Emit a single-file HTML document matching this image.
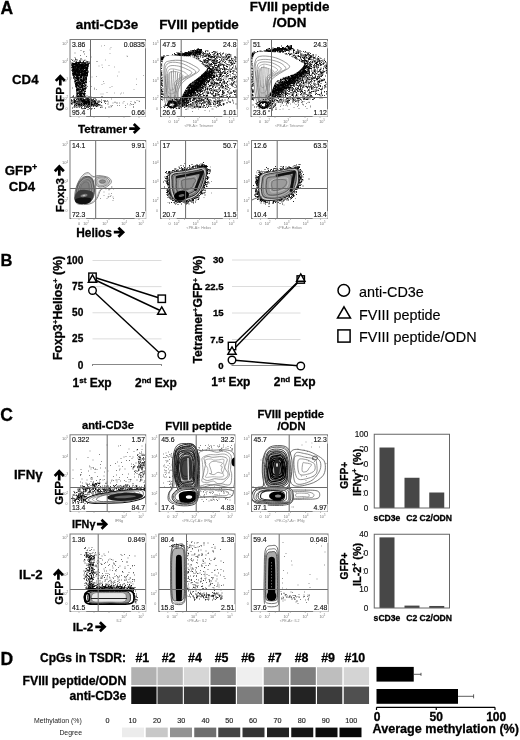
<!DOCTYPE html>
<html><head><meta charset="utf-8"><style>
html,body{margin:0;padding:0;background:#fff;}
svg{display:block;font-family:"Liberation Sans", sans-serif;filter:blur(0.35px);}
</style></head><body>
<svg width="520" height="740" viewBox="0 0 520 740">
<rect width="520" height="740" fill="#fff"/>
<text x="0.5" y="13.8" font-size="17.5" font-weight="bold" text-anchor="start" fill="#000" stroke="#000" stroke-width="0.3" >A</text>
<text x="0.5" y="265.6" font-size="16.5" font-weight="bold" text-anchor="start" fill="#000" stroke="#000" stroke-width="0.3" >B</text>
<text x="0.3" y="420.8" font-size="17.5" font-weight="bold" text-anchor="start" fill="#000" stroke="#000" stroke-width="0.3" >C</text>
<text x="0.5" y="665.4" font-size="17.5" font-weight="bold" text-anchor="start" fill="#000" stroke="#000" stroke-width="0.3" >D</text>
<text x="107" y="29.3" font-size="13.4" font-weight="bold" text-anchor="middle" fill="#000" stroke="#000" stroke-width="0.3" >anti-CD3e</text>
<text x="199" y="29.1" font-size="13.4" font-weight="bold" text-anchor="middle" fill="#000" stroke="#000" stroke-width="0.3" >FVIII peptide</text>
<text x="289.6" y="11.2" font-size="13.4" font-weight="bold" text-anchor="middle" fill="#000" stroke="#000" stroke-width="0.3" >FVIII peptide</text>
<text x="289.6" y="26.9" font-size="13.4" font-weight="bold" text-anchor="middle" fill="#000" stroke="#000" stroke-width="0.3" >/ODN</text>
<text x="25.3" y="83.9" font-size="13.2" font-weight="bold" text-anchor="middle" fill="#000" stroke="#000" stroke-width="0.3" >CD4</text>
<text x="21" y="175" font-size="13.2" font-weight="bold" text-anchor="middle" fill="#000" stroke="#000" stroke-width="0.3" >GFP<tspan font-size="9" dy="-5">+</tspan></text>
<text x="22" y="191" font-size="13.2" font-weight="bold" text-anchor="middle" fill="#000" stroke="#000" stroke-width="0.3" >CD4</text>
<text x="108" y="429.3" font-size="11.1" font-weight="bold" text-anchor="middle" fill="#000" stroke="#000" stroke-width="0.3" >anti-CD3e</text>
<text x="198.6" y="429.6" font-size="11.2" font-weight="bold" text-anchor="middle" fill="#000" stroke="#000" stroke-width="0.3" >FVIII peptide</text>
<text x="290.8" y="417.5" font-size="11.2" font-weight="bold" text-anchor="middle" fill="#000" stroke="#000" stroke-width="0.3" >FVIII peptide</text>
<text x="291.5" y="429.6" font-size="11.2" font-weight="bold" text-anchor="middle" fill="#000" stroke="#000" stroke-width="0.3" >/ODN</text>
<text x="28.2" y="478.8" font-size="13.2" font-weight="bold" text-anchor="middle" fill="#000" stroke="#000" stroke-width="0.3" >IFN&#947;</text>
<text x="30.8" y="579.2" font-size="13.2" font-weight="bold" text-anchor="middle" fill="#000" stroke="#000" stroke-width="0.3" >IL-2</text>
<defs><clipPath id="cla11"><rect x="70" y="39.5" width="75.5" height="77.0"/></clipPath><clipPath id="cla12"><rect x="160.5" y="39.5" width="76.69999999999999" height="77.0"/></clipPath><clipPath id="cla13"><rect x="251" y="39.5" width="76.5" height="77.0"/></clipPath><clipPath id="cla21"><rect x="70" y="140.5" width="75.69999999999999" height="78.0"/></clipPath><clipPath id="cla22"><rect x="160.5" y="140.5" width="76.69999999999999" height="78.0"/></clipPath><clipPath id="cla23"><rect x="251.5" y="140.5" width="76.0" height="78.0"/></clipPath><clipPath id="clc11"><rect x="70" y="434.8" width="75.69999999999999" height="76.69999999999999"/></clipPath><clipPath id="clc12"><rect x="159.2" y="434.8" width="75.70000000000002" height="76.69999999999999"/></clipPath><clipPath id="clc13"><rect x="251.5" y="434.8" width="76.0" height="76.69999999999999"/></clipPath><clipPath id="clc21"><rect x="70" y="534" width="75.69999999999999" height="77.5"/></clipPath><clipPath id="clc22"><rect x="158.8" y="534" width="76.19999999999999" height="77.5"/></clipPath><clipPath id="clc23"><rect x="251.3" y="534" width="76.69999999999999" height="77.5"/></clipPath></defs>
<g clip-path="url(#cla11)"><path d="M73.5 68.5h0m6.5 14h0m1.5 -5.5h0m0.5 -7.5h0m-4 -3.5h0m2 22h0m3 -21h0m-7 18h0m-2 -11.5h0m11 5.5h0m-2 10h0m-3 -16.5h0m5.5 -4.5h0m-4.5 4h0m-6 9.5h0m6 -9.5h0m-1.5 -5h0m-2 -2.5h0m4 9.5h0m-6 10h0m9.5 -6h0m-5.5 4h0m-3.5 -8h0m10.5 -9h0m-7.5 24h0m4 0.5h0m-8 -24h0m2.5 2.5h0m2 13h0m4 9h0m-6 -13.5h0m11 -10.5h0m-9 9h0m3.5 3.5h0m3 3.5h0m-4.5 4h0m-5 0h0m0.5 10h0m9 -27h0m-6.5 2h0m-6 -1.5h0m10.5 11h0m-9 -11.5h0m6.5 22.5h0m5 -27h0m-14.5 6h0m13 9h0m-10.5 -16h0m-1.5 3.5h0m3.5 9h0m7.5 18h0m-4 -11.5h0m-5 -8h0m2 1h0m0.5 -4.5h0m1.5 -5h0m-2 20h0m7 -19.5h0m-12 -2h0m6.5 22h0m-3 -11.5h0m10.5 13.5h0m-2 -10.5h0m-3 -6h0m1.5 9h0m1 2.5h0m1.5 -16h0m-11 0.5h0m8 28.5h0m-3 -27h0m6 -6h0m1.5 6h0m-2 4h0m-7 12h0m-2 -4h0m2 -9h0m-5 -2.5h0m14 6h0m-4 10.5h0m-8.5 -19.5h0m6 17.5h0m2 -16h0m-1 18h0m1.5 -15.5h0m-5.5 26h0m5.5 -13.5h0m-5 11h0m-0.5 -24h0m1 26h0m9 -31.5h0m-14 6h0m8 -5.5h0m6 4h0m-3.5 20.5h0m1.5 -18.5h0m-2 -9h0m-3.5 22h0m5.5 -9h0m-1.5 19h0m1.5 -31.5h0m-0.5 31.5h0m0.5 -29h0m-11 -0.5h0m4 23.5h0m2 -18h0m-3.5 16h0m5.5 5h0m-0.5 -25.5h0m-6 7.5h0m6.5 20.5h0m-4.5 -15h0m6.5 -11.5h0m-7.5 -2.5h0m8.5 1.5h0m-6.5 -0.5h0m2.5 8.5h0m2 15h0m-2.5 -11.5h0m-4.5 -12.5h0m1 12.5h0m4 7h0m4 -4h0m0 -18h0m-2.5 26.5h0m2 -1.5h0m-8 -10.5h0m6 16h0m-5 -28h0m6.5 23h0m-6 -5.5h0m8.5 -18.5h0m-3.5 32h0m1 -33.5h0m-3 5.5h0m4 12h0m-6 2h0m2 -14h0m-8.5 3.5h0m8.5 22.5h0m4.5 -21h0m-2 4.5h0m1.5 -12h0m-5 16h0m6.5 -11.5h0m-8.5 4.5h0m4 21.5h0m-3 -7h0m0 -19.5h0m7 -5.5h0m-12 9h0m8 7.5h0m-3.5 -9.5h0m2 18.5h0m-0.5 -19h0m-6 -4.5h0m6 17h0m-5.5 -14h0m-2 1.5h0m7 -8h0m-7 1h0m8 20.5h0m-2 -21h0m-3.5 0h0m8.5 17h0m-3 -1h0m4 -6h0m-5.5 14h0m-0.5 -18.5h0m5.5 2.5h0m-11 -2.5h0m1 7.5h0m3.5 3h0m2.5 8h0m-7.5 -14h0m2.5 -3.5h0m3 16h0m6 -23h0m-2 5.5h0m-10 -4.5h0m0.5 1.5h0m6.5 23h0m7.5 -10h0m-9 18h0m9 -28h0m-8 28h0m5.5 -23.5h0m-6.5 -8.5h0m-3.5 14h0m7.5 3h0m1.5 1h0m2.5 -10h0m1.5 -4.5h0m-8 6h0m8 -5.5h0m-0.5 4h0m-5 4.5h0m1.5 -10.5h0m-5 19h0m-3.5 -11h0m2 6h0m7.5 -4.5h0m-7 -10h0m6.5 22h0m-3.5 -6h0m-1 15h0m1 -20h0m-6 0.5h0m6 -7h0m-3 5.5h0m-2.5 -9.5h0m7 15.5h0m-3 -4.5h0m-5 -14h0m-1.5 6.5h0m6 6h0m3.5 5h0m-1 -15.5h0m7 8.5h0m-2.5 -9.5h0m-5.5 2.5h0m1 22h0m-2 -8h0m0 -14h0m-6.5 1h0m13 23.5h0m-9.5 -5.5h0m4 -19h0m4 30h0m-4.5 -26h0m-1.5 3.5h0m5 -4h0m-1 11h0m-1 -5h0m-2 2h0m6.5 0h0m-13 -11h0m9.5 -3h0m-3.5 3.5h0m-1 1.5h0m4 -2.5h0m-3.5 8h0m4 -1h0m-3.5 12h0m-1 7h0m1 -12.5h0m-5.5 -14h0m8.5 1.5h0m1 19.5h0m2 1.5h0m-6.5 -6.5h0m5 7.5h0m-3.5 -4h0m-4 -4.5h0m9 -12.5h0m3.5 -1.5h0m-2 5.5h0m1.5 2.5h0m-8.5 18h0m4.5 -18h0m-4 21.5h0m1 -3h0m4.5 -25.5h0m-1.5 4.5h0m-10.5 -4h0m11.5 7h0m-1 17h0m-4.5 -10h0m-2 -19h0m9 13.5h0m-10 -5h0m-3.5 -7h0m13.5 13.5h0m-9 4.5h0m5 -11.5h0m-5 22h0m1.5 1h0m0 -16.5h0m-1.5 -4h0m-0.5 -0.5h0m7 2.5h0m-6.5 15.5h0m1.5 -14h0m5.5 0.5h0m1.5 6h0m-3 6h0m-7.5 -16.5h0m10 -1.5h0m-1 1.5h0m3 7h0m-1.5 10h0m-6.5 -28.5h0m5 19.5h0m-2 -6.5h0m1.5 3.5h0m-5 1.5h0m-0.5 4h0m4 -20h0m-2 25.5h0m4 -8.5h0m4 -9.5h0m-9.5 4h0m0 13.5h0m9.5 -17h0m-9.5 9h0m7 -13h0m-12 3h0m6 2h0m1.5 -6.5h0m5 22h0m1 -11h0m-12.5 -3.5h0m8 8.5h0m0 -13h0m-8 7.5h0m11.5 4.5h0m-4.5 2h0m-0.5 9h0m-3.5 3h0m5.5 -14h0m-0.5 14.5h0m-2 -1h0m-3 -10h0m3 -18.5h0m-2 18h0m8.5 -4h0m-7 6h0m0 -15.5h0m-3.5 3h0m1 -2.5h0m9.5 7h0m-5 7h0m6.5 -15h0m-13.5 5.5h0m10 12h0m-3.5 6h0m2.5 -13h0m0.5 14.5h0m-5 -24h0m3.5 11.5h0m-10.5 -18.5h0m11 25h0m-3.5 1h0m6 -4h0m-8 2.5h0m-3.5 -20.5h0m13.5 -4.5h0m-10 14h0m4.5 18h0m-3 -18.5h0m5 17h0m1 -22.5h0m-7 -5.5h0m2.5 9.5h0m-5 4.5h0m1 -5.5h0m0.5 14.5h0m4.5 -13h0m-4.5 -4.5h0m0 16.5h0m8.5 -24h0m-13 0.5h0m10 -2.5h0m1.5 3.5h0m4 6h0m-1 -8.5h0m-11.5 14h0m5 -0.5h0m2.5 -9h0m2 28h0m-9.5 -26h0m4 23.5h0m-3 -6.5h0m5 3h0m3.5 3h0m2 -26.5h0m-10 -2h0m2 1h0m1.5 29.5h0m1 -15h0m2 -12.5h0m-0.5 -2h0m-0.5 22.5h0m0.5 0.5h0m-3 4h0m5.5 -12h0m-6.5 -1.5h0m7.5 -14.5h0m-9.5 4.5h0m5 3h0m4 10h0m-2.5 -18h0m-1.5 23h0m-9 -18h0m8 16h0m6.5 -11.5h0m-4.5 -7.5h0m-6 13h0m2 0.5h0m0.5 -7h0m0 -7h0m2.5 4h0m4.5 -2.5h0m-9 9h0m10 -8h0m-13.5 10h0m13.5 -12.5h0m-10 4.5h0m8.5 -6h0m-10.5 17.5h0m-1 -9.5h0m9.5 23.5h0m0.5 -21h0m2.5 -8h0m1.5 -2.5h0m-7.5 7h0m-7 6h0m4 1h0m-1 -7h0m3 22.5h0m1.5 -8h0m2.5 -15.5h0m1.5 -3h0m2 0h0m-5 17.5h0m1.5 -2.5h0m-2.5 -12.5h0m-9 -4.5h0m12 13.5h0m0.5 15h0m-5.5 -10.5h0m1.5 2h0m-2 -15h0m-3 13h0m0.5 -0.5h0m1 13h0m6 -14h0m-9 -8.5h0m4.5 3.5h0m3 4.5h0m-7 -2h0m0 -15.5h0m0 5h0m4.5 -2h0m3 25h0m-5 -4h0m-4.5 -16h0m3 -4h0m3.5 -4h0m4 5.5h0m-8.5 -3h0m-3 1h0m7 -3.5h0m-1.5 13h0m5.5 -8.5h0m-7 -4.5h0m7 5h0m-2 20.5h0m-0.5 -9h0m6.5 -14.5h0m-12 9h0m6 2h0m0 11.5h0m0.5 -7.5h0m3 -10.5h0m-1 10.5h0m-2 -9h0m-5 12.5h0m1 -2h0m8.5 -12.5h0m-2.5 15.5h0m1 6.5h0m-8 -13.5h0m2 -11.5h0m3 13.5h0m4.5 5.5h0m-1.5 -20.5h0m-8.5 9.5h0m7.5 18.5h0m-10 -22.5h0m7 -9h0m-7 11.5h0m7 14h0m0 0h0m-3 4.5h0m0 -22.5h0m6 13.5h0m-4 -18.5h0m-1 5.5h0m-5 -6.5h0m3 21h0m1.5 -1h0m8.5 -10h0m-11.5 8.5h0m8.5 -13h0m-7 18h0m11 -22.5h0m-10 10.5h0m6.5 -6.5h0m-0.5 9h0m-8.5 -8h0m11 -5.5h0m-9 14h0m-3.5 -2h0m5.5 -13.5h0m3.5 22h0m-6.5 -21h0m10 15.5h0m-10 -16.5h0m0 16.5h0m-2 -14.5h0m5 25.5h0m-1.5 -18.5h0m0.5 7h0m8 9h0m-4.5 2.5h0m0.5 -14.5h0m-4 -11.5h0m2 7h0m4 -7.5h0m-2 29.5h0m-3 -28h0m-3 -1.5h0m8.5 19h0m0.5 -11.5h0m-9.5 0.5h0m3.5 17.5h0m-3.5 -18.5h0m10 4.5h0m-5 14.5h0m-5.5 -16.5h0m3 -9h0m5 22.5h0m1 -20h0m-7.5 17.5h0m8 -9h0m-4 5h0m4.5 10h0m-4 6h0m-7.5 -22h0m13.5 -9h0m-3 10h0m-3 8.5h0m-4 -12.5h0m4.5 -3.5h0m-3.5 2h0m-5.5 -3h0m2 6h0m1 -1h0m7 -5.5h0m-1 26h0m0 -19.5h0m4 9.5h0m-12.5 -6.5h0m5 -11h0m-5 -1h0m5.5 23h0m-5 -18h0m4.5 5.5h0m6.5 6h0m-8 -10.5h0m7.5 13h0m-7.5 -14h0m3 26.5h0m-0.5 1.5h0m2.5 0h0m4 -32h0m-0.5 6h0m-4 13.5h0m0.5 9.5h0m-5.5 -8h0m5 -17h0m-0.5 8.5h0m6.5 -4.5h0m-5.5 6.5h0m-6 -12h0m7.5 14.5h0m-1.5 -1.5h0m-1.5 -4.5h0m2 16.5h0m-1 -17.5h0m-4 16h0m5.5 -26h0m-3 1.5h0m-0.5 26h0m2 -22.5h0m2 5.5h0m-9.5 -8.5h0m8 27h0m-6 -22h0m3.5 6.5h0m0 7.5h0m8.5 -21.5h0m-12 16.5h0m6.5 -15.5h0m-6.5 5.5h0m6 20.5h0m-4 -7h0m-0.5 6.5h0m2.5 -4.5h0m2 -0.5h0m0 -14.5h0m1.5 16h0m-7 -20.5h0m0 7.5h0m1 -6.5h0m5 19h0m-3.5 -14.5h0m-1.5 -9h0m4.5 32h0m-1 1h0m2.5 -6h0m-1 5h0m-4.5 -5h0m-4.5 -24h0m10 7.5h0m-4 10.5h0m3 -10.5h0m-4 19.5h0m-4.5 -29h0m7.5 2.5h0m5 7.5h0m-1 17.5h0m-7 -29h0m2.5 29h0m0 5h0m7.5 -32.5h0m-11.5 21.5h0m2 -19h0m6.5 25h0m-1 -25.5h0m-5.5 9.5h0m4 0h0m-4 -8.5h0m-5 8.5h0m8.5 6.5h0m-3 -3.5h0m-2.5 2h0m4 11.5h0m-5 -26h0m2.5 22h0m1.5 6.5h0m-3.5 -18.5h0m4.5 19h0m5.5 -16.5h0m-3 1.5h0m4 -3.5h0m-2.5 10h0m-1.5 -5.5h0m-4 12h0m5 -29h0m-1.5 3.5h0m-5.5 11h0m-2 4.5h0m12.5 -15h0m-10.5 22h0m6 -19h0m-7.5 -6.5h0m9.5 20.5h0m-6 12h0m5.5 -8.5h0m2.5 -17.5h0m-10.5 -8h0m10 14.5h0m-10.5 -3.5h0m1 6.5h0m-3 -17h0m7 1h0m0 18.5h0m-6.5 -15h0m9.5 0.5h0m-10.5 1.5h0m8 9.5h0m3.5 -15.5h0m-0.5 31.5h0m-0.5 -2.5h0m-1 -20.5h0m-2.5 -10h0m-3 17h0m-3 -11.5h0m11.5 7.5h0m-7.5 0.5h0m4 -3h0m-5 3h0m-4.5 -10h0m4.5 16.5h0m6.5 11h0m-6.5 -23.5h0m5.5 10h0m-9.5 -4.5h0m4.5 10.5h0m0.5 -13h0m1.5 -2h0m3.5 20h0m2 -5.5h0m-5.5 -21.5h0m-2.5 13.5h0m3.5 6.5h0m-8 -17.5h0m11 31h0m-5.5 -11h0m0 -4h0m1.5 12h0m5.5 -19.5h0m-1 19.5h0m-10 -14.5h0m2 9.5h0m7.5 -18h0m-5.5 7.5h0m-2.5 2.5h0m1.5 -3.5h0m3.5 15h0m6.5 -27h0m-12.5 3.5h0m12 -1.5h0m-0.5 0.5h0m-2.5 14.5h0m-1 -17.5h0m0 20.5h0m-2 7h0m0.5 2h0m-6.5 -31h0m6 6.5h0m2 7h0m-3 -15h0m3 23.5h0m-3.5 -8h0m5.5 -1h0m-1 -9.5h0m-11 -3h0m11.5 29h0m-8 -10.5h0m-3.5 -8.5h0m4 -8.5h0m3.5 10h0m-3.5 -11.5h0m7.5 29h0m-6.5 -21.5h0m5 -2h0m-5.5 26.5h0m8.5 -22.5h0m-3.5 13h0m0.5 -6h0m-10 -6.5h0m11.5 9h0m-0.5 -3.5h0m2 -0.5h0m-1.5 13.5h0m-5.5 -17.5h0m6.5 -9.5h0m-13 -2.5h0m9 32.5h0m-1 -17h0m5 -8h0m-10 -8h0m4 29h0m-3 -25h0m2 22.5h0m3.5 -24.5h0m1 20h0m-4.5 -18h0m0 23h0m1 2h0m2 -15.5h0m-3.5 -5.5h0m2 10.5h0m2.5 5.5h0m-1.5 -9h0m-3 5.5h0m9 -10.5h0m-11 -2.5h0m-2 2h0m4 17.5h0m-0.5 6.5h0m0 -23h0m8.5 11.5h0m-9.5 -2.5h0m2.5 10.5h0m-1.5 3.5h0m7 -19.5h0m-4.5 15h0m-4 -21.5h0m1.5 23h0m4 -27h0m-6 -2.5h0m0.5 -1h0m-1.5 1.5h0m1.5 1h0m10 5h0m-1 1.5h0m-7.5 18.5h0m6.5 -25h0m2 3.5h0m-5 17.5h0m3 -3h0m-8.5 -5.5h0m9.5 -1h0m0.5 11.5h0m-7 -9h0m3.5 -14h0m0.5 3h0m-2 14h0m-1.5 -18.5h0m-1 29.5h0m9.5 -25h0m-11.5 18.5h0m2 -9h0m-1.5 13h0m5 -22.5h0m0.5 4.5h0m0 23.5h0m0.5 -15.5h0m-0.5 -1.5h0m0.5 2h0m-1 6h0m-3 -3.5h0m-3 0.5h0m11 -2h0m-10.5 -12h0m9 -1.5h0m-0.5 2h0m1.5 3h0m-3 6.5h0m-4.5 10.5h0m1 -16.5h0m1.5 9h0m0.5 -6h0m3 7.5h0m-4.5 -18.5h0m2.5 19h0m-2.5 -1.5h0m3.5 -4.5h0m-9.5 -4h0m2.5 0.5h0m8 -7.5h0m1 2h0m-8.5 23.5h0m6 -26.5h0m1.5 5.5h0m-5 -4.5h0m3 15.5h0m4.5 -11.5h0m-0.5 1h0m-13 -9h0m10 25h0m1 5.5h0m2.5 -28h0m-8.5 12.5h0m1 13.5h0m-1.5 -18.5h0m0 -10.5h0m7 25h0m-2.5 -2h0m0.5 -11h0m-0.5 21h0m-4.5 -14h0m8 -18h0m-3.5 31h0m2.5 1h0m-3 -29h0m3 21.5h0m-1.5 -13.5h0m2.5 7h0m2 -16.5h0m-4 8h0m1.5 -0.5h0m1.5 -11h0m-11.5 9h0m1 3.5h0m-2.5 -0.5h0m8.5 15h0m2.5 6h0m-1 -16.5h0m-1 4h0m-4.5 -3.5h0m3.5 -16.5h0m4 2.5h0m-2.5 24.5h0m3 -21.5h0m-4.5 13h0m-1 -18h0m0.5 21h0m-5 -15h0m10 1h0m-11 6.5h0m-1.5 -9.5h0m3 20.5h0m0.5 -23h0m9 14h0m-4 6h0m-4.5 -4h0m-5 -15h0m10.5 24h0m-3.5 4h0m-4.5 -10.5h0m1 -1h0m7.5 -7h0m4 -8h0m-12 15.5h0m4.5 10h0m-3.5 -30.5h0" stroke="#000" stroke-width="1.0" stroke-linecap="square" opacity="0.9" fill="none"/><path d="M77 76h0m3 -7h0m1.5 6h0m-5.5 -2h0m6 -6.5h0m-8 3h0m7 -2.5h0m-7.5 8h0m5 -8h0m5.5 7.5h0m-8.5 -7h0m-1 7h0m4.5 -1.5h0m-6 -6h0m6 5.5h0m-2.5 -1h0m9 -3.5h0m1 8h0m-2 -0.5h0m-1.5 -3.5h0m-1.5 3h0m-8.5 -7h0m9.5 -2h0m-4 2h0m-2 3h0m5 4h0m-5.5 -1h0m6 0h0m2.5 0.5h0m-10.5 -3.5h0m-1.5 -1h0m2.5 -0.5h0m0 -3h0m6 0.5h0m2 3h0m4 0h0m-13.5 0.5h0m6.5 -1h0m3 4.5h0m-4 -8h0m-6 0h0m0.5 9h0m4 -3.5h0m-3 -2h0m13 -0.5h0m-5 -1h0m-9 2.5h0m9.5 3.5h0m-2.5 -9.5h0m5 11h0m-10.5 -9h0m2.5 3.5h0m2.5 4h0m0.5 -8.5h0m-6 6.5h0m11 -0.5h0m-11 -1h0m5 3.5h0m2 -8.5h0m-2.5 1h0m-1.5 8.5h0m6.5 0.5h0m-3.5 -10h0m3 6.5h0m1 -7h0m2.5 10h0m-7 0.5h0m-1 -3h0m8 -2.5h0m-0.5 0.5h0m-11 3.5h0m11.5 0h0m-4.5 0.5h0m-2 -0.5h0m-6.5 -7.5h0m0.5 0h0m12 6h0m-9.5 -2h0m3 5h0m-1 -11h0m-0.5 4.5h0m0.5 5.5h0m-2.5 -5h0m10.5 -4h0m-6.5 2.5h0m-3.5 7.5h0m-1.5 -2h0m9.5 0.5h0m0 -7h0m0.5 6.5h0m-3.5 -9.5h0m-4.5 2.5h0m-2 5h0m2.5 0.5h0m-4.5 -2.5h0m3 6h0m1 -7h0m-3.5 -1h0m0.5 -1h0m-0.5 6.5h0m4.5 1h0m9 0h0m0.5 -2.5h0m-14.5 -7h0m8.5 4.5h0m1 -1.5h0m-0.5 -3h0m-2 8h0m-4 -5.5h0m3 4h0m3.5 -4h0m2 0.5h0m-11.5 -0.5h0m1.5 4h0m12 -0.5h0m-8 5h0m7 -4.5h0m-4.5 0.5h0m-5 3h0m7 0h0m-5.5 -4h0m-3.5 1h0m10 -3h0m-9.5 1.5h0m12.5 0h0m-12 0.5h0m2 -3.5h0m7.5 4h0m1 -3.5h0m-7.5 0h0m3.5 0h0m5.5 6h0m-10.5 -8.5h0m-0.5 11h0m-3 -10h0m10 5.5h0m0 -4.5h0m-9.5 5h0m10 2.5h0m-7 -5.5h0m3.5 0.5h0m1 6.5h0m0 -5h0m-0.5 -2.5h0m-2.5 -1.5h0m5 7h0m-8 -1.5h0m11 -5h0m-8 2.5h0m6.5 -4.5h0m-3 8h0m-2.5 1.5h0m0.5 -2.5h0m0.5 0h0m-1.5 -7h0m2.5 9.5h0m-1.5 -4h0m6 4h0m-9.5 -2h0m8 1.5h0m-5.5 -1h0m7 -0.5h0m-0.5 -2h0m-12.5 -3.5h0m14.5 -0.5h0m-2 8h0m-2.5 -1.5h0m-8 -6.5h0m10.5 -1.5h0m-3.5 9h0m-6 -10.5h0m6.5 7.5h0m-8.5 1h0m9.5 -3.5h0m-8.5 6h0m2 -3h0m1 0.5h0m4 -2h0m1 -5.5h0m-4 9.5h0m-2.5 -9h0m-3 2h0m4.5 4.5h0m7 0h0m2.5 3h0m-0.5 0.5h0m-13.5 -0.5h0m0.5 -1.5h0m4 -5h0m3 4h0m-8 -6.5h0m0.5 2h0m12 8h0m-6.5 -1h0m6 -9h0m-1.5 5h0m1 -5h0m-5.5 6.5h0m8.5 2.5h0m-13.5 -6h0m2.5 -5h0m6 4h0m-6.5 -3h0m10 4.5h0m-0.5 4h0m-0.5 2.5h0m1.5 -8.5h0m-4 -1.5h0m-7.5 -1.5h0m2.5 3h0m1 -1h0m4 8h0m1 -7h0m0.5 -1.5h0m-7.5 0h0m10.5 6.5h0m-6 -3.5h0m-5.5 -0.5h0m12 4h0m-4.5 -1h0" stroke="#000" stroke-width="1.0" stroke-linecap="square" opacity="0.9" fill="none"/><path d="M72.5 63h0m2.5 -2.5h0m9.5 4.5h0m-1.5 0.5h0m1.5 -5h0m1 2.5h0m-3.5 3h0m0 0h0m-1.5 -4h0m-4 0.5h0m-5 0.5h0m8 -1h0m-10.5 -3.5h0m14.5 2.5h0m3.5 0.5h0m-5 -1.5h0m-5 2.5h0m6 4h0m2 -6.5h0m-5 2.5h0m-3 1.5h0m11 -2h0m-2.5 4h0m-11 0.5h0m14 -3h0m0 0h0m-2.5 1h0m-10.5 -1h0m3.5 -1.5h0m-5 -0.5h0m0 4h0m-4 -2.5h0m7 -2.5h0m6.5 1h0m2.5 1h0m-4.5 0h0m2 2.5h0m-5.5 -2h0m11 -1h0m0 0h0m-12 -2.5h0m-1 0h0m1 5h0m2.5 -2.5h0m-4.5 -0.5h0m-2.5 -1h0m17 3h0m-14 1h0m12 -3h0m-8 -1h0m-7.5 5.5h0m25 -4.5h0m-25 4.5h0m13.5 -2h0m2 -1.5h0m-6 2h0m-3 -0.5h0m0.5 0h0m2 -5h0m-0.5 1h0m-5 -0.5h0m8.5 3h0m-6 3h0m5.5 -3h0m-14 2h0m9 -2h0m5 -1h0m-4 3.5h0m3.5 -3h0m4.5 3.5h0m2 -2.5h0m-8.5 2h0m1 -1.5h0m-2.5 -1h0m-3 -1h0m5.5 1h0m-9 0.5h0m15.5 2.5h0m-18.5 -4h0m14 1.5h0m-3.5 -0.5h0m0 -1.5h0m5.5 0h0m-6.5 5h0m6 -3h0m-5.5 -1h0m-2.5 0.5h0m9 -0.5h0m-3.5 2h0m-1 -1.5h0" stroke="#000" stroke-width="1.0" stroke-linecap="square" opacity="0.6" fill="none"/><path d="M84 75h0m-2.5 -0.5h0m-0.5 6h0m-3 8.5h0m-8 -9.5h0m14 -13h0m0.5 20h0m-6.5 6h0m1.5 -5.5h0m2.5 -20h0m-6 7h0m8 7.5h0m0 -0.5h0m1 -12.5h0m0 6h0m-14 3.5h0m12 3h0m-4.5 14.5h0m7.5 -8h0m0 -5.5h0m-1.5 -15.5h0m-4.5 0.5h0m14.5 22h0m-14 -6h0m-5 3.5h0m10 -16.5h0m-12 25.5h0m16.5 -14h0m-4.5 1.5h0m2 3.5h0m-1.5 -1.5h0m-3.5 4.5h0m-8.5 -17h0m3.5 -4.5h0m6 10.5h0m-4 11h0m3 -1h0m-5 -11h0m-0.5 11h0m5 1h0m2.5 0.5h0m-4 5h0m-4.5 -15h0m-3.5 8h0m18 5.5h0m-15.5 -19h0m1.5 21h0m0.5 -19.5h0m8 10h0m-8 -16h0" stroke="#000" stroke-width="1.0" stroke-linecap="square" opacity="0.5" fill="none"/><path d="M75 53h0m-2 7h0m11.5 -6h0m-13 5.5h0m9.5 -1h0m5.5 -2h0m-10 5.5h0m-1.5 -4.5h0m16 -0.5h0m-15.5 1.5h0m8 -6.5h0m-3 3.5h0m9.5 -5.5h0m-6 1.5h0m-3 -1h0" stroke="#000" stroke-width="1.0" stroke-linecap="square" opacity="0.5" fill="none"/><path d="M88 101h0m-1 2.5h0m-10.5 -4.5h0m1.5 3.5h0m-3 1.5h0m13.5 0h0m-15.5 -7.5h0m14 10h0m-7 -2.5h0m0.5 -3h0m7 0h0m-1 6h0m-5 0.5h0m-6.5 -2.5h0m7 4h0m0.5 -8.5h0m8.5 -2h0m-6.5 2h0m5 2h0m-2.5 0h0m-11 -5.5h0m16 6h0m-16 -1.5h0m11.5 -3h0m7 3.5h0m-14.5 4h0m3 -6h0m4 3.5h0m1 -3.5h0m-12 4h0m3.5 -7h0m-0.5 7h0m-1 2h0m1.5 -3.5h0m-6.5 -2h0m8 3.5h0m2 1.5h0m-2 -5.5h0m1 0.5h0m2.5 1h0m0.5 -1.5h0m4 3.5h0m3 -1.5h0m-13 1h0m0.5 -3h0m2.5 2.5h0m-3.5 -1h0m-2 1.5h0m-2 4h0m7.5 -2h0m-6.5 -1.5h0m6 1.5h0m5.5 -7h0m1.5 0.5h0m1 4h0m-14 2h0m6.5 -4.5h0m-4 3.5h0m-3.5 -3h0m17.5 0h0m-8 3h0m3.5 1.5h0m1 -4.5h0m3.5 2.5h0m-16.5 1h0m17.5 -3h0m-8 -1h0m-6 3h0m6 0.5h0m-2 5.5h0m-7 -11.5h0m9 5.5h0m-11 4h0m4 -8h0m6.5 5h0m10.5 -5.5h0m-20 3.5h0m4.5 0.5h0m-1.5 -4h0m1.5 6h0m7 -3.5h0m-1.5 2.5h0m-5.5 -2h0m3 8.5h0m0.5 -10h0m-2 1h0m7.5 -4h0m-12.5 7.5h0m8.5 -2h0m1.5 -3.5h0m-2 0.5h0m-9 4.5h0m2.5 -2.5h0m8 -1.5h0m0 8.5h0m-4.5 -3.5h0m5.5 -6h0m-12 3.5h0m9 1.5h0m1 2h0m-4.5 0h0m5 -2h0m-4 1h0m-3 -0.5h0m10.5 -3.5h0m-11.5 -0.5h0m5 3h0m5 4h0m4 -4h0m-11 -4h0m6.5 4.5h0m-6 -2h0m1 -6h0m0.5 7.5h0m-0.5 -3.5h0m1 4h0m9.5 1.5h0m-6.5 -3h0m-11 -1h0m0 1h0m13.5 3h0m-1 -3h0m0.5 -0.5h0m-16.5 1h0m11.5 -5h0m-3.5 -2h0m0.5 9.5h0m-1 0.5h0m5 -5.5h0m-11.5 4h0m14 -6h0m-6 7h0m-2 -2h0m-6.5 -3.5h0m14.5 -0.5h0m-12 -0.5h0m6 -0.5h0m1.5 5.5h0m9 -2.5h0m0.5 2.5h0m-10 0h0m9.5 2.5h0m-4 -4h0m0.5 0.5h0m-4 0h0m9 -3.5h0m-10.5 0h0m5.5 6h0m2.5 -4h0m-7 3h0m0.5 -1h0m0 0h0m-1.5 0h0m-7.5 -2h0m1 1h0m3 1.5h0m11 -4.5h0m-11 4h0m12 1h0m-5.5 -2h0m-5 1h0m5.5 -0.5h0m-6 -4.5h0m-1.5 3h0m-2 2h0m-1.5 -1.5h0m10 2.5h0m-0.5 1h0m-4.5 -5h0m9 0h0m-6.5 -2.5h0m7 6.5h0m-10.5 -6.5h0m5.5 5.5h0m5 4h0m-5 -5.5h0m-2.5 0h0m-6.5 -2h0m7 -2h0m-6.5 8h0m3.5 -1.5h0m9.5 -2h0m-1.5 -0.5h0m-9 0.5h0m5 0.5h0m0 -1.5h0m5.5 0.5h0m-8 3h0m-3.5 -2.5h0m14 0h0m-0.5 -0.5h0m-10.5 0h0m-0.5 -0.5h0m1 3h0m4.5 -2.5h0m-6.5 9h0m3 -4.5h0m-5.5 -6h0m13.5 -1h0m-12.5 3h0m1.5 -0.5h0m5 3h0m0 -1.5h0m6.5 3h0m-9 -8.5h0m-4 7.5h0m3 -4.5h0m0 6h0m3 -5.5h0m-4 -2h0m19.5 3h0m-15 -0.5h0m5 -2h0m-16.5 1h0m12.5 7.5h0m-2 -8h0m-1 0h0m-3 2.5h0m6 -2h0m4.5 1.5h0m-5.5 -1h0m1.5 2h0m1.5 -3h0m0 0.5h0m-3 3.5h0m7.5 -3h0m-14.5 1.5h0m13 -1h0m6.5 -4.5h0m-5 8h0m-2 -5h0m1.5 5h0m-1 -3.5h0m-8 4h0m3 -4.5h0m-6.5 2h0m-2.5 0.5h0m8 -5.5h0m2 7.5h0m-1.5 -7h0m-4.5 6h0m-4 -3.5h0m13.5 0.5h0m-9.5 3h0m12 -1.5h0m-16 -5h0m6 -0.5h0m1 7h0m2 -4h0m0.5 3h0m3.5 5.5h0m-4 -9h0m-7.5 -1h0m9.5 4h0m-1 -0.5h0m6 2.5h0m-3 -4.5h0m-7.5 -2h0m-2 4h0m-3 -2h0m18 1h0m-19.5 -2.5h0m8 5.5h0m0 0h0m2 -5.5h0m4 2h0m4.5 -0.5h0m-11 0h0m-0.5 3h0m0 1.5h0m3.5 1.5h0m-2 -1h0m6.5 -3.5h0m7.5 4h0m-11 -4.5h0m-3.5 0h0m2 -2.5h0m-1.5 1.5h0m9 3.5h0m0 4.5h0m-6.5 -1h0m-0.5 -3.5h0m-7.5 -1.5h0m13.5 1h0m-10 -1.5h0m-2 -1.5h0m-4 4.5h0m14 -3h0m-13.5 -0.5h0m18.5 -3h0m-14 2.5h0m7.5 -2h0m-3 1h0m-3.5 -1h0m5 2h0m-6.5 4h0m5.5 3.5h0m0.5 -6h0m-2 7h0m6.5 -8h0m-5.5 -0.5h0m2 0h0m-6.5 2.5h0m10.5 1h0m-3.5 -2h0m-5 1h0m10.5 0.5h0m-19 -1.5h0m8 1.5h0m1 -7h0m-4.5 4.5h0m3.5 3.5h0m0.5 -4.5h0m0 1.5h0m6 -2.5h0m-1 3h0m9.5 -3.5h0m-18 2h0m7 0h0m1.5 0h0m3 2.5h0m-16.5 -1.5h0m3 0h0m6 6h0m-1 -10h0m2 1h0m9.5 5h0m-1.5 -3h0m-14.5 2h0m-2 -3.5h0m3.5 2h0m-4.5 -5h0m16.5 4h0m-9 3h0m3.5 -3h0m-5 6h0m9.5 -2.5h0m2.5 -7h0m-8.5 4.5h0m-11.5 1.5h0m14.5 0h0m-14 -1.5h0m11.5 0h0m0.5 2h0m6.5 -0.5h0m6.5 -0.5h0m-13 1.5h0m-2 -2.5h0m7.5 -5h0m-17 11h0m14 -4h0m-2.5 -0.5h0m-7 -1.5h0m-0.5 3.5h0m9.5 -2h0m-1.5 -1h0m-8.5 4.5h0m10 -5h0m-0.5 4h0m3.5 -1.5h0m-2 -2.5h0m3 3h0m-2 -5.5h0m-2 5h0m1 -8.5h0m-15 7.5h0m5 0h0m5 1.5h0m-3 -5h0m6.5 2h0m-10 -4.5h0m24.5 4h0m-19 -4h0m-4.5 4.5h0m7.5 2.5h0m-6 -0.5h0m10.5 -2.5h0m-6.5 -3.5h0m-4.5 1h0m8.5 3h0m5 1h0m-4 1h0m-3.5 -4h0m8 2.5h0m-19.5 -1.5h0m4 5h0m12 0.5h0m6.5 -5.5h0m-23 -1h0m13 -4.5h0m-5.5 9.5h0m-1.5 -2.5h0m-0.5 5h0" stroke="#000" stroke-width="1.0" stroke-linecap="square" opacity="0.85" fill="none"/><path d="M104.5 101h0m-14.5 2.5h0m8 0.5h0m-0.5 1.5h0m3 2h0m-5 -5.5h0m-1 6.5h0m4.5 -3.5h0m3 1h0m5 -4.5h0m-11 3.5h0m3 -2.5h0m-12.5 0h0m4.5 0.5h0m9.5 2h0m-11.5 -3.5h0m6.5 4.5h0m-1 -2h0m-7.5 -2h0m3.5 1.5h0m2.5 -2.5h0m-4 2.5h0m2 2.5h0m4 -3.5h0m4 -2h0m0 1h0m-1 0h0m-8.5 -2.5h0m5 5h0m-7.5 3h0m7 -6.5h0m10.5 1.5h0m-2.5 -5.5h0m3.5 7h0m-11.5 0.5h0m-6 1h0m8.5 -1h0m-5.5 -3.5h0m5 4.5h0m-1 -2.5h0m-3.5 2h0m10 -2h0m-12 6h0m-3.5 -5h0m7.5 2.5h0m0 -6.5h0m-5 4h0m5.5 -2h0m-3 -2h0m-4.5 2h0m4 1h0m-2.5 4h0m-3 -1.5h0m12 1.5h0m4.5 -6.5h0m-5.5 5h0m3 -0.5h0m-7.5 1.5h0m2 -4h0m2 0h0m-4.5 1.5h0m17 0.5h0m-13 -2h0m1 -1.5h0m1 3.5h0m-2 0h0m-1.5 0.5h0m3.5 0h0m-2.5 0.5h0m-1 1h0m0.5 0h0m1.5 -3h0m-6.5 1.5h0m7 -1h0m0.5 0h0m-7 -3h0m8 3h0m4.5 4h0m-3.5 -3h0m-1 -1h0m-6.5 -6.5h0m7.5 7.5h0m-4 -1h0m5 1.5h0m-4 -2.5h0m2 2.5h0m8 -4h0m-8.5 0h0m-5 7.5h0m0.5 -5.5h0m-1 2h0m0.5 -5.5h0m3 5.5h0m-1 -1.5h0m-3 -2.5h0m3.5 -0.5h0m-2.5 0.5h0m1 4h0m1 0.5h0m2 -2.5h0m-6.5 0.5h0m-1 1.5h0m-1 -5h0m2.5 -0.5h0m5 2h0m-3 3h0m-9 -2h0m13 3h0m-1 -4h0m4 3.5h0m6.5 3h0m-12.5 -2h0m2.5 -5h0m2.5 5h0m-16 0h0m8 0.5h0m5.5 -3h0m6 -1h0m3.5 -1.5h0m-14 -0.5h0" stroke="#000" stroke-width="1.0" stroke-linecap="square" opacity="0.7" fill="none"/><path d="M108.5 107h0m6.5 -5h0m2 0.5h0m2.5 3h0m15 -3.5h0m-15 1h0m-8 -4h0m14 6.5h0m6 -1h0m-7.5 -3h0m13 -1h0m2 0.5h0m-9 4h0m5.5 -2.5h0m-32 -2h0m19.5 2.5h0m-22 3h0m10 1h0m14.5 0.5h0m2 -3.5h0m5.5 0.5h0m0.5 0h0m-22.5 1h0m6.5 0h0m13.5 -4h0m-22.5 0.5h0m26.5 1h0m-33.5 2.5h0m13.5 -3h0m-13.5 -0.5h0m10 4.5h0m22 1h0m6 -6h0m-22.5 2h0m-7.5 3.5h0m3.5 -4h0m20.5 3.5h0m-26 -6h0m23 3h0m-18 2h0" stroke="#444" stroke-width="1.0" stroke-linecap="square" opacity="0.55" fill="none"/><path d="M136.5 79h0m-19 -3h0m-7.5 -22.5h0m-7.5 14h0m19 25.5h0m-20.5 1h0m9 -45h0m-15.5 39h0m32.5 -32h0m-3.5 37h0m4 -36.5h0m9 28h0m-16 9.5h0m-9.5 -46.5h0m-6.5 -2h0m14.5 26.5h0m-4.5 -5h0m0 26h0m-9 -33h0m-4 -14h0m32.5 43.5h0m9.5 -14h0" stroke="#666" stroke-width="1.0" stroke-linecap="square" opacity="0.5" fill="none"/><path d="M102 84.5h0m2 -1h0m6 4h0m-13.5 -11h0m0 13h0m15.5 -3h0m-10 -21.5h0m-10.5 21.5h0m15.5 6h0m-4 1.5h0m-11 -17h0m7 -11h0m4.5 15.5h0m5.5 -16h0" stroke="#555" stroke-width="1.0" stroke-linecap="square" opacity="0.5" fill="none"/><ellipse cx="79" cy="104.5" rx="4" ry="2.6" fill="none" stroke="#999" stroke-width="0.8" opacity="1" transform="rotate(0 79 104.5)"/><ellipse cx="79" cy="104.5" rx="2" ry="1.4" fill="none" stroke="#777" stroke-width="0.7" opacity="1" transform="rotate(0 79 104.5)"/></g>
<line x1="90.5" y1="39.5" x2="90.5" y2="116.5" stroke="#6a6a6a" stroke-width="1" />
<line x1="70" y1="97.5" x2="145.5" y2="97.5" stroke="#6a6a6a" stroke-width="1" />
<rect x="70" y="39.5" width="75.5" height="77.0" fill="none" stroke="#7a7a7a" stroke-width="1" />
<rect x="71.2" y="40.9" width="15.0" height="7.4" fill="#fff" stroke="none" stroke-width="1" />
<text x="72.0" y="47.1" font-size="7.5" font-weight="normal" text-anchor="start" fill="#111" stroke="#111" stroke-width="0.15" textLength="13.4" lengthAdjust="spacingAndGlyphs">3.86</text>
<rect x="122.9" y="40.9" width="22.7" height="7.4" fill="#fff" stroke="none" stroke-width="1" />
<text x="144.8" y="47.1" font-size="7.5" font-weight="normal" text-anchor="end" fill="#111" stroke="#111" stroke-width="0.15" textLength="21.1" lengthAdjust="spacingAndGlyphs">0.0835</text>
<rect x="71.2" y="109.2" width="15.0" height="7.4" fill="#fff" stroke="none" stroke-width="1" />
<text x="72.0" y="115.4" font-size="7.5" font-weight="normal" text-anchor="start" fill="#111" stroke="#111" stroke-width="0.15" textLength="13.4" lengthAdjust="spacingAndGlyphs">95.4</text>
<rect x="130.6" y="109.2" width="15.0" height="7.4" fill="#fff" stroke="none" stroke-width="1" />
<text x="144.8" y="115.4" font-size="7.5" font-weight="normal" text-anchor="end" fill="#111" stroke="#111" stroke-width="0.15" textLength="13.4" lengthAdjust="spacingAndGlyphs">0.66</text>
<text x="68" y="44.5" font-size="4.0" font-weight="normal" text-anchor="end" fill="#777" >10<tspan font-size="2.8" dy="-1.6">5</tspan></text>
<text x="68" y="63.029411764705884" font-size="4.0" font-weight="normal" text-anchor="end" fill="#777" >10<tspan font-size="2.8" dy="-1.6">4</tspan></text>
<text x="68" y="81.55882352941177" font-size="4.0" font-weight="normal" text-anchor="end" fill="#777" >10<tspan font-size="2.8" dy="-1.6">3</tspan></text>
<text x="68" y="100.08823529411765" font-size="4.0" font-weight="normal" text-anchor="end" fill="#777" >10<tspan font-size="2.8" dy="-1.6">2</tspan></text>
<text x="67.5" y="109.5" font-size="3.6" font-weight="normal" text-anchor="end" fill="#888" >0</text>
<line x1="79" y1="116.5" x2="79" y2="118.0" stroke="#999" stroke-width="0.6" />
<line x1="94" y1="116.5" x2="94" y2="118.0" stroke="#999" stroke-width="0.6" />
<line x1="109" y1="116.5" x2="109" y2="118.0" stroke="#999" stroke-width="0.6" />
<line x1="124" y1="116.5" x2="124" y2="118.0" stroke="#999" stroke-width="0.6" />
<line x1="139" y1="116.5" x2="139" y2="118.0" stroke="#999" stroke-width="0.6" />
<g clip-path="url(#cla12)"><path d="M205 85h0m9 -21.5h0m4 -1h0m3 -7.5h0m-21 35h0m14.5 -14.5h0m-23.5 16h0m0.5 -25h0m15.5 2h0m2.5 -15.5h0m-8 52h0m20 -25h0m-48.5 -16h0m20.5 26.5h0m21 -8.5h0m-41.5 -19h0m20 14h0m16 -12.5h0m-32 23h0m33 -2h0m23.5 5h0m-2 -26h0m-29 16.5h0m20.5 -23h0m-42.5 32.5h0m-2 5h0m-0.5 -8.5h0m59 10h0m-29.5 -34.5h0m6 15h0m-29.5 -21.5h0m-13.5 26h0m9.5 -0.5h0m5.5 -3.5h0m-1 4.5h0m20.5 1h0m-17.5 -6h0m-0.5 -12h0m-1.5 25.5h0m-6 9h0m39 -20.5h0m-16.5 -5.5h0m7.5 -6h0m-13.5 31.5h0m4 -45h0m-10.5 37h0m9.5 2h0m6.5 -42h0m-29.5 20h0m13.5 24.5h0m-4 1h0m-9.5 -17h0m12.5 -8.5h0m13 2h0m-13 27.5h0m24 -34.5h0m14 0h0m-10 28.5h0m-34.5 9.5h0m15.5 -14h0m-21.5 1.5h0m11 -8.5h0m22 -15.5h0m-17 8h0m7 -2.5h0m-12.5 7.5h0m27 -10h0m-9.5 3.5h0m-20 2h0m32 -13h0m-20 4.5h0m-11.5 20.5h0m40 -19.5h0m-17.5 2h0m-31 -8h0m7.5 30h0m40 -21.5h0m-25.5 -12.5h0m-9 12.5h0m-7.5 -2.5h0m40.5 18h0m-21.5 -10.5h0m6 1h0m17 9h0m-12 -15.5h0m-7.5 21.5h0m-18.5 -13h0m39 -17h0m-49 2.5h0m27 28.5h0m-17 -0.5h0m32.5 -25h0m13 3.5h0m-28 -14h0m-7.5 14.5h0m27.5 24h0m-34 -10.5h0m8 4h0m28 0.5h0m-49.5 -3h0m32 10.5h0m-14.5 -46.5h0m-13 31h0m14.5 11h0m2.5 14h0m2.5 -33.5h0m26.5 3.5h0m-32.5 16.5h0m-19 -34h0m0.5 30.5h0m25.5 7.5h0m-22 -25h0m-8.5 5h0m-3.5 -18.5h0m48.5 13.5h0m-6 -18.5h0m-22.5 -1h0m0.5 40.5h0m1.5 -13.5h0m13.5 2h0m16 24h0m-6.5 -30.5h0m-16 -13h0m-11.5 25h0m18 10.5h0m-20.5 2h0m50.5 -19.5h0m-21 -16h0m10 -9h0m-51 8h0m26 32.5h0m14 3.5h0m3.5 -23h0m-26 9h0m-1.5 -6h0m21.5 28h0m-39 -36h0m17.5 20h0m21.5 4h0m-10.5 1.5h0m-17 4h0m25.5 -26h0m-25.5 20h0m-3 -40h0m42 50.5h0m14.5 -2.5h0m-39.5 -22h0m-13.5 0h0m25.5 -18.5h0m14.5 12.5h0m-24 -0.5h0m-16 -14h0m39 19.5h0m-22 -19.5h0m-3 11.5h0m4.5 -13.5h0m5.5 28.5h0m-30.5 -4.5h0m14 -23h0m49 -2h0m-18.5 37h0m6.5 -18.5h0m-15.5 -3.5h0m6 -13.5h0m-36 38h0m45.5 -27h0m-39 4h0m14 -2h0m0.5 26h0m17 -37h0m-19 -12h0m10 32.5h0m-14 8.5h0m24.5 -6.5h0m-8.5 -26h0m-20 29.5h0m31 -22h0m-24.5 15.5h0m-16 20h0m25 -3.5h0m-26 -30h0m5.5 35.5h0m9.5 -50h0m13.5 4h0m20.5 -2h0m-8.5 32.5h0m7.5 -1.5h0m-6 -26.5h0m13 0.5h0m-13.5 17.5h0m-17 3h0m-12.5 26h0m5.5 -22h0m-14 -19.5h0m5.5 15h0m47.5 7.5h0m-47 -29.5h0m6 44h0m31.5 -32h0m-12 31h0m-6.5 -32h0m3.5 -7h0m12.5 7h0m-41.5 8.5h0m3 -24h0m-5 48.5h0m2.5 -34h0m51.5 20h0m-48 -19.5h0m27 -1.5h0m18.5 -2.5h0m-34 34h0m-2 -37.5h0m9 13.5h0m18.5 9h0m-31.5 -17h0m29.5 30h0m-9 -39h0m-38 31h0m24 -35.5h0m0.5 46h0m-25.5 -8.5h0m38 -37.5h0m-16 6h0m10 3h0m-10.5 15h0m9 -10.5h0m-11.5 12.5h0m8.5 12.5h0m-3.5 -5h0m18 -17.5h0m-44 16h0m60 -21h0m-35.5 20h0m-3 -8.5h0m2.5 17.5h0m-4.5 -2h0m28 -20h0m0 25.5h0m-40.5 -22.5h0m2 -5h0m14 9h0m15 8.5h0m-9.5 -2.5h0m17.5 -29h0m5 27.5h0m-3 -20.5h0m3.5 3.5h0m-18 13h0m-26.5 -21h0m36 7h0m0 13h0m-33.5 -2.5h0m26 -2.5h0m-26 13h0m-0.5 -16.5h0m27 28.5h0m-26.5 -17.5h0m42 -22.5h0m-34.5 20h0m-4 -5.5h0m1.5 25h0m44 -34h0m-14 13h0m-39 18h0m42 -19.5h0m-21 16h0m-22.5 -15.5h0m7 12.5h0m17.5 -30h0m-4 4h0m-5.5 25.5h0m11 -5.5h0m-30.5 -9.5h0m38 4.5h0m-7 -0.5h0m-3 1h0m8.5 16h0m-25.5 -0.5h0m0 11h0m22 -36h0m-13 7.5h0m42 -2.5h0m-40.5 -15h0m-13 14.5h0m21.5 28h0m34 -14.5h0m-42.5 23h0m19.5 -18h0m3 5.5h0m-23.5 -6.5h0m-13.5 -7.5h0m52.5 -18h0m-7 29h0m-45.5 -8.5h0m24.5 18.5h0m2.5 -28.5h0m-14 0h0m15 21.5h0m-8.5 -30.5h0m-4 -12.5h0m0.5 46h0m-5 -19h0m1 24.5h0m-10 -22.5h0m33.5 14.5h0m-29 8h0m47.5 -40h0m-11.5 -7h0m4 26h0m5.5 13h0m-32 -26h0m1.5 0.5h0m-14.5 22h0m9 -38.5h0m11.5 2h0m-21.5 43h0m2 5h0m47 -21.5h0m-47.5 16h0m39.5 -13h0m-11 -10h0m-24 -12.5h0m-16.5 17.5h0m3 11h0m20.5 0h0m-30.5 -24.5h0m46 19h0m-33 4.5h0m37.5 -36.5h0m-2.5 9.5h0m-11.5 -2.5h0m-17.5 36.5h0m0.5 -1.5h0m24 -41.5h0m-27.5 38.5h0m2.5 -0.5h0m4.5 -5h0m5.5 11h0m-16.5 -14h0m51.5 -12.5h0m-42 15h0m-7 1h0m27 -29h0m-22.5 -6h0m-6 43.5h0m11 -43h0m12.5 51.5h0m-16 -15h0m-17.5 -27.5h0m6.5 6h0m31 20h0m-19 16.5h0m19.5 -43.5h0m-11.5 43h0m-6.5 -28.5h0m-1.5 15.5h0m26.5 -40h0m-5.5 34.5h0m-26 14.5h0m1.5 -34.5h0m2.5 7h0m34 13h0m-5 -20.5h0m-2 18h0m-28 12.5h0m22 4h0m-14.5 -22.5h0m12.5 28.5h0m-1.5 -37.5h0m-26 -1h0m18.5 12.5h0m9.5 -11.5h0m-0.5 0h0m25.5 0h0m-16 -7h0m-17.5 16h0m13 -20.5h0m-23 23h0m4 26h0m38 -27.5h0m-27 0.5h0m-28 -4h0m45 11h0m3.5 -13h0m-12.5 -4h0m19 24h0m-16 -23.5h0m-33.5 15.5h0m4.5 12h0m18 -17.5h0m-7 26.5h0m20.5 -45.5h0m-24.5 21h0m23.5 8h0m-23 -31h0m-9 24h0m24 -1.5h0m8 12.5h0m-31 -17h0m23 22.5h0m2 -22h0m-14 18h0m-15.5 -7h0m7.5 -0.5h0m31.5 -11h0m-0.5 4h0m-44.5 8.5h0m22 1.5h0m16.5 -36h0m-35 22h0m12.5 19.5h0m-12.5 -0.5h0m11 -39.5h0m2 35.5h0m9 -14h0m24.5 -4h0m-9 28.5h0m-27.5 -46h0m11.5 19.5h0m2.5 8.5h0m-10 20h0m24 -36.5h0m-28.5 25h0m-0.5 -40h0m14.5 22h0m31.5 9h0m-15.5 10.5h0m-16 -19h0m-10 -16h0m18 -3.5h0m4 25.5h0m-10 -1.5h0m4.5 -25.5h0m25 22.5h0m-60.5 -14h0m32.5 -2h0m18.5 15h0m2 -14h0m-11.5 -8.5h0m-8.5 22.5h0m-1.5 2.5h0m-13.5 -18.5h0m-10 -3.5h0m33 48.5h0m-35.5 -45h0m29.5 35.5h0m-22.5 -13.5h0m-6 16h0m3.5 3h0m33 -37.5h0m-16.5 35h0m29.5 -19h0m-37.5 15.5h0m8.5 12.5h0m11.5 -46.5h0m-12.5 12h0m-8.5 27h0m32 -26h0m5 3.5h0m-31.5 18.5h0m-0.5 -5h0m28.5 14.5h0m-44 -22h0m1.5 14.5h0m34.5 -6.5h0m-50 -23h0m23.5 2h0m5.5 2h0m9 17h0m7 3.5h0m-7 -32.5h0m-15 23h0m-4 -14.5h0m15.5 -2h0m-16 -1.5h0m20 15h0m-6.5 -27h0m-2.5 23h0m24.5 -11h0m-3 14h0m-20 7h0m12 -1.5h0m-11 16h0m-3 -21h0m-13.5 -21.5h0m18 -2h0m20.5 48h0m-18.5 -54h0m-24.5 35h0m-7.5 -25.5h0m6 25h0m39.5 5.5h0m8 -20.5h0m-47 0.5h0m35.5 -3.5h0m-8.5 22h0m-27 4h0m27.5 15h0m-33 -34h0m19 -18h0m12.5 21.5h0m2 4.5h0m-3.5 19.5h0m-4.5 -7h0m21 -15.5h0m-7.5 23h0m-34 -32.5h0m61.5 7.5h0m-21 22.5h0m-23.5 -5.5h0m4 -24h0m-12.5 31.5h0m10.5 -31.5h0m20.5 32h0m-8.5 -7.5h0m25.5 -35.5h0m-20 15.5h0m-29.5 15h0m38.5 -16.5h0m-33.5 3.5h0m36 11h0m-16.5 -17.5h0m-31 5h0m4.5 24.5h0m-4.5 -21.5h0m-4 -4h0m9.5 4.5h0m0.5 5.5h0m16 -9h0m5 -22.5h0m1 4h0m15 29h0m-46 -17h0m29 -4.5h0m-8.5 32h0m4 -37.5h0m-14.5 20h0m14 -15h0m-25 -2h0m25 34h0m10.5 -34.5h0m-25 37.5h0m-1.5 5h0m41 -17.5h0m-44 4.5h0m24.5 -16h0m-14 13.5h0m20 -4.5h0m-4 -10h0m-22 -3.5h0m-4.5 30h0m-6 -23h0m59.5 17h0m-3 -18h0m-30 -1h0m-22 -17h0m42 38h0m-21 -20.5h0m29.5 -15.5h0m-2 44.5h0m-38 -3h0m-5.5 -28.5h0m26 26.5h0m29 -37.5h0m-47 14h0m27.5 -14.5h0m-44.5 -3.5h0m31 12.5h0m-5 -20.5h0m5 36.5h0m-1 -19.5h0m-10.5 28.5h0m17.5 -38.5h0m-23.5 14h0m35 20h0m-2.5 3.5h0m-30 -6.5h0m6 13.5h0m14 -38h0m-29 15.5h0m11 -3h0m33.5 -9.5h0m-11.5 9.5h0m0.5 -13h0m-30.5 7h0m24 -0.5h0m-25.5 19.5h0m17.5 -1h0m2.5 15.5h0m11.5 -34.5h0m-27.5 -5.5h0m5 19h0m36 4.5h0m-24.5 -19h0m-11 4h0m-5 10h0m-10.5 1h0m46 -8h0m-33.5 28.5h0m33 -41.5h0m-43.5 23h0m46 8.5h0m-46.5 -26h0m8.5 33h0m26.5 -17.5h0m-5.5 -13h0m-3 30.5h0m4.5 -24h0m2.5 0.5h0m-16.5 -3.5h0m31 5h0m-11 -17.5h0m12.5 2.5h0m-24.5 44h0m6.5 -29h0m-30.5 16h0m1 -7h0m31 -10h0m-19.5 11h0m28 -21h0m-20.5 28.5h0m30.5 -14h0m-9 20h0m18.5 -20.5h0m-43.5 -5h0m-10.5 29.5h0m29 -44.5h0m-10 38h0m29 -14.5h0m5.5 9.5h0m-45.5 -34.5h0m-3.5 8h0m22 22h0m-35 0.5h0m17.5 -35.5h0m-6 28.5h0m23 3.5h0m-4 3.5h0m-21 4h0m47.5 -1h0m-35 12h0m-5 -17.5h0m10.5 12.5h0m5.5 -12h0m-0.5 -34h0m3.5 50h0m-16 -48h0m5 -3.5h0m3.5 35.5h0m-3.5 -2.5h0m-10.5 14h0m25.5 -1.5h0m-3.5 -12.5h0m-32.5 18.5h0m23.5 -38.5h0m-23 13.5h0m32 4h0m6 -31h0m-43 35.5h0m22 1h0m11 -10.5h0m-6.5 14h0m-21 -4.5h0m50 -9h0m-46 18.5h0m14.5 -32.5h0m34 33h0m-2 -28.5h0m-44 13h0m-10 0.5h0m23.5 -7.5h0m13.5 2h0m0.5 -1.5h0m-3 28.5h0m-23.5 -48.5h0m3 42.5h0m33.5 -31h0m-6.5 -4h0m-40 12h0m32 -12h0m-2 -8h0m6.5 48.5h0m17.5 -48.5h0m-45 49h0m11.5 -47h0m-3.5 27h0m8.5 -9h0m17 -7h0m-22.5 -15h0m-6.5 48h0m5 2h0m31.5 0h0m6 -6h0m-53.5 -39.5h0m23.5 -3.5h0m-16 14.5h0m47.5 8h0m-25.5 -2h0m-10 4h0m-22 19.5h0m31.5 -43h0m-1.5 40.5h0m-5.5 -19.5h0m-6.5 -12h0m22.5 41.5h0m-43.5 -24.5h0m3 15h0m33 -26h0m7.5 0h0m-15 17.5h0m-5.5 12.5h0m26.5 -39h0m-17.5 21.5h0m-16 12.5h0m17 -21h0m-10.5 -17.5h0m21 20h0m-39.5 7h0m39 -8h0m-14.5 -10h0m-18 20h0m28.5 0.5h0m-25 2h0m32.5 -11.5h0m15.5 27.5h0m-53.5 -17h0m24 -14h0m-28 11h0m-3 8h0m3 -14h0m40.5 10h0m-24 -13h0m-10.5 11.5h0m2 -28.5h0m36.5 24.5h0m2 -10.5h0m-33 -9.5h0m29 1.5h0m-21 14h0m14 -17.5h0m-8.5 5.5h0m26.5 26.5h0m-28.5 7.5h0m-0.5 -37.5h0m17 8.5h0m-23.5 -12h0m-7 28h0m21 -7.5h0m-5 5h0m-17.5 -12.5h0m12 16.5h0m24.5 -7.5h0m10 -2h0m-66.5 -4h0m22 29.5h0m23 -33.5h0m-36 17h0m19.5 -5.5h0m7 -10.5h0m23.5 14.5h0m-45 -13.5h0m38.5 -3h0m-13 -19h0m17 18h0m-11.5 -6.5h0m-5.5 36.5h0m-19.5 -27.5h0m5 19h0m24 -28.5h0m-19 0.5h0m-7 28.5h0m17 -29.5h0m-9 0h0m-6.5 24.5h0m27.5 14.5h0m-22.5 -13.5h0m18.5 -0.5h0m-2 -25.5h0m5 5.5h0m-13.5 23h0m26 -27h0m-29.5 27.5h0m21 -28.5h0m-46.5 15.5h0m10.5 -3.5h0m-4 23h0m43 -24h0m-15.5 -3h0m-2.5 -0.5h0m-31 -4.5h0m9 33h0m-1.5 -5h0m0 -1h0m-0.5 5.5h0m-3 2h0m9 -39h0m41 19h0m-53.5 18.5h0m14.5 -6h0m-8.5 12.5h0m23.5 -41.5h0m-20 20h0m18 3.5h0m-7 -1h0m2.5 22h0m-20.5 -25h0m40.5 -29h0m-38.5 33h0m19.5 -24.5h0m35.5 34.5h0m-54 -4h0m-0.5 8h0m29.5 -42h0m-27 48h0m9 -48h0m-21.5 5h0m29 40.5h0m4.5 -53h0m-15.5 29.5h0m4 -18.5h0m22.5 8.5h0m-27.5 7.5h0m36 -8.5h0m-7 -13h0m8.5 38.5h0m-25 -13h0m25 21h0m-38.5 -29.5h0m40.5 -2h0m-27.5 -7.5h0m-15.5 -4.5h0m-14.5 6.5h0m16 40h0m33.5 -45h0m-10 41.5h0m-6 -30h0m6.5 18.5h0m-17.5 9h0m37.5 -20.5h0m-57 9.5h0m44 -23h0m-17.5 32h0m-20.5 5.5h0m23 -31h0m0 -4.5h0m11.5 -15.5h0m-34.5 47.5h0m26.5 -41.5h0m-10 28h0m-6 -14.5h0m12.5 16.5h0m13 -17.5h0m-11.5 14.5h0m3 -12h0m17 27h0m-32 -25h0m33 10.5h0m-54 -6.5h0m42.5 11.5h0m-23 -4.5h0m-20 -10.5h0m27.5 21h0m5 10.5h0m-6.5 -52.5h0m-17.5 39h0m11.5 -34.5h0m-6.5 36.5h0m8.5 -18h0m18.5 0h0m-25.5 20h0m19.5 -23h0m-3 -11h0m-14 33.5h0m-21 -23h0m30.5 22.5h0m-6.5 -44h0m-7.5 50h0m36 -27h0m-35 -2h0m46.5 12h0m-22.5 -20.5h0m22 -3h0m-15 3.5h0m-17.5 41.5h0m-9.5 -16.5h0m-17 -12h0m57 -24h0m-35 17h0m19 13h0m-26.5 17h0m33 -37h0m-45 -3h0m20.5 13h0m-20.5 5.5h0m28 13h0m-21 -7h0m46.5 1.5h0m-52.5 -13.5h0m49 -17.5h0m7.5 17h0m-44 27h0m32 4h0m-28.5 0.5h0m25 -14h0m-35.5 -19h0m4.5 34.5h0m21.5 -17h0m0 0.5h0m-17.5 -5.5h0m22 -4.5h0m-21.5 -17h0m-8.5 16.5h0m42 2h0m-36.5 -20.5h0m39 35h0m-35 -4.5h0m14.5 -14.5h0m-26 -5h0m9 14h0m15.5 -11.5h0m-19 28h0m47.5 -34.5h0m-34 32h0m-0.5 -50.5h0m-5.5 45h0m-8.5 -1.5h0m40.5 2.5h0m-26 -4.5h0m-7 3h0m13.5 -6h0m21 -31.5h0m-29.5 6.5h0m-4 23.5h0m8.5 -13h0m-19 -10.5h0m-4.5 32h0m-11.5 -28h0m32.5 0h0m-5.5 31.5h0m-19.5 -16.5h0m45.5 0.5h0m-6 13.5h0m10 -27h0m10 5h0m-20.5 13h0m-8 -11.5h0m-14.5 10h0m19 16h0m-4.5 -39h0m10 43.5h0m-24.5 -46h0m-17.5 -4.5h0m27 39h0m-19 8.5h0m34.5 -9.5h0m-18 -22h0m26 9.5h0m-26.5 3h0m31 8.5h0m3 -27h0m-18.5 -13h0m18 23.5h0m-63 -5.5h0m31 14h0m-12.5 3.5h0m0 -4.5h0m48 -20h0m-59.5 13h0m30 6h0m-30.5 4.5h0m51 -16h0m-20 -6h0m-10.5 34h0m-13.5 -43.5h0m2 46h0m14.5 -7h0m-11 -38h0m40 -0.5h0m-19.5 45.5h0m-1.5 -45h0m9 1h0m-23.5 44h0m25.5 -10.5h0m-2 -9h0m-42.5 2h0m20.5 -12h0m24 11.5h0m-33.5 -13.5h0m11.5 37.5h0m29.5 -42h0m-23 16.5h0m-25.5 -6h0m8 -21.5h0m10.5 22.5h0m28.5 23h0m-27 -18h0m-15 4.5h0m28 -26.5h0m22 42h0m-4.5 -19h0m-12 7.5h0m-5.5 -8h0m18 -8h0m-23.5 3h0m8 -12h0m-10 29h0m-2 -8.5h0m-12 6h0m26.5 -19.5h0m-33.5 0h0m6.5 -1.5h0m18 5h0m5.5 21h0m-32.5 -31h0m10.5 17h0m16 -5h0m3.5 -19.5h0m11 8h0m6 6.5h0m-29.5 -22.5h0m-13 46h0m7.5 -13.5h0m-14.5 -6h0m61 13.5h0m-42 1.5h0m19 -21.5h0m-41 3.5h0m6 2h0m6 13h0m11 -23.5h0m18.5 23.5h0m22.5 -21h0m-48.5 28.5h0m41.5 -42.5h0m-35 38.5h0m-18 -34.5h0m9.5 -3.5h0m47 24.5h0m-16.5 -11h0m-5.5 0.5h0m12 -7.5h0m-15.5 -0.5h0m-8.5 41h0m-8 -17h0m35.5 -30.5h0m-22.5 47h0m18 -41h0m1.5 12h0m-18.5 -9.5h0m22 1.5h0m-49.5 26h0m36 -6.5h0m7 19h0m-15 -10.5h0m7 -13.5h0m-21 -15.5h0m-1 -8.5h0m-4 47.5h0m31.5 -44h0m-49 14h0m21.5 8.5h0m17 -4.5h0m-0.5 16h0m6.5 1.5h0m-10 -14.5h0m12.5 23h0m-23 -1.5h0m6 -42h0m7.5 27h0m-35.5 -11h0m-5 -7h0m13 -1.5h0m13 28h0m41.5 -13h0m-27.5 26.5h0m-15.5 -47h0m46.5 8.5h0m-41.5 -9h0m2 5.5h0m-6 8h0m16 26.5h0m2.5 -32.5h0m-1 0.5h0m-7.5 31.5h0m8 -26.5h0m20.5 21h0m-1 4.5h0m-56 -35.5h0m40.5 30h0m-5.5 -26.5h0m-28 2h0m19 -4h0m-28 11h0m64.5 -18.5h0m-43 32.5h0m35.5 7h0m-23 -36h0m1 15h0m17.5 28.5h0m-3 -7.5h0m-17 10h0m29 -28.5h0m-48 -21.5h0m27 48h0m19 -38.5h0m-52 28h0m21 -34h0m-9.5 6.5h0m-11 20h0m30 -5h0m-16 -3h0m1 -4h0m24 28h0m-8.5 -47.5h0m-3.5 24.5h0m0 -1h0m-4 22.5h0m-5.5 -14.5h0m-3 17.5h0m-11 -30.5h0m21 5h0m1.5 2h0m-2.5 11h0m12.5 -38h0m0 5.5h0m-22.5 33h0m23.5 -39h0m-39.5 36h0m26.5 -17h0m13.5 -4.5h0m-30.5 14h0m26 3.5h0m14 -30h0m-56 18h0m27.5 34h0m17 -10h0m-2.5 -3h0m-37.5 -6.5h0m12.5 0h0m10 -4.5h0m16 -16h0m-1.5 10.5h0m15.5 6h0m-50.5 -7h0m0.5 15.5h0m31.5 0.5h0m5.5 -23.5h0m11 12.5h0m-38 2.5h0m3.5 23h0m20.5 -21.5h0m13 10.5h0m-33 -28h0m42.5 15.5h0m-67.5 -17.5h0m14.5 21h0m-7.5 -24h0m44 20h0m-0.5 -27h0m-40.5 19.5h0m8 10h0m-14.5 -21h0m13 32h0m21.5 -12h0m-2.5 -4h0m-22 -6h0m14 2.5h0m-4.5 25.5h0m8.5 -8.5h0m32 -24h0m-45.5 22h0m31 -14.5h0m-35.5 -5.5h0m53.5 6.5h0m-34.5 -29.5h0m18.5 26h0m2.5 3h0m-10 3.5h0m25 2.5h0m-56.5 9h0m30 -32h0m-6.5 28.5h0m33.5 1.5h0m-10 -20h0m-37 -5.5h0m20.5 36.5h0m-21.5 -22.5h0m30 -17.5h0m4 -4.5h0m-31.5 35.5h0m26.5 -5.5h0m-7 6h0m-7 4h0m21 -5h0m-44.5 -24h0m44.5 8h0m-23 19h0m12.5 -31h0m17.5 3.5h0m-35.5 26h0m21.5 0.5h0m-21 -24h0m8.5 -17h0m12 31.5h0m-30 12h0m16.5 -47h0m6.5 39h0m21 -28.5h0m-15.5 35h0m-3.5 -9.5h0m2 -15.5h0m-26.5 25h0m-10.5 -20h0m10.5 2.5h0m40.5 -20.5h0m-16.5 32.5h0m5 -5h0m-37 -28.5h0m11 15h0m27 11.5h0m-3.5 -13.5h0m-41.5 5.5h0m5.5 -13.5h0m10 25h0m33 -29h0m-27.5 13.5h0m26.5 -14.5h0m-5 21.5h0m-3.5 0.5h0m-0.5 25h0m-25.5 -19.5h0m28.5 -19.5h0m-19 34.5h0m-5 -46h0m29 26h0m-4.5 -10h0m3.5 7.5h0m-9.5 19h0m-0.5 6h0m23.5 -44.5h0m-26.5 29.5h0m1 -22h0m28.5 -4h0m-41.5 46.5h0m12.5 -52.5h0m29 13h0m-20 0.5h0m-31 -13.5h0m7 30h0m-14 6.5h0m-3 -7.5h0m20 -13.5h0m44 24.5h0m-59.5 -8h0m11 8h0m30.5 -34h0m18 6.5h0m-36.5 16h0m-10.5 -4.5h0m30.5 12.5h0m-21 -9h0m7.5 -8.5h0m5.5 27h0m22 -20.5h0m-38 0.5h0m-0.5 -2h0m35 18h0m2 -12.5h0m-18.5 -16h0m0 7h0m14 -19h0m-37.5 32.5h0m30.5 -6.5h0m0 19h0m-13 -5h0m18.5 -38h0m-14 17h0m-1 1.5h0m-24 -9h0m9 -16.5h0m-2 30h0m26 7h0m10.5 -4h0m-15.5 -21h0m15 -3h0m-30 -7h0m11.5 37h0m-25.5 -15.5h0m10.5 -24h0m16.5 10h0m7 2.5h0m-27.5 17.5h0m-3.5 26.5h0m-6.5 -25h0m-11.5 -21h0m27.5 3h0m13 17h0m6.5 -26h0m-39.5 26.5h0m22 9.5h0m16.5 -33h0m-24 39.5h0m-14.5 -4h0m1.5 2h0m55.5 -4h0m-36 -20h0m24 22.5h0m-42 1h0m3.5 -11.5h0m10.5 9h0m-8.5 -2h0m21 3h0m1 -38h0m-13.5 32.5h0m2 14h0m-11.5 -36h0m5 8.5h0m38 1.5h0m-51.5 -20h0m56 21.5h0m-10.5 14h0m-32.5 -11h0m-9 19h0m2 -18.5h0m15 -24.5h0m-13 32.5h0m39.5 -19.5h0m-19 -16.5h0m22 11.5h0m-51.5 7.5h0m13 34h0m11 -55.5h0m24.5 32.5h0m-30.5 -8h0m25.5 16.5h0m-31 -0.5h0m20 9.5h0m8 -24.5h0m1 7h0m-33.5 17h0m-14.5 -33.5h0m47 2.5h0m12.5 -8h0m-8.5 29.5h0m-27.5 10h0m-2 5h0m-5 -13.5h0m15.5 -2.5h0m-18 -2.5h0m3.5 -23h0m-2 -8h0m1.5 49.5h0m11 -32h0m15 10h0m-5.5 12.5h0m6.5 -18.5h0m-18.5 29h0m6 -35.5h0m1.5 -14h0m9.5 17.5h0m-17 32.5h0m19 -44.5h0m-16.5 -13h0m-7.5 45.5h0m-6 -20h0m24.5 18h0m-28.5 -30h0m18 38.5h0m-8.5 -11h0m10.5 -30h0m-4 -5h0m-7.5 16.5h0m0 25.5h0m6.5 7.5h0m28.5 -14h0m-4.5 -28.5h0m-4 11h0m-19 -6h0m3.5 23h0m-14 -8h0m21 -11.5h0m-12 -11h0m40.5 3h0m-56.5 14.5h0m25 1.5h0m-7.5 -4h0m3.5 -20.5h0m-29 25.5h0m10.5 4.5h0m52.5 -22.5h0m-56.5 28.5h0m44.5 -16h0m-20 9h0m-3.5 -23.5h0m-7.5 37.5h0m16 -32h0m-1.5 -6h0m-15.5 13h0m14.5 33h0m-6.5 -15h0m-5 -26h0m-14 31h0m12 6h0m-10 -20h0m27.5 -30.5h0m-33 14.5h0m29.5 10h0m-16 4.5h0m-7.5 11h0m36 -16h0m-39.5 0h0m8.5 -11h0m25.5 26h0m4 6h0m-39.5 -17.5h0m18 -16h0m-2.5 17.5h0m13.5 -19h0m11 2.5h0m-23 13.5h0m-2 8h0m12 18.5h0m-33.5 -28.5h0m33 10.5h0m-24.5 -14.5h0m18 3.5h0m-1 11h0m-16 -4h0m9.5 22.5h0m43 -45h0m-9.5 25h0m-40.5 -14h0m31 10h0m-43.5 -8.5h0m29 -16.5h0m3 20h0m25 4h0m-21.5 26.5h0m-8.5 -39h0m-11 16h0m23 -14.5h0m12.5 1h0m2 16.5h0m-28.5 -25h0m-8.5 29h0m27.5 -29.5h0m7.5 14.5h0m-36.5 29h0m-9.5 -43.5h0m47 15h0m-25.5 -8.5h0m18.5 29.5h0m-28 -27h0m13 31h0m6 -48.5h0m23.5 11h0m-13 12.5h0m-3.5 -18.5h0m8.5 17h0m-51.5 5.5h0m18 5h0m4.5 -0.5h0m18 -14.5h0m20.5 9.5h0m-17 -3.5h0m-25 2h0m-9.5 8h0m7.5 21.5h0m0 -10.5h0m0.5 0h0m10 -22.5h0m-24.5 -1h0m28 28h0m-6.5 -5h0m12 -23.5h0m21.5 -5.5h0m-46 -7.5h0m25 45.5h0m-26.5 -9.5h0m6 4h0m9 -32.5h0m1.5 15h0m-7.5 -17.5h0m-10.5 29h0m-6 -27h0m36.5 -10h0m26.5 40h0m-12 -4h0m-7 -7h0m-7.5 -4.5h0m-31 -14.5h0m53 -9h0m-56 31.5h0m3.5 -16.5h0m11 20h0m12.5 8.5h0m21.5 -14h0m-10 -23h0m-26 24h0m14 -16h0m3 -10h0m-33 16.5h0m46.5 5.5h0m-25.5 19h0m11 -16h0m19.5 -7h0m-36 11h0m5 -8h0m20 1h0m-9 4.5h0m-22 12.5h0m49 -12h0m-26.5 7h0m13.5 -11.5h0m-8.5 -9.5h0m-11.5 3.5h0m16 13.5h0m-19 -28.5h0m-15 20h0m21.5 9.5h0m6.5 -36.5h0m1.5 50h0m-14 -15.5h0m-8 -2.5h0m27 -36.5h0m-19 47.5h0m-2.5 -10.5h0m19.5 -9.5h0m-41.5 -6.5h0m31.5 0.5h0m-6 17.5h0m5.5 -9.5h0m-8.5 5.5h0m-8 12.5h0m14 -19h0m22.5 -11.5h0m1.5 22h0m-26 -15h0m-3.5 22h0m-2 -11h0m27.5 -8.5h0m-22 23.5h0m15.5 -45h0m-6.5 4.5h0m-25 18h0m17.5 -2.5h0m4.5 26.5h0m-26 -38h0m11.5 6.5h0m6.5 0h0m-24 7h0m47.5 19h0m4 -1h0m-5 -40.5h0m-7.5 3.5h0m-12.5 13.5h0m-1 -18.5h0m15 16.5h0m12.5 -18h0m-12 19h0m15.5 4.5h0m-8.5 16h0m-15.5 -14h0m-19.5 22.5h0m30.5 2h0m-25 -7h0m31.5 -14h0m-3.5 -10h0m-20 30.5h0m21.5 -31h0m-7.5 -14.5h0m-16 6.5h0m-1.5 34.5h0m13 -35h0m11 38.5h0m10 -28h0m-58.5 3h0m31 -2h0m-32 -4.5h0m10 19h0m18 -0.5h0m18 -27h0m4 9.5h0m-37 2h0m3.5 32h0m28 -31.5h0m-10 17.5h0m4.5 -25.5h0m-37 8h0m63.5 -2.5h0m-12 9.5h0m-40 22h0m11.5 -20h0m7 12h0m-13.5 5.5h0m-10 -19h0m23.5 26.5h0m23.5 -40.5h0m-21.5 33h0m-31.5 -43.5h0m41 20.5h0m-22.5 16h0m19.5 -19h0m12 4.5h0m-27.5 -6h0m-8.5 17.5h0m-2.5 -7.5h0m1 2.5h0m28 -26h0m-2 4.5h0m-19.5 21h0m-8.5 8.5h0m6 10.5h0m27.5 -26h0m-38 10h0m36.5 -3h0m-20 0h0m-9.5 6h0m22.5 -26.5h0m-31 17h0m44.5 8h0m-48.5 -9.5h0m28.5 -1.5h0m-15 -18h0m34.5 34.5h0m-33 3.5h0m31.5 -44.5h0m-33 44.5h0m-9 -26.5h0m42 12h0m-36.5 -9h0m34 30h0m-16 -0.5h0m18.5 -6h0m4.5 -3.5h0m-28 -25.5h0m25 8h0m-48.5 -0.5h0m14 26h0m5 -17h0m4 3h0m15.5 -29h0m8 -5h0m-25.5 37.5h0m-4 -5.5h0m41.5 -28.5h0m-34 45h0m14 -22.5h0m-21 -1h0m32.5 -5.5h0m-55 -11h0m44.5 3h0m-20.5 0h0m-11.5 26h0m51 9.5h0m-37.5 -11h0m8.5 -5h0m-27.5 2h0m33 -28h0m16 24.5h0m-7 -18h0m-11.5 13.5h0m-11 -5h0m-11 24.5h0m-4.5 -33.5h0m1.5 -11h0m49.5 27h0m-49.5 -15.5h0m8 39h0m7.5 -31h0m28 27h0m-12 -30.5h0m25.5 -14h0m-23.5 7h0m-19.5 25h0m5 17.5h0m0.5 -44h0m-1.5 29h0m-11 -30h0m2 19.5h0m26.5 -19.5h0m-38 15.5h0m11 -7h0m-17.5 -4h0m42 12.5h0m-22.5 22.5h0m-3 -6.5h0m5.5 -23h0m-9 18.5h0m-3.5 8.5h0m22.5 -36.5h0m6.5 37h0m8.5 -33h0m-43.5 -8h0m21.5 17.5h0m26 1h0m-33.5 -9.5h0m10 17h0m4.5 14.5h0m3 -26.5h0m-14 -12.5h0m2.5 4.5h0m26 16.5h0m8 -13.5h0m6 -6h0m-20.5 9h0m0 12h0m-12 -8h0m6.5 23.5h0m19.5 -31.5h0m-19.5 12.5h0m0.5 -17.5h0m-8 25.5h0m-21 4h0m18 -37.5h0m16 22h0m-22 31.5h0m-18 -24.5h0m32 -9h0m-11 30.5h0m14 -32.5h0m-3.5 25h0m-25 6h0m2.5 -6.5h0m16.5 -7.5h0m-10.5 -5.5h0m-7.5 -5.5h0m17.5 -12.5h0m-21 4.5h0m10.5 33h0m8.5 -6.5h0m2 -45h0m13 24h0m-21.5 7h0m14 1h0m0.5 12h0m-9.5 -14.5h0m32.5 -10.5h0m-34.5 -7.5h0m0.5 29.5h0m4.5 -24.5h0m-19 27.5h0m35.5 -11.5h0m-16 -30h0m-13 51.5h0m0.5 -15h0m15.5 -21.5h0m27 -7.5h0m-34.5 -9.5h0m21 5.5h0m-25 17h0m-5.5 30.5h0m11 -24.5h0m38.5 -8h0m-49 -13h0m-10 15.5h0m10 25.5h0m34 2h0m-45 -35h0m3.5 21h0m59.5 -29h0m-39.5 7.5h0m-5.5 28h0m16.5 -18.5h0m22 -20.5h0m-33.5 43h0m14.5 5h0m-35 -23.5h0m40.5 -20.5h0m-21 20.5h0m40.5 -4.5h0m-36.5 23.5h0m-12 -32.5h0m9.5 16h0m-4 -1h0m20 -5.5h0m2.5 15.5h0m22 -18h0m-22.5 18.5h0m-29 -23.5h0m30 -6h0m-19 36.5h0m-8.5 -18.5h0m3.5 4.5h0m11.5 -8.5h0m-25 -11h0m25 8h0m-1 24.5h0m-3 -43h0m-19 39h0m7.5 9.5h0m42 -9.5h0m-48 -4.5h0m2.5 3h0m-2.5 9h0m-4.5 -9.5h0m21 0h0m13.5 -31.5h0m3 16.5h0m6.5 4.5h0m-30 16h0m25.5 -32.5h0m-1 18.5h0m-24 -13h0m10 11h0m24.5 8h0m-54.5 -18h0m13 17h0m25 -27.5h0m4.5 16.5h0m-7.5 -21h0m11.5 14.5h0m11 -12h0m-0.5 42h0m-21 -45h0m-12 19h0m11 15.5h0m2 -7.5h0m-25.5 11h0m38 -38.5h0m-33.5 43h0m-7.5 -4.5h0m30.5 -4.5h0m-14 -8.5h0m16.5 -6.5h0m-18 18h0m-17 -12.5h0m55.5 -20.5h0m-29 23.5h0m32.5 10h0m-6.5 -35.5h0m-49.5 24h0m33.5 -4.5h0m-36.5 22.5h0m15 -6.5h0m7.5 -2.5h0m3.5 -37h0m7 36h0m-38 -13h0m56.5 -11h0m-47.5 6h0m12 29.5h0m9 -14h0m17 -26.5h0m9 -2h0m-47.5 6h0m1.5 18h0m23 -13h0m4.5 24.5h0m1 -9h0m17 -8.5h0m0 -6h0m-16.5 2.5h0m11.5 3.5h0m-18 10h0m4.5 -20.5h0m25 27.5h0m-30.5 10h0m15 -2.5h0m-15 -21h0m-17.5 8h0m24 -22.5h0m5.5 15.5h0m-3.5 -4.5h0m-30.5 20h0m19.5 -13.5h0m14.5 21.5h0m-37 -18.5h0m20 2.5h0m-23.5 1h0m-0.5 4.5h0m49.5 -25.5h0m-48 24h0m47.5 -26h0m-2 -9h0m-14.5 -2.5h0m-11 23h0m-13.5 0.5h0m3.5 19.5h0m-19.5 -31.5h0m13 38h0m18.5 -22.5h0m11 -0.5h0m11 9.5h0m-19.5 8h0m-12.5 -0.5h0m-14 -35.5h0m37 11.5h0m25 3.5h0m-30.5 9.5h0m-27 0.5h0m0.5 -1h0m4.5 16.5h0m38 -34h0m1.5 11h0m-33.5 1.5h0m4 5h0m-10.5 -9h0m43 -1h0m-4.5 -3.5h0m-22 -0.5h0m-14 26h0m32.5 -0.5h0m-5.5 -18.5h0m9 5h0m7 -3h0m-15.5 -18h0m-14 40h0m22 -44h0m-13 -0.5h0m-3 40h0m4.5 -42h0m-4 -2.5h0m-10 3h0m-17.5 45h0m30 -30h0m16 21h0m-13.5 -16.5h0m-33 20.5h0m41 -24.5h0m3.5 -8h0m-46 6h0m22 -13.5h0m13 31.5h0m-16.5 -20.5h0m-1 15.5h0m-4 -3.5h0m26 -19.5h0m-17 38.5h0m-4 -43h0m-23.5 20.5h0m26.5 10.5h0m19.5 -19h0m-54.5 -10.5h0m54.5 -3.5h0m-20 51h0m23.5 -8.5h0m-15.5 -22.5h0m-11.5 11.5h0m25 -6.5h0m-21.5 1h0m8 7.5h0m3 -11.5h0m0.5 1.5h0m-13.5 -8.5h0m23.5 19h0m-43 8.5h0m51 -37h0m-33.5 33.5h0m11 6h0m-24 -4h0m51.5 -9.5h0m-26 3h0m-13 -26h0m7.5 44.5h0m-18.5 -5h0m11 -36h0m0.5 11.5h0m22.5 -7.5h0m-32 26h0m52 -37h0m-55 24.5h0m17 1h0m-18 6.5h0m9 -5.5h0m-5.5 -17h0m38.5 -4h0m5.5 27h0m-8 -13.5h0m-39 20h0m-1.5 4.5h0m44.5 -43h0m-34.5 9.5h0m13.5 3h0m2 1.5h0m-16.5 -11.5h0m5.5 -10.5h0m3.5 18.5h0m-15.5 19h0m27 -10.5h0m-3 -9.5h0m12 -14.5h0m-28.5 -2.5h0m4 27h0m-22.5 -14h0m34 30.5h0m-14 -42.5h0m2.5 47.5h0m7.5 -16.5h0m21 12.5h0m14 -30.5h0m-31.5 16h0m-21 11h0m-3.5 -7.5h0m6 10.5h0m29.5 0h0m-37 -2h0m-2 2h0m17.5 -37h0m27 23.5h0m9.5 -21.5h0m-44.5 19.5h0m-6.5 17h0m3.5 -36.5h0m42 12.5h0m-35 8.5h0m-5.5 2.5h0m2 5.5h0m3.5 -8h0m-1.5 8.5h0m1.5 -3h0m32.5 12.5h0m-24.5 -7.5h0m29.5 -3.5h0m-42 7h0m1 9.5h0m41.5 -51h0m-24.5 12h0m-2.5 -17h0m11 34h0m-13 -8h0m36 -12h0m-20 13h0m-31.5 14h0m3.5 4h0m1 -31h0m-7.5 35.5h0m8.5 -47h0m14 10h0m0.5 2.5h0m24 -9h0m-8 19h0m-46 8h0m6.5 -24.5h0m13 32.5h0m-8.5 1h0m37.5 14h0m-12.5 -17.5h0m-6 6h0m-32 -31.5h0m15 1h0m16.5 9.5h0m15 7.5h0m-29.5 0h0m21.5 -4.5h0m13.5 -22.5h0m-15.5 35.5h0m-22 -13.5h0m23.5 -19.5h0m-13.5 -5.5h0m-14 42.5h0m27.5 -22h0m-9.5 18h0m8 -15.5h0m-19.5 15h0m1.5 10.5h0m-5 -37.5h0m-5 -6.5h0m37 14.5h0m-36.5 4h0m-3 4h0m58 -20h0m-64.5 4h0m11.5 39.5h0m15 -33.5h0m5 20.5h0m16.5 -23h0m-20.5 24.5h0m-12.5 -19h0m29.5 2h0m8.5 32h0m-23 -18h0m2 -21.5h0m20.5 -7.5h0m4.5 9.5h0m-39 5.5h0m21 32h0m-0.5 -47h0m-26 35.5h0m27.5 -33.5h0m-12 29h0m12.5 -13.5h0m12 17h0m-1 -4h0m-38.5 -0.5h0m10 -15.5h0m-5.5 16h0m43.5 -28h0m-11 5.5h0m-18 14h0m17 -17h0m-2 23.5h0m0.5 3.5h0m11.5 -28.5h0m-41.5 25.5h0m2.5 -30.5h0m28.5 9.5h0m-1 7h0m5.5 21h0m-33 -16.5h0m22.5 9h0m17.5 -14.5h0m-41.5 26h0m-7.5 1h0m6 -36h0m17.5 28h0m18 -25.5h0m-30.5 3h0m7.5 -18.5h0m-13.5 36.5h0m9.5 -16h0m23 -7.5h0m2.5 22.5h0m-16.5 17.5h0m-37 -46h0m58.5 12.5h0m-17 -0.5h0m-28 2.5h0m7.5 33.5h0m26 -35.5h0m-27.5 -15.5h0m-4 8.5h0m-16 2.5h0m18 20h0m51 1.5h0m-26 5h0m-18.5 -38.5h0m8.5 29.5h0m7 17h0m6 -31.5h0m-17.5 22h0m-1.5 1.5h0m-24 -23.5h0m9 22h0m19.5 -27h0m0 22h0m-17 -10h0m17.5 -2h0m-9 20.5h0m11 11.5h0m31.5 -42.5h0m-60.5 -3h0m51.5 29h0m-36.5 -28h0m-19.5 6h0m11.5 28.5h0m43.5 -6.5h0m-41.5 -33.5h0m1.5 31.5h0m29.5 -29.5h0m-31.5 33h0m13.5 -36.5h0m-7.5 22.5h0m-10.5 18h0m56.5 -7h0m-54.5 14.5h0m12 3.5h0m0.5 -0.5h0m17.5 -44h0m-7 20.5h0m1.5 -25h0m-7.5 38.5h0m5 -26h0m20 14.5h0m-33.5 10.5h0m-6.5 3.5h0m21.5 -41h0m-3 15h0m1.5 -9.5h0m-15.5 8h0m-7.5 8.5h0m8.5 19.5h0m42.5 -6h0m-15.5 -31h0m-10.5 27.5h0m-28.5 -18h0m2.5 2.5h0m21.5 25.5h0m2 -6h0m-20 9.5h0m23.5 -1h0m-16 -4h0m3 -3h0m31 -14h0m-20.5 17.5h0m13 -28.5h0m-30 24.5h0m2 -25.5h0m44 5h0m-21 9h0m-3 -6h0m13 -8.5h0m-10 36h0m8 -23h0m-31 -16h0m17.5 21h0m8.5 9.5h0m7.5 -23.5h0m-13 5.5h0m-37 -15h0m17 18.5h0m-9 -15h0m4.5 -10h0m20 26h0m11.5 0h0m-2 -7.5h0m-27.5 23h0m-11 -36.5h0m16 31.5h0m27 -38.5h0m-15.5 32.5h0m-18 2.5h0m10.5 9.5h0m36.5 -7h0m-1 -33.5h0m8 39.5h0m-20 -23h0m-34 24h0m53 -19h0m-42.5 14h0m23 -28.5h0m-28 15.5h0m2.5 3h0m25.5 0.5h0m-18.5 12h0m3 -38.5h0m10.5 50.5h0m13.5 -46.5h0m-6 4.5h0m-13.5 -10.5h0m-6.5 12.5h0m-0.5 10h0m-22 -14.5h0m10.5 43h0m4 -32h0m2 1.5h0m-18 11.5h0m45 12h0m-37 6.5h0m40 -17h0m-15 12h0m-10 -34h0m30.5 7.5h0m-37.5 27h0m6.5 -23.5h0m-15 5.5h0m31.5 -11h0m-18.5 17.5h0m-6 1.5h0m12.5 -12h0m18 -9h0m16.5 13h0m-33 14.5h0m-27 -12h0m12 -13.5h0m-7 11.5h0m54.5 -4h0m-59 12.5h0m28 -34.5h0m14.5 38h0m-29 -40h0m12 18.5h0m34 -4h0m-25 -5h0m-8 14.5h0m9.5 -6.5h0m-39.5 5h0m30.5 -9.5h0m-9 21.5h0m10.5 -10h0m-7 2h0m16.5 -3.5h0m-31.5 24h0m3.5 -14.5h0m39.5 1h0m-8 -34.5h0m-10 20h0m-2 24.5h0m12.5 -28h0m13 -0.5h0m-16 -2h0m-4.5 -11h0m-13.5 10h0m9 17.5h0m-17 -10.5h0m21.5 -17.5h0m1.5 16h0m-19.5 9h0m-19 -22h0m4 38h0m4 -38h0m37.5 -5.5h0m-19 25h0m-18.5 -3.5h0m-2.5 -3.5h0m-12.5 -9.5h0m16 17.5h0m6.5 -1.5h0m44 -12h0m-48.5 7.5h0m11.5 -14h0m-7 0h0m41 -4.5h0m-3.5 3h0m-40.5 30.5h0m-10 -23.5h0m5.5 39.5h0m19 -32.5h0m9 13.5h0m12.5 -31.5h0m-33 21h0m43.5 -15h0m-46.5 -5.5h0m7.5 52.5h0m15.5 -40h0m-20 31.5h0m38 -27h0m7.5 -11h0m-50.5 -5h0m13 51h0m35.5 -42.5h0m-53 25.5h0m9 11h0m25.5 -43.5h0m-20.5 15.5h0m-9 -9h0m-7.5 3h0m16.5 9h0m33 7h0m-9.5 9.5h0m5.5 9h0m2.5 -27.5h0m7 11h0m-5 -26h0m-35 19.5h0m6.5 -9h0m18.5 -2.5h0m11.5 -1.5h0m-37.5 21h0m21.5 12.5h0m-6.5 -42.5h0m4.5 20h0m-29 -19h0m4.5 11h0m4 30h0m23.5 -38h0m-27.5 41h0m29.5 -10h0m-33.5 12h0m14 -51.5h0m24 20h0m2 -2h0m-3 6.5h0m-36.5 2h0m-2 26.5h0m6 -29h0m32.5 -18.5h0m-29 12.5h0m-20 -7.5h0m31 29.5h0m32 0h0m-6 -7h0m-13 -12.5h0m-27 20h0m8 -2.5h0m-16.5 -2h0m15.5 -13.5h0m20 -17.5h0m-0.5 -5h0m-16 10.5h0m-6 14h0m-15.5 7h0m38 -19h0m-17.5 34.5h0m-6 -46.5h0m-4 11h0m-4.5 8h0m41 32.5h0m-11 -25h0m-34 -8h0m9 32h0m22.5 3.5h0m-29 -42h0m19.5 25h0m6.5 -2h0m2.5 -33.5h0m-28 18h0m21.5 19h0m-23.5 -13.5h0m40.5 28.5h0m-34.5 -46.5h0m-4.5 39.5h0m35 -39h0m-18 35.5h0m-9 -5.5h0m-3 -31h0m17 6.5h0m26 -9h0m5.5 38.5h0m-32 -25h0m-3 31.5h0m-11 -4h0m8.5 -45.5h0m-6 34h0m-5 -26.5h0m50 31h0m-34.5 -26h0m3.5 32h0m-5 -43h0m30 21.5h0m-22.5 -9.5h0m-25 -10h0m26 4h0m3 13h0m-28.5 5h0m32 -21.5h0m-37 35h0m36.5 -30h0m-35.5 30.5h0m10.5 2h0m2 -17.5h0m31.5 11h0m-22.5 4.5h0m-15 3.5h0m21 -27h0m6.5 27.5h0m-12.5 1h0m-6.5 -4h0m12.5 -9.5h0m-23 -10h0m10.5 16.5h0m8.5 -5.5h0m-16.5 -18h0m-16.5 8.5h0m55 9h0m10 -5.5h0m-21 15h0m-14.5 -17.5h0m-19.5 22h0m39.5 -24.5h0m-18.5 34.5h0m7 -29h0m-10 -3h0m17.5 -18.5h0m2 46.5h0m-3 -48.5h0m17 37.5h0m-23 -0.5h0m-22.5 7.5h0m21.5 -20.5h0m28 -9.5h0m-16 16h0m1 -11h0m-55 -7.5h0m44.5 11.5h0m-20.5 -0.5h0m-5.5 10.5h0m8 -2h0m23.5 -2.5h0m-1 -16.5h0m-27.5 9h0m13.5 17h0m-22 -5.5h0m18.5 -28h0m0 41h0m10.5 -41.5h0m6 27.5h0m-2 7h0m-11 -25.5h0m12 2.5h0m-34 19h0m16.5 -12.5h0m-7 -24h0m-2.5 40h0m25 -7.5h0m-25 17.5h0m32.5 0.5h0m1.5 -36h0m-36 26.5h0m19 -19.5h0m-4 -5.5h0m6.5 -15.5h0m-11 19.5h0m9.5 2.5h0m-15.5 -6h0m44 13.5h0m-45 2.5h0m34 -5.5h0m9 -23h0m-29 38h0m13 6h0m-34 -17h0m35 -24h0m-18.5 7.5h0m-0.5 -0.5h0m30.5 -7.5h0m-36.5 25h0m-5 2h0m24 15.5h0m0.5 -34h0m-1 35h0m-18 -29h0m3 -4.5h0m-14 15.5h0m14.5 -11.5h0m5 23.5h0m-28 -22h0m11 19h0m41 -21h0m-14 -6.5h0m-21.5 33.5h0m-7 -19h0m-1 17.5h0m24 -18h0m-26 -16h0m10 42h0m24.5 -35h0m13 -13.5h0m-10 26h0m-48 -14h0m26.5 33h0m-7.5 -20.5h0m21 -14.5h0m-4.5 23h0m-23.5 -23h0m-8 7h0m27.5 20.5h0m13.5 -38.5h0m15.5 32.5h0m-16 -23.5h0m19.5 6h0m-27.5 -7h0m-7.5 2.5h0m16 10.5h0m16 9h0m-12 0.5h0m-11 -3h0m-28.5 -23h0m20.5 25.5h0m-23 -19.5h0m41 34h0m-31.5 -3.5h0m-15 -32.5h0m22.5 -1h0m29 20.5h0m-21 8.5h0m-21.5 -22.5h0m13 3.5h0m27 -17.5h0m-32.5 4.5h0m32.5 30h0m-31 -6h0m-3.5 -19h0m-12.5 8.5h0m10 0h0m55 -3.5h0m-25.5 -11.5h0m-18.5 33h0m23.5 -28h0m-20.5 -2.5h0m9 8.5h0m-20 4h0m22.5 0h0m7 4h0m-34 16h0m33 -23h0m-14.5 0h0m4 -20h0m-7.5 25h0m20 -19.5h0m-1.5 0h0m-27.5 19.5h0m3 19.5h0m35 -2h0m-34 -7.5h0m-1 -23.5h0m25 30.5h0m-9 6h0m24 -42h0m-27 -5.5h0m-8.5 12.5h0m-16 11.5h0m38 -21.5h0m-22 31h0m-7 -19h0m-6.5 23.5h0m9.5 3.5h0m29 -24h0m5 2.5h0m-37 5.5h0m17.5 4h0m-4.5 -0.5h0m-3.5 -9.5h0m2 -22h0m0.5 53.5h0m-26 -27h0m14 -14h0m9 14h0m-9.5 18.5h0m25.5 -39.5h0m-14 15h0m4 2.5h0m17 11h0m-31.5 -6.5h0m48.5 -7h0m-32.5 11.5h0m-14.5 13.5h0m3.5 -11.5h0m23 -21h0m-13.5 43.5h0m1 -12h0m18.5 8.5h0m-0.5 1.5h0m14 -3.5h0m-24 -0.5h0m15 -36h0m-43.5 36h0m12 -14.5h0m11 -18h0m-18.5 1.5h0m50.5 6.5h0m-55.5 10.5h0m40.5 -22.5h0m15 28h0m-48 11.5h0m19.5 -11.5h0m17 -8h0m-31 -18h0m0 3.5h0m-16.5 27.5h0m57.5 -14.5h0m-16 -12h0m-39.5 18.5h0m20 18h0m-18 -9.5h0m-0.5 -36h0m47.5 12h0m-8.5 27.5h0m13.5 -1h0m-48 -15.5h0m-0.5 18.5h0m14.5 -12h0m0 -26h0m-3 -12.5h0m5 29h0m-21 -8h0m6 -19.5h0m19 29h0m0 8h0m-20.5 -19.5h0m9.5 -3h0m2 17h0m-1.5 19.5h0m18 -22.5h0m-14 10h0m-15 -16.5h0m18 25.5h0m29.5 -41h0m-47.5 26h0m29.5 1h0m-9.5 -34h0m-0.5 9.5h0m-27.5 -7.5h0m32 3h0m-10.5 13h0m23.5 -8.5h0m2 0h0m-42 -6.5h0m45.5 16.5h0m-14.5 -9h0m-15.5 33.5h0m-5.5 -11.5h0m-10.5 14h0m-1.5 -14h0m-4 -5.5h0m31 -25h0m25.5 14.5h0m-43.5 14h0m-3.5 -8.5h0m5 7.5h0m4.5 -18h0m-11.5 33.5h0m-7.5 -28h0m-3 2h0m29.5 10h0m29.5 20h0m-49.5 -4h0m-6.5 -12.5h0m60.5 -4.5h0m-40.5 -16.5h0m-11.5 18.5h0m9.5 -9h0m2 -16h0m41.5 3h0m-20.5 9.5h0m3 -5.5h0m-17 32h0m15.5 -40h0m-1.5 8h0" stroke="#000" stroke-width="1.0" stroke-linecap="square" opacity="0.8" fill="none"/><path d="M201 80.5h0m-6 -2.5h0m12.5 -7h0m-24.5 29.5h0m22.5 -24h0m1.5 -1.5h0m-26.5 19h0m30 -16.5h0m-15 12h0m0.5 -6h0m-1.5 7h0m17.5 -13h0m-9.5 -2.5h0m-7.5 12h0m11.5 -10h0m5 -1h0m-4.5 -0.5h0m-16 22h0m-1.5 -0.5h0m-2.5 2.5h0m14 -14h0m0.5 -5.5h0m-1.5 0h0m2.5 2.5h0m-3.5 -0.5h0m15 -9h0m-7 2.5h0m-16 18.5h0m11 -12h0m-12.5 6h0m11 0h0m-14.5 8.5h0m11 -18h0m18 -9h0m-14 8.5h0m-5 11h0m12 -17.5h0m-17 23.5h0m-10.5 7h0m27.5 -36.5h0m2 3h0m-30 27.5h0m3.5 -3.5h0m21 -12.5h0m-9 2.5h0m-5.5 8h0m19.5 -18.5h0m-16 20h0m8 -10h0m-6.5 6.5h0m7.5 -7h0m-4.5 -1h0m8 -1.5h0m-18 21.5h0m12.5 -21.5h0m-19 17.5h0m31.5 -23.5h0m-4.5 3.5h0m-1.5 0h0m-2.5 0h0m-15 14h0m4 -4h0m-1 3.5h0m9.5 -13h0m1.5 3h0m-18 14h0m0 6h0m-4 3.5h0m11.5 -12h0m7.5 -5.5h0m-6 0h0m4 -7.5h0m-0.5 7.5h0m6 -2h0m-13.5 9.5h0m-2 7h0m16.5 -27h0m4.5 -5.5h0m0 1h0m-24.5 27.5h0m11 -16.5h0m-2.5 9.5h0m6 -10h0m-3 10h0m-0.5 -6.5h0m-6.5 0.5h0m7.5 1h0m-6 8h0m4 -6h0m-4 1.5h0m2.5 0.5h0m0.5 6h0m5 -8.5h0m-8.5 -1.5h0m2.5 4.5h0m5.5 -2.5h0m-6 3h0m1.5 1h0m-7 10h0m5.5 -10h0m15 -21h0m-1 2.5h0m-9.5 10.5h0m-5.5 10.5h0m-0.5 -5.5h0m9 -7.5h0m5.5 -0.5h0m-20 15.5h0m12 -12.5h0m-2 10.5h0m7 -14h0m7 -3.5h0m-11.5 8h0m-2.5 0.5h0m1 5.5h0m-14.5 2h0m7 4h0m10 -15h0m3 0h0m-15 19.5h0m13 -14h0m-13 8.5h0m4 3.5h0m19 -23.5h0m-24.5 23h0m13.5 -15h0m-4 -1h0m12.5 -8.5h0m-1 5h0m-6.5 4h0m-9 3.5h0m16 -6.5h0m-11 8h0m11.5 -13.5h0m-14 13.5h0m5.5 -7h0m-8 8h0m21 -15.5h0m-10.5 4.5h0m8 -6h0m-21 21h0m4.5 -7.5h0m-7 10h0m8.5 1.5h0m-1.5 -7h0m3.5 1.5h0m-12 8.5h0m0 3h0m20 -24.5h0m-1 -1h0m3 6.5h0m3 -3.5h0m-15.5 8h0m9.5 -8h0m-4 1.5h0m2.5 -2h0m3 1.5h0m-2 0.5h0m0 -2.5h0m-17 17h0m9 -2.5h0m4.5 1h0m0.5 -6.5h0m-11.5 5.5h0m9 -4.5h0m-3 -4.5h0m3.5 -0.5h0m-4.5 2.5h0m5 2h0m-10.5 7.5h0m-5 -1h0m9 -7h0m21.5 -15.5h0m-22 20.5h0m-6.5 10.5h0m13.5 -24h0m-3 1.5h0m-2.5 14.5h0m8 -3.5h0m-3 -5.5h0m-9 2h0m1 10.5h0m0 -7h0m8 -12.5h0m7 -1h0m5 -6.5h0m-13 15h0m0 1.5h0m-8 10h0m13 -15.5h0m-7.5 7h0m7.5 -9.5h0m-14.5 17h0m4 -8h0m2.5 -5h0m5.5 -9.5h0m-9 20h0m10.5 -10.5h0m-11.5 11.5h0m14.5 -16h0m1.5 -8.5h0m-2.5 15.5h0m1.5 -11h0m3 0.5h0m0.5 -5h0m-23 20h0m8.5 6h0m-9.5 4h0m19.5 -27.5h0m-6 6h0m10 -5.5h0m3 1.5h0m-17 17h0m9 -15h0m-21.5 20.5h0m20.5 -22h0m2.5 -1h0m6 -3.5h0m-13.5 17h0m-12 10.5h0m16 -12.5h0m8.5 -12.5h0m-11 5h0m9.5 -1.5h0m-13 10.5h0m2 3h0m1.5 -6.5h0m-1.5 2.5h0m-6 3.5h0m4.5 -3h0m-5.5 4.5h0m-4.5 7.5h0m21 -20.5h0m-8 -7h0m7.5 6h0m0 1h0m-8.5 3h0m-9 19.5h0m22 -29h0m-8.5 3.5h0m-5 12h0m14 -13.5h0m-22 17h0m0.5 -1.5h0m7 -0.5h0m-9.5 6.5h0m14.5 -13h0m-10.5 11h0m10 -20.5h0m-1.5 5h0m-2 6h0m-2 9h0m-4.5 -6.5h0m0 7h0m8.5 -10h0m3.5 -4h0m-4.5 0.5h0m5.5 -2.5h0m3.5 -5h0m-18.5 21.5h0m12 -12h0m-17 14h0m10 -4.5h0m19.5 -22h0m-6.5 8h0m-2.5 5.5h0m-6.5 -4.5h0m1.5 8h0m-10.5 8h0m-3.5 -0.5h0m4.5 -5.5h0m13.5 -13.5h0m-7.5 12.5h0m2.5 -1h0m2 0.5h0m-13.5 14.5h0m2.5 -10.5h0m-4 2h0m22.5 -24.5h0m-17 15.5h0m9 -6.5h0m-16 17.5h0m-2 0.5h0m12.5 -7h0m6 -5h0m-11 12h0m11 -15h0m2.5 -0.5h0m0.5 -1h0m1 -1h0m-16 10.5h0m3 -7.5h0m5 8h0m5 -8.5h0m-16.5 19.5h0m20 -23h0m-11 11.5h0m-1 -0.5h0m3.5 -9h0m-8.5 15h0m13.5 -16.5h0m3 1h0m-5.5 4h0m-7 12h0m1.5 -6h0m17 -17h0m-9 12h0m-5.5 0.5h0m4.5 -3.5h0m5.5 -10h0m1 3h0m-6 10h0m-13 9.5h0m9.5 -7.5h0m-15 6h0m24 -25.5h0m0.5 14h0m5 -9h0m-3 -3h0m-19 29h0m-3.5 -4.5h0m-4 6.5h0m3 -1.5h0m16.5 -21.5h0m-16.5 24.5h0m5.5 -8.5h0m-7.5 -2.5h0m23 -5.5h0m-7 -3h0m1.5 9h0m-6 -4h0m2.5 0h0m-5 -1.5h0m1.5 4.5h0m-8.5 10h0m22.5 -22.5h0m-11 5h0m11.5 -4.5h0m-18 16.5h0m21.5 -23h0m-13.5 14h0m-2 -1h0m-4 4h0m12 -2h0m-16 3h0m4 -5h0m-3.5 9.5h0m0 -3.5h0m1 0.5h0m16.5 -18h0m-11.5 8h0m-4.5 18h0m1.5 -8.5h0m12 -16.5h0m-5 10.5h0m-6.5 3.5h0m3.5 2h0m7.5 -9h0m-2 3h0m4 -3h0m-19 6.5h0m13 -2h0m13 -13h0m-13 13.5h0m5 -1h0m5.5 -12.5h0m-5 3.5h0m-12 17h0m9 -20h0m-1 5.5h0m-16.5 14h0m0 2.5h0m17.5 -10h0m7.5 -12.5h0m-15 11h0m1 6h0m-7.5 2h0m-6.5 13h0m6 -3.5h0m8 -13.5h0m-8 7.5h0m6 -7h0m10.5 -5.5h0m4.5 -9h0m-9.5 8.5h0m-5 9h0m-9.5 11.5h0m5 -11h0m-0.5 1h0m14.5 -16h0m-16.5 23h0m19.5 -20h0m-20 14h0m3 3h0m5.5 -10h0m0 1h0m4 -9.5h0m-7 18.5h0m9.5 -13h0m-19 15h0m15.5 -23h0m2 4h0m-8 14h0m7 -5.5h0m-15 4.5h0m8.5 1h0m22 -16.5h0m-16.5 13.5h0m-11 7h0m14.5 -11.5h0m-1.5 -6.5h0m-4 5h0m10 -13.5h0m-7.5 13.5h0m-9 1h0m9 -1h0m6 -1h0m-3 -9h0m-6.5 8h0m12.5 -11h0m-18 19.5h0m6 -12h0m12.5 1.5h0m-16 11h0m6.5 -5h0m0.5 -3.5h0m-3.5 6.5h0m3 -4h0m5 -3h0m1 2h0m5 -10h0m-8.5 7h0m9.5 -8h0m-11.5 11.5h0m13.5 -11h0m-27.5 24.5h0m-7 -4.5h0m34.5 -23h0m-14 4h0m7.5 1.5h0m-2.5 -4h0m-16.5 23.5h0m20.5 -20.5h0m-1.5 6.5h0m-19 14h0m21 -20.5h0m-8 9h0m-7.5 7.5h0m13.5 -11.5h0m-13 15.5h0m9.5 -16.5h0m-15 16.5h0m2.5 -6h0m13 -8h0m1.5 -11h0m0 9h0m0.5 -3.5h0m-3.5 0.5h0m0.5 5h0m1 -5h0m-1 4h0m-21 19h0m10.5 -6h0m13.5 -24.5h0m3 13h0m3 -4.5h0m-17 9h0m-8 9.5h0m-1.5 1.5h0m25 -23.5h0m-2.5 1h0m-2 -0.5h0m-14 9h0m0.5 10.5h0m15.5 -20.5h0m-11.5 16.5h0m12 -8.5h0m-15.5 7.5h0m3.5 -0.5h0m-10.5 4h0m8.5 -2h0m2.5 -6h0m-10.5 11h0m16.5 -8h0m0.5 -5.5h0m-13.5 10.5h0m1 -2h0m10 -5.5h0m-14.5 9.5h0m1 3.5h0m-3.5 -4h0m18 -16h0m2.5 -1.5h0m-8.5 12.5h0m-12 9.5h0m1.5 4h0m10 -3.5h0m6 -17h0m-1.5 1.5h0m3 3.5h0m-14 -4h0m9.5 0h0m-9.5 14h0m12.5 -12.5h0m-13.5 13.5h0m6 -15.5h0m16.5 -9h0m-20 18h0m10 -11.5h0m3 3h0m7.5 -8.5h0m-17 18h0m16 -15.5h0m-19 15h0m-3 4h0m16 -12.5h0m-20 16h0m23.5 -31.5h0m-6.5 13.5h0m-8.5 8.5h0m12 -11.5h0m-1 -3h0m8.5 -0.5h0m-2.5 -2h0m-6 -1.5h0m-0.5 16h0m3.5 -13.5h0m-18.5 31h0m5.5 -14h0m1.5 2h0m6 -3h0m-11.5 3h0m17 -14h0m-14 11h0m11 -11h0m4.5 1h0m4 -8.5h0m-20.5 27.5h0m9.5 -17.5h0m-4 6.5h0m-11 9h0m19.5 -22h0m10 -4.5h0m-17 17.5h0m14.5 -18.5h0m-29.5 27.5h0m4.5 0h0m10 -10h0m2 -7.5h0m5.5 -5h0m-16.5 20h0m18.5 -25h0m-19.5 21.5h0m21 -21h0m2 6.5h0m-4 0h0m-24 20h0m23.5 -25h0m1 3.5h0m-13 20h0m0.5 -5.5h0m12 -10h0m-13 9.5h0m22.5 -23.5h0m-1 14h0m-22 12h0m14.5 -17.5h0m-21.5 21.5h0m15.5 -8.5h0m1 -18h0m-3 12.5h0m-3 2h0m-11.5 11h0m8.5 -4.5h0m5 -6.5h0m11.5 -2h0m-24.5 13.5h0m10 -3h0m-12 9.5h0m26.5 -29h0m-18.5 25.5h0m20 -25.5h0m-25.5 23h0m15 -12.5h0m-6.5 10h0m8 -20h0m-4.5 18.5h0m-4 -3.5h0m11.5 -11.5h0m-5.5 14.5h0m-12.5 7h0m-4.5 -2h0m1.5 0.5h0m10 -6h0m0 -5h0m15 -10h0m-15 16.5h0m11.5 -19.5h0m-13 11h0m4.5 -4h0m-6 13.5h0m-2 -2.5h0m3 -2.5h0m-1 9h0m16 -24h0m-14.5 16h0m11 -10h0m-18.5 11h0m15 -3.5h0m6 -14.5h0m-14 17.5h0m18 -16h0m-23 26.5h0m17 -20.5h0m-6 8.5h0m-12.5 9.5h0m16.5 -9.5h0m1.5 -7.5h0m-1.5 1h0m3.5 -9.5h0m-9.5 11h0m-3 2.5h0m8 -4.5h0m7.5 -14h0m-8 13h0m-14 15h0m19 -16h0m-4 -1h0m-15 20.5h0m9 -11.5h0m8.5 -4h0m-10 7h0m8 -5.5h0m6 -3.5h0m-13.5 8.5h0m12 -16.5h0m-13.5 15.5h0m-6.5 9.5h0m12 -11.5h0m-4 -3.5h0m9 -3.5h0m1 1h0m0.5 3.5h0m-7.5 -7h0m13.5 -7.5h0m-6.5 6.5h0m-17.5 15h0m13 -11h0m-6 9.5h0m13 -9.5h0m-15 17h0m7 -14h0m10 -9.5h0m-30 24.5h0m33.5 -26h0m-22.5 20.5h0m-2.5 5h0m18 -22h0m-3 12.5h0m3 -10h0m-11 7.5h0m-7.5 -1h0m15 -7h0m-12 18h0m-2 2.5h0m-1 -4h0m24 -21h0m-17 15h0m10.5 -12h0m-13 17h0m-0.5 0.5h0m8 -12h0m4.5 -8h0m-12 22.5h0m-4 -4.5h0m2 -2h0m3 -1h0m3.5 -2h0m8 -6h0m-9.5 11h0m7.5 -10h0m-10 12h0m15.5 -14.5h0m-19 16.5h0m3 -5h0m13 -20.5h0m-0.5 2.5h0m-0.5 3h0m-1.5 -1h0m-15.5 18h0m8.5 -8h0m4.5 -3h0m-2 -5h0m11 -3h0m-24 24.5h0m0 3.5h0m12.5 -18.5h0m-12.5 16.5h0m21.5 -22.5h0m-15 13.5h0m-4 7h0m22.5 -22h0m-13 11.5h0m-4.5 3h0m-5 7h0m5 -2h0m4.5 -10.5h0m1 3.5h0m-6 -1h0m13.5 -17.5h0m0 0.5h0m-11.5 16h0m8 -1h0m4.5 -19h0m-1.5 6.5h0m-14 13.5h0m2 11h0m-2 -6.5h0m14 -14h0m1 5h0m-21.5 16h0m26 -20h0m-12.5 7.5h0m0.5 1.5h0m1.5 -2.5h0m-10.5 7.5h0m8.5 -4.5h0m-10 10.5h0m-4 -6h0m4.5 2.5h0m1 1.5h0m14 -19h0m-16 21h0m16.5 -19h0m1 -3.5h0m-6 11h0m0 -4h0m-2.5 3h0m18 -17h0m-25 34.5h0m12 -17.5h0m6 -8.5h0m-11.5 16h0m8 -20.5h0m-16.5 16h0m-1.5 8.5h0m6 -5h0m10.5 -16h0m-11 22h0m8.5 -22h0m1 8h0m0.5 0h0m-4.5 3h0m5.5 -15h0m4 1h0m-2.5 -0.5h0m-9 10h0m13 -13h0m-5.5 8h0m5.5 -7.5h0m-16.5 20.5h0m-5 0.5h0m6 -3.5h0m8 1h0m11 -17h0m-5 3h0m-3.5 1h0m-15.5 11h0m-1.5 6.5h0m13.5 -3.5h0m-7.5 1h0m8 -9.5h0m-8 11h0m1 0.5h0m1.5 -2h0m7.5 -11.5h0m-13 16h0m0 -7h0m0.5 2.5h0m4.5 -3.5h0m-12 14h0m21 -23h0m-12.5 16h0m0 4h0m14.5 -23h0m-4 9.5h0m3 0h0m-2 1h0m-7 0.5h0m12 -12.5h0m-9.5 12.5h0m-4.5 3h0m-2.5 2h0m12.5 -12h0m3 -2h0m-3 8h0m-4.5 -5h0m-2.5 14.5h0m5 -9h0m9.5 -10.5h0m-24.5 22.5h0m10 -9h0m19.5 -14h0m-18 11.5h0m6.5 -5h0m4 -4h0m-9.5 7h0m-6.5 1.5h0m21 -12h0m-18 9.5h0m-10.5 6h0m7 4h0m-1.5 4.5h0m-1.5 1.5h0m3 -4h0m-8 5.5h0m25 -30.5h0m-6.5 10h0m-4.5 8.5h0m2.5 3h0m-12 6.5h0m9.5 -17h0m-8.5 12h0m2.5 -5.5h0m0 8h0m13.5 -14.5h0m4 0.5h0m-9.5 -1h0m8 -7.5h0m-5 11.5h0m-8 2h0m-2 3.5h0m4 -7h0m-12.5 12h0m6.5 -7h0m-2 13h0m17.5 -27.5h0m-11 14.5h0m-5.5 -2.5h0m5.5 5h0m5.5 -14h0m-2.5 2.5h0m7.5 3h0m-7.5 6h0m10 -12.5h0m-17.5 14.5h0m19 -16.5h0m-4.5 10h0m-9.5 -1h0m-5.5 9.5h0" stroke="#000" stroke-width="1.0" stroke-linecap="square" opacity="0.9" fill="none"/><path d="M175.5 56h0m23.5 -5.5h0m-1.5 1h0m-25.5 8.5h0m26.5 -7.5h0m-30.5 4.5h0m-6.5 0h0m26 -1.5h0m-13 1.5h0m19.5 -4.5h0m2.5 -0.5h0m-0.5 3h0m-0.5 -2.5h0m-22.5 5h0m12 -3.5h0m11 -2h0m-2.5 -1h0m-13 4h0m-6 -1.5h0m26 0h0m-23.5 -1h0m15 0.5h0m-28 7.5h0m15.5 -4.5h0m0 -2.5h0m1.5 3h0m17 -2.5h0m-10 -1h0m11.5 1.5h0m0 -2.5h0m-35.5 7.5h0m16 -6.5h0m-9.5 3.5h0m18 -2.5h0m-16 1.5h0m17.5 -3h0m-20 5h0m31 -6h0m-31 6h0m8 -2h0m-14.5 4h0m9.5 -3h0m-9.5 -0.5h0m33.5 -4h0m-14 1.5h0m6 -0.5h0m-2.5 0h0m-5 4h0m-17 0.5h0m16.5 -3h0m-17.5 3.5h0m17.5 -4h0m-8.5 4.5h0m1.5 -2h0m25 -5.5h0m-5.5 3.5h0m5 -3h0m-19.5 6h0m-13 1.5h0m27.5 -5h0m-3.5 0h0m5 -2.5h0m-2 1h0m-29 5h0m18 -1h0m-14 -0.5h0m9.5 -0.5h0m19.5 -4.5h0m-18.5 2h0m-8 4h0m-7 2.5h0m24 -6h0m-6 1h0m3 0.5h0m1 0.5h0m2 -0.5h0m-4.5 -1h0m-3.5 1.5h0m1.5 -2h0m5 0.5h0m-12.5 3h0m-8 2h0m20 -5h0m6 -1h0m-11.5 4.5h0m9.5 -4h0m6 0.5h0m0 -3.5h0m-29.5 9h0m33.5 -5.5h0m-34 5.5h0m-2 -2h0m25.5 -6h0m-5.5 4.5h0m-2.5 -2h0m-17.5 6.5h0m20 -4h0m-8 -2h0m-4 5h0m17 -5h0m-15.5 2h0m-6 1h0m22.5 -2.5h0m-26 3.5h0m17 -4.5h0m4 0h0m13.5 -4h0m-9 5.5h0m-11 -2h0m-3 2.5h0m-9 1h0m33.5 -5h0m-3 1h0m-32 3h0m4.5 1.5h0m21.5 -5h0m-28 5h0m19.5 -4.5h0m12.5 1h0m-19 0.5h0m26 -4.5h0m-4.5 2.5h0m-28.5 7.5h0m27 -9h0m-27.5 8.5h0m2 -2h0m-2 -1h0m6.5 -1.5h0m-10.5 3.5h0m26.5 -4.5h0m-16 2h0m16 -2.5h0m2.5 0.5h0m-3.5 -0.5h0m-19 3h0m5.5 -1h0m-7 2h0m27 -4.5h0m-28.5 6h0m34 -9.5h0m-1 2h0m-1 -0.5h0m-1 1.5h0m-20 2h0m22.5 -4h0m-28.5 5h0m12 1h0m-5.5 -2.5h0m16 -2h0m-16.5 3h0m-10 4h0m1 -2.5h0m20 -2h0m-22 3h0m-5 0.5h0m1 2h0m21 -4.5h0m-15 2h0m24.5 -3h0m-11 1.5h0m6 -2.5h0m-0.5 2.5h0m-10.5 -2.5h0m-5.5 1.5h0m-2.5 5h0m11 -4h0m-0.5 1h0m10.5 -3.5h0m-9 2h0m-13.5 2.5h0m22 -4.5h0m-20.5 3.5h0m29.5 -7.5h0m0 3h0m-10.5 2h0m-3.5 -0.5h0m5 3.5h0m-22 0.5h0m13.5 -2.5h0m-6 1.5h0m25.5 -5h0m-33 5.5h0m25.5 -6.5h0m-26 4.5h0m21.5 0h0m2.5 -0.5h0m7.5 -4h0m-13 2.5h0m10.5 -2h0m-31.5 6.5h0m5.5 -1.5h0m18.5 -3.5h0m-15.5 5.5h0m27 -6h0m-5.5 1h0m-31.5 4h0m23 -3h0m-7.5 -0.5h0m-6 2.5h0m5 0h0m19 -1.5h0m-21 1h0m-10 3h0m5.5 -3.5h0m8 1.5h0m21 -4h0m-39 8.5h0m16 -4h0m14 -6h0m8.5 2.5h0m-34.5 3h0m19.5 -2.5h0m7.5 1h0m-19 1.5h0m1.5 -1.5h0m-10.5 5h0m30.5 -8h0m-31 6.5h0m11.5 -4h0m1.5 0.5h0m-1 0h0m14.5 -3.5h0m-14.5 6h0m-12 0h0m19 -4h0m0 0h0m12.5 -2h0m-26.5 6h0m31.5 -7.5h0m-34.5 5.5h0m-3 2.5h0m25 -4.5h0m-16 3.5h0m16.5 -3.5h0m8 -3h0m-7.5 4.5h0m-24 2.5h0m5.5 -1h0m5 -0.5h0m-7 3.5h0m20 -6.5h0m4.5 -3h0m-5 1.5h0m-12.5 5.5h0m1.5 1h0m-10 2h0m33 -8.5h0m-27 4h0m22.5 -1h0m1 -3h0m0.5 -1h0m-10.5 4h0m-7.5 2h0m20 -3h0m-2 -3.5h0m-5.5 2.5h0m-29.5 5.5h0m29 -5h0m-27.5 5.5h0m6.5 0h0m12.5 -5h0m9.5 0h0m-2.5 1.5h0m-22 3h0m32 -6h0m-23 4.5h0m7 -2.5h0m-2.5 3h0m-19.5 0.5h0m11 -2h0m11.5 -1.5h0m14.5 -0.5h0m-37.5 5.5h0m10.5 -2.5h0m-2 -1h0m-7 2h0m34.5 -5h0m-34 4h0m30 -3.5h0m-21.5 6h0m24 -6h0m-29.5 4h0m16.5 -3.5h0m-13 4.5h0m30.5 -7.5h0m-38 6h0m18.5 -2.5h0m17 -1.5h0m-30 5h0m16.5 -4.5h0m13 -1h0m-19.5 4h0m17.5 -1.5h0m2 -2.5h0m-23.5 3h0m16.5 -3.5h0m-19 6h0m9.5 -2.5h0m-18.5 4h0m36.5 -5.5h0m-12.5 1.5h0m-3.5 0.5h0m3 -1h0m-12.5 3.5h0m-6 -2.5h0m9.5 -1h0m-7.5 2h0m-2.5 0h0m14.5 -1.5h0m-6 2.5h0m16 -4h0m-10 0.5h0m18 -3h0m-35.5 7h0m1 -1.5h0m20 -1h0m4.5 -2.5h0m-5 0h0m10.5 1.5h0m-16.5 1.5h0m-12.5 0.5h0m12 0.5h0m1 -3.5h0m-7 2.5h0m3.5 -1.5h0m9 0.5h0m-18 2.5h0m2 -2.5h0m10 0.5h0m14.5 -5.5h0m-5 2.5h0m-8 3h0m-3.5 1h0m5 -0.5h0m18 -3.5h0m-32 5h0m1.5 0.5h0m10.5 -1.5h0m-8 0.5h0m4.5 1.5h0m-14 0.5h0m10 -1h0m7 -4h0m-13 4.5h0m24.5 -5h0m-3 -0.5h0m13.5 1.5h0m-16.5 -0.5h0m-5 1h0m-13 5h0m28 -3.5h0m-14 2h0m10 -4.5h0m-22.5 6h0m32 -8.5h0m-24.5 3.5h0m12 1.5h0m-8.5 -2h0m16 0h0m5 -2.5h0m1 -3h0m-22 9h0m-17 1h0m36 -10.5h0m-33 9h0m28 -6h0m-0.5 0h0m-13 5h0m-0.5 -3h0m3 0.5h0m-7 0.5h0m4.5 0.5h0m-5.5 0h0m-11 3h0m26.5 -5h0m-3.5 -1h0m-3 2.5h0m13.5 -1.5h0m-27 3h0m11.5 -5h0m3.5 1.5h0m-16.5 4.5h0m23 -7h0m-25 7h0m22.5 -3.5h0m-9.5 0.5h0m14.5 0h0m-8 -2h0m-7 2h0m-16 3h0m13.5 -1h0m0 -0.5h0m11 -1h0m-11.5 1.5h0m2.5 -0.5h0m-8 4h0m24.5 -10h0m-21 6.5h0m16 -3.5h0m-4.5 1.5h0m-4.5 1h0m-3.5 -0.5h0m-15 2.5h0m10.5 -2.5h0m8 0.5h0m17.5 -4h0m-36.5 7h0m33 -3h0m-23 0.5h0m18.5 -3.5h0m-24 7h0m21.5 -6h0m-1.5 -0.5h0m13.5 -0.5h0m-13.5 4.5h0m13.5 -2.5h0m-36.5 3h0m5.5 -0.5h0m10.5 -2.5h0m0.5 2h0" stroke="#000" stroke-width="1.0" stroke-linecap="square" opacity="0.9" fill="none"/><path d="M161 80.5h0m1 -10h0m-0.5 14h0m0 5h0m0.5 -28h0m-1 12h0m2 -7.5h0m-2 33.5h0m1 -20.5h0m-0.5 8.5h0m1 7h0m-1.5 -29.5h0m0.5 3.5h0m-1 14.5h0m1 -19h0m0 -4.5h0m0 1.5h0m2 10h0m-1.5 -5.5h0m0.5 -1.5h0m-1 14.5h0m0.5 7h0m0 -13.5h0m0 19.5h0m1 -21h0m-2 8.5h0m0 -15h0m1 13.5h0m0 13.5h0m-0.5 5.5h0m-0.5 -23.5h0m3 4h0m-1 -17.5h0m-0.5 40.5h0m-0.5 -29h0m0.5 20.5h0m0.5 -5.5h0m-1.5 -11.5h0m0 -15.5h0m1.5 20.5h0m-1 2.5h0m1 -13.5h0m-1.5 16.5h0m1 8h0m-2 -19.5h0m2 -6h0m-1 22.5h0m1.5 -29.5h0m-1 -0.5h0m-1 -2h0m1 36h0m-1 -2h0m0.5 7.5h0m1.5 -8h0m-2 -17.5h0m0.5 19.5h0m0 -13h0m0 3h0m0.5 7.5h0m-0.5 -8.5h0m-0.5 -15.5h0m0.5 6h0m0.5 -1h0m0 6h0m0 19h0m0 -3h0m0 -13.5h0m0.5 -21.5h0m1 21h0m-2 12h0m0 -27h0m0.5 31.5h0m1 2.5h0m0 -39.5h0m0.5 38h0m-3 -12.5h0m2 -7.5h0m0 14h0m-1.5 7.5h0m1.5 -13h0m-0.5 -11.5h0m0 1.5h0m-1.5 4.5h0m2.5 -14.5h0m-2 30.5h0m1.5 -34.5h0m-1 13.5h0m0.5 10h0m0 4h0m-1 -8.5h0m0.5 9.5h0m0 -32.5h0m0.5 30.5h0m0.5 -27h0m-0.5 5h0m-1 -6.5h0m0.5 34.5h0m1.5 -36.5h0m-0.5 22.5h0m-1 -12h0m1.5 6h0m-1.5 -1.5h0m1.5 2h0m-1 -2.5h0m0 22h0m1 -14h0m-1 3h0m1.5 5.5h0m-1 -5h0m-2 2.5h0m3 8.5h0m-0.5 -22h0m-0.5 -7.5h0m-1.5 31h0m1.5 -21.5h0m-1.5 -10.5h0m-0.5 26h0m1.5 6h0m0 -15h0m1.5 12.5h0" stroke="#000" stroke-width="1.0" stroke-linecap="square" opacity="0.7" fill="none"/><path d="M163.5 58.5C166.3 53.3 175.2 56 180.5 56C185.8 56 191.6 56.8 195.5 58.5C199.4 60.2 202.1 64.2 204 66C205.9 67.8 207.8 67.2 207 69C206.2 70.8 202.1 74.3 199 77C195.9 79.7 191.2 82 188.5 85C185.8 88 184.3 92.5 182.5 95C180.7 97.5 180.2 99 177.5 100C174.8 101 168.8 103.2 166.5 101C164.2 98.8 164 94.1 163.5 87C163 79.9 160.7 63.7 163.5 58.5Z" fill="#fff" stroke="none" stroke-width="1" opacity="1"/><path d="M165.9 104.4C163.7 101 164.5 89.7 164.3 83.1C164 76.6 163.6 68.9 164.4 65.2C165.3 61.5 166.5 61.7 169.5 61C172.5 60.2 178.3 59.9 182.4 60.7C186.4 61.5 190.9 64 193.7 65.6C196.5 67.2 199.4 68.7 199.2 70.3C199.1 71.9 195.3 73.6 192.8 75.4C190.3 77.1 186.6 78.5 184.2 80.9C181.8 83.2 179.5 85.6 178.4 89.4C177.2 93.2 179.3 101.2 177.3 103.7C175.2 106.2 168 107.8 165.9 104.4Z" fill="none" stroke="#777" stroke-width="0.8" opacity="1" /><path d="M166.7 99.9C164.8 97 165.7 88.2 165.4 82.8C165.2 77.4 164.5 70.9 165.3 67.5C166.1 64.2 167.6 63.3 170.2 62.6C172.8 61.8 177.5 62.4 180.9 63.2C184.4 64.1 188.2 66.3 190.7 67.8C193.2 69.2 196.1 70.6 195.9 72C195.7 73.4 191.7 74.9 189.5 76.3C187.3 77.6 184.5 78.2 182.5 80.1C180.4 82.1 178.1 84.4 177.2 87.8C176.2 91.1 178.6 98.1 176.9 100.1C175.1 102.1 168.6 102.8 166.7 99.9Z" fill="none" stroke="#888" stroke-width="0.8" opacity="1" /><path d="M168 96.9C166.4 94.5 166.4 86.2 166.1 81.7C165.9 77.2 165.7 72.7 166.4 70C167.1 67.4 168.1 66.5 170.2 65.8C172.3 65.2 176 65.6 178.8 66.2C181.7 66.8 184.9 68.2 187.1 69.3C189.3 70.4 192.1 71.4 191.9 72.8C191.7 74.1 187.9 75.9 186 77.2C184.1 78.5 182.1 79.1 180.3 80.7C178.5 82.2 176.2 83.8 175.4 86.4C174.6 89 176.8 94.4 175.5 96.1C174.3 97.9 169.5 99.3 168 96.9Z" fill="none" stroke="#888" stroke-width="0.8" opacity="1" /><path d="M168.4 92.7C167.1 90.8 167.3 84.6 167.2 81C167.1 77.5 167.1 73.7 167.8 71.7C168.4 69.6 169.5 69.2 171.1 68.9C172.8 68.6 175.7 69.4 177.8 69.9C179.9 70.4 182.1 70.9 183.8 71.8C185.4 72.7 187.6 74.4 187.6 75.3C187.6 76.2 185.1 76.4 183.6 77.2C182.1 78.1 179.7 79 178.4 80.3C177.1 81.5 176.5 82.8 175.9 84.8C175.2 86.8 175.8 91.2 174.6 92.5C173.3 93.9 169.6 94.7 168.4 92.7Z" fill="none" stroke="#999" stroke-width="0.8" opacity="1" /><path d="M169.3 89.4C168.4 88 168.6 83.4 168.6 80.8C168.6 78.1 168.7 75.1 169.1 73.6C169.4 72.2 169.5 72.3 170.7 72C171.9 71.7 174.7 71.4 176.4 71.7C178.1 71.9 179.7 72.9 180.8 73.6C181.9 74.3 183.1 75.2 183 75.8C182.9 76.5 181.2 76.9 180.4 77.5C179.5 78.1 178.9 78.4 177.9 79.3C176.9 80.3 175 81.6 174.3 83.2C173.7 84.9 174.9 88.1 174 89.1C173.2 90.1 170.2 90.8 169.3 89.4Z" fill="none" stroke="#999" stroke-width="0.8" opacity="1" /><path d="M165.0 75.5C165.5 82.5 167.0 91.0 167.0 102.5" fill="none" stroke="#777" stroke-width="0.8" opacity="1" /><path d="M167.1 74.0C167.6 82.5 168.2 91.0 168.2 102.5" fill="none" stroke="#888" stroke-width="0.8" opacity="1" /><path d="M169.2 72.5C169.7 82.5 169.3 91.0 169.3 102.5" fill="none" stroke="#999" stroke-width="0.8" opacity="1" /><path d="M171.3 71.0C171.8 82.5 170.4 91.0 170.4 102.5" fill="none" stroke="#777" stroke-width="0.8" opacity="1" /><path d="M173.4 69.5C173.9 82.5 171.6 91.0 171.6 102.5" fill="none" stroke="#888" stroke-width="0.8" opacity="1" /><path d="M175.5 71.0C176.0 82.5 172.8 91.0 172.8 102.5" fill="none" stroke="#999" stroke-width="0.8" opacity="1" /><path d="M177.6 72.5C178.1 82.5 173.9 91.0 173.9 102.5" fill="none" stroke="#777" stroke-width="0.8" opacity="1" /><path d="M179.7 74.0C180.2 82.5 175.1 91.0 175.1 102.5" fill="none" stroke="#888" stroke-width="0.8" opacity="1" /><path d="M181.8 75.5C182.3 82.5 176.2 91.0 176.2 102.5" fill="none" stroke="#999" stroke-width="0.8" opacity="1" /><path d="M169 101.5h0m10 1.5h0m-5.5 1h0m7.5 1.5h0m-4 -4h0m-17.5 2.5h0m23 1.5h0m-6 -0.5h0m0.5 -4h0m4.5 6h0m-11 -0.5h0m4.5 -3.5h0m-0.5 0h0m-7 4.5h0m5 -8h0m3.5 4h0m8.5 4h0m-12 -2h0m13 -3h0m-9.5 0h0m5 -2h0m-10 7h0m-4.5 -2h0m9 0h0m-6 -2h0m3 1.5h0m4 -5.5h0m-1.5 5.5h0m-3.5 -2.5h0m0.5 -2.5h0m3.5 5.5h0m3.5 -2h0m-6 1h0m6 2h0m-0.5 -4h0m5 -2.5h0m-10.5 2h0m-1 3h0m7.5 3.5h0m-8.5 -1h0m6 -4.5h0m5.5 2h0m-7 -2h0m-2 0.5h0m-0.5 0h0m0 1.5h0m5.5 -3.5h0m-5 4.5h0m1.5 -4.5h0m-4.5 1.5h0m7.5 -3.5h0m-9.5 2.5h0m5.5 1.5h0m3.5 -1.5h0m-12 3h0m10.5 0.5h0m-2 -4.5h0m5.5 5h0m0 -4.5h0m-15.5 5h0m15 -4.5h0m5.5 2.5h0m-12.5 -1h0m3.5 0.5h0m-0.5 2h0m6.5 -1.5h0m-0.5 2.5h0m-12.5 -2h0m5 3.5h0m1 -4.5h0m2.5 2.5h0m8 -2.5h0m-6 4.5h0m-3 -0.5h0m-1.5 -9h0m7.5 4h0m-10 -0.5h0m4.5 3h0m-2 0h0m1 -6h0m5 3.5h0m-1.5 4.5h0m-5 -3h0m0.5 2h0m0.5 -1h0m-5 1.5h0m3 -2.5h0m-3 -3.5h0m3.5 3.5h0m-1.5 -1.5h0m1.5 1.5h0m1.5 2h0m0.5 -1.5h0m-4.5 -2.5h0m-0.5 5.5h0m12 -1.5h0m-3.5 1.5h0m-1.5 -6h0m2 1h0m-10.5 -2h0m17 8.5h0m-9 -6h0m-3.5 -0.5h0m4.5 -2.5h0m-5.5 7h0m-8 0h0m12 -1.5h0m7 -1h0m-3.5 -1.5h0m-5 -0.5h0m5.5 3.5h0m-1.5 -3h0m-7 -2.5h0m2 1.5h0m5.5 2h0m-5 -1h0m3 2h0m0.5 0.5h0m3.5 1.5h0m-11.5 -7h0m1.5 3.5h0m6 -4h0m-2 4h0m-4.5 -2h0m4 2h0m1 1h0m-6 -1.5h0m1 -1h0m-0.5 2h0m12 1.5h0m-6 2.5h0m0 -6h0m-4.5 1h0m4 -4h0m3 6h0m-1.5 -1h0m-9 -7.5h0m9.5 6.5h0m-4.5 2.5h0m-8.5 0h0m13.5 -1h0m5.5 1h0m-13.5 0.5h0m9.5 -6h0m3 2h0m-12 1.5h0m4 3.5h0m0.5 -1h0m9 -1.5h0m-4 -1.5h0m-14 2h0m-5.5 2h0m9 -5h0m-5 2.5h0m6 -3h0m-3 3.5h0m-2 0h0m5.5 1.5h0m-3 -3h0m1 0h0m0 1h0m2 2h0m3 0h0m7 -1.5h0m-11.5 -1h0m2.5 -4h0m13.5 1.5h0m-10 4.5h0m-4.5 1.5h0m3.5 -5h0" stroke="#000" stroke-width="1.0" stroke-linecap="square" opacity="0.8" fill="none"/><ellipse cx="172" cy="104.5" rx="4.2" ry="3" fill="none" stroke="#000" stroke-width="1.7" opacity="1" transform="rotate(0 172 104.5)"/><ellipse cx="172" cy="104.5" rx="1.8" ry="1.2" fill="#fff" stroke="none" stroke-width="0" opacity="1" transform="rotate(0 172 104.5)"/><path d="M177 100.5h0m-0.5 0h0m0 5h0m12 -5h0m-11.5 2.5h0m16 -3.5h0m-19 6.5h0m45.5 -4h0m-22.5 -4h0m-25.5 8h0m39.5 -2h0m-6.5 -1.5h0m12 5h0m-27 -5h0m1.5 -4h0m-8.5 4h0m-11 1h0m44 1h0m-39 -6h0m18 1h0m-1.5 0h0m-6.5 3.5h0m20.5 -3h0m-19 0.5h0m20 3.5h0m1.5 -1.5h0m-9.5 1h0m-3 2.5h0m-8 -4.5h0m29 -0.5h0m2 3h0m-4 -4.5h0m-2 7h0m-17.5 -4h0m-20.5 4.5h0m2 -1h0m41.5 -5h0m-34.5 -1h0m7 8.5h0m-19.5 -5.5h0m40.5 -0.5h0m-20.5 9h0m25.5 -13.5h0m-44 9.5h0m34 -5h0m-24 -4h0m11 3.5h0m-7.5 3.5h0m-7.5 2h0m1.5 -8h0m23.5 0.5h0m15.5 0.5h0m-19.5 5.5h0m9 -6h0m-22 9h0m-1 -5.5h0m21.5 0h0m-9.5 -1h0m19 -2.5h0m-16.5 0h0m-28.5 7h0m25.5 2h0m-14.5 -7h0m11.5 6h0m8.5 -4.5h0m15.5 -3.5h0m-33 6.5h0m-3.5 0h0m37 -4.5h0m-44 2.5h0m22.5 -4h0m11.5 2.5h0m-13 -0.5h0m23 2h0m0 -3.5h0m-36.5 5h0m-1.5 -6.5h0m12.5 7.5h0m24.5 -4.5h0m-11 2.5h0m0.5 1.5h0m7.5 0.5h0m-17.5 -6.5h0m-19 3.5h0m33.5 5h0m-4.5 -2.5h0m-11 -3h0m2 -2.5h0m9.5 2.5h0m-25.5 -1h0m26.5 0.5h0m-10.5 4.5h0m5.5 -4h0m11 -2h0m2.5 5h0m-31 -6h0m-16.5 2.5h0m36 1h0m-22 -3.5h0m-5.5 4h0m14.5 2h0m26 -4h0m-49 4.5h0m14 -7h0m9 3h0m-10.5 -1h0m18 -2h0m3.5 2h0m-27.5 -0.5h0m16 3.5h0m-3.5 -4h0m-8.5 4h0m-2 -1h0m32.5 5h0m8.5 -6h0m-48 -1.5h0m12 2h0m34 0.5h0m-47 5.5h0m35.5 -5h0m-24 -1h0m25.5 0.5h0m-23.5 3.5h0m3.5 -9h0m18.5 4.5h0m12 -4.5h0m-13.5 4h0m-1.5 -1h0m-26 0h0m7 1.5h0m5 -2.5h0m-11 2h0m25.5 -1.5h0m12 0h0m-29.5 7h0m17.5 -6.5h0m10.5 3h0m4 -1.5h0m-23.5 -0.5h0m-7 -1h0m-3 1.5h0m16 0.5h0m8 7.5h0m10.5 -10h0m-44.5 0.5h0m19 -1.5h0m-14.5 2.5h0m38 -2h0m-23 1h0m-18.5 1h0m-4 -1h0m32.5 9h0m-21 -12h0m20 2.5h0m-5 4.5h0m-20 -3.5h0m-6.5 2h0m5.5 4.5h0m15 -6h0m-1.5 2.5h0m-6.5 -5.5h0" stroke="#222" stroke-width="1.0" stroke-linecap="square" opacity="0.5" fill="none"/></g>
<line x1="181.2" y1="39.5" x2="181.2" y2="116.5" stroke="#6a6a6a" stroke-width="1" />
<line x1="160.5" y1="97.5" x2="237.2" y2="97.5" stroke="#6a6a6a" stroke-width="1" />
<rect x="160.5" y="39.5" width="76.69999999999999" height="77.0" fill="none" stroke="#7a7a7a" stroke-width="1" />
<rect x="161.7" y="40.9" width="15.0" height="7.4" fill="#fff" stroke="none" stroke-width="1" />
<text x="162.5" y="47.1" font-size="7.5" font-weight="normal" text-anchor="start" fill="#111" stroke="#111" stroke-width="0.15" textLength="13.4" lengthAdjust="spacingAndGlyphs">47.5</text>
<rect x="222.3" y="40.9" width="15.0" height="7.4" fill="#fff" stroke="none" stroke-width="1" />
<text x="236.5" y="47.1" font-size="7.5" font-weight="normal" text-anchor="end" fill="#111" stroke="#111" stroke-width="0.15" textLength="13.4" lengthAdjust="spacingAndGlyphs">24.8</text>
<rect x="161.7" y="109.2" width="15.0" height="7.4" fill="#fff" stroke="none" stroke-width="1" />
<text x="162.5" y="115.4" font-size="7.5" font-weight="normal" text-anchor="start" fill="#111" stroke="#111" stroke-width="0.15" textLength="13.4" lengthAdjust="spacingAndGlyphs">26.6</text>
<rect x="222.3" y="109.2" width="15.0" height="7.4" fill="#fff" stroke="none" stroke-width="1" />
<text x="236.5" y="115.4" font-size="7.5" font-weight="normal" text-anchor="end" fill="#111" stroke="#111" stroke-width="0.15" textLength="13.4" lengthAdjust="spacingAndGlyphs">1.01</text>
<text x="158.5" y="44.5" font-size="4.0" font-weight="normal" text-anchor="end" fill="#777" >10<tspan font-size="2.8" dy="-1.6">5</tspan></text>
<text x="158.5" y="63.029411764705884" font-size="4.0" font-weight="normal" text-anchor="end" fill="#777" >10<tspan font-size="2.8" dy="-1.6">4</tspan></text>
<text x="158.5" y="81.55882352941177" font-size="4.0" font-weight="normal" text-anchor="end" fill="#777" >10<tspan font-size="2.8" dy="-1.6">3</tspan></text>
<text x="158.5" y="100.08823529411765" font-size="4.0" font-weight="normal" text-anchor="end" fill="#777" >10<tspan font-size="2.8" dy="-1.6">2</tspan></text>
<text x="158.0" y="109.5" font-size="3.6" font-weight="normal" text-anchor="end" fill="#888" >0</text>
<text x="169.5" y="122.5" font-size="3.8" font-weight="normal" text-anchor="middle" fill="#777" >0</text>
<text x="176.5" y="122.5" font-size="3.8" font-weight="normal" text-anchor="middle" fill="#777" >10<tspan font-size="2.6" dy="-1.5">2</tspan></text>
<text x="195.5" y="122.5" font-size="3.8" font-weight="normal" text-anchor="middle" fill="#777" >10<tspan font-size="2.6" dy="-1.5">3</tspan></text>
<text x="214.5" y="122.5" font-size="3.8" font-weight="normal" text-anchor="middle" fill="#777" >10<tspan font-size="2.6" dy="-1.5">4</tspan></text>
<text x="231.5" y="122.5" font-size="3.8" font-weight="normal" text-anchor="middle" fill="#777" >10<tspan font-size="2.6" dy="-1.5">5</tspan></text>
<text x="198.85" y="127.0" font-size="3.6" font-weight="normal" text-anchor="middle" fill="#888" >&lt;PE-A&gt;: Tetramer</text>
<line x1="169.5" y1="116.5" x2="169.5" y2="118.0" stroke="#999" stroke-width="0.6" />
<line x1="184.5" y1="116.5" x2="184.5" y2="118.0" stroke="#999" stroke-width="0.6" />
<line x1="199.5" y1="116.5" x2="199.5" y2="118.0" stroke="#999" stroke-width="0.6" />
<line x1="214.5" y1="116.5" x2="214.5" y2="118.0" stroke="#999" stroke-width="0.6" />
<line x1="229.5" y1="116.5" x2="229.5" y2="118.0" stroke="#999" stroke-width="0.6" />
<g clip-path="url(#cla13)"><path d="M319.5 63.5h0m-11 -9.5h0m-40 25h0m24.5 12.5h0m7 -5.5h0m16.5 -21h0m-36.5 34.5h0m25 -44.5h0m-14.5 -6h0m-23 42.5h0m13.5 -0.5h0m17.5 -5h0m-18 2.5h0m-16.5 -1.5h0m44 -33.5h0m12 17h0m-48 -1h0m45.5 10h0m-51 -20.5h0m32 7.5h0m-21 23.5h0m17.5 -34.5h0m-23.5 5.5h0m7.5 -8h0m33 22.5h0m5.5 -5.5h0m-45.5 33.5h0m28 -25.5h0m-14.5 -22h0m18.5 15h0m-32.5 18h0m38.5 3.5h0m-10 -30h0m19.5 -0.5h0m7.5 4.5h0m-19 -13h0m-17 32.5h0m30 -24h0m-56 25.5h0m9.5 -1h0m15.5 -20h0m-13.5 26h0m24 -18h0m-7 -22h0m13.5 30.5h0m-29 -12h0m29.5 20h0m10.5 -26h0m-27 13.5h0m11 -11.5h0m-19 25h0m13.5 -11.5h0m-9 10h0m36.5 -27h0m-12.5 -7h0m2 1h0m-39 -5h0m41.5 26h0m-50 12.5h0m57.5 -19h0m-21.5 -11h0m3 21.5h0m-29.5 -8h0m-7 27.5h0m37.5 -46.5h0m-24 18h0m-3 11h0m35.5 -16.5h0m-46 31.5h0m10.5 -43h0m16 3h0m0 -2h0m-17.5 8h0m23.5 9h0m-19.5 14.5h0m-16.5 -18h0m52 -4.5h0m-20 -5h0m-16.5 5.5h0m-3.5 4h0m34.5 -15h0m-20 21h0m10.5 13h0m10.5 -33h0m-9.5 27h0m-0.5 -5.5h0m-27.5 15.5h0m23.5 -28.5h0m-2 -8h0m-2 -7h0m12.5 49h0m-13 -36.5h0m9.5 13.5h0m16.5 -2.5h0m-12.5 13.5h0m-29.5 -17h0m1 20h0m13 -29h0m10 7.5h0m24.5 -6h0m-37.5 37.5h0m16.5 -43.5h0m-5 7h0m-29.5 16h0m42 -7h0m3.5 -10.5h0m-8 16.5h0m-12 1.5h0m-8 -2.5h0m19 -15.5h0m-19.5 6.5h0m5 24.5h0m4.5 -26.5h0m-29.5 -6h0m19.5 -3h0m35 14.5h0m2 23h0m-30.5 3.5h0m-24.5 -39.5h0m27 24.5h0m2.5 -2h0m-3 -28.5h0m-26.5 28.5h0m21.5 5.5h0m-7.5 -3h0m12.5 -32.5h0m-15.5 23h0m28 -19h0m-34.5 30.5h0m9 -27.5h0m41 8h0m-40.5 10.5h0m13.5 -24h0m23 8h0m-40 35h0m-12.5 -46h0m57.5 36.5h0m-1 -8h0m-24 -22.5h0m5 5.5h0m-34.5 35.5h0m56.5 -28.5h0m-64 17h0m10.5 -3.5h0m-7 -10.5h0m34 -16h0m14 25h0m-37.5 4.5h0m-1.5 5h0m17.5 -15h0m24.5 -13.5h0m-39 32h0m14 0.5h0m33 -28.5h0m-59.5 17h0m46 13.5h0m-38.5 -6.5h0m50 -10h0m-48.5 0.5h0m22.5 0h0m-11.5 -21.5h0m15.5 10.5h0m-16.5 32.5h0m-14 -42.5h0m-1 40.5h0m41 -13h0m-3 -12.5h0m-27.5 0h0m-6 1.5h0m15.5 -12.5h0m-1.5 9h0m17.5 12.5h0m-22.5 -19h0m-9 26.5h0m12 -33h0m-13 33h0m14 -36.5h0m18.5 38.5h0m-12 -36.5h0m21 19.5h0m-48 -12h0m10 15.5h0m34 -2h0m-41 24h0m35 -35h0m-13 27.5h0m-12 0.5h0m14 -30.5h0m-3.5 31.5h0m2 5h0m-18 -22h0m17 -8.5h0m18 -7.5h0m5 3.5h0m-54 5.5h0m27 29.5h0m-7 -31.5h0m29 -12.5h0m-21 33h0m9 -26.5h0m-19.5 36.5h0m19.5 -39h0m-26 13h0m32.5 -13.5h0m-23.5 13.5h0m-10.5 -1.5h0m0 -2.5h0m16 17h0m31.5 -27.5h0m-26 -7h0m6.5 24.5h0m3.5 12h0m-27 -11h0m37 3.5h0m-23.5 -3.5h0m14.5 18h0m-18 0h0m31.5 -42.5h0m-21.5 28.5h0m21.5 -20h0m-44.5 23h0m11 -1.5h0m29 -16.5h0m9 3h0m-13.5 -10h0m-10.5 6.5h0m-2.5 32.5h0m-36.5 -29.5h0m28 -19.5h0m26 15h0m-7.5 27.5h0m-13.5 -34h0m6.5 10h0m-15 -15.5h0m-4.5 30h0m36.5 -22.5h0m-40 0.5h0m6.5 15h0m-8 23h0m7 -24.5h0m-11 18h0m49 -17.5h0m-32.5 5h0m34.5 -20.5h0m-25 36.5h0m15.5 -21.5h0m-42 -6.5h0m50.5 -2h0m-15.5 9h0m4.5 2h0m-29.5 -12.5h0m4.5 28.5h0m6 -37.5h0m36.5 29h0m-15 -17.5h0m0.5 0h0m-14 -4.5h0m25 8h0m-49 12.5h0m47.5 -6h0m-53 15.5h0m10.5 -28h0m6.5 34h0m34.5 -35h0m-15 17.5h0m-14.5 -25.5h0m-12.5 7.5h0m-8 19h0m32 9h0m-37.5 -9.5h0m39.5 -3.5h0m-26 -22h0m4 37h0m2 -12h0m10.5 -5.5h0m-5.5 5h0m30.5 -23h0m-9.5 31.5h0m-38 5h0m8.5 -15h0m7 -26h0m18 38h0m-29 -29h0m43.5 -2.5h0m-20 15.5h0m20 9.5h0m-43.5 5h0m4 -24.5h0m24 -3h0m-30 16h0m40 -25h0m-30 2.5h0m-9 43h0m27 -46h0m-34.5 7.5h0m59 21h0m-39.5 3h0m8.5 -1.5h0m-11 12h0m12 -26h0m-13 9.5h0m-1.5 -18.5h0m7 -4h0m5.5 40h0m-7.5 -16.5h0m-7 -11h0m47 15h0m-45 -14h0m-1 12.5h0m-15 4h0m42.5 8.5h0m6.5 -24.5h0m-8 15.5h0m-35.5 7.5h0m27.5 -38h0m1 6.5h0m-1 25h0m3.5 -5h0m-32.5 -17h0m41.5 3h0m-2 5h0m-32.5 12h0m-6.5 9.5h0m11.5 -3.5h0m-6.5 -19.5h0m3.5 3h0m16.5 16h0m9 -7.5h0m11 -26h0m-25 -3h0m38.5 24.5h0m-33.5 4h0m12 -27h0m-22.5 33.5h0m-5 -21h0m-5 19.5h0m24 3.5h0m-5.5 -27h0m-3 17.5h0m-4 10.5h0m15 -3h0m10 -32.5h0m3.5 34.5h0m-6 -29.5h0m-14.5 -13h0m4.5 49.5h0m-19.5 -12.5h0m-20 -12h0m41 -2h0m-34.5 -1h0m16.5 19h0m3 -7.5h0m-5.5 -18.5h0m12 3.5h0m-1 5.5h0m23 -5.5h0m-11.5 -5.5h0m-20 33h0m-11.5 -2h0m21 -8h0m-2.5 -4.5h0m-6 6.5h0m34.5 -23h0m-5 14.5h0m-5.5 8h0m-7 -30h0m25 29h0m-32.5 -18.5h0m14 16h0m-12.5 -11.5h0m33.5 0.5h0m-57 23.5h0m2.5 8h0m7.5 -26.5h0m46 -6h0m-36.5 -8h0m0 3h0m-4 0.5h0m9 19.5h0m-10 -12.5h0m4.5 -11.5h0m-17 6h0m38.5 -4.5h0m-13 14.5h0m11.5 -9.5h0m-23 3h0m-26.5 4.5h0m45 -17.5h0m-21.5 1.5h0m21 36h0m-30.5 1.5h0m26.5 -21h0m3.5 22.5h0m-20 -13h0m16.5 -9h0m-32.5 13.5h0m11 -12h0m9 -21.5h0m1 26.5h0m1.5 4h0m-34 -22.5h0m25 16h0m33 3.5h0m-30.5 -6h0m21.5 -10.5h0m-18 5h0m-11.5 18.5h0m21.5 -16h0m0 -14.5h0m8.5 6h0m-21 21h0m-22 -11h0m19 -11h0m5.5 3.5h0m-19 26.5h0m46.5 -25h0m-0.5 19h0m-42.5 -40h0m50.5 25.5h0m-39.5 7.5h0m-3.5 -12.5h0m16 19h0m-0.5 -26h0m27.5 16h0m-30 4h0m-6.5 -22.5h0m17.5 -5.5h0m-26.5 39.5h0m7 -43.5h0m-2.5 31.5h0m-19 1.5h0m12 1.5h0m35 -7h0m-2 -13h0m-14.5 29.5h0m-34.5 -37.5h0m56.5 13.5h0m-54 -2h0m10 2.5h0m48.5 4.5h0m-30.5 0.5h0m23 14.5h0m-36 -13.5h0m12 -5.5h0m-8 -14h0m44 4.5h0m-53.5 12h0m25.5 21h0m-32 -32.5h0m36 26h0m0.5 -39h0m3 43.5h0m23.5 -27.5h0m-11 20.5h0m-4 -20.5h0m-15 28h0m17.5 -33.5h0m-25 24h0m-23.5 -9.5h0m55.5 -6.5h0m-37 -1h0m33 19.5h0m-39.5 1h0m-8.5 8h0m13 -5h0m-12 -27h0m-0.5 12h0m6.5 17h0m41.5 -15.5h0m-17 10.5h0m-7 -3h0m-6.5 -23h0m-21 3.5h0m38.5 -6.5h0m-18.5 0h0m-0.5 -10.5h0m4.5 29.5h0m-1.5 -28h0m13 32h0m-29.5 -25.5h0m-4.5 34h0m-8 -20.5h0m38 -1h0m-0.5 -8h0m27.5 10h0m-24.5 0.5h0m-1 -20.5h0m19 13h0m-25 30h0m-11.5 -18h0m-1 3h0m6.5 -21.5h0m-11 20h0m14 9.5h0m-17 0.5h0m-15 -20h0m9.5 18h0m14.5 -15.5h0m19 -8h0m-15 16h0m1 20h0m23 -41h0m-10 16h0m-8 21.5h0m-24.5 -9.5h0m-3 -10.5h0m32 14.5h0m14 -5h0m-1 -29.5h0m0 24.5h0m-23.5 -7.5h0m-3 9.5h0m5 -32h0m16.5 11h0m-2 6.5h0m13.5 24.5h0m-17.5 -17h0m22.5 -0.5h0m-40.5 10.5h0m21 0.5h0m19.5 -17h0m-37 20h0m-8 -23h0m30 2.5h0m-40 1.5h0m2.5 29h0m-0.5 -3.5h0m37 -29.5h0m-8.5 -13h0m5 29h0m-24.5 -12.5h0m-8 15h0m16.5 10.5h0m16 -14h0m17 -1.5h0m-33 17h0m8 -11.5h0m3 -14.5h0m-13.5 0h0m-18 15h0m59.5 7h0m2.5 -27h0m-58.5 8.5h0m3 15h0m4 -3h0m-12 -1.5h0m50 -5.5h0m-29 9h0m3.5 -20.5h0m20.5 -5.5h0m2.5 25h0m-11.5 -17.5h0m-28 13h0m49.5 -23h0m-29 10.5h0m-6.5 -7.5h0m13 -6h0m8 7.5h0m11 9h0m-41.5 12h0m34.5 -2.5h0m-2.5 5h0m-3 -11h0m-4.5 -5.5h0m-15.5 5.5h0m41.5 16h0m-51 -27.5h0m-7.5 -4h0m51.5 21h0m-22 -17.5h0m-8.5 14.5h0m-21.5 -1.5h0m3 12.5h0m13 -39.5h0m-15 13.5h0m50 21.5h0m-11.5 -5h0m-25 9h0m33 -18.5h0m-39 -1h0m1.5 12h0m41 0.5h0m-19 -5.5h0m25 3.5h0m-41.5 -4h0m-5 -5h0m20 29.5h0m-0.5 -50h0m7 22.5h0m-1 -6h0m12 9.5h0m-20 -18h0m5 39.5h0m15 -36.5h0m2 -3h0m-8 32h0m9 -31.5h0m-57.5 12h0m57 7h0m-2.5 12.5h0m-15.5 1.5h0m19 -32h0m-53.5 7.5h0m43 5h0m-40.5 30.5h0m29 -31h0m-33.5 10.5h0m26 1.5h0m7.5 2h0m-31.5 -8h0m44.5 21.5h0m-14 -31.5h0m-14.5 2.5h0m-6 -11h0m-12 19.5h0m49 0.5h0m-29 22h0m7 -21h0m-15.5 11.5h0m0 -1.5h0m16 -7.5h0m4.5 -16h0m21 13h0m1 -0.5h0m-34.5 13.5h0m-20.5 -22.5h0m25 -5h0m21.5 4h0m-19.5 11.5h0m-3.5 -19h0m8 -12h0m-21.5 49.5h0m33.5 -24h0m-10.5 26.5h0m-32.5 -22h0m7 -9.5h0m11 -10h0m-2.5 -7h0m15 20h0m26.5 25h0m-26.5 -19.5h0m-5 -2h0m-18.5 14.5h0m4.5 -2.5h0m1 -2h0m29 -21.5h0m-18 29.5h0m-16.5 -22.5h0m30.5 -18h0m-32 9.5h0m40 34.5h0m5 1h0m-58 -36h0m28 4.5h0m21 7.5h0m-34 -19h0m7.5 10h0m28.5 10h0m-26 -2h0m41 -9h0m-50.5 29h0m34 -32h0m-28 22.5h0m4 0.5h0m39 -27h0m-46.5 9h0m-6 -1.5h0m38 -5h0m-5 34h0m-6 -14h0m14.5 14h0m-35 -4h0m1.5 -23.5h0m21 -5h0m2.5 12h0m2 -14h0m-34 16h0m2 20h0m33.5 -4h0m-4.5 5.5h0m1 0.5h0m-23 -37.5h0m17 -4.5h0m-7.5 17h0m-9.5 -6.5h0m40.5 0.5h0m-35.5 10h0m23.5 13.5h0m-8 -28.5h0m21.5 32.5h0m-22 -35h0m-17 23h0m15 -5.5h0m-17.5 -9.5h0m45 5h0m-60.5 5.5h0m29.5 9h0m9.5 -34.5h0m-11 41.5h0m1.5 -15.5h0m15.5 -6.5h0m-19.5 -10.5h0m12 11.5h0m5.5 -6.5h0m-45.5 7h0m22.5 23h0m20 -22.5h0m-26 3.5h0m24 -4.5h0m12.5 16h0m8.5 -19.5h0m-45 12.5h0m19.5 -8.5h0m-8.5 26h0m-5.5 -20.5h0m29 -24h0m-2 20.5h0m-17.5 13.5h0m-17 -8h0m12.5 13h0m-4 -27h0m23 4.5h0m-19.5 -17.5h0m-14.5 24h0m14.5 15.5h0m0.5 0.5h0m-13.5 7h0m21.5 -32h0m-31 -7h0m52 23h0m-35.5 -27.5h0m43 22.5h0m-29.5 -18h0m10 -1h0m15 1.5h0m-27.5 5h0m-1 -6.5h0m-1.5 12.5h0m-6.5 28h0m17 -34.5h0m-24 14.5h0m-8.5 -23h0m-5.5 7h0m56.5 -1.5h0m-37.5 -9h0m5 8h0m31 14.5h0m-18 18h0m-16 -7h0m-2.5 2.5h0m12.5 -25h0m14 -13.5h0m-36.5 44h0m36 -39h0m-13 19.5h0m-8.5 12.5h0m-8.5 -12.5h0m-8 16h0m32 -24h0m-26.5 12.5h0m23 16h0m-13 -29.5h0m22 31h0m1 -35.5h0m-13.5 22.5h0m-15 -6.5h0m16 20.5h0m-22 -5.5h0m36.5 4.5h0m-33 -8.5h0m53 -23.5h0m-59 32h0m-6.5 -25.5h0m34.5 -15h0m-26.5 39h0m21 -18.5h0m-6.5 6.5h0m25.5 -17h0m-31 17h0m-11.5 -10.5h0m0 26.5h0m54 -18h0m-35.5 -8h0m2 25.5h0m18.5 -37h0m-42 10.5h0m44.5 -16h0m-25 -1.5h0m9 14.5h0m11 -10.5h0m14.5 33.5h0m-34.5 -33h0m-11.5 23h0m8.5 10.5h0m36 -31.5h0m-35.5 16h0m13 4.5h0m-27.5 9.5h0m27 -1.5h0m16.5 -14.5h0m-13.5 -9.5h0m1.5 33h0m9.5 -23.5h0m-17 -18.5h0m-23.5 31.5h0m33 -26h0m-30.5 22h0m17 -26h0m1 18h0m-9 23.5h0m12.5 -31h0m27 1h0m-21.5 -18.5h0m19 22.5h0m-6.5 -5.5h0m-19.5 18.5h0m-9 -37.5h0m28 24.5h0m10 8h0m-54.5 -9h0m5.5 5.5h0m35 3.5h0m-30 1.5h0m53 -3h0m-18 -8h0m-30.5 17.5h0m15 1h0m-11 -27h0m5.5 14.5h0m16 18h0m-22.5 -7.5h0m19.5 -31.5h0m-28 2h0m28.5 -6.5h0m-0.5 7h0m-27 29.5h0m38 6h0m-41.5 -25.5h0m14.5 -13.5h0m14.5 21h0m-20.5 13.5h0m33 -20.5h0m-47 -5h0m42 13.5h0m-39.5 14h0m3.5 1h0m-1.5 7h0m49 -18h0m-48.5 17.5h0m33.5 -34.5h0m2 31.5h0m-8 -38h0m4.5 -4h0m-18 16.5h0m4.5 6.5h0m-17.5 -8.5h0m29 4h0m-2 -6h0m-22 17h0m1.5 5h0m-7.5 2.5h0m14.5 -12h0m20 -26h0m-9 2h0m27 3h0m-4 19.5h0m-31.5 17.5h0m3.5 -8h0m35.5 3.5h0m-31.5 -15h0m-11 0h0m-27 -23h0m39 10.5h0m-32 20h0m39.5 -26h0m-12.5 38.5h0m-14.5 -18.5h0m4 9.5h0m30.5 -32.5h0m5.5 36h0m-41.5 -16.5h0m-3.5 23h0m26.5 -3h0m-25 -7.5h0m47 -8.5h0m-56 -11h0m37 -12h0m-46 5h0m30.5 21h0m28 -17h0m12 0.5h0m-52 20h0m5 -12h0m26 -4h0m-14.5 27.5h0m-9.5 -19h0m-15.5 -23.5h0m38 8h0m-34 -6h0m31.5 22.5h0m13 -8h0m-35.5 1h0m-7.5 -24h0m23.5 3h0m7.5 23h0m-5.5 11.5h0m7.5 -4h0m-19 -35h0m-11 31h0m20 2.5h0m-13.5 -17h0m11 16.5h0m-0.5 -27h0m18.5 -2h0m-31 2h0m13 -4.5h0m5.5 19h0m11 -11h0m-23 -1h0m-14.5 43.5h0m2 -43h0m33 15.5h0m9.5 -2h0m-33.5 15.5h0m33 -17.5h0m9.5 -5h0m-3 22.5h0m-47 -12h0m36.5 -15h0m9 22h0m-22.5 2.5h0m12 -24.5h0m4.5 32h0m-25 10h0m26.5 -27h0m-49 12h0m57.5 -14.5h0m-61.5 9.5h0m65.5 -16h0m-23.5 4.5h0m-10 12.5h0m0.5 3.5h0m-8 0h0m22 -14h0m-10 22h0m-16.5 -11.5h0m8.5 -10h0m17.5 26.5h0m-26 -38h0m10.5 1.5h0m-9 27.5h0m35.5 -24h0m-13 -2.5h0m-11 -3.5h0m-6 11.5h0m20.5 -14.5h0m-35 6h0m48.5 1h0m-16.5 13h0m-15 -11h0m-12.5 3h0m7 -15h0m26.5 31.5h0m-25 -6.5h0m-8.5 8.5h0m-4 -17h0m20.5 -6h0m31.5 6h0m-37 10.5h0m20.5 -25h0m-7.5 14h0m-41.5 -0.5h0m11.5 20h0m3.5 -4.5h0m30.5 -24h0m5 8h0m-44.5 13.5h0m21 2h0m-11 -13.5h0m7.5 4h0m-21.5 11h0m4.5 -14.5h0m29.5 17.5h0m1 2.5h0m-23 -26h0m40 20h0m-56 -9.5h0m53 5.5h0m-6 -26h0m-2 41.5h0m-7 -17h0m-25.5 9.5h0m11.5 -8.5h0m23.5 -20.5h0m-25.5 24h0m39.5 -12h0m-46.5 12.5h0m48 -12.5h0m-16.5 -13.5h0m-8 16h0m-11.5 7.5h0m-15 -24.5h0m7.5 32.5h0m-5 -17h0m14 -1h0m-14 17.5h0m37 -28.5h0m-1 4.5h0m-15 6.5h0m5 9h0m-11.5 -31.5h0m-15 41.5h0m36.5 1.5h0m15.5 -30.5h0m-50 -0.5h0m8.5 -10h0m9 24.5h0m12 -16.5h0m1 14h0m12 9h0m-22.5 16h0m-7 -1.5h0m-7.5 -46h0m-1 0h0m-1.5 44h0m21.5 -19.5h0m-10 -5.5h0m16.5 -9.5h0m3 35h0m-39.5 -5h0m23.5 -1.5h0m5 10.5h0m-7 -7.5h0m13 -21h0m-23 1.5h0m-2 -9h0m36 -1h0m-28.5 24.5h0m17 -6.5h0m-4 17h0m-13.5 -17h0m27.5 -22h0m-15.5 -6h0m-19.5 44.5h0m35 -6h0m-27.5 -11h0m27.5 -15h0m-21.5 -2.5h0m29.5 28h0m-23 -2.5h0m-15.5 -36.5h0m11.5 39.5h0m-26.5 -20.5h0m13 -8.5h0m-2 32h0m40.5 -34h0m-35.5 32h0m4.5 6.5h0m-23.5 -47.5h0m12.5 9.5h0m-7.5 41h0m-12 -29h0m11.5 24h0m-5.5 -43.5h0m16.5 43h0m27.5 -17h0m-40.5 2.5h0m28 -16.5h0m-8 9h0m-15.5 19h0m-5 -18h0m12 19h0m12.5 -37.5h0m-29.5 18.5h0m39 10.5h0m-19 -25.5h0m14.5 35h0m-7.5 -43.5h0m19.5 17h0m-6.5 6h0m21 -4.5h0m-9.5 -14.5h0m-38 27.5h0m-0.5 10h0m28 -16h0m-17.5 -8h0m15.5 -4h0m-15 35.5h0m-5 -20.5h0m-4.5 20h0m19 -29h0m6 14.5h0m-33 -12h0m42 1.5h0m-41 12h0m24 -32h0m10.5 30h0m5.5 -23h0m-8.5 -7.5h0m-10 18h0m-16 7h0m16.5 2.5h0m1.5 -14.5h0m1 11.5h0m-4 17.5h0m-17.5 -13.5h0m-6.5 9h0m28.5 -19.5h0m-14.5 27h0m11 -17.5h0m8.5 -16.5h0m-30.5 -3.5h0m51.5 27h0m-46 11h0m-4 -18.5h0m47.5 8h0m-55.5 -17.5h0m37 -5.5h0m-16 21h0m-1.5 -2.5h0m32.5 -15.5h0m-17 6.5h0m18 -13h0m-41 -11h0m34.5 27.5h0m-34.5 -16h0m-6 19h0m26.5 14.5h0m-22 -15h0m36 -15h0m-16 4h0m-2 10.5h0m7 9h0m-15 -34.5h0m32 2h0m-1 -0.5h0m-49 16.5h0m25 6.5h0m-26.5 -14.5h0m22 -12h0m15.5 40.5h0m7 -21.5h0m-19 3h0m13.5 -0.5h0m-13 -2h0m-12 26.5h0m-9 -9h0m43.5 -30.5h0m0 26h0m-4.5 -23h0m13 12h0m-60 -17h0m38 29h0m-17 -22.5h0m15.5 17.5h0m-9 18h0m2 -17.5h0m-17.5 4h0m39.5 0.5h0m-30.5 -27h0m-7.5 23h0m38 -28.5h0m-33.5 22h0m-8 13.5h0m17.5 -15.5h0m-25.5 -23h0m13 22h0m34.5 22h0m-6.5 -9.5h0m-5 -6h0m-11 4.5h0m21.5 1.5h0m-8 4.5h0m-18.5 -17h0m-4 16.5h0m-1.5 -17h0m41 -15h0m-50 -3h0m43.5 25h0m11.5 -21h0m-37.5 34.5h0m3.5 -22.5h0m4 20.5h0m-18.5 -32h0m-5.5 31h0m41.5 1h0m3.5 -9.5h0m0.5 -16h0m-38 1.5h0m24 15.5h0m-8 -8.5h0m-1.5 -3.5h0m-25 23h0m50.5 -32.5h0m-20 30.5h0m-27.5 -40.5h0m-3.5 28h0m22.5 13h0m28 -22.5h0m-40 26.5h0m41.5 -33h0m-10.5 -1h0m-37.5 8.5h0m45.5 0h0m6.5 4.5h0m-25.5 1h0m3 3h0m-0.5 20.5h0m-15 -25.5h0m-5.5 15h0m-11.5 5.5h0m48.5 -15.5h0m-42.5 -7h0m7.5 16h0m25.5 -35h0m-2.5 11.5h0m17.5 -0.5h0m-8 34h0m-37 -23h0m14.5 3.5h0m29.5 2.5h0m-3 -19h0m-23 8.5h0m-28 19.5h0m9.5 -6h0m27.5 6h0m1.5 -29h0m-26.5 18.5h0m39.5 -7h0m-11 24h0m-31 -4.5h0m36.5 -15.5h0m0.5 -4h0m-19.5 -1h0m3 15.5h0m-0.5 -21.5h0m-1.5 21.5h0m25.5 -23.5h0m-19 4h0m7.5 -14h0m9 18.5h0m-45.5 22.5h0m48.5 -25h0m-31 1.5h0m38.5 10.5h0m-58 -8.5h0m17.5 19.5h0m38 -28h0m-39.5 14h0m10.5 20h0m29 -39.5h0m-61 28.5h0m0.5 -31h0m35 18h0m13 2h0m-13 0.5h0m9 -17.5h0m-30.5 25h0m15.5 -8.5h0m2.5 -1h0m-20 9h0m17 2h0m-29.5 -9h0m18 14h0m-8.5 -4.5h0m38.5 -2h0m-18.5 -8h0m5 -16.5h0m-8.5 35.5h0m-14 -25h0m-13 5.5h0m33.5 -1h0m11.5 1.5h0m18.5 8h0m-23.5 -23.5h0m1 35.5h0m-11 -10h0m5 -24.5h0m-2.5 -8.5h0m-30.5 31h0m56 -6h0m-28 -18h0m-4.5 25h0m-25.5 -34.5h0m4.5 -2h0m8 33.5h0m16.5 -15h0m7.5 13.5h0m15.5 -22h0m-39.5 9h0m9 28.5h0m-10.5 -15h0m3 3.5h0m42.5 -12h0m-16 -12.5h0m-29.5 2h0m5 10h0m11.5 3h0m21.5 -10.5h0m12 14h0m-20 -19.5h0m23.5 5h0m-54.5 14h0m14 -3h0m35.5 15.5h0m-14 -25h0m-16.5 12h0m13.5 -16h0m-4.5 4.5h0m26 0.5h0m-39.5 17.5h0m-18 -28h0m14 -2.5h0m-21 24.5h0m62 -11h0m-42 31h0m18.5 -14.5h0m15.5 6.5h0m-38.5 -26.5h0m-19 -9.5h0m17 10.5h0m-9 24.5h0m25 1.5h0m10 -16.5h0m-22.5 22.5h0m1 -15.5h0m-2.5 15h0m42.5 -23h0m-35.5 15h0m-15 -19h0m20.5 26.5h0m7 -5h0m-35.5 -25.5h0m59.5 2.5h0m-40.5 18h0m29.5 -14.5h0m6 -16h0m-40.5 44h0m-0.5 -38h0m28.5 8h0m-33.5 2.5h0m12 2.5h0m8 1h0m-25.5 -15h0m5 -10.5h0m1 30.5h0m1.5 4.5h0m-11.5 -26.5h0m61.5 4.5h0m-37 -6h0m39.5 13.5h0m-33 -18.5h0m-11 9h0m23 35h0m-14.5 -27.5h0m-9 5h0m12.5 15h0m-13 -30.5h0m19.5 7h0m-33.5 21.5h0m43.5 7.5h0m-2 -15h0m-17.5 20h0m0.5 -34h0m3.5 28.5h0m-11 -7.5h0m13.5 -6h0m7 14.5h0m-38 -13.5h0m49 -27.5h0m-53.5 10h0m62.5 22h0m-39 -3.5h0m18 16.5h0m20.5 -2h0m-29 -0.5h0m-6 -43h0m-23 32h0m14.5 -14.5h0m25.5 7h0m5.5 -4h0m-21 6.5h0m28.5 -13.5h0m-20.5 5h0m-18.5 0h0m-6 24h0m33.5 -45.5h0m16.5 43.5h0m-62.5 -26h0m10.5 11h0m31.5 11.5h0m-36 -20h0m29.5 3h0m6.5 -13.5h0m-31.5 33h0m9 0.5h0m20.5 -29h0m-11.5 11.5h0m-15 9h0m4 7.5h0m50.5 -7h0m-23.5 13h0m-26.5 -35.5h0m31 19h0m17.5 4h0m-33 -8h0m28.5 1.5h0m-16 -8h0m-15.5 -2.5h0m10.5 10h0m-25.5 9.5h0m-13 -29h0m18.5 -6.5h0m23.5 43h0m0.5 -42h0m11 39.5h0m-45.5 -9.5h0m18 16h0m9 -45h0m-33 2.5h0m28.5 -10h0m-15.5 10.5h0m41 23h0m-17.5 5.5h0m-13.5 -9.5h0m0 20.5h0m37.5 -10.5h0m-32 -31h0m2.5 25.5h0m20.5 -10.5h0m-34 -3h0m-7.5 19.5h0m4.5 -30h0m-6.5 21h0m23 -10.5h0m-10 24.5h0m36 -19.5h0m0.5 15.5h0m-35 -14h0m-20 -15.5h0m38 -3h0m18 23.5h0m-3.5 -19.5h0m-16.5 4.5h0m6 16.5h0m-43 -30h0m16 11h0m31 -0.5h0m-1 -5.5h0m0.5 30.5h0m-0.5 1.5h0m-14.5 9.5h0m10.5 -25h0m-6.5 -9h0m-12 14.5h0m-0.5 -5h0m-10 12.5h0m18 -27h0m-11 16h0m-4.5 -3.5h0m45.5 -4h0m-8 16h0m-47 2.5h0m0 -3.5h0m33 -12.5h0m6.5 -11.5h0m-6 18h0m-28 7.5h0m5.5 -18h0m-17.5 21h0m7 16h0m32.5 -10.5h0m-17.5 6h0m22 -15.5h0m-22 17.5h0m8 -32.5h0m-15.5 20.5h0m-7.5 -28.5h0m-7.5 12h0m-6 -3h0m4.5 -4.5h0m6.5 -2h0m-3 -2.5h0m34.5 12h0m-1.5 -3.5h0m3.5 12h0m3.5 -19.5h0m-32 6h0m-5.5 3.5h0m9 6h0m20 -27h0m18 12h0m-52 0h0m45 6.5h0m-26 25h0m2.5 -31.5h0m24 5.5h0m1 -2.5h0m-24 17.5h0m-6.5 -30h0m14 27h0m-28.5 -21h0m29.5 -1h0m6.5 36.5h0m1 -2h0m-7 -15h0m10.5 -10h0m-35 34.5h0m16.5 -8h0m2.5 -28.5h0m-4.5 13.5h0m21 2.5h0m-10 -17.5h0m-27.5 2h0m-2 4h0m7 32.5h0m30 -15h0m-19.5 -20h0m-2 10h0m17.5 -5h0m-34 15.5h0m46.5 -11h0m-41.5 6h0m-4.5 -10.5h0m43 -14.5h0m-48 19.5h0m65.5 -4h0m-46 6h0m29 3h0m-11.5 -25.5h0m-25 26h0m-1 14.5h0m-2 0.5h0m-3.5 -3.5h0m6.5 -8h0m-6.5 -6.5h0m0.5 -16.5h0m31.5 7h0m-28.5 24h0m4.5 -12h0m0.5 -11h0m10.5 0h0m-8 -6.5h0m31.5 7h0m-26 2h0m-3 -19h0m-18 20h0m8.5 13.5h0m38.5 -29.5h0m-50.5 11.5h0m47.5 29.5h0m-25 -32.5h0m14.5 -0.5h0m3.5 18.5h0m-14 -5.5h0m-5 -4h0m-9.5 -24.5h0m8 37h0m18 -6h0m-18.5 -23h0m-2 -5.5h0m-10 29.5h0m53 11.5h0m-34 -3h0m-26.5 -15.5h0m35 -16.5h0m-15.5 5h0m14 -2h0m8 1h0m-29 23h0m3 -22.5h0m8.5 21h0m32 -24h0m-19.5 30.5h0m-15.5 -5.5h0m-10.5 14.5h0m28 -27.5h0m9.5 23.5h0m11 -15h0m-7.5 12.5h0m-23 -43.5h0m3 29h0m-21.5 -0.5h0m-2 4h0m29.5 11.5h0m-15 -32.5h0m17.5 36.5h0m-21 -42h0m33.5 36.5h0m-18 -15.5h0m5 -13h0m-2.5 20.5h0m18.5 -20.5h0m-1.5 14.5h0m-27 9h0m30 -22h0m6.5 9.5h0m-24 -11.5h0m-14.5 21.5h0m2 -24h0m36.5 34h0m-21 -2h0m13.5 -19h0m-42 1h0m2.5 -2h0m24.5 3h0m-35 -12h0m11 1.5h0m27 14.5h0m-45.5 -24.5h0m36 25h0m-12.5 17h0m-11.5 -27h0m28 19.5h0m22 -27.5h0m-53.5 29.5h0m2 -13h0m37.5 13.5h0m-7 -40.5h0m-11 31h0m-5.5 -34h0m38.5 14h0m-23 34.5h0m-20 2.5h0m4.5 -3.5h0m8.5 -42.5h0m21 41h0m-24 -12.5h0m12.5 0.5h0m4 -17.5h0m-30.5 21h0m-1.5 3.5h0m10.5 -32h0m9.5 35.5h0m21.5 -7.5h0m-22.5 -6.5h0m-36.5 -21.5h0m24.5 24h0m3.5 19.5h0m22 -44.5h0m-22 -5.5h0m16 1.5h0m22.5 23h0m-47 22.5h0m1 -46.5h0m7.5 50.5h0m24.5 -3.5h0m-39.5 -38h0m43.5 18h0m-16.5 1.5h0m17 -16.5h0m-22.5 19h0m6 7h0m-12 -31.5h0m-8 -8.5h0m38.5 37.5h0m8.5 -14h0m-17 19h0m-8 -16.5h0m-26.5 11.5h0m9.5 -16h0m-2 18h0m-4 1h0m-0.5 -36h0m-8.5 1.5h0m46.5 14.5h0m4.5 -4h0m10 -2h0m-49 9.5h0m12.5 14h0m-19.5 -7h0m27.5 4h0m14 -5h0m-39 -2h0m28.5 -27h0m7 48h0m-38.5 -22h0m32.5 5.5h0m13.5 1h0m-25 -4h0m24 -1.5h0m-21.5 -6h0m10 -7.5h0m-33 30.5h0m11.5 -27.5h0m0.5 32h0m-16 -18.5h0m40 -15.5h0m4.5 29.5h0m-1.5 -2.5h0m-42.5 -23.5h0m42 15.5h0m-1 -18h0m9 -2h0m-14 21h0m-32.5 -27h0m36.5 -1.5h0m-10.5 39.5h0m-20.5 -28h0m16 -2h0m-18 10h0m39 12h0m-44.5 2.5h0m47.5 -28h0m-22 -12h0m-23.5 38.5h0m22.5 0h0m21.5 -6.5h0m-31 -14h0m-7.5 12h0m52 -19.5h0m-50 25h0m25.5 -19.5h0m-4 22h0m1 -28h0m-43 2h0m20.5 24h0m28.5 -22h0m-39.5 17.5h0m19 -11.5h0m-24.5 -13h0m33.5 25h0m-13 -6h0m32.5 3h0m-38.5 -18.5h0m14 38.5h0m30.5 -19h0m-41.5 12.5h0m27.5 -22h0m-6.5 13.5h0m-3.5 7h0m8.5 -26.5h0m-23.5 33.5h0m34.5 -26.5h0m-41 -23.5h0m-11.5 30.5h0m9.5 -20h0m32 6.5h0m-24 18h0m10 -1h0m-30 -4.5h0m59 9.5h0m-33.5 -17.5h0m16 18h0m14 4.5h0m-34 -30.5h0m7.5 20h0m-26 -2.5h0m1.5 0h0m28.5 -30h0m-0.5 3.5h0m0.5 -4h0m7.5 31h0m5.5 -25.5h0m-20 17h0m32 -16h0m-26 31.5h0m11.5 -11h0m-9.5 -13h0m1.5 6h0m13.5 13h0m12.5 5.5h0m-33.5 -41h0m28.5 12.5h0m-13.5 5.5h0m-22.5 25.5h0m-5 -9h0m29.5 -26h0m-36 42.5h0m-13 -36.5h0m47 -4h0m-20.5 29.5h0m-9.5 1.5h0m-4.5 -13h0m35 0h0m-3.5 -18h0m-24.5 23.5h0m-12 -7h0m53 10h0m-38.5 -25h0m16.5 1h0m-14.5 39h0m7 -42.5h0m36 7h0m-38.5 31h0m-4.5 -13.5h0m-1 1.5h0m-6 7.5h0m6.5 -23h0m13.5 28.5h0m-3 -28h0m10 -10.5h0m0 42h0m-6.5 -43.5h0m-9 21.5h0m0.5 -0.5h0m-7.5 -27.5h0m8 6.5h0m14 28.5h0m-32 -12.5h0m41.5 -12.5h0m-12 9h0m-27 25.5h0m20 3.5h0m21 -9h0m0.5 3h0m-11.5 -0.5h0m-14.5 -30.5h0m14.5 3.5h0m-32.5 -8h0m38.5 20.5h0m-14.5 9h0m17 -20.5h0m-26.5 25h0m-4.5 -20h0m-12.5 -17h0m59 6h0m-56 4h0m8 -1h0m0 24.5h0m-4 -11.5h0m34 12h0m-6 -0.5h0m-36 -25h0m10.5 36.5h0m14.5 -35.5h0m-17.5 37.5h0m2 -17h0m27 -12h0m-30 -13.5h0m36.5 30.5h0m-24 6h0m14 -19h0m-12 21.5h0m10 -40h0m15 -1h0m-34.5 32.5h0m-9.5 1.5h0m3.5 11.5h0m23.5 0h0m-11 -22h0m38.5 -18.5h0m-17.5 25.5h0m8 -21h0m-5.5 1.5h0m2.5 31h0m2 -0.5h0m9.5 -1.5h0m-25.5 -25h0m-20.5 23.5h0m-1.5 -37.5h0m37 31.5h0m-28 -16.5h0m-14 17.5h0m47.5 -12h0m-11 0h0m-0.5 -18.5h0m-41.5 26h0m61 -12.5h0m-29.5 27.5h0m-33.5 -47h0m49.5 21.5h0m-26.5 -11.5h0m12 12.5h0m-30 -23h0m24 42h0m15 -24h0m11 -4.5h0m-9 17h0m-18 -7.5h0m17 24h0m-25 -35.5h0m-7.5 14h0m0 -10h0m21 10h0m-9.5 -7.5h0m25.5 2.5h0m-20 25h0m16.5 -16h0m15 15.5h0m-40.5 -42h0m3 29.5h0m35 -13h0m-4 16h0m8.5 -13.5h0m-14 12.5h0m-3 -4.5h0m-30.5 12.5h0m0 -21.5h0m17 10h0m-17.5 16.5h0m6 -38.5h0m-13 42h0m12 -44h0m3 -7.5h0m42.5 24.5h0m-24.5 -3h0m-23 -19h0m7.5 6h0m22.5 3.5h0m17.5 18.5h0m-11 16.5h0m-41.5 3h0m44 -21.5h0m-10 -13h0m-10.5 34h0m1.5 -49h0m-30 38.5h0m29.5 -27.5h0m-21.5 18.5h0m-11.5 -27h0m3 11h0m4.5 34.5h0m6.5 -19h0m21.5 18h0m9 -25.5h0m-18.5 7h0m18.5 -10.5h0m-21 28h0m-1.5 -36.5h0m7.5 25h0m8 -32.5h0m-26.5 17h0m40.5 -12h0m-4.5 28h0m15.5 6h0m-36 -4h0m1 -10h0m-4 -15.5h0m-11 30.5h0m23.5 -21h0m-15.5 2.5h0m-18 3.5h0m10.5 7h0m40.5 -24.5h0m-46.5 -8.5h0m8 33h0m-11 11h0m45.5 -39h0m-41 32.5h0m30 -19h0m-15.5 -12h0m5 22h0m4 14h0m21 -16.5h0m-4.5 -1.5h0m-25 1h0m5.5 -12.5h0m27 20h0m-16.5 8h0m6 -11.5h0m-16.5 -32h0m9 6.5h0m1.5 9h0m-27.5 -12.5h0m30 4.5h0m-23 32h0m-11.5 -2.5h0m38 -0.5h0m-26 -14h0m-4 29.5h0m-12.5 -9.5h0m30.5 -28.5h0m-17 18h0m17.5 -31.5h0m-12 2.5h0m19 18h0m-23.5 18h0m39.5 -27h0m2 6h0m-20.5 3h0m-35 -16.5h0m10 9h0m0 12.5h0m22.5 -13h0m-17.5 20h0m24 11h0m10.5 -26.5h0m7 24h0m-29 -38.5h0m-9 38.5h0m-11.5 -3.5h0m-2 9.5h0m4 -10h0m0 -7h0m-3 21h0m20.5 -28.5h0m6.5 -9.5h0m-29.5 18h0m15.5 -19h0m17.5 0.5h0m-19.5 -5h0m17.5 21.5h0m16 10.5h0m-15.5 -22h0m19 12.5h0m-23 -15h0m-28.5 25h0m-16.5 -31h0m68.5 14h0m-17.5 -5.5h0m-11 -1.5h0m-25 19.5h0m33 2.5h0m-23 5.5h0m19.5 -8h0m11 -18h0m0.5 -9.5h0m-22.5 22.5h0m4.5 -6.5h0m4.5 5.5h0m18 0.5h0m-59 -23h0m7 15h0m42.5 -2h0m-21.5 -14h0m-12 15.5h0m35.5 -20h0m-15.5 28.5h0m25.5 9.5h0m-27.5 -3.5h0m14 -18.5h0m-35.5 33.5h0m7 -6h0m-8 -5h0m29 -25h0m-29.5 30h0m4 -8.5h0m0.5 8h0m7.5 -18h0m19 -25.5h0m-27 50h0m-14 -38.5h0m35 13.5h0m-25.5 4h0m36.5 -0.5h0m23 -19h0m-16 10.5h0m-12 16.5h0m-33.5 1h0m1.5 -6.5h0m13.5 -26.5h0m15.5 15.5h0m7 -16h0m-11.5 2.5h0m37 11.5h0m-45 7.5h0m23.5 13.5h0m-2 -34h0m-27.5 42.5h0m34 -40.5h0m-20.5 23.5h0m23.5 17h0m-49.5 -15h0m37 -17.5h0m-13.5 16.5h0m-9.5 -3h0m-0.5 -14h0m45 -6h0m-49.5 -5.5h0m44 35h0m-44.5 -29h0m4.5 29.5h0m-6.5 -27.5h0m31 7h0m11 -6h0m-39.5 32h0m16 -11.5h0m-1.5 -2h0m17.5 -10.5h0m-35.5 30.5h0m11.5 -48.5h0m28.5 10h0m-9.5 6.5h0m-16.5 22h0m43.5 -26.5h0m-30.5 11.5h0m16 1.5h0m-6 -24.5h0m1.5 33h0m-19 -17.5h0m27.5 -7h0m-6 2h0m-39.5 27h0m31.5 -27.5h0m-20.5 29h0m18.5 4.5h0m-12 -24h0m-2 -2h0m-18.5 14h0m13 -25.5h0m7 35h0m-19.5 -26h0m20 -10.5h0m-14 12.5h0m24 27h0m-1.5 -45h0m-30 27h0m56 8.5h0m-39.5 6.5h0m10.5 -22h0m-28 -19h0m38 -3h0m4.5 3h0m-33.5 31.5h0m8.5 11h0m30 -26h0m-30.5 11.5h0m17 -22h0m22 13h0m-56 -22.5h0m30.5 24h0m-2.5 24h0m-9 -40.5h0m-8.5 9.5h0m-9 30h0m58.5 -36.5h0m-16 36h0m-27 -24h0m37 3.5h0m-48 -1h0m33.5 -0.5h0m-1 -7h0m-41 12.5h0m13 5.5h0m43 2h0m-45 -17.5h0m27.5 -3h0m25 5h0m-47 -2.5h0m3.5 -9h0m6 11h0m19.5 17h0m11 -12h0m-49 -17.5h0m39 32h0m-39.5 -6h0m3.5 5h0m32.5 -11h0m-21 -20h0m-3 19.5h0m-15 -6h0m34.5 -0.5h0m-15 -8.5h0m27 13.5h0m11 2h0m-5 -9h0m-47.5 17h0m13.5 -8.5h0m-16 -7h0m1.5 7.5h0m43.5 -18.5h0m-35.5 32.5h0m12 -46h0m-1.5 42h0m7 -37h0m-33.5 35h0m35.5 -10h0m-9 7h0m21 -28.5h0m-41 34.5h0m-9.5 -34h0m49 2.5h0m-35 13h0m26.5 3h0m7.5 -21h0m-1.5 18.5h0m15 8h0m-12 -8.5h0m-40.5 16h0m50 -2.5h0m-20 -4h0m15.5 -15h0m-9.5 12h0m-9 -15h0m15.5 32h0m-46.5 -15h0m30 -16.5h0m3.5 5h0m-24 13.5h0m10.5 -5h0m25.5 -24.5h0m-22 0h0m-5.5 35h0m2 -19h0m33.5 6.5h0m-13 -12.5h0m-16 -8.5h0m-14 21.5h0m17 14h0m16 -31.5h0m10.5 23.5h0m-2.5 -4h0m-33.5 -2h0m-4 11.5h0m36.5 -11h0m-42.5 5h0m24 -16.5h0m4.5 0.5h0m-16.5 -1.5h0m-10.5 16h0m-5 18.5h0m34 -44h0m-31.5 25.5h0m18 13.5h0m-12 -27.5h0m25.5 -1.5h0m2.5 4h0m-6.5 -8.5h0m27 8h0m-60.5 -2h0m11 14h0m43.5 5h0m-39 4h0m8 2h0m13 -4h0m-26 -9.5h0m1 14.5h0m9.5 -33h0m-26 12.5h0m60.5 4h0m-42 25h0m-5.5 -4.5h0m15 -43h0m4 35.5h0m-33 -19h0m13 28.5h0m5 -44.5h0m40 5.5h0m-50 10.5h0m33.5 -4h0m-28.5 14h0m-8 6h0m20 5h0m-0.5 -27h0m9 21h0m-17.5 -13.5h0m-3 -4h0m43.5 20.5h0m-5 -13h0m4 -5h0m-19.5 20h0m-3.5 8.5h0m-30.5 -21h0m35 -14.5h0m8 9h0m-7.5 17h0m-1 -29h0m-19 20.5h0m39.5 6.5h0m-29 1h0m-10 -22.5h0m23.5 3h0m-15.5 24.5h0m13 -33.5h0m10 7h0m-39 20.5h0m5 0h0m-9 6h0m18 -17h0m26 -13.5h0m-13.5 21.5h0m16 -10.5h0m-2 -16h0m-10.5 21.5h0m-8.5 -1h0m8 12h0m14.5 -16.5h0m-8 13h0m-32 -7h0m47 14.5h0m-0.5 -29.5h0m-8 -3h0m-38.5 12h0m-8.5 4h0m27.5 -7.5h0m-25 21.5h0m4 -9.5h0m25.5 -23h0m24 34.5h0m-34.5 -6h0m-32.5 -30h0m63.5 21h0m-47 -22.5h0m15 3.5h0m-31 1h0m59.5 4.5h0m-15.5 2h0m-5.5 -5h0m6 35.5h0m4 -21.5h0m-14 6.5h0m18 -21.5h0m-38 23h0m42.5 -24.5h0m-32.5 35.5h0m10.5 -25h0m19 7.5h0m-22.5 11.5h0m12.5 -18h0" stroke="#000" stroke-width="1.0" stroke-linecap="square" opacity="0.8" fill="none"/><path d="M275 94h0m15.5 -15.5h0m8.5 0.5h0m-0.5 -1.5h0m2 -7h0m-15.5 16.5h0m7 -5.5h0m9 -12h0m-4 3h0m-22.5 20.5h0m7 0.5h0m5 -11.5h0m14 -12h0m-20.5 22.5h0m14.5 -18h0m12.5 -3h0m-26.5 13.5h0m5.5 1h0m12 -5h0m-5.5 -7.5h0m-9 9.5h0m11.5 -5.5h0m10 -9.5h0m-19.5 12h0m-3 8h0m6.5 -6.5h0m-6.5 5.5h0m-9.5 3h0m17 -8h0m2.5 -9.5h0m-12 12.5h0m-2 5h0m-5.5 4.5h0m8.5 -9h0m14.5 -13h0m10.5 -7h0m-10.5 5.5h0m-21.5 22h0m17.5 -7.5h0m-10 4h0m26 -22h0m-9.5 5h0m-5.5 8h0m-9.5 9h0m-1 -5h0m3 -4.5h0m-5.5 8.5h0m21.5 -13.5h0m5.5 -9h0m-14 13h0m-5 7h0m14.5 -9h0m-6.5 -4.5h0m-3 12.5h0m-0.5 -8.5h0m9.5 -4h0m-25 19.5h0m11 -7.5h0m3 -1.5h0m15.5 -17h0m-8.5 4.5h0m-9.5 14.5h0m9 -10h0m-24 19h0m8 -10h0m19.5 -11.5h0m-24.5 14h0m18.5 -12h0m-20 14.5h0m4 -0.5h0m26 -24.5h0m-28 23.5h0m12 -8.5h0m10 0.5h0m-7.5 -1h0m2 1h0m-14 13.5h0m3 -5.5h0m21.5 -18h0m-27.5 23.5h0m28.5 -26.5h0m-6 5.5h0m2.5 4h0m-10.5 -2.5h0m1 1h0m7 -5.5h0m-8.5 14h0m2 -7h0m-12 12h0m23 -17.5h0m2.5 3h0m-25 11.5h0m7.5 2h0m6.5 -14h0m4.5 -3h0m-11 7.5h0m-2.5 5.5h0m5.5 -4.5h0m12 -9h0m-2.5 0.5h0m-16.5 14h0m-8 7h0m9 -7h0m2.5 -1h0m13.5 -16.5h0m-13 15h0m4 1.5h0m12 -12.5h0m-17 7.5h0m17.5 -13h0m-16.5 24h0m2 -8.5h0m7 -0.5h0m5 -19.5h0m-6.5 14.5h0m-24 19h0m16.5 -11.5h0m4 -3h0m10.5 -5h0m-18 15.5h0m2 -6.5h0m-6 8h0m-8 0h0m6.5 -1.5h0m21.5 -14h0m-22 12.5h0m11.5 -13.5h0m14.5 -4.5h0m3 -1h0m-28 16h0m4.5 -2h0m13.5 -14h0m-23 26.5h0m9.5 -9.5h0m19 -19h0m-2 8.5h0m-3.5 -6h0m-8 13.5h0m-12 4h0m20.5 -20.5h0m5 0h0m-26 23h0m1.5 -5.5h0m20 -14.5h0m1.5 -1h0m-12 11h0m-5 7.5h0m-4 9h0m15 -25h0m8 -3.5h0m-5.5 7.5h0m3.5 2.5h0m-9 2.5h0m0.5 3h0m-13 6.5h0m10.5 -11h0m12.5 -7.5h0m-2.5 2.5h0m-19 10.5h0m-7.5 11.5h0m29.5 -23h0m-24.5 16h0m12 -1.5h0m-5.5 3.5h0m-7.5 -1h0m6 -8.5h0m-5 13.5h0m23.5 -26h0m-1 1h0m-3.5 6h0m-8 5h0m-7 9.5h0m21 -17.5h0m-6.5 7h0m5.5 -10.5h0m-22 15h0m19 -7h0m-19.5 10.5h0m15 -14.5h0m-15 17h0m17 -19h0m8.5 -1h0m-15.5 10.5h0m-2 -7h0m16 -2.5h0m-10.5 6.5h0m17 -10h0m-24.5 12h0m1.5 5.5h0m-15 11h0m27 -25h0m-3.5 9.5h0m7 -8h0m-15 10h0m0 -1h0m-5.5 6.5h0m11.5 -7.5h0m13 -8.5h0m-23 12h0m1.5 -5.5h0m9.5 -6.5h0m1.5 2.5h0m-11 9.5h0m0.5 -4h0m-14.5 12.5h0m27.5 -24h0m-13.5 12.5h0m-10.5 13.5h0m15.5 -17.5h0m9.5 -4.5h0m2 -0.5h0m2.5 -4h0m-23 21.5h0m13 -11h0m-15.5 17h0m4 -12.5h0m22 -14.5h0m-19 13.5h0m10.5 -17.5h0m-5.5 9.5h0m-18.5 17.5h0m5 -2.5h0m6.5 -3h0m7.5 -3h0m-16 13.5h0m8 -11.5h0m-5.5 8.5h0m-2 2h0m23 -13h0m9.5 -19h0m-21.5 18h0m9.5 -5h0m-11.5 1.5h0m-1 8.5h0m4 -4.5h0m-5 2h0m14.5 -12h0m7.5 -6h0m-1 6h0m-9 4.5h0m-9.5 10.5h0m16.5 -13.5h0m2.5 -9h0m-28.5 27.5h0m5 2h0m19.5 -16h0m5.5 -8h0m-4.5 4h0m4.5 -14h0m-9.5 17.5h0m6 -3.5h0m-0.5 0.5h0m-9.5 5h0m1.5 -4h0m-17 14.5h0m20 -19h0m-20.5 15h0m1 5.5h0m20 -21h0m-1.5 10h0m5 -11h0m-9.5 13.5h0m-15.5 6h0m19.5 -15h0m3.5 -7.5h0m-8 14h0m-10 9.5h0m-4.5 5h0m19.5 -14.5h0m12.5 -13.5h0m3 -0.5h0m-30.5 27.5h0m-3 -4h0m9 -2h0m6.5 -10h0m-5 -1h0m4.5 -1h0m-6.5 11h0m-7 1.5h0m17.5 -13.5h0m5 -6h0m-5.5 5h0m6.5 -1h0m-10.5 2.5h0m-19.5 16.5h0m13 -7h0m6.5 -5h0m5.5 2.5h0m12.5 -18h0m-26 19h0m-1 2h0m12.5 -7h0m6.5 -12h0m-26 23.5h0m17 -11.5h0m5.5 -7h0m-12.5 10h0m6 -6h0m12.5 -7h0m-16.5 13.5h0m2.5 -3h0m16 -8h0m-21.5 11h0m7 -3.5h0m-13.5 13.5h0m-1 -6.5h0m10 1h0m14.5 -16.5h0m-26.5 20h0m24.5 -15h0m-18 10h0m5.5 -6.5h0m0.5 -3h0m15 -2.5h0m-8 9h0m-16 5.5h0m14 -5h0m12 -15h0m-8 6.5h0m-5.5 1h0m10.5 -0.5h0m-4 1h0m-10.5 10h0m9.5 -13h0m-2.5 3h0m7.5 -1h0m3 -6.5h0m0 2h0m-8 2h0m-20 17h0m15.5 -13.5h0m8 -9h0m-10 16.5h0m-9.5 -1h0m9.5 3h0m3.5 -13h0m-16 22h0m10.5 -10h0m11.5 -14h0m-16 9.5h0m5.5 -0.5h0m3 2h0m-7 1.5h0m22 -10h0m-33 18h0m-1 2h0m24 -14h0m-8.5 8.5h0m-18.5 1.5h0m6 2h0m12 -14.5h0m15.5 0h0m-17.5 -0.5h0m15 -8h0m-25.5 25.5h0m21 -18h0m6 -4h0m-17.5 17h0m-3.5 -0.5h0m20 -15.5h0m-28 16.5h0m29 -21.5h0m-25.5 21.5h0m26.5 -21.5h0m-28.5 15h0m18.5 -4h0m-21.5 17h0m9 -12.5h0m12.5 -0.5h0m-12 4.5h0m2 -4h0m-4 -1.5h0m12.5 -1.5h0m13.5 -12h0m-35.5 27h0m4.5 -3h0m6 -1.5h0m4.5 -7.5h0m15.5 -8h0m-27 18h0m1.5 -5.5h0m1 5.5h0m26.5 -19.5h0m-1.5 3h0m3.5 -12h0m-27.5 25h0m11 -2h0m1.5 -8.5h0m16 -12h0m-20 20.5h0m11.5 -10h0m-11 3.5h0m-7.5 5h0m4.5 1h0m-1 3h0m-8.5 6.5h0m5 -13h0m5.5 -2h0m-7.5 10h0m-7.5 -2h0m7 0h0m28 -27.5h0m-28 24.5h0m26.5 -13h0m-18.5 14h0m-2 -6h0m-4.5 8h0m20 -10.5h0m5 -6h0m-9.5 2h0m-15.5 18h0m17.5 -15h0m-22.5 16.5h0m5 -10h0m31 -14.5h0m-3 -6.5h0m-2 5h0m-27.5 22h0m24 -15.5h0m-1.5 0h0m-15.5 8h0m-2.5 6h0m13 -17.5h0m9.5 -5.5h0m-7.5 10.5h0m-3 4.5h0m-17 15h0m10 -17.5h0m-3.5 7.5h0m21 -11.5h0m3.5 -3.5h0m-14.5 9h0m-4.5 5.5h0m9.5 -7.5h0m-13.5 1.5h0m-3 1h0m-7 11h0m33 -24h0m-22.5 21h0m16.5 -13h0m6.5 -10.5h0m-0.5 6.5h0m-20.5 15.5h0m-8 -1h0m-4 2h0m-1 3h0m13 -1h0m13 -17h0m-18 11.5h0m30.5 -22h0m-31 22h0m15 -10h0m-3 4.5h0m9.5 -6h0m-11.5 15h0m3.5 -9h0m-21 16h0m6.5 -7h0m15 -10.5h0m-4 2.5h0m-13.5 8.5h0m14.5 -6h0m-11 -1h0m6 11.5h0m2.5 -3h0m18.5 -18h0m-29.5 22.5h0m8 -13h0m-16 13h0m20 -17.5h0m5.5 -7h0m-13 15.5h0m2.5 0h0m6 -4.5h0m9 -7.5h0m-2.5 1.5h0m-17.5 14.5h0m16 -10.5h0m-2 -2h0m-15.5 14h0m16 -15.5h0m-9.5 9.5h0m-2 1h0m2 -9.5h0m18.5 -8h0m-0.5 13.5h0m-25.5 1h0m6 -4.5h0m9 -3.5h0m8 -0.5h0m-28.5 16.5h0m19 -16.5h0m8.5 -0.5h0m-18 8h0m4 -2.5h0m-10 16h0m23.5 -22.5h0m-14 17h0m-10.5 6.5h0m23 -24.5h0m-12 5.5h0m-9 18h0m17 -18h0m1 1h0m-13 12h0m2 -6h0m-6 1h0m8.5 -3h0m-6.5 8h0m9.5 -3h0m-3 -3.5h0m1 -1.5h0m-8.5 10h0m10.5 -11.5h0m14 -12.5h0m-20.5 23h0m-8 -3h0m7 -3.5h0m-2.5 1h0m7.5 1h0m11.5 -17h0m3.5 -0.5h0m-17 17h0m18 -19.5h0m0 2.5h0m-11 7h0m-11 16h0m-7 -5.5h0m23 -13h0m-8.5 8h0m-11.5 5.5h0m11 -6h0m-5 6h0m-7 -1h0m28 -15h0m-11 10.5h0m-6 -6h0m-16.5 18.5h0m17 -13.5h0m-9.5 9.5h0m5 -3.5h0m25 -17h0m-2.5 1h0m-15.5 3.5h0m-5 6.5h0m20 -13h0m-17.5 20h0m-12 8h0m14.5 -11.5h0m2 -1h0m7.5 -14.5h0m-14.5 15.5h0m-1 3.5h0m-8.5 0.5h0m12 -10h0m7 2.5h0m4.5 -8h0m5.5 -7.5h0m-9.5 15.5h0m3 -7h0m-19.5 17.5h0m17 -17.5h0m-19.5 16.5h0m27 -21.5h0m-19 19h0m18 -19h0m-15.5 14.5h0m14.5 -8.5h0m-0.5 -3.5h0m-24 21h0m17.5 -11.5h0m1.5 -8h0m8.5 -8.5h0m-15 22.5h0m6.5 -12.5h0m2 -1h0m-15.5 18.5h0m6.5 -7h0m-3 0h0m-12.5 10h0m3 -7.5h0m28 -16h0m-25.5 17.5h0m10.5 -5.5h0m-15 7.5h0m15.5 -9.5h0m-4 5.5h0m-3.5 -1h0m-1 5h0m9.5 -6h0m7 -4h0m-14 -3h0m17 -3h0m-13 6.5h0m4.5 -5h0m11 -7h0m-27.5 18.5h0m7.5 -0.5h0m0.5 0.5h0m0.5 -3.5h0m4.5 2.5h0m20 -16h0m-24 11.5h0m22.5 -13.5h0m-9 5.5h0m4 3h0m-22 8.5h0m-1 3.5h0m5.5 -13h0m13 -0.5h0m-1.5 1.5h0m-21 18.5h0m11.5 -18h0m-13 10.5h0m5.5 2h0m23 -26.5h0m-15 19.5h0m-7.5 8.5h0m15.5 -13.5h0m0 -1.5h0m-0.5 0.5h0m4 -8h0m-10 7.5h0m-9.5 14.5h0m27.5 -25h0m-2.5 1.5h0m-11.5 9.5h0m-4.5 5h0m3.5 -7.5h0m19 -10h0m-16 14h0m7 -2.5h0m-11.5 1.5h0m9 -3.5h0m-22 19h0m-1.5 -2.5h0m29 -29h0m-23.5 21.5h0m25.5 -10.5h0m-25.5 16.5h0m-2 -1h0m-6.5 3h0m22.5 -12.5h0m11 -5h0m-2.5 -6.5h0m1.5 7.5h0m-14 0.5h0m12.5 -5h0m-24.5 18h0m17.5 -13.5h0m-7.5 -1h0m5 -3h0m-7.5 12.5h0m-16 11.5h0m32 -21.5h0m-7 5.5h0m15.5 -10.5h0m-29.5 19.5h0m8 -4.5h0m15 -13.5h0m1 -2.5h0m-24.5 19.5h0m-7 9.5h0m9 -4.5h0m17 -16h0m-19.5 14.5h0m20.5 -23h0m-19.5 21.5h0m8 -10.5h0m-15.5 14h0m31 -21.5h0m-11 4h0m12.5 -9.5h0m-1 5h0m-27 23h0m-3.5 -13h0m28 -7.5h0m-10.5 4.5h0m4.5 -2.5h0m-15 10h0m-4 0.5h0m29.5 -16.5h0m-20.5 19h0m-14 3.5h0m17 -12h0m8.5 -5.5h0m-19.5 13.5h0m29.5 -19h0m-13.5 3.5h0m-11.5 12h0m-7 5h0m6.5 -6.5h0m14 -6.5h0m-20 14h0m-3.5 5h0m13 -14.5h0m-6.5 11h0m21 -13h0m-27 12.5h0m10 -5.5h0m1.5 -1h0m13 -12.5h0m-5.5 5h0m-17 7h0m15.5 -8h0m9 -2h0m1.5 -2.5h0m-7 6.5h0m-4.5 -3h0m13 -1.5h0m-8 1.5h0m1.5 3h0m-16 17h0m9 -12.5h0m-17.5 12.5h0m30.5 -22.5h0m-10 11h0m-12 1.5h0m27 -14.5h0m-27.5 12.5h0m13 -2.5h0m-1 -1.5h0m-3 3h0m-6.5 7.5h0m17.5 -16h0m-1 -0.5h0m-11 6h0m-8 10.5h0m26.5 -24h0m-34 27h0m16.5 -10.5h0m-9.5 5h0m-4 3h0m3 -0.5h0m13 -7.5h0m9 -13.5h0m4.5 -2h0m-6 1.5h0m-3 6h0m-9 10.5h0m22.5 -18.5h0m-14 9.5h0m7 -3.5h0m-21 20h0m-4.5 4.5h0m-6 -9.5h0m18 -2.5h0m2 -13h0m-10.5 17.5h0m-1.5 7h0m15.5 -13h0m10 -10h0m-11 11h0m-10.5 6h0m10.5 -16.5h0m-13 13.5h0m-3 3.5h0m14 -11.5h0m-19.5 16.5h0m13 -2.5h0m3.5 -12.5h0m-8.5 5h0m10.5 -4h0m-11.5 7.5h0m6 -0.5h0m-9 0.5h0m17 -13h0m6 -2h0m-5.5 2.5h0m-19.5 8.5h0m-1.5 8.5h0m4 -3.5h0m22 -17.5h0m9 -5.5h0m-35 25h0m33 -14h0m-18.5 6h0m9 -7h0m-23.5 10.5h0m17 -5.5h0m-12 12h0m9 -20h0m-10.5 16.5h0m2 -4.5h0m26 -15h0m-6 4h0m4.5 -6.5h0m-27.5 13h0m19 0h0m-16 9h0m6 -7.5h0m13.5 -13h0m6 -2h0m-15 13h0m5 2.5h0m-6.5 1.5h0m7.5 -6.5h0m-20 5h0m10 3.5h0m0 1.5h0m23.5 -22h0m-9.5 4.5h0m-20 18.5h0m18.5 -16.5h0m-18 13h0m3 1h0m-4.5 -2.5h0m-2 10h0m11 -8.5h0m1.5 1h0m2 -5.5h0m-12.5 13h0m20 -22h0m2 -3h0m-21.5 16h0m10.5 -0.5h0m15.5 -12h0m-16 16h0m-16 6h0m27 -19.5h0m5.5 -4h0m-14.5 15.5h0m6.5 -5h0m7.5 -8h0m-2 -3h0m-5 9.5h0m-6 -3.5h0m10 -3.5h0m-11 7h0m-9.5 12.5h0m-1 -5h0m17.5 -15h0m1 -5.5h0m-17 19.5h0m14.5 -14.5h0m1 8h0m-10.5 4.5h0m-9.5 7.5h0m-3 -0.5h0m28.5 -20h0m-24.5 24.5h0m24 -27h0m-33 20.5h0m8 -0.5h0m16.5 -14h0m5 -5.5h0m-1 8h0m-22.5 11.5h0m10 -3.5h0m20.5 -14h0" stroke="#000" stroke-width="1.0" stroke-linecap="square" opacity="0.9" fill="none"/><path d="M268 54h0m12.5 -5.5h0m-20 3h0m21 -0.5h0m8.5 -2.5h0m-15.5 1.5h0m-0.5 2h0m-18 3h0m29 -6.5h0m-26.5 5h0m30.5 -7h0m-30 8.5h0m-2 0.5h0m21 -7h0m-13 5h0m23.5 -5h0m-17.5 3h0m-8 3h0m8 -3h0m14 -1h0m-9.5 -0.5h0m-9.5 2.5h0m11 -4h0m-23 8h0m-1 -1.5h0m21 -4h0m5.5 -2h0m-7.5 0h0m-2.5 5h0m-16.5 2h0m11.5 -4h0m-5.5 3.5h0m9 -4h0m-10.5 0.5h0m-1.5 3h0m19.5 -4h0m-19.5 2.5h0m-3.5 1h0m3.5 -1.5h0m30 -4h0m-21 4.5h0m2 0h0m-7 -0.5h0m7.5 1.5h0m-4.5 -1h0m17.5 -3.5h0m-27.5 4h0m16 -1.5h0m9 -3h0m14 -0.5h0m-31 6.5h0m0 -4h0m30.5 -4.5h0m-39 6h0m26.5 -3h0m-22.5 3.5h0m34.5 -6h0m-38 6.5h0m24 -4h0m9.5 0h0m-27.5 5h0m5.5 -2.5h0m3 1.5h0m-3.5 -1.5h0m12 -2.5h0m1.5 -1.5h0m-17.5 3.5h0m17 -3h0m-11.5 5h0m2 -0.5h0m-6.5 0.5h0m22 -6h0m-1.5 1.5h0m-15.5 3.5h0m-7.5 1h0m2.5 -2.5h0m7 2.5h0m4.5 -1h0m-12.5 -1h0m13.5 0.5h0m2 -1.5h0m-8 2h0m-1.5 0.5h0m25 -7.5h0m-3 1.5h0m-34 4.5h0m27.5 -6h0m-1 5h0m-1 -1.5h0m9.5 -1.5h0m-17.5 4.5h0m-2.5 -2h0m-12.5 2.5h0m15 -1h0m4 -2.5h0m10 -1h0m-17.5 0.5h0m-2 4h0m-1.5 1h0m-12 -0.5h0m36 -7h0m-33.5 7.5h0m16.5 -3h0m12 -3h0m-30 7.5h0m25 -5.5h0m-4.5 2.5h0m-1 -4.5h0m17.5 0.5h0m-3.5 -2h0m-8 4.5h0m-12 1.5h0m-12 2.5h0m12 -2.5h0m-12.5 2h0m-1 2.5h0m11 -6h0m1 0.5h0m12 -0.5h0m2 0h0m10.5 -3.5h0m-25.5 5.5h0m25 -3.5h0m-16.5 1.5h0m-10 3h0m1 -3h0m19 -3h0m-1 2h0m-24 4h0m10 -2.5h0m15 -3.5h0m-13.5 5h0m14.5 -1.5h0m5.5 -0.5h0m-12.5 -0.5h0m5 -2h0m-28.5 9.5h0m35.5 -10h0m-23.5 4.5h0m22 -6h0m-28.5 6.5h0m22 -4.5h0m-21.5 7h0m3.5 -1.5h0m12 -3h0m-9 1.5h0m5 -1.5h0m6.5 0h0m-9.5 -1.5h0m1 1.5h0m-0.5 0h0m20.5 -2h0m-15.5 1.5h0m6.5 -1h0m1 1.5h0m2 -1h0m-15 3.5h0m16 -5h0m1 0h0m-33 7h0m17.5 -7h0m14 0.5h0m-17 3h0m3 1h0m16 -4h0m-16.5 3h0m-14 3.5h0m0 -2h0m29 -4.5h0m-7.5 1h0m-14 3h0m-5 2h0m28.5 -7h0m-18.5 3h0m5 -0.5h0m2.5 0.5h0m-20.5 3.5h0m11 -3.5h0m-5 2h0m17.5 -3h0m-18 3.5h0m25 -2.5h0m-31 3.5h0m23 -6h0m6 3h0m-2.5 -3h0m-9.5 2.5h0m-2 2h0m10 -5.5h0m-14 6h0m25 -6.5h0m-13 3h0m0.5 -2.5h0m-16 5.5h0m10.5 -3.5h0m10.5 -1h0m-8.5 5h0m5 -6h0m3.5 3h0m7 -1.5h0m-9 0h0m8.5 1h0m-27 3.5h0m24.5 -4h0m1 -4h0m-35 11h0m21 -6.5h0m8 0h0m-15 -0.5h0m20 0h0m-8 -0.5h0m2.5 0h0m8 -1.5h0m-30 7h0m-4 -1h0m9.5 -0.5h0m9 -2.5h0m18.5 -2h0m-31 6h0m9.5 -3h0m5 -0.5h0m-6.5 0.5h0m-7.5 0h0m15.5 -1h0m-0.5 -1h0m-17 5h0m30 -6h0m-35 3.5h0m24.5 -1h0m-25 5h0m32 -7.5h0m-30.5 6.5h0m15.5 -4h0m-6.5 2.5h0m-3.5 -2.5h0m19 -0.5h0m11.5 -2h0m-30.5 6h0m12.5 -2.5h0m6 -2.5h0m3 -2h0m-14.5 5.5h0m-8.5 2.5h0m6 -3h0m3.5 -4h0m22.5 -3h0m-26 8h0m4 -2.5h0m-15 5h0m32 -9.5h0m-9 5.5h0m-5.5 0h0m15.5 -6.5h0m-0.5 4h0m-28.5 4h0m11 0h0m3 -1.5h0m5.5 -1.5h0m-17.5 2h0m6 -0.5h0m-5.5 3h0m9 -4h0m1 -0.5h0m-0.5 2h0m-1 0h0m3.5 -1h0m18.5 -4.5h0m-16.5 4h0m-17 0.5h0m5.5 1h0m6 -1h0m12.5 -2.5h0m-14.5 1.5h0m23.5 -2h0m-31.5 8h0m-6 -2h0m16.5 -3.5h0m21 -5h0m-19 6h0m-9 3h0m23.5 -5h0m-24 4h0m11 -4.5h0m-17.5 4.5h0m15.5 -2h0m3.5 0.5h0m2.5 -2.5h0m3.5 -1.5h0m-18.5 3h0m-8.5 5h0m10.5 -4h0m18 -4h0m-13.5 3.5h0m-14 3h0m36 -6.5h0m-24 2.5h0m17.5 -1.5h0m-28 5.5h0m15.5 -4h0m-3 0.5h0m14 -4h0m-7 3.5h0m-22.5 2h0m5 1h0m2.5 -0.5h0m-2.5 1.5h0m0 -0.5h0m30 -7h0m-31 7.5h0m-4 1.5h0m3.5 -2.5h0m13 -0.5h0m20.5 -4h0m1 -3h0m-13.5 3.5h0m-14.5 3h0m-10 1h0m5.5 -0.5h0m10 -0.5h0m-5.5 -0.5h0m2 0h0m4 -0.5h0m-8.5 0h0m23.5 -2h0m2.5 0.5h0m-22.5 2.5h0m-2 -1h0m23 -2h0m-33 3.5h0m39 -6h0m-5 3h0m-25 2h0m27.5 -4.5h0m-22.5 4h0m22.5 -6h0m-17.5 5.5h0m6 -0.5h0m-6 3h0m9.5 -5.5h0m-7 0h0m6 4h0m5.5 -3h0m-30.5 4h0m17 -1h0m6 -4h0m-22.5 6.5h0m-3 0.5h0m4.5 -1h0m9.5 -4h0m8 -2h0m-10.5 4.5h0m15 -4.5h0m-2.5 1h0m14 -1h0m-33 3h0m23.5 -2.5h0m-6.5 1h0m-6.5 0.5h0m1 1.5h0m22.5 -4h0m-4 -2h0m-12 3.5h0m-3.5 2h0m19 -4h0m-30.5 7h0m27 -5.5h0m-17.5 0.5h0m9 -2h0m-3.5 1h0m-20 4.5h0m26 -2h0m-9.5 -0.5h0m7.5 -2h0m5.5 -0.5h0m-16 4h0m-12 4.5h0m25.5 -7h0m-15.5 1.5h0m-12 4h0m22.5 -4.5h0m-8 -2h0m-1 3h0m-9.5 3.5h0m1.5 0.5h0m2 -2h0m-8 0h0m20.5 -2h0m-14 2.5h0m13 -4.5h0m-16.5 2.5h0m21.5 -3h0m-21 5h0m-2 1.5h0m15 -4.5h0m-19 7h0m33 -9h0m-21.5 5.5h0m4 -4h0m12.5 1h0m-8.5 0.5h0m-7.5 0h0m-9 1h0m2 0h0m33.5 -7h0m-35 7.5h0m12.5 -2.5h0m-15 3.5h0m32.5 -6.5h0m-31.5 6.5h0m3 -1h0m3.5 -1.5h0m-0.5 -1h0m7 -1h0m2.5 3h0m9.5 -3.5h0m-6 0h0m-13.5 3.5h0m-1.5 0.5h0m23 -4.5h0m-19.5 4.5h0" stroke="#000" stroke-width="1.0" stroke-linecap="square" opacity="0.9" fill="none"/><path d="M253 86h0m0.5 5h0m-0.5 -15h0m-1.5 -17.5h0m0.5 10h0m1 11.5h0m-0.5 5h0m-0.5 -8.5h0m1 -14.5h0m-1 35.5h0m0.5 -43.5h0m0 38h0m-1 -30.5h0m-0.5 35h0m1 -39.5h0m0.5 42.5h0m-1 -0.5h0m1.5 -6.5h0m-0.5 3h0m-0.5 0.5h0m1 -17.5h0m-0.5 6h0m-0.5 4.5h0m1 -18h0m0 20.5h0m-0.5 -11.5h0m0 11.5h0m1 -31.5h0m-1.5 0.5h0m0 16h0m1 19h0m0 3.5h0m-0.5 -26h0m0 -7.5h0m0.5 -1.5h0m-0.5 17.5h0m1.5 -10h0m-1.5 6h0m-1 2.5h0m0 8h0m1.5 7h0m-0.5 -9h0m-1 2.5h0m0.5 -14h0m-0.5 -9.5h0m0.5 3.5h0m1 -1.5h0m-1 22.5h0m0 -25.5h0m0.5 -0.5h0m-0.5 19h0m0 -18.5h0m0.5 26.5h0m1 -27h0m-2 16h0m1.5 12.5h0m-1.5 -23.5h0m1 3h0m-1.5 0h0m2.5 19.5h0m0.5 -9.5h0m-1 3.5h0m0 -12h0m-1.5 -10h0m2 20.5h0m-1.5 -24.5h0m-1 39h0m2.5 2h0m-2 -38.5h0m-0.5 38h0m1.5 -5h0m0 0h0m-1 -37.5h0m0 32h0m1.5 -31h0m-0.5 9h0m0 31.5h0m1 -21.5h0m-0.5 6.5h0m-1 -27.5h0m0 26h0m0 -28h0m0.5 0.5h0m1 30.5h0m0.5 -9.5h0m0 23h0m-2 -12h0m-0.5 -31.5h0m1.5 10h0m0.5 -10.5h0m-1 37.5h0m0.5 -18h0m-1.5 1h0m0 11h0m0 9h0m0.5 -4.5h0m0 3.5h0m0.5 -16h0m0 -9h0m0.5 30.5h0m-0.5 -1.5h0m-0.5 -0.5h0m-0.5 -23.5h0m1.5 0.5h0m-0.5 -19h0m-0.5 6h0m-0.5 25.5h0m-0.5 -2.5h0m1 -5h0m1 17.5h0m0.5 -33h0m-2 18h0m1.5 -23h0m-1.5 27h0m0.5 5h0m1 -1.5h0m0.5 -28.5h0m-1.5 7.5h0m-1 -1h0m1.5 1h0" stroke="#000" stroke-width="1.0" stroke-linecap="square" opacity="0.7" fill="none"/><path d="M254 54.5C256.8 49.5 265.7 52 271 52C276.3 52 281 52.8 286 54.5C291 56.2 298 60.2 301 62C304 63.8 304.8 63.2 304 65C303.2 66.8 300.3 70.5 296 73C291.7 75.5 282 77.2 278 80C274 82.8 273.8 87.5 272 90C270.2 92.5 269.5 94 267 95C264.5 96 259.2 98.2 257 96C254.8 93.8 254.5 88.9 254 82C253.5 75.1 251.2 59.5 254 54.5Z" fill="#fff" stroke="none" stroke-width="1" opacity="1"/><path d="M257.6 104C255.2 99.6 254.2 84.9 253.7 77.9C253.3 70.8 254.1 65.3 255.1 61.7C256.1 58.1 256.8 57.2 259.7 56.4C262.7 55.6 268.7 56.1 272.7 57C276.7 57.8 280.7 59.7 283.6 61.3C286.4 63 289.7 65.1 289.6 66.7C289.6 68.4 285.6 69.8 283.2 71.4C280.8 73 277.5 74.3 275.2 76.4C273 78.5 270.7 79.3 269.5 83.9C268.4 88.6 270.4 100.9 268.4 104.3C266.4 107.6 260.1 108.4 257.6 104Z" fill="none" stroke="#777" stroke-width="0.8" opacity="1" /><path d="M258.2 100C256.3 96.4 256.2 84.5 255.8 78.4C255.4 72.3 254.8 66.6 255.7 63.5C256.5 60.4 258.3 60.3 260.9 59.7C263.5 59.1 268 59.4 271.4 60C274.7 60.6 278.7 61.9 281.1 63.3C283.6 64.8 286.1 67.2 285.9 68.7C285.8 70.1 282.2 70.7 280.1 71.9C278 73.2 275.3 74.5 273.3 76.2C271.2 77.9 268.9 77.9 267.9 81.9C266.8 85.9 268.6 97.2 267 100.2C265.4 103.2 260 103.7 258.2 100Z" fill="none" stroke="#888" stroke-width="0.8" opacity="1" /><path d="M259.4 96C257.8 92.9 257.8 82.6 257.4 77.6C257.1 72.6 256.6 68.6 257.3 66C257.9 63.4 258.9 62.9 261.1 62.2C263.2 61.6 267.5 61.9 270.2 62.4C273 62.9 275.8 64.4 277.6 65.5C279.4 66.6 281.3 67.8 281.3 69C281.2 70.1 278.9 71.4 277.4 72.6C275.9 73.8 273.7 74.4 272.1 75.9C270.6 77.5 268.8 78.6 268 81.9C267.1 85.2 268.3 93.5 266.9 95.9C265.4 98.2 261 99 259.4 96Z" fill="none" stroke="#888" stroke-width="0.8" opacity="1" /><path d="M260.1 91.7C258.8 89.4 258.8 81 258.5 77.1C258.2 73.1 257.6 70 258.4 67.9C259.1 65.8 261.1 64.9 262.8 64.4C264.5 63.9 266.6 64.4 268.6 64.9C270.6 65.4 273.2 66.5 274.7 67.3C276.2 68.2 277.8 69.2 277.7 70.1C277.6 71.1 275.3 72 274 73C272.8 74 271.3 74.9 270.1 76.1C268.9 77.3 267.5 77.8 266.8 80.3C266.2 82.8 267 89.1 265.9 91C264.8 92.9 261.3 94.1 260.1 91.7Z" fill="none" stroke="#999" stroke-width="0.8" opacity="1" /><path d="M261.2 86.7C260.3 85.1 259.8 79.7 259.7 76.9C259.5 74.1 260 71.4 260.4 69.8C260.7 68.3 260.6 67.7 261.8 67.4C263 67.2 265.9 67.9 267.6 68.3C269.2 68.6 270.6 69.3 271.6 69.8C272.7 70.3 273.8 70.7 273.7 71.4C273.6 72.1 272.1 73.1 271.2 73.8C270.3 74.6 269 74.9 268.2 75.7C267.3 76.5 266.6 77 266.1 78.8C265.5 80.6 265.7 85.3 264.9 86.6C264.1 87.9 262.1 88.4 261.2 86.7Z" fill="none" stroke="#999" stroke-width="0.8" opacity="1" /><path d="M255.5 71.5C256.0 78.5 258.5 86.0 258.5 103.0" fill="none" stroke="#777" stroke-width="0.8" opacity="1" /><path d="M257.6 70.0C258.1 78.5 259.6 86.0 259.6 103.0" fill="none" stroke="#888" stroke-width="0.8" opacity="1" /><path d="M259.7 68.5C260.2 78.5 260.8 86.0 260.8 103.0" fill="none" stroke="#999" stroke-width="0.8" opacity="1" /><path d="M261.8 67.0C262.3 78.5 261.9 86.0 261.9 103.0" fill="none" stroke="#777" stroke-width="0.8" opacity="1" /><path d="M263.9 65.5C264.4 78.5 263.1 86.0 263.1 103.0" fill="none" stroke="#888" stroke-width="0.8" opacity="1" /><path d="M266.0 67.0C266.5 78.5 264.2 86.0 264.2 103.0" fill="none" stroke="#999" stroke-width="0.8" opacity="1" /><path d="M268.1 68.5C268.6 78.5 265.4 86.0 265.4 103.0" fill="none" stroke="#777" stroke-width="0.8" opacity="1" /><path d="M270.2 70.0C270.7 78.5 266.6 86.0 266.6 103.0" fill="none" stroke="#888" stroke-width="0.8" opacity="1" /><path d="M272.3 71.5C272.8 78.5 267.7 86.0 267.7 103.0" fill="none" stroke="#999" stroke-width="0.8" opacity="1" /><path d="M266 99.5h0m2 6h0m-2 0.5h0m-3 3.5h0m4 -5h0m4 -1h0m0.5 1h0m-8.5 -1.5h0m2.5 4h0m-5 -6h0m2 5.5h0m-2.5 -1h0m11 3h0m-8.5 -3.5h0m4.5 1h0m-6 -0.5h0m4 1.5h0m-1 -5.5h0m3.5 2.5h0m-5 -1.5h0m6.5 4.5h0m-10 1h0m4 -4h0m-6.5 3h0m4 -3.5h0m10 -5h0m-3 5.5h0m-9.5 2h0m4.5 -4h0m0.5 1h0m10 -2h0m-9 3.5h0m4.5 -2h0m-7 3h0m8.5 -0.5h0m-10.5 1h0m5.5 -3.5h0m2.5 -4.5h0m5.5 5.5h0m-1 6h0m0.5 -8h0m-11.5 5h0m-3.5 -4h0m13 3h0m-1.5 -3.5h0m-6 2h0m-0.5 0h0m3 2h0m6.5 4.5h0m-7.5 -6h0m-1 1.5h0m-5.5 0h0m11.5 2.5h0m-4 -3.5h0m6.5 2h0m-9.5 0h0m4 -3.5h0m-8 1.5h0m0 -0.5h0m10.5 1.5h0m-6 -6h0m8.5 8h0m0 -6h0m3.5 2.5h0m-10 3h0m0 -5h0m1.5 0.5h0m-1 1.5h0m2 0h0m-3.5 4h0m1 -8.5h0m-5.5 7h0m9.5 -2h0m-4 -3.5h0m-1 6.5h0m3 -2.5h0m-7.5 -1.5h0m5.5 -2.5h0m1 0.5h0m3 2h0m2 0.5h0m-2 0h0m6.5 1h0m-7.5 -3h0m0.5 8.5h0m3.5 -2h0m-16 -5.5h0m14 -3h0m-4 6h0m-3.5 2h0m-0.5 -3.5h0m11.5 2.5h0m-10.5 -5.5h0m3.5 3.5h0m0 2h0m-3 -8h0m-2.5 9.5h0m7.5 -3.5h0m-9 -4h0m8 5.5h0m8.5 1h0m-16.5 -2.5h0m0.5 0.5h0m-1.5 -1.5h0m1 2h0m4.5 1.5h0m3.5 -3h0m-1.5 -1.5h0m-3.5 2.5h0m4.5 -2.5h0m5 0.5h0m4 5.5h0m-16 1h0m5 -2.5h0m7 -3h0m-9.5 1.5h0m3 -1h0m0 -0.5h0m-2.5 -0.5h0m-1.5 -2h0m3 5.5h0m-1.5 -5.5h0m0 3h0m8 -2h0m3 3h0m-9.5 -5h0m6 6.5h0m1.5 0.5h0m-12.5 0.5h0m16 -5h0m-12.5 0.5h0m6 2h0m-14.5 0.5h0m10.5 -2h0m2 3h0m-4.5 -4.5h0m4.5 3.5h0m2.5 -3.5h0m-16.5 1.5h0m11.5 0.5h0m3.5 -0.5h0m-2.5 -0.5h0m-6.5 -2.5h0m14 0h0m-2 -1.5h0m-6 4h0m7.5 -0.5h0m-9 -1h0m6.5 0.5h0m1 5h0m-9 -6.5h0m0.5 7h0m-3 -4.5h0m-3 -0.5h0m0.5 0.5h0m11 -0.5h0m-9.5 2h0m5.5 0.5h0m4 -4.5h0m-0.5 2h0m1.5 0.5h0m0.5 6.5h0m4.5 -5h0m-6.5 -2h0m-1 -2h0m1.5 4.5h0m6 -0.5h0m-6.5 2h0m-3 -5.5h0m3 0.5h0" stroke="#000" stroke-width="1.0" stroke-linecap="square" opacity="0.8" fill="none"/><ellipse cx="263.5" cy="105" rx="4.2" ry="3" fill="none" stroke="#000" stroke-width="1.7" opacity="1" transform="rotate(0 263.5 105)"/><ellipse cx="263.5" cy="105" rx="1.8" ry="1.2" fill="#fff" stroke="none" stroke-width="0" opacity="1" transform="rotate(0 263.5 105)"/><path d="M310.5 106h0m-4 -2.5h0m-4 0.5h0m-36.5 0h0m41 4.5h0m-13 -1h0m-24 -1.5h0m26 -1.5h0m-14 -1.5h0m-3.5 -0.5h0m11.5 -4h0m-19 8h0m28 2h0m-4.5 -5.5h0m-19.5 0.5h0m2 -2.5h0m-14.5 1h0m44 -2.5h0m-20 2h0m16 0h0m-12 2.5h0m12 -2h0m-36.5 1.5h0m33.5 -3h0m-28.5 2h0m37 0h0m-9.5 0h0m-31.5 1h0m2 -0.5h0m12 -0.5h0m6.5 0.5h0m0.5 -0.5h0m-1.5 1h0m-14.5 1.5h0m0 -6h0m8 10.5h0m30.5 -2.5h0m-23.5 -5.5h0m6.5 0.5h0m-17.5 2h0m9.5 -3h0m-13 0.5h0m33 5h0m-26.5 -6h0m19 2.5h0m6 -1.5h0m-39.5 0h0m22 1.5h0m22.5 -5h0m-22.5 6.5h0m-15 3.5h0m-3 -3h0m17.5 0.5h0m3 -3h0m12.5 0h0m-29.5 5h0m17 2h0m14.5 -4.5h0m-16 1h0m-4.5 -6.5h0m0 9.5h0m6 -10h0m9.5 6.5h0m-27 -1h0m-3.5 3h0m13 -2.5h0m17.5 -0.5h0m-4 -4h0m7.5 1.5h0m-25 0.5h0m32.5 0h0m-6.5 2h0m-31.5 3.5h0m16 -5.5h0m10 4h0m-9 -3.5h0m-7.5 -2.5h0m-15.5 3h0m9.5 1.5h0m-6.5 0h0m6.5 1h0m34 -4h0m-42 2h0m21.5 -0.5h0m-27.5 1h0m22.5 1h0m13.5 -4.5h0m-16.5 5.5h0" stroke="#222" stroke-width="1.0" stroke-linecap="square" opacity="0.5" fill="none"/></g>
<line x1="271.5" y1="39.5" x2="271.5" y2="116.5" stroke="#6a6a6a" stroke-width="1" />
<line x1="251" y1="97.5" x2="327.5" y2="97.5" stroke="#6a6a6a" stroke-width="1" />
<rect x="251" y="39.5" width="76.5" height="77.0" fill="none" stroke="#7a7a7a" stroke-width="1" />
<rect x="252.2" y="40.9" width="9.3" height="7.4" fill="#fff" stroke="none" stroke-width="1" />
<text x="253.0" y="47.1" font-size="7.5" font-weight="normal" text-anchor="start" fill="#111" stroke="#111" stroke-width="0.15" textLength="7.7" lengthAdjust="spacingAndGlyphs">51</text>
<rect x="312.6" y="40.9" width="15.0" height="7.4" fill="#fff" stroke="none" stroke-width="1" />
<text x="326.8" y="47.1" font-size="7.5" font-weight="normal" text-anchor="end" fill="#111" stroke="#111" stroke-width="0.15" textLength="13.4" lengthAdjust="spacingAndGlyphs">24.3</text>
<rect x="252.2" y="109.2" width="15.0" height="7.4" fill="#fff" stroke="none" stroke-width="1" />
<text x="253.0" y="115.4" font-size="7.5" font-weight="normal" text-anchor="start" fill="#111" stroke="#111" stroke-width="0.15" textLength="13.4" lengthAdjust="spacingAndGlyphs">23.6</text>
<rect x="312.6" y="109.2" width="15.0" height="7.4" fill="#fff" stroke="none" stroke-width="1" />
<text x="326.8" y="115.4" font-size="7.5" font-weight="normal" text-anchor="end" fill="#111" stroke="#111" stroke-width="0.15" textLength="13.4" lengthAdjust="spacingAndGlyphs">1.12</text>
<text x="249" y="44.5" font-size="4.0" font-weight="normal" text-anchor="end" fill="#777" >10<tspan font-size="2.8" dy="-1.6">5</tspan></text>
<text x="249" y="63.029411764705884" font-size="4.0" font-weight="normal" text-anchor="end" fill="#777" >10<tspan font-size="2.8" dy="-1.6">4</tspan></text>
<text x="249" y="81.55882352941177" font-size="4.0" font-weight="normal" text-anchor="end" fill="#777" >10<tspan font-size="2.8" dy="-1.6">3</tspan></text>
<text x="249" y="100.08823529411765" font-size="4.0" font-weight="normal" text-anchor="end" fill="#777" >10<tspan font-size="2.8" dy="-1.6">2</tspan></text>
<text x="248.5" y="109.5" font-size="3.6" font-weight="normal" text-anchor="end" fill="#888" >0</text>
<text x="260" y="122.5" font-size="3.8" font-weight="normal" text-anchor="middle" fill="#777" >0</text>
<text x="267" y="122.5" font-size="3.8" font-weight="normal" text-anchor="middle" fill="#777" >10<tspan font-size="2.6" dy="-1.5">2</tspan></text>
<text x="286" y="122.5" font-size="3.8" font-weight="normal" text-anchor="middle" fill="#777" >10<tspan font-size="2.6" dy="-1.5">3</tspan></text>
<text x="305" y="122.5" font-size="3.8" font-weight="normal" text-anchor="middle" fill="#777" >10<tspan font-size="2.6" dy="-1.5">4</tspan></text>
<text x="322" y="122.5" font-size="3.8" font-weight="normal" text-anchor="middle" fill="#777" >10<tspan font-size="2.6" dy="-1.5">5</tspan></text>
<text x="289.25" y="127.0" font-size="3.6" font-weight="normal" text-anchor="middle" fill="#888" >&lt;PE-A&gt;: Tetramer</text>
<line x1="260" y1="116.5" x2="260" y2="118.0" stroke="#999" stroke-width="0.6" />
<line x1="275" y1="116.5" x2="275" y2="118.0" stroke="#999" stroke-width="0.6" />
<line x1="290" y1="116.5" x2="290" y2="118.0" stroke="#999" stroke-width="0.6" />
<line x1="305" y1="116.5" x2="305" y2="118.0" stroke="#999" stroke-width="0.6" />
<line x1="320" y1="116.5" x2="320" y2="118.0" stroke="#999" stroke-width="0.6" />
<g clip-path="url(#cla21)"><path d="M111 195.5h0m-1 -6.5h0m-9.5 9.5h0m8.5 -2h0m2.5 -9.5h0m-3.5 10h0m5 0h0m-9 -1.5h0m5 -6h0m3 -2.5h0m1 13.5h0m-1.5 -7h0m-1 3h0m3 -7.5h0m-6.5 9.5h0m1.5 -1.5h0m-7 -10h0m12 11.5h0m-7.5 -9.5h0m3 5h0m-5 -2h0m5 -2h0" stroke="#444" stroke-width="1.0" stroke-linecap="square" opacity="0.5" fill="none"/><path d="M74.7 196.7C74.6 193.6 75.7 188.5 77 185C78.3 181.5 80.5 177.7 82.4 175.6C84.3 173.5 86.4 172.5 88.2 172.7C90 172.8 91.2 176 93 176.5C94.8 177 96.2 175.4 98.8 175.6C101.4 175.8 106.3 176.4 108.4 177.5C110.5 178.6 111.6 180.7 111.3 182.3C111 183.9 108.3 185.7 106.5 187C104.7 188.3 102.3 188.1 100.7 190C99.1 191.9 98.6 196.4 96.8 198.7C95 201 93.2 203 90 203.8C86.8 204.7 80.1 205 77.6 203.8C75 202.6 74.8 199.8 74.7 196.7Z" fill="#fff" stroke="#777" stroke-width="0.9" opacity="1" /><path d="M75.8 196.1C75.7 193.2 76.7 188.5 77.9 185.2C79.1 181.9 81.2 178.4 82.9 176.5C84.7 174.6 86.7 173.6 88.3 173.8C90 173.9 91.1 176.9 92.8 177.3C94.4 177.8 95.8 176.3 98.2 176.5C100.6 176.6 105.2 177.2 107.1 178.2C109 179.3 110.1 181.2 109.8 182.7C109.5 184.2 107 185.9 105.3 187.1C103.7 188.3 101.5 188 100 189.9C98.4 191.7 98 195.8 96.3 198C94.7 200.1 93 201.9 90 202.7C87 203.5 80.8 203.8 78.5 202.7C76.1 201.6 75.9 199 75.8 196.1Z" fill="none" stroke="#aaa" stroke-width="0.7" opacity="1" /><path d="M75.5 195C75.9 192.3 76.8 186.9 78 184C79.2 181.1 81.2 178.8 83 177.5C84.8 176.2 87.3 176.1 89 176.5C90.7 176.9 92.1 177.8 93 180C93.9 182.2 94.5 187 94.5 190C94.5 193 94.1 195.9 93 198C91.9 200.1 90.3 201.7 88 202.5C85.7 203.3 81.1 203.2 79 202.8C76.9 202.4 76.1 201.3 75.5 200C74.9 198.7 75.1 197.7 75.5 195Z" fill="#808080" stroke="#444" stroke-width="0.8" opacity="1" /><path d="M76.4 194.4C76.8 192 77.8 187 78.9 184.5C80 181.9 81.4 180.4 83.1 179.2C84.8 178 87.3 176.9 88.8 177.1C90.4 177.4 91.7 178.5 92.5 180.6C93.4 182.7 93.8 186.9 93.8 189.6C93.8 192.4 93.2 195.2 92.3 197.1C91.5 198.9 90.8 200.1 88.5 200.8C86.3 201.4 81 201.4 79 201.1C76.9 200.9 76.9 200.1 76.5 199C76 197.9 75.9 196.9 76.4 194.4Z" fill="none" stroke="#555" stroke-width="0.7"/><path d="M77.4 193.6C77.8 191.5 78.3 187.1 79.4 184.8C80.4 182.5 82.1 180.6 83.5 179.7C85 178.7 86.8 178.8 88 179.1C89.3 179.5 90.2 180.2 91.1 182C91.9 183.8 92.9 187.6 93 189.8C93 192.1 92.5 193.7 91.6 195.4C90.6 197.1 89.3 199.2 87.4 199.9C85.5 200.7 81.9 200.4 80.2 200C78.6 199.6 78 198.7 77.5 197.7C77 196.6 77.1 195.8 77.4 193.6Z" fill="none" stroke="#aaa" stroke-width="0.7"/><path d="M78.1 192.4C78.4 190.6 79.4 187.2 80.3 185.3C81.2 183.5 82.3 182.3 83.5 181.4C84.8 180.4 86.8 179.6 87.9 179.7C89.1 179.8 89.9 180.3 90.5 181.9C91.2 183.5 91.7 187.1 91.7 189.2C91.6 191.4 91.1 193.6 90.4 195C89.6 196.5 88.6 197.5 87.1 198.1C85.6 198.6 82.6 198.6 81.2 198.3C79.8 198 79.1 197.4 78.6 196.4C78.1 195.4 77.8 194.3 78.1 192.4Z" fill="none" stroke="#555" stroke-width="0.7"/><path d="M79.2 192.1C79.5 190.5 80.1 187.3 80.8 185.5C81.5 183.7 82.4 182 83.5 181.2C84.6 180.5 86.2 180.8 87.2 181.1C88.3 181.4 89.3 181.7 89.9 183C90.5 184.4 90.8 187.1 90.8 188.9C90.8 190.8 90.6 192.6 89.8 193.9C89 195.2 87.7 196.3 86.2 196.7C84.8 197.2 82.4 196.7 81.3 196.4C80.1 196.2 79.6 195.7 79.2 195C78.9 194.3 79 193.7 79.2 192.1Z" fill="none" stroke="#999" stroke-width="0.7"/><path d="M80.4 191.1C80.5 189.8 80.6 187.4 81.1 186C81.7 184.6 82.9 183.2 83.9 182.6C84.9 181.9 86.4 181.7 87.2 182C88 182.2 88.3 182.9 88.7 184.1C89 185.3 89.2 187.6 89.3 189.1C89.4 190.7 89.5 192.3 89 193.3C88.5 194.3 87.5 194.9 86.3 195.3C85.1 195.7 82.8 195.9 81.9 195.7C80.9 195.5 80.7 194.8 80.5 194C80.2 193.3 80.3 192.5 80.4 191.1Z" fill="none" stroke="#666" stroke-width="0.7"/><path d="M96 178C97.4 177 101.8 176.6 104 177C106.2 177.4 109.2 179.1 109.5 180.5C109.8 181.9 107.8 184.4 106 185.5C104.2 186.6 100.8 187.4 99 187C97.2 186.6 96 184.5 95.5 183C95 181.5 94.6 179 96 178Z" fill="#d0d0d0" stroke="#666" stroke-width="0.8" opacity="1" /><path d="M97.4 179C98.5 178.2 101.7 177.9 103.4 178.2C105.1 178.5 107.3 179.8 107.5 180.8C107.8 181.9 106.2 183.8 104.9 184.6C103.6 185.4 101 186 99.7 185.7C98.4 185.4 97.4 183.8 97 182.7C96.7 181.6 96.4 179.7 97.4 179Z" fill="none" stroke="#888" stroke-width="0.7" opacity="1" /><ellipse cx="102.5" cy="181.5" rx="3.2" ry="1.8" fill="#8a8a8a" stroke="#555" stroke-width="0.6" opacity="1" transform="rotate(0 102.5 181.5)"/><path d="M75 196C75.7 194.3 77.2 191.5 79 190.5C80.8 189.5 83.7 189.7 86 190C88.3 190.3 91.9 191 93 192.5C94.1 194 93.3 197.2 92.5 199C91.7 200.8 90.4 202.3 88 203C85.6 203.7 80.2 203.7 78 203.3C75.8 202.9 75.5 201.7 75 200.5C74.5 199.3 74.3 197.7 75 196Z" fill="#3a3a3a" stroke="none" stroke-width="1" opacity="1" /><path d="M75.2 199.5C75.9 198.5 79.4 197.7 82 197.5C84.6 197.3 90 197.5 91 198.5C92 199.5 90.2 202.7 88 203.5C85.8 204.3 80.1 204.3 78 203.6C75.9 202.9 74.5 200.5 75.2 199.5Z" fill="#111" stroke="none" stroke-width="1" opacity="1" /><ellipse cx="84" cy="195.5" rx="3.6" ry="1.6" fill="#777" stroke="none" stroke-width="0" opacity="1" transform="rotate(-12 84 195.5)"/><ellipse cx="84" cy="195.5" rx="1.6" ry="0.7" fill="#bbb" stroke="none" stroke-width="0" opacity="1" transform="rotate(-12 84 195.5)"/></g>
<line x1="95.7" y1="140.5" x2="95.7" y2="218.5" stroke="#6a6a6a" stroke-width="1" />
<line x1="70" y1="188.5" x2="145.7" y2="188.5" stroke="#6a6a6a" stroke-width="1" />
<rect x="70" y="140.5" width="75.69999999999999" height="78.0" fill="none" stroke="#7a7a7a" stroke-width="1" />
<rect x="71.2" y="141.9" width="15.0" height="7.4" fill="#fff" stroke="none" stroke-width="1" />
<text x="72.0" y="148.1" font-size="7.5" font-weight="normal" text-anchor="start" fill="#111" stroke="#111" stroke-width="0.15" textLength="13.4" lengthAdjust="spacingAndGlyphs">14.1</text>
<rect x="130.8" y="141.9" width="15.0" height="7.4" fill="#fff" stroke="none" stroke-width="1" />
<text x="145.0" y="148.1" font-size="7.5" font-weight="normal" text-anchor="end" fill="#111" stroke="#111" stroke-width="0.15" textLength="13.4" lengthAdjust="spacingAndGlyphs">9.91</text>
<rect x="71.2" y="211.2" width="15.0" height="7.4" fill="#fff" stroke="none" stroke-width="1" />
<text x="72.0" y="217.4" font-size="7.5" font-weight="normal" text-anchor="start" fill="#111" stroke="#111" stroke-width="0.15" textLength="13.4" lengthAdjust="spacingAndGlyphs">72.3</text>
<rect x="134.6" y="211.2" width="11.2" height="7.4" fill="#fff" stroke="none" stroke-width="1" />
<text x="145.0" y="217.4" font-size="7.5" font-weight="normal" text-anchor="end" fill="#111" stroke="#111" stroke-width="0.15" textLength="9.6" lengthAdjust="spacingAndGlyphs">3.7</text>
<text x="68" y="145.5" font-size="4.0" font-weight="normal" text-anchor="end" fill="#777" >10<tspan font-size="2.8" dy="-1.6">5</tspan></text>
<text x="68" y="164.3235294117647" font-size="4.0" font-weight="normal" text-anchor="end" fill="#777" >10<tspan font-size="2.8" dy="-1.6">4</tspan></text>
<text x="68" y="183.14705882352942" font-size="4.0" font-weight="normal" text-anchor="end" fill="#777" >10<tspan font-size="2.8" dy="-1.6">3</tspan></text>
<text x="68" y="201.97058823529412" font-size="4.0" font-weight="normal" text-anchor="end" fill="#777" >10<tspan font-size="2.8" dy="-1.6">2</tspan></text>
<text x="67.5" y="211.5" font-size="3.6" font-weight="normal" text-anchor="end" fill="#888" >0</text>
<text x="79" y="224.5" font-size="3.8" font-weight="normal" text-anchor="middle" fill="#777" >0</text>
<text x="86" y="224.5" font-size="3.8" font-weight="normal" text-anchor="middle" fill="#777" >10<tspan font-size="2.6" dy="-1.5">2</tspan></text>
<text x="105" y="224.5" font-size="3.8" font-weight="normal" text-anchor="middle" fill="#777" >10<tspan font-size="2.6" dy="-1.5">3</tspan></text>
<text x="124" y="224.5" font-size="3.8" font-weight="normal" text-anchor="middle" fill="#777" >10<tspan font-size="2.6" dy="-1.5">4</tspan></text>
<text x="141" y="224.5" font-size="3.8" font-weight="normal" text-anchor="middle" fill="#777" >10<tspan font-size="2.6" dy="-1.5">5</tspan></text>
<text x="107.85" y="229.0" font-size="3.6" font-weight="normal" text-anchor="middle" fill="#888" ></text>
<line x1="79" y1="218.5" x2="79" y2="220.0" stroke="#999" stroke-width="0.6" />
<line x1="94" y1="218.5" x2="94" y2="220.0" stroke="#999" stroke-width="0.6" />
<line x1="109" y1="218.5" x2="109" y2="220.0" stroke="#999" stroke-width="0.6" />
<line x1="124" y1="218.5" x2="124" y2="220.0" stroke="#999" stroke-width="0.6" />
<line x1="139" y1="218.5" x2="139" y2="220.0" stroke="#999" stroke-width="0.6" />
<g clip-path="url(#cla22)"><path d="M175.5 200.5h0m-6.5 -9h0m38.5 -9.5h0m-37.5 -9.5h0m35.5 11.5h0m1 -11h0m-37 1.5h0m24 28.5h0m4 -37h0m-26.5 27h0m21 -25.5h0m13.5 -1.5h0m-1 1h0m-36.5 22.5h0m4.5 -16.5h0m-2 20.5h0m22.5 7h0m-26 -24h0m0 0h0m38 8.5h0m0 5h0m-37.5 -1h0m35 -2h0m-25 -16h0m29 -5h0m-10.5 -0.5h0m-11 37.5h0m16 -36.5h0m-20.5 34.5h0m-12 -10h0m-1.5 -7.5h0m39 -16.5h0m-30.5 37h0m26 -15.5h0m-29.5 -11.5h0m16.5 22h0m-10 1.5h0m4 -31.5h0m-12 18.5h0m30 -20.5h0m-35 5.5h0m2 19.5h0m7 -20h0m8 -1.5h0m-15 7h0m3.5 22h0m19 2h0m10.5 -33.5h0m-32.5 12h0m36.5 -12.5h0m-28 3h0m-8.5 13h0m38.5 -1h0m-28.5 22h0m8.5 -2.5h0m-4.5 -2h0m26 -29h0m-40 26.5h0m39.5 -28.5h0m-4 16.5h0m-1 3h0m-6.5 -22h0m-6.5 32h0m-20.5 -4h0m33 -1h0m-34.5 -9.5h0m39 -18h0m0.5 7h0m-30.5 26.5h0m28 -14h0m-38 -13.5h0m37 -5.5h0m-27.5 5h0m-7 0.5h0m41.5 -2h0m-13 27h0m-20.5 3.5h0m-7 -3h0m28.5 -3.5h0m9 -21h0m-7 21.5h0m-1.5 -29h0m9.5 16.5h0m-4.5 -14h0m-0.5 17h0m-1.5 -19h0m-34 28.5h0m6.5 -23.5h0m24 27h0m-4.5 -28.5h0m12 -3h0m-10.5 0.5h0m6.5 26.5h0m-31 3h0m-2 -5.5h0m1 -17.5h0m31.5 18h0m6.5 -20.5h0m-5.5 -4.5h0m-31.5 5h0m27.5 24.5h0m-26 -1h0m-3 3h0m38.5 -20.5h0m-15 24.5h0m-13.5 -34h0m19.5 -1h0m3 21.5h0m-14.5 12h0m-22 -19.5h0m4 22h0m20 -3h0m16.5 -33h0m1 6h0m-39 19h0m36 -26h0m0 2h0m0.5 11h0m-32 18h0m3.5 3.5h0m5 -0.5h0m-13.5 -21.5h0m12.5 -6.5h0m-2.5 30h0m5.5 -1.5h0m8 -31.5h0m-9 0h0m-11.5 15.5h0m19 -16.5h0m-23 9h0m-3 5h0m44 -12h0m0 7h0m-40.5 12h0m34.5 3.5h0m-17.5 -24h0m15 29.5h0m-31 -19h0m4 18.5h0m13 -28.5h0m-15 6.5h0m34.5 8h0m-14.5 17h0m11 -34h0m-32 29h0m34.5 -33h0m-17 8h0m20 14.5h0m-1.5 -18h0m-8.5 -2h0m6 2h0m1 22h0m-28.5 13h0m28 -15h0m-36 -5h0m0 0h0m2 8.5h0m-1 1h0m5 7h0m10 3.5h0m7 -33h0m4 -2.5h0m-24.5 23h0m35.5 -19.5h0m-36 5.5h0m-3.5 3h0m28 -10.5h0m7 24.5h0m-18.5 -23h0m-4 32.5h0m7 -31.5h0m-9.5 31h0m14.5 -1h0m15 -28.5h0m-15.5 26.5h0m17.5 -27h0m-9.5 24h0m-4.5 -26.5h0m-19.5 29.5h0m30.5 -5.5h0m4 -19.5h0m-34.5 27h0m30.5 -15h0m3 -3h0m-37.5 1h0m34.5 -17.5h0m-35 30.5h0m26.5 -1h0m-28 -19h0m19.5 26.5h0m14 -12.5h0m-21.5 11h0m12 0.5h0m-0.5 -33h0m-4.5 0.5h0m15 -4.5h0m-34.5 8.5h0m2 8.5h0m33 -16.5h0m-34 19.5h0m35 -20.5h0m-33.5 25h0m37 -11h0m-9 -11h0m9.5 5.5h0m-39.5 18h0m0 -9.5h0m6.5 17.5h0m32 -29.5h0m-16 0h0m4 -3.5h0m-27.5 12.5h0m25.5 -10.5h0m10.5 -4h0m-6 33h0m11 -13h0m-2.5 -17.5h0m-15.5 -0.5h0m-14.5 3h0m-5.5 19h0m34 2h0m-28.5 -17h0m2.5 -3h0m28 -0.5h0m-24 31.5h0m19.5 -35h0m-33.5 17h0m19.5 20.5h0m18.5 -36.5h0m-12 0h0m-22.5 29h0m33.5 -29h0m-23 0.5h0m-14 23.5h0m16 9.5h0m-13.5 -17h0m-1 -1h0m19 19h0m-23.5 -14.5h0m40.5 5.5h0m0.5 -26h0m-39 5h0m40.5 3h0m-11 21h0m-26.5 -18h0m20 -12h0m16 16h0m0 1h0m-10.5 16h0m-18.5 3h0m24 -10.5h0m-12 11h0m-5 -31.5h0m-12.5 28h0m10 -33h0m25.5 1h0m-5.5 -0.5h0m-31 25h0m38.5 -21.5h0m-21.5 -1h0m-0.5 32.5h0m15.5 -32.5h0m-22 32.5h0m17.5 -6.5h0m-26.5 -1h0m1.5 7h0m23 1.5h0m-5.5 -35h0m10 1h0m5.5 -1.5h0m0.5 1.5h0m-2 19.5h0m-4.5 -20h0m-18.5 3h0m-11.5 16.5h0m14 14h0m-14 -8.5h0m36 -24h0m-1 -3h0m0 18h0m-11 15.5h0m-7.5 2.5h0m7.5 -2h0m-19.5 3h0m10 0h0m20.5 -36h0m-8.5 28h0m-2.5 6h0m0.5 -2.5h0m-21 -0.5h0m36 -14.5h0m-36.5 16h0m2.5 1h0m24 -4h0m-21 6.5h0m1 -1.5h0m25 -15.5h0m-17.5 16h0m-10.5 -32.5h0m-7 11h0m-1 -6h0m0 18h0m23 9h0m-4.5 3h0m16.5 -37h0m-2 -3h0m-26 37h0m-6 -17h0m-2 -1h0m21.5 -13.5h0m-19 2h0m8 0h0m27 -4.5h0m-23 37h0m22 -17.5h0m-24 15.5h0m26 -20.5h0m-7.5 13h0m-29 -8.5h0m31.5 5h0m1.5 -2h0m-9.5 9h0m-1.5 0.5h0m9 -31h0m-10 2h0m-2 29.5h0m-5.5 -29.5h0m13.5 30.5h0m-14 -31.5h0m-14 25h0m15.5 -27.5h0m16 -1h0m1 2.5h0m-13.5 35h0m11 -36h0m7 1h0m4 2h0m-40 8.5h0m29.5 21.5h0m8 -27h0m-2.5 14.5h0m-24 15.5h0m-11.5 -29.5h0m41.5 -2h0m-28.5 30h0m12 -4h0m4.5 -30.5h0m0 -1h0m9.5 5h0m-4 16h0m-28.5 -17.5h0m31.5 1.5h0m-6.5 -3.5h0m-2.5 30.5h0m12.5 -25.5h0m-21.5 29h0m12.5 -7.5h0m-34.5 -1h0m8.5 -21.5h0m32.5 -4.5h0m-3.5 -1h0m-35.5 22h0m36.5 7.5h0m-4 -6h0m-24 -17h0m30.5 1h0m-10 -8h0m5.5 2h0m-35.5 14h0m34 -14.5h0m-15 34.5h0m6.5 -1.5h0m-26 -17.5h0m13 20.5h0m-6.5 -32h0m-5.5 14.5h0m7.5 14.5h0m17 -1h0m14.5 -29.5h0m-24.5 0h0m19.5 25h0m-1.5 -26.5h0m-17.5 3.5h0m-5.5 29h0m-5.5 -1h0m-3 -27h0m0.5 7.5h0m36 5h0m-39 -3.5h0m3 -5.5h0m32.5 -8.5h0m-34 17.5h0m14 17h0m-17 -24.5h0m11.5 23.5h0m29.5 -27h0m1.5 5.5h0m-3.5 -11.5h0m-35 6.5h0m1 19h0m2.5 -21h0m20.5 -5.5h0m14 20h0m-18.5 13h0m1 -0.5h0m15.5 -8.5h0m2 -20h0m-39.5 10.5h0m42 -7.5h0m-41.5 9.5h0m29.5 -17h0m6 20.5h0m-7.5 -18.5h0m-3.5 1.5h0m-20.5 6h0m16 -8h0m22 3.5h0m-4 -5.5h0m-36.5 18.5h0m33 6.5h0m-23.5 -23.5h0m26.5 4.5h0m-34 31h0m3 0.5h0m10.5 -32.5h0m19 17.5h0m-36.5 -11.5h0m1.5 -4h0m0.5 4h0m26.5 21h0m-11.5 -30h0m17.5 25.5h0m-10.5 7h0m-21 -5.5h0m-2.5 -19h0m20 27.5h0m21.5 -33h0m-24.5 31.5h0m9.5 -3h0m-9.5 -35h0m22 6.5h0m-5 -4h0m-31 29.5h0m31.5 -30.5h0m5.5 12h0m-10.5 18.5h0m-12.5 6h0m21.5 -25.5h0m-22 -6.5h0m-5.5 2h0m-6.5 -1h0m-3 7h0m35 11h0m-36 -4h0m1.5 9h0m16.5 8h0m13 -6h0m6.5 -11h0m-36.5 5.5h0m29.5 -23h0m3 -1h0m-0.5 2h0m-23 33.5h0m25 -35h0m-27 4.5h0m0.5 0.5h0m-9.5 24h0m39 -28.5h0m-4 -1.5h0m-32 32.5h0m25 0h0m-13 -26.5h0m-2.5 -3h0m-13 11h0m18.5 23h0m18.5 -19.5h0m3.5 -10h0m-21.5 -3h0m-15 25h0m-2 -1h0m30 -26.5h0m-32 23h0m2.5 3h0m1.5 -19h0m21.5 25h0m14 -32.5h0m-3.5 19.5h0m-0.5 1.5h0m1.5 5h0m-37 1.5h0m16 -24.5h0m24.5 7h0m-1.5 3h0m-10.5 -14h0m-19 37h0m21.5 -3.5h0m8 -33h0m0.5 4.5h0m1 8.5h0m-38 10h0m2 -13h0m-1.5 -2.5h0m38 4.5h0m-11.5 19.5h0m-7 0.5h0m17 -27h0m-1 11.5h0m-35.5 2.5h0m31.5 -19h0m-16.5 3.5h0m21.5 16.5h0m-19 -17.5h0m-18 24.5h0m11.5 8h0m5.5 -1h0m-0.5 -31h0m-13.5 28.5h0m14.5 -27h0m-19 9.5h0m3 15h0m10 -24.5h0m21 21h0m3.5 -26h0m-34.5 28.5h0m21.5 -25h0m-0.5 -5h0m-24.5 28h0m25 -25.5h0m10 0h0m1.5 -2.5h0m-34 8.5h0m23 29h0m13.5 -30.5h0m-6.5 21.5h0m-21.5 -23h0m-2.5 29h0m16.5 -32h0m14 8.5h0m-25.5 26h0m-10 -28h0m34.5 -7h0m-13 34h0m7 -34h0m-12.5 33h0m13 -32.5h0m6.5 -0.5h0m-37 5.5h0m35 15h0m-36 -15h0m39 5h0m-19.5 24.5h0m19 -31h0m-0.5 -1.5h0m1 9.5h0m-29.5 22h0m-10.5 -16.5h0m22.5 -15h0m-7 0.5h0m-13 7.5h0m34.5 10.5h0" stroke="#000" stroke-width="1.0" stroke-linecap="square" opacity="0.85" fill="none"/><path d="M182 182.5h0m26 -4.5h0m-14 9.5h0m-14.5 7h0m29.5 -17h0m-3.5 13.5h0m-14 0.5h0m20 -10h0m-38.5 3h0m-5 18h0m2 -17h0m-0.5 9h0m-1.5 -8h0m6 -2.5h0m9 0.5h0m-12 10.5h0m5 -8.5h0m13 17h0m18 -31.5h0m-18 32.5h0m15 -7h0m-15.5 -6.5h0m-4.5 -11.5h0m-12.5 12.5h0m-7 -11.5h0m35.5 10h0m-19.5 7.5h0m19.5 -21h0m-27 15.5h0m18.5 -7.5h0m7.5 -4h0m11.5 -14h0m1 26h0m-41 -2h0m5.5 2.5h0" stroke="#444" stroke-width="1.0" stroke-linecap="square" opacity="0.5" fill="none"/><path d="M171 173C173.6 171.2 180.5 171.3 185 170.5C189.5 169.7 194.7 168.5 198 168C201.3 167.5 203.6 166.5 205 167.5C206.4 168.5 206.7 171.2 206.5 174C206.3 176.8 204.9 181.2 204 184C203.1 186.8 202.5 188.8 201 191C199.5 193.2 197.8 195.4 195 197C192.2 198.6 187.5 200.1 184 200.5C180.5 200.9 176.3 201.1 174 199.5C171.7 197.9 170.8 194.1 170 191C169.2 187.9 169.3 184 169.5 181C169.7 178 168.4 174.8 171 173Z" fill="#8f8f8f" stroke="#222" stroke-width="0.9" opacity="1"/><path d="M171.8 173.9C174.2 172.3 181.1 172.6 185.3 171.9C189.5 171.1 194.2 169.6 197.2 169.2C200.3 168.8 202.3 168.4 203.6 169.3C204.8 170.3 205.1 172.5 204.9 174.9C204.8 177.3 203.4 181.2 202.6 183.8C201.8 186.4 201.5 188.4 200.1 190.5C198.7 192.5 197 194.7 194.4 196.2C191.8 197.8 187.8 199.5 184.5 199.8C181.2 200.1 176.8 199.5 174.7 197.9C172.6 196.4 172.4 193.2 171.7 190.4C171.1 187.6 170.8 183.8 170.8 181C170.8 178.3 169.4 175.4 171.8 173.9Z" fill="none" stroke="#e0e0e0" stroke-width="0.9" opacity="1" /><path d="M173.1 174.6C175.2 173.2 181 173.3 184.9 172.7C188.8 172 193.7 171.4 196.6 170.9C199.5 170.4 200.9 168.9 202.1 169.7C203.4 170.4 204.1 173.1 204 175.5C204 177.9 202.7 181.6 201.9 184.1C201.1 186.6 200.5 188.5 199.2 190.4C197.9 192.3 196.5 194 194 195.3C191.5 196.6 187.2 197.9 184.2 198.2C181.2 198.6 177.9 198.9 176 197.5C174.1 196.1 173.4 192.6 172.8 189.9C172.1 187.1 172.3 183.8 172.3 181.2C172.4 178.7 171 176 173.1 174.6Z" fill="none" stroke="#222" stroke-width="1.0" opacity="1" /><path d="M174.6 175.4C176.7 174 181.7 173.8 185.3 173.1C188.9 172.4 193.4 171.5 196 171.2C198.7 170.8 199.8 170.3 200.9 171.2C202.1 172.1 202.9 174.2 202.8 176.3C202.8 178.5 201.2 181.9 200.4 184.1C199.5 186.4 198.9 188.2 197.8 189.8C196.7 191.5 195.9 192.7 193.7 193.9C191.6 195.1 187.7 196.6 184.9 197C182 197.5 178.4 197.9 176.5 196.7C174.7 195.5 174.4 192.1 173.9 189.6C173.3 187.1 173 183.9 173.1 181.5C173.2 179.2 172.6 176.8 174.6 175.4Z" fill="none" stroke="#666" stroke-width="0.8" opacity="1" /><path d="M175.6 176.1C177.4 174.8 182.3 174.8 185.6 174.3C188.9 173.8 193 173.2 195.5 172.9C197.9 172.6 199.3 172 200.2 172.6C201.1 173.2 201 174.7 200.9 176.6C200.8 178.5 200.3 181.9 199.7 183.9C199.1 186 198.4 187.4 197.3 188.9C196.1 190.4 195 191.7 193 192.8C191 194 187.5 195.5 185 195.9C182.5 196.3 179.8 196.2 178.1 195.1C176.5 194.1 175.6 191.7 175.1 189.5C174.5 187.3 174.6 184.1 174.7 181.8C174.8 179.6 173.8 177.3 175.6 176.1Z" fill="none" stroke="#aaa" stroke-width="0.8" opacity="1" /><path d="M177 176.9C178.5 175.7 182.6 175.9 185.5 175.4C188.4 174.9 192.1 174.4 194.3 174.1C196.6 173.7 197.8 172.7 198.8 173.4C199.8 174 200.3 176.3 200.2 178.1C200 179.8 198.8 182.4 198.1 184.1C197.4 185.9 197 187 196.1 188.3C195.2 189.6 194.3 191 192.6 192C190.8 193 187.8 194.1 185.6 194.4C183.3 194.7 180.7 194.9 179.1 193.9C177.6 192.8 176.8 190.1 176.4 188.2C175.9 186.3 176.3 184.3 176.4 182.4C176.5 180.5 175.5 178 177 176.9Z" fill="none" stroke="#333" stroke-width="0.9" opacity="1" /><path d="M178.9 178C180.2 176.9 184 176.9 186.4 176.4C188.8 176 191.5 175.4 193.5 175.1C195.4 174.8 197.1 174.3 197.9 174.8C198.7 175.3 198.6 176.6 198.3 178.2C197.9 179.8 196.6 182.7 196.1 184.3C195.6 185.8 196 186.3 195.4 187.4C194.7 188.5 193.8 190 192.1 191C190.5 191.9 187.5 192.9 185.5 193.1C183.6 193.2 181.6 192.9 180.3 192C179 191.2 178.1 189.6 177.7 188C177.4 186.4 177.9 184.2 178.1 182.5C178.2 180.8 177.5 179 178.9 178Z" fill="none" stroke="#888" stroke-width="0.8" opacity="1" /><path d="M180.5 179.7C181.6 179 184.2 178.7 186.2 178.2C188.3 177.7 191.1 177 192.7 176.7C194.3 176.4 195 175.8 195.6 176.3C196.2 176.8 196.3 178.3 196.3 179.5C196.4 180.8 196.2 182.4 195.8 183.7C195.3 185 194.4 186.2 193.7 187.2C193 188.2 192.8 189.1 191.5 189.8C190.3 190.5 187.9 191.2 186.3 191.4C184.7 191.7 182.8 192.1 181.7 191.3C180.7 190.6 180.2 188.6 179.9 187.1C179.5 185.6 179.8 183.6 179.9 182.4C180 181.2 179.5 180.4 180.5 179.7Z" fill="none" stroke="#bbb" stroke-width="0.8" opacity="1" /><path d="M182 180.4C182.9 179.8 185.5 179.3 187.1 179.1C188.6 178.8 189.9 178.9 191.1 178.8C192.2 178.7 193.2 178 193.9 178.4C194.7 178.7 195.7 180 195.6 180.9C195.5 181.8 193.8 183.1 193.4 184C192.9 185 193.3 185.9 192.8 186.6C192.2 187.3 191 187.8 190 188.3C189 188.8 187.9 189.4 186.8 189.6C185.6 189.8 184.1 189.9 183.4 189.3C182.6 188.8 182.3 187.4 182 186.3C181.7 185.2 181.7 183.8 181.7 182.8C181.7 181.8 181.1 181 182 180.4Z" fill="none" stroke="#555" stroke-width="0.8" opacity="1" /><path d="M177 177L202.5 172L195.5 189.5" fill="none" stroke="#111" stroke-width="2.8" opacity="1" stroke-linejoin="round" stroke-linecap="round"/><ellipse cx="181.5" cy="195.5" rx="7.6" ry="4.9" fill="#000" stroke="none" stroke-width="0" opacity="1" transform="rotate(-12 181.5 195.5)"/><ellipse cx="181.5" cy="195.5" rx="3" ry="1.3" fill="#666" stroke="none" stroke-width="0" opacity="1" transform="rotate(-12 181.5 195.5)"/></g>
<line x1="185.6" y1="140.5" x2="185.6" y2="218.5" stroke="#6a6a6a" stroke-width="1" />
<line x1="160.5" y1="188.5" x2="237.2" y2="188.5" stroke="#6a6a6a" stroke-width="1" />
<rect x="160.5" y="140.5" width="76.69999999999999" height="78.0" fill="none" stroke="#7a7a7a" stroke-width="1" />
<rect x="161.7" y="141.9" width="9.3" height="7.4" fill="#fff" stroke="none" stroke-width="1" />
<text x="162.5" y="148.1" font-size="7.5" font-weight="normal" text-anchor="start" fill="#111" stroke="#111" stroke-width="0.15" textLength="7.7" lengthAdjust="spacingAndGlyphs">17</text>
<rect x="222.3" y="141.9" width="15.0" height="7.4" fill="#fff" stroke="none" stroke-width="1" />
<text x="236.5" y="148.1" font-size="7.5" font-weight="normal" text-anchor="end" fill="#111" stroke="#111" stroke-width="0.15" textLength="13.4" lengthAdjust="spacingAndGlyphs">50.7</text>
<rect x="161.7" y="211.2" width="15.0" height="7.4" fill="#fff" stroke="none" stroke-width="1" />
<text x="162.5" y="217.4" font-size="7.5" font-weight="normal" text-anchor="start" fill="#111" stroke="#111" stroke-width="0.15" textLength="13.4" lengthAdjust="spacingAndGlyphs">20.7</text>
<rect x="222.8" y="211.2" width="14.5" height="7.4" fill="#fff" stroke="none" stroke-width="1" />
<text x="236.5" y="217.4" font-size="7.5" font-weight="normal" text-anchor="end" fill="#111" stroke="#111" stroke-width="0.15" textLength="12.9" lengthAdjust="spacingAndGlyphs">11.5</text>
<text x="158.5" y="145.5" font-size="4.0" font-weight="normal" text-anchor="end" fill="#777" >10<tspan font-size="2.8" dy="-1.6">5</tspan></text>
<text x="158.5" y="164.3235294117647" font-size="4.0" font-weight="normal" text-anchor="end" fill="#777" >10<tspan font-size="2.8" dy="-1.6">4</tspan></text>
<text x="158.5" y="183.14705882352942" font-size="4.0" font-weight="normal" text-anchor="end" fill="#777" >10<tspan font-size="2.8" dy="-1.6">3</tspan></text>
<text x="158.5" y="201.97058823529412" font-size="4.0" font-weight="normal" text-anchor="end" fill="#777" >10<tspan font-size="2.8" dy="-1.6">2</tspan></text>
<text x="158.0" y="211.5" font-size="3.6" font-weight="normal" text-anchor="end" fill="#888" >0</text>
<text x="169.5" y="224.5" font-size="3.8" font-weight="normal" text-anchor="middle" fill="#777" >0</text>
<text x="176.5" y="224.5" font-size="3.8" font-weight="normal" text-anchor="middle" fill="#777" >10<tspan font-size="2.6" dy="-1.5">2</tspan></text>
<text x="195.5" y="224.5" font-size="3.8" font-weight="normal" text-anchor="middle" fill="#777" >10<tspan font-size="2.6" dy="-1.5">3</tspan></text>
<text x="214.5" y="224.5" font-size="3.8" font-weight="normal" text-anchor="middle" fill="#777" >10<tspan font-size="2.6" dy="-1.5">4</tspan></text>
<text x="231.5" y="224.5" font-size="3.8" font-weight="normal" text-anchor="middle" fill="#777" >10<tspan font-size="2.6" dy="-1.5">5</tspan></text>
<text x="198.85" y="229.0" font-size="3.6" font-weight="normal" text-anchor="middle" fill="#888" >&lt;PE-A&gt;: Helios</text>
<line x1="169.5" y1="218.5" x2="169.5" y2="220.0" stroke="#999" stroke-width="0.6" />
<line x1="184.5" y1="218.5" x2="184.5" y2="220.0" stroke="#999" stroke-width="0.6" />
<line x1="199.5" y1="218.5" x2="199.5" y2="220.0" stroke="#999" stroke-width="0.6" />
<line x1="214.5" y1="218.5" x2="214.5" y2="220.0" stroke="#999" stroke-width="0.6" />
<line x1="229.5" y1="218.5" x2="229.5" y2="220.0" stroke="#999" stroke-width="0.6" />
<g clip-path="url(#cla23)"><path d="M289 195h0m-32.5 -11h0m40.5 -17.5h0m-37 30.5h0m13.5 5h0m26 -25.5h0m-1 1.5h0m-33.5 -4.5h0m34 -3h0m-22.5 0h0m-17.5 24.5h0m3.5 -20h0m22.5 23h0m-28.5 -13h0m17.5 15h0m25.5 -21h0m-19 21h0m-24 -6h0m36 -2.5h0m-35 1.5h0m37 -25h0m-38 13h0m2 1h0m1 -1h0m-2.5 6h0m32.5 9h0m-1 4h0m-12.5 -30h0m-12.5 26h0m29 -1h0m-32 4h0m1 2.5h0m34.5 -13h0m-34.5 -14h0m-1.5 6h0m-4 3h0m1.5 1.5h0m23.5 -15.5h0m-13 29.5h0m30 -18h0m1.5 3h0m-3 4.5h0m-6 9h0m-8.5 2h0m-19 1.5h0m-2 -27.5h0m-3 11h0m9 18h0m28.5 -15h0m-6.5 -21h0m-2.5 30h0m-4 7.5h0m-24 -12h0m-1 5.5h0m41.5 -9.5h0m-41 3h0m3 4.5h0m41 -16h0m-2.5 -4h0m-37.5 23.5h0m38 -22.5h0m-1.5 -1.5h0m-36 24.5h0m36 -16.5h0m-9 -15.5h0m8 19.5h0m-36.5 -12.5h0m34 -6h0m4.5 -1.5h0m-28.5 2.5h0m9 31h0m5 -1.5h0m12 -28.5h0m-16 29h0m-20.5 -23.5h0m42.5 1h0m-45 2.5h0m1 16.5h0m39 -23h0m-8 -5h0m3 -1h0m-33 7h0m-3 20.5h0m33.5 4.5h0m-34 -19.5h0m43 -12h0m-40.5 13h0m-1 6.5h0m38.5 -14.5h0m-9.5 -3.5h0m10 13h0m-3 13.5h0m4.5 -14h0m-24.5 -9.5h0m28 9h0m0 -1.5h0m-44 2.5h0m0 0h0m-1.5 11h0m35.5 -24h0m7.5 6.5h0m-3.5 -7.5h0m3 8h0m-7 21h0m-32 -19h0m11.5 -8.5h0m-13.5 14h0m41.5 -2.5h0m-15 -11h0m9 31.5h0m2 -34.5h0m0.5 22.5h0m13 -10.5h0m-48.5 20h0m0 -25h0m-0.5 3.5h0m39 -8h0m-1 18h0m2.5 -9.5h0m-39.5 -6.5h0m34 -3.5h0m-7 0h0m-30 15h0m14 16h0m13 -2h0m-5 4h0m-15.5 0.5h0m22.5 -3.5h0m-29 -5h0m37 -25.5h0m-31 4h0m-7 6.5h0m30.5 -10h0m-18.5 36h0m29.5 -24h0m-42 9h0m5 10.5h0m37.5 -27.5h0m-37.5 28h0m36 -26.5h0m-31.5 27.5h0m-6 -26h0m38.5 4.5h0m-3.5 -14h0m1.5 -0.5h0m-2 4h0m3.5 4.5h0m-15 -6.5h0m0 31h0m-22.5 -3.5h0m10.5 4h0m-10 -2.5h0m-1.5 -20.5h0m14 -5.5h0m-12.5 29h0m-5 -17h0m36.5 13h0m1 0.5h0m-17.5 3.5h0m-18.5 -4.5h0m38.5 -3h0m-24 8.5h0m-13 -4h0m41 -16.5h0m-18 21.5h0m15.5 -22h0m-23.5 -8h0m27 2.5h0m-8.5 24h0m-18.5 -26h0m10.5 -2h0m-25 10.5h0m34.5 16h0m-24.5 4.5h0m-0.5 0.5h0m31.5 -23.5h0m-43 3h0m26 19.5h0m-26.5 -17.5h0m34 15h0m-7.5 3.5h0m9 -32.5h0m7.5 6h0m-42 3h0m4.5 21.5h0m38.5 -17h0m-1 -17.5h0m-2.5 4h0m-4 26h0m-37 -10.5h0m28 13.5h0m14.5 -15.5h0m-16 -12h0m12.5 18.5h0m-36 -9.5h0m2 16.5h0m37.5 -15h0m-15.5 -14h0m15.5 13.5h0m-43 10h0m28.5 7h0m-8.5 4h0m22.5 -29h0m-10.5 23.5h0m-20.5 -23.5h0m29 22.5h0m-34.5 -20h0m39 -3h0m-28 30.5h0m-12 -28.5h0m30.5 -5.5h0m-17.5 0.5h0m4 32.5h0m-16 -1h0m19 -33.5h0m15 23h0m3.5 -12.5h0m-30.5 29.5h0m-11 -24.5h0m0 -2h0m39 7h0m3 -6h0m-34 19h0m-9 -8.5h0m11 9h0m-9 -11h0m3.5 -17.5h0m12.5 -1h0m-1.5 0h0m0.5 28.5h0m-14.5 -26.5h0m-1.5 9h0m1 13h0m40 -14.5h0m-42 1h0m-1.5 10h0m3 -17h0m11 26.5h0m27.5 -13.5h0m-19.5 -18h0m-17.5 22.5h0m39 -19h0m-19.5 26h0m-21.5 -5h0m0 -9.5h0m-1 -3h0m8.5 19.5h0m-6 -17.5h0m-3 5.5h0m0.5 7.5h0m0.5 -2h0m24 5h0m17.5 -26.5h0m-40 -1h0m4.5 29h0m-4.5 -22h0m38 -8.5h0m-1.5 17.5h0m-38.5 -4.5h0m36.5 11h0m-36 -1.5h0m43.5 -15.5h0m-43 2.5h0m-1.5 1h0m44 -8.5h0m-41.5 21.5h0m40 -29.5h0m-1 20.5h0m2 -10h0m0.5 -5.5h0m-42.5 11.5h0m0.5 10.5h0m34 -22.5h0m6.5 14h0m3.5 -3.5h0m-4.5 -1h0m-37 -3h0m40 -0.5h0m-1.5 2h0m-3.5 -9.5h0m-34.5 31h0m34.5 -9h0m-14 -20.5h0m-25 19h0m4 -11.5h0m29.5 -8.5h0m3.5 -2h0m-7.5 30.5h0m-31 -8h0m2.5 -11h0m1.5 -6.5h0m-6 14.5h0m3.5 5.5h0m41.5 -5.5h0m-39.5 7h0m38 -16.5h0m-36 -2.5h0m19 -5h0m-24 22h0m1 -7h0m27.5 16.5h0m-10.5 -28h0m-16 6h0m19.5 -6.5h0m20 0.5h0m-42 18h0m1.5 -1.5h0m39.5 3.5h0m-6 -24.5h0m-22.5 32.5h0m-12 -18h0m16.5 -11h0m13.5 28h0m-27 0.5h0m1 -14h0m19.5 14.5h0m10 -29.5h0m-28.5 4h0m-1.5 4.5h0m0 16h0m41 -9.5h0m-41.5 1h0m16.5 16h0m5 -32.5h0m-3.5 -1.5h0m4 0h0m-22 30h0m1 -23h0m22.5 -5.5h0m-24.5 13h0m0 -6h0m6 24h0m-6.5 -3.5h0m43.5 -13h0m-2.5 -10.5h0m-1 -5h0m-37 6h0m38 4h0m-5.5 15h0m5.5 -11h0m-14.5 14.5h0m12.5 -5.5h0m6 -20h0m-30.5 28h0m5 -31h0m-21 6.5h0m44 1h0m1.5 1.5h0m-25.5 23.5h0m16.5 -10h0m6 -15.5h0m-32.5 23.5h0m19 -2.5h0m2 3h0m-14 3h0m-3.5 0h0m-1.5 -34h0m-10 24.5h0m0.5 -6.5h0m-0.5 7h0m7.5 6.5h0m-7 -22.5h0m40.5 4h0m-1 5h0m-40 1h0m25 -20h0m-17.5 4h0m23 -4h0m-23 36h0m18 -35.5h0m13 19.5h0m-7.5 9.5h0m-29 -6h0m-4 -11.5h0m18 20.5h0m-14 -26h0m40.5 4.5h0m-44.5 -1.5h0m39 -9h0m4.5 7h0m-34 25h0m0 1.5h0m31.5 -33h0m-41 13h0m41 -14h0m-23 33h0m14.5 -31.5h0m1 26h0m-25 -22.5h0m2.5 -0.5h0m18.5 24.5h0m12 -15h0m-41.5 9.5h0m42 -16.5h0m-42 2h0m36 -8h0m7 4h0m-1 -4h0m1 -2.5h0m-41.5 19h0m42 0h0m2 -9.5h0m-3.5 8.5h0m-31.5 -12.5h0m32 10h0m-41.5 -1.5h0m41.5 7h0m-7 5h0m-31 8h0m-4 -15.5h0m19.5 16h0m22 -22h0m0.5 -11.5h0m-38 32h0m2 0.5h0m35.5 -27h0m-8.5 23.5h0m-31 -18h0m42.5 -1.5h0m-42 -4.5h0m-1 26.5h0m40 -31h0m-40 19h0m37 2h0m-1 1h0m-5 7h0m-1 2h0m-28 -24h0m37.5 14h0m-5.5 6h0m11 -15h0m-29.5 21.5h0m-8 0.5h0m5.5 -2h0m22.5 -11.5h0m-6 10h0m13 -15.5h0m-39.5 -7h0m-2 13.5h0m10 13.5h0m8.5 -2.5h0m-21.5 -22h0m-0.5 3.5h0m31.5 14h0m10 -25h0m-36 32h0m40 -29h0m-36.5 26.5h0m29 -4h0m-34 -21h0m14.5 26h0m-5 -30h0m17 -4.5h0m-28.5 15.5h0m1.5 -2.5h0m41.5 8h0m-14.5 -19.5h0m-27.5 8h0m41 2.5h0m-21.5 -9h0m-11.5 -2.5h0m-4 33h0m40.5 -14.5h0m-47.5 10.5h0m8 3.5h0m14.5 2.5h0m-18.5 -23.5h0m12.5 21h0m-9 -1h0m7.5 1.5h0m29.5 -28.5h0m-33.5 28.5h0m15.5 1.5h0m-2.5 -31h0m15 21h0m3 -24h0m-0.5 2.5h0m-21 28h0m25 -28h0m-3.5 16.5h0m-24 -15.5h0m22.5 16.5h0m5.5 -6h0m-9.5 11.5h0m3 -0.5h0m-21 8.5h0m25.5 -19h0m-31 18h0m-11 -4h0m1 -12.5h0m-2 6h0m21.5 10.5h0m-19 -21.5h0m41.5 -1h0m-40.5 -2h0m38.5 10.5h0m-1.5 1h0m-10 9h0m-25 2.5h0m-3 -14.5h0m4 14h0m36 -15.5h0m-42 -6.5h0m31.5 19.5h0m-31 3.5h0m40.5 -31.5h0m-4 24h0m3.5 -21h0m-2.5 17h0m4 -16h0m-30 -0.5h0m29.5 6h0m-44 17.5h0m19 8h0m18 -4.5h0m7.5 -21.5h0m-24 -8.5h0m-1.5 1.5h0m6.5 33.5h0m2 -4h0m-21 1h0m39 -28.5h0m-9 -2h0m1 -1.5h0m5 -1h0m-23.5 34.5h0m8 -4h0m-23 -8.5h0m38 -19.5h0m1.5 2h0m-37.5 23h0m8 -24.5h0m32 12h0m0.5 -4h0m-7 13h0m-27 -20h0m-1.5 30.5h0m31.5 -14h0m2 -8h0m4.5 -5.5h0m-5.5 -8h0m-38.5 21h0m16.5 -17h0m-8 -2h0m-11 9h0m36 14.5h0m6.5 -17h0m-24.5 -6.5h0m-17.5 12h0m18 -14h0m-15 28h0m3.5 8.5h0m33.5 -17h0m-14.5 -18h0m8.5 28.5h0m4 -8h0m-8.5 6h0m-28.5 2h0m-3 -2.5h0m46.5 -18h0m-35 26.5h0m31.5 -25.5h0m-31 -5h0m20 -3h0m11 13.5h0m-0.5 -4.5h0m-37 -5h0m-2 3.5h0m21 24h0m1 -2.5h0m18.5 -21h0m-3.5 -6.5h0m5.5 10.5h0m-40.5 17h0m20 -28.5h0m10.5 25h0m7 -26h0m-38.5 32.5h0m29.5 -5.5h0m-29.5 -23h0m-2 -2h0m41 2.5h0m-39.5 6.5h0m42 2h0m-5.5 -10.5h0m-37.5 21.5h0m0 -12.5h0m6.5 -10.5h0m6 31h0m-15.5 -5.5h0m1.5 1.5h0m13.5 -26h0m-11.5 6.5h0m8.5 24h0m-5.5 -26h0m35.5 -1.5h0m-16 26.5h0m-14.5 -27.5h0m11 30h0m-10 -4h0" stroke="#000" stroke-width="1.0" stroke-linecap="square" opacity="0.85" fill="none"/><path d="M280 174h0m-7.5 29.5h0m-3.5 -19.5h0m31.5 -7.5h0m-21.5 0h0m20 12h0m-3.5 -2.5h0m-1.5 -3.5h0m-12 -4.5h0m2 27h0m-13.5 -21h0m0 -12.5h0m3 -3h0m-16.5 4.5h0m25 17h0m-19 -9h0m26 9h0m-32.5 -18h0m39 26.5h0m-29.5 -9h0m-4.5 -18.5h0m21.5 6h0m-5 4h0m-21 6.5h0m21.5 -1.5h0m3.5 -15.5h0m-22.5 21h0m33.5 2.5h0m-38 1h0m22.5 -17h0m-2.5 7.5h0m-19.5 7h0m30.5 7h0m6 -16.5h0m-20 -5.5h0" stroke="#444" stroke-width="1.0" stroke-linecap="square" opacity="0.5" fill="none"/><path d="M262 174C265.2 172.3 272.3 171.9 278 171C283.7 170.1 292.6 167.7 296 168.5C299.4 169.3 298.2 173.2 298.5 176C298.8 178.8 298.8 182 297.5 185C296.2 188 294.2 191.6 291 194C287.8 196.4 282.7 198.6 278 199.5C273.3 200.4 266.2 200.8 263 199.5C259.8 198.2 259.7 195.1 259 192C258.3 188.9 258.5 184 259 181C259.5 178 258.8 175.7 262 174Z" fill="#9c9c9c" stroke="#222" stroke-width="0.9" opacity="1"/><path d="M263.1 174.7C266.1 173.1 273 172.6 278.3 171.7C283.7 170.9 292 169 295.2 169.7C298.3 170.5 297.1 173.7 297.3 176.3C297.5 178.9 297.4 182.5 296.2 185.4C294.9 188.2 292.9 191.2 289.9 193.4C286.9 195.6 282.4 197.5 278.1 198.4C273.8 199.3 267.1 199.9 264.2 198.8C261.2 197.8 261 195 260.4 192.1C259.8 189.2 260.3 184.2 260.7 181.3C261.2 178.4 260.2 176.3 263.1 174.7Z" fill="none" stroke="#e0e0e0" stroke-width="0.9" opacity="1" /><path d="M264.6 175.3C267.3 173.7 273.7 173.2 278.5 172.4C283.3 171.6 290.7 169.6 293.6 170.4C296.6 171.2 296 174.6 296.1 177.1C296.3 179.7 295.8 182.9 294.7 185.6C293.7 188.4 292.5 191.7 289.8 193.8C287.1 195.8 282.4 197.3 278.3 197.9C274.1 198.5 267.7 198.4 265 197.3C262.2 196.2 262.1 193.9 261.6 191.3C261.1 188.7 261.7 184.6 262.2 181.9C262.7 179.2 261.9 176.9 264.6 175.3Z" fill="none" stroke="#333" stroke-width="0.9" opacity="1" /><path d="M264.8 176.7C267.2 175.3 273.4 174.7 277.9 174C282.5 173.2 289.2 171.7 291.9 172.4C294.6 173.2 293.7 176.4 294.1 178.4C294.5 180.5 295 182.5 294.1 184.8C293.2 187.1 291.3 190.1 288.6 192C286 194 281.7 196 278 196.6C274.3 197.2 268.8 196.9 266.3 195.9C263.8 194.9 263.6 192.8 263.2 190.5C262.8 188.2 263.5 184.3 263.7 182C264 179.7 262.5 178 264.8 176.7Z" fill="none" stroke="#777" stroke-width="0.8" opacity="1" /><path d="M266.8 176.8C269.2 175.5 274.2 175 278.2 174.4C282.3 173.8 288.7 172.6 291.2 173.2C293.6 173.9 292.8 176.4 293 178.4C293.1 180.4 293.1 182.9 292.2 185.1C291.4 187.2 290.2 189.5 287.9 191.4C285.6 193.3 281.8 195.5 278.3 196.2C274.8 197 269 196.8 266.7 195.8C264.4 194.8 265.1 192.4 264.7 190.1C264.3 187.9 263.9 184.4 264.3 182.2C264.6 180 264.5 178.1 266.8 176.8Z" fill="none" stroke="#bbb" stroke-width="0.8" opacity="1" /><path d="M268.1 177.6C270 176.7 274.4 177.3 278 176.7C281.7 176.2 287.6 173.9 289.8 174.4C292.1 174.8 291.1 177.4 291.4 179.2C291.6 181.1 291.9 183.4 291.1 185.4C290.3 187.4 288.8 189.6 286.6 191.1C284.4 192.6 280.7 194 277.7 194.6C274.6 195.2 270.3 195.5 268.4 194.7C266.5 193.8 266.5 191.3 266.2 189.3C265.9 187.2 266.2 184.1 266.5 182.2C266.9 180.2 266.2 178.5 268.1 177.6Z" fill="none" stroke="#444" stroke-width="0.8" opacity="1" /><path d="M268.9 178.7C270.6 177.8 274.7 177.9 278 177.3C281.3 176.8 286.7 175 288.7 175.5C290.6 176.1 289.7 179 289.8 180.6C289.9 182.2 290 183.6 289.3 185.1C288.6 186.5 287.2 188.1 285.4 189.3C283.6 190.5 281 191.6 278.5 192.1C276 192.7 272.2 193.1 270.5 192.6C268.7 192.2 268.4 191.1 268 189.4C267.6 187.8 267.8 184.6 267.9 182.8C268.1 181 267.2 179.6 268.9 178.7Z" fill="none" stroke="#999" stroke-width="0.8" opacity="1" /><path d="M271.5 180.4C273 179.6 276 178.8 278.6 178.5C281.1 178.1 285.4 177.7 286.9 178.1C288.5 178.5 287.6 179.6 287.8 180.7C287.9 181.8 288.3 183.4 287.8 184.8C287.2 186.2 286.1 188.2 284.4 189.3C282.8 190.5 280.3 191.1 278.1 191.5C276 191.9 272.8 192.3 271.5 191.8C270.2 191.3 270.5 189.7 270.2 188.3C270 186.8 269.7 184.5 270 183.2C270.2 181.9 270.1 181.2 271.5 180.4Z" fill="none" stroke="#ccc" stroke-width="0.8" opacity="1" /><path d="M273.1 180.7C274.3 179.9 276.9 179.7 278.9 179.5C280.8 179.4 283.4 179.4 284.7 179.8C286 180.2 286.6 180.9 286.7 181.8C286.9 182.8 286.1 184.3 285.4 185.3C284.8 186.3 284.1 187 283 187.7C281.9 188.5 280.2 189.5 278.5 189.9C276.9 190.4 273.9 190.8 272.8 190.4C271.8 190 272.3 188.4 272.1 187.4C271.9 186.4 271.4 185.5 271.6 184.4C271.8 183.2 271.9 181.5 273.1 180.7Z" fill="none" stroke="#666" stroke-width="0.8" opacity="1" /><path d="M277 175.5L294.5 172L291 190.5" fill="none" stroke="#111" stroke-width="2.8" opacity="1" stroke-linejoin="round" stroke-linecap="round"/><path d="M252 200C256 198 258 197 262 197" fill="none" stroke="#333" stroke-width="0.8" opacity="1" /></g>
<line x1="277.2" y1="140.5" x2="277.2" y2="218.5" stroke="#6a6a6a" stroke-width="1" />
<line x1="251.5" y1="188.5" x2="327.5" y2="188.5" stroke="#6a6a6a" stroke-width="1" />
<rect x="251.5" y="140.5" width="76.0" height="78.0" fill="none" stroke="#7a7a7a" stroke-width="1" />
<rect x="252.7" y="141.9" width="15.0" height="7.4" fill="#fff" stroke="none" stroke-width="1" />
<text x="253.5" y="148.1" font-size="7.5" font-weight="normal" text-anchor="start" fill="#111" stroke="#111" stroke-width="0.15" textLength="13.4" lengthAdjust="spacingAndGlyphs">12.6</text>
<rect x="312.6" y="141.9" width="15.0" height="7.4" fill="#fff" stroke="none" stroke-width="1" />
<text x="326.8" y="148.1" font-size="7.5" font-weight="normal" text-anchor="end" fill="#111" stroke="#111" stroke-width="0.15" textLength="13.4" lengthAdjust="spacingAndGlyphs">63.5</text>
<rect x="252.7" y="211.2" width="15.0" height="7.4" fill="#fff" stroke="none" stroke-width="1" />
<text x="253.5" y="217.4" font-size="7.5" font-weight="normal" text-anchor="start" fill="#111" stroke="#111" stroke-width="0.15" textLength="13.4" lengthAdjust="spacingAndGlyphs">10.4</text>
<rect x="312.6" y="211.2" width="15.0" height="7.4" fill="#fff" stroke="none" stroke-width="1" />
<text x="326.8" y="217.4" font-size="7.5" font-weight="normal" text-anchor="end" fill="#111" stroke="#111" stroke-width="0.15" textLength="13.4" lengthAdjust="spacingAndGlyphs">13.4</text>
<text x="249.5" y="145.5" font-size="4.0" font-weight="normal" text-anchor="end" fill="#777" >10<tspan font-size="2.8" dy="-1.6">5</tspan></text>
<text x="249.5" y="164.3235294117647" font-size="4.0" font-weight="normal" text-anchor="end" fill="#777" >10<tspan font-size="2.8" dy="-1.6">4</tspan></text>
<text x="249.5" y="183.14705882352942" font-size="4.0" font-weight="normal" text-anchor="end" fill="#777" >10<tspan font-size="2.8" dy="-1.6">3</tspan></text>
<text x="249.5" y="201.97058823529412" font-size="4.0" font-weight="normal" text-anchor="end" fill="#777" >10<tspan font-size="2.8" dy="-1.6">2</tspan></text>
<text x="249.0" y="211.5" font-size="3.6" font-weight="normal" text-anchor="end" fill="#888" >0</text>
<text x="260.5" y="224.5" font-size="3.8" font-weight="normal" text-anchor="middle" fill="#777" >0</text>
<text x="267.5" y="224.5" font-size="3.8" font-weight="normal" text-anchor="middle" fill="#777" >10<tspan font-size="2.6" dy="-1.5">2</tspan></text>
<text x="286.5" y="224.5" font-size="3.8" font-weight="normal" text-anchor="middle" fill="#777" >10<tspan font-size="2.6" dy="-1.5">3</tspan></text>
<text x="305.5" y="224.5" font-size="3.8" font-weight="normal" text-anchor="middle" fill="#777" >10<tspan font-size="2.6" dy="-1.5">4</tspan></text>
<text x="322.5" y="224.5" font-size="3.8" font-weight="normal" text-anchor="middle" fill="#777" >10<tspan font-size="2.6" dy="-1.5">5</tspan></text>
<text x="289.5" y="229.0" font-size="3.6" font-weight="normal" text-anchor="middle" fill="#888" >&lt;PE-A&gt;: Helios</text>
<line x1="260.5" y1="218.5" x2="260.5" y2="220.0" stroke="#999" stroke-width="0.6" />
<line x1="275.5" y1="218.5" x2="275.5" y2="220.0" stroke="#999" stroke-width="0.6" />
<line x1="290.5" y1="218.5" x2="290.5" y2="220.0" stroke="#999" stroke-width="0.6" />
<line x1="305.5" y1="218.5" x2="305.5" y2="220.0" stroke="#999" stroke-width="0.6" />
<line x1="320.5" y1="218.5" x2="320.5" y2="220.0" stroke="#999" stroke-width="0.6" />
<g clip-path="url(#clc11)"><path d="M97 484h0m-16.5 -9.5h0m53.5 -7h0m-15.5 -21.5h0m-17 15.5h0m-8.5 -1.5h0m29.5 6.5h0m10.5 17.5h0m-33.5 -3h0m-8.5 -12h0m40.5 -5h0m-58.5 6h0m27.5 9.5h0m6.5 -34.5h0m35 1h0m-41.5 22h0m-8 15h0m-11.5 -8.5h0m8.5 -8.5h0m-13 -7h0m52.5 -10h0m-18.5 34h0m20 -2h0m10 -18.5h0m-8.5 -4h0m11 -4.5h0m-56 26h0m5 -12.5h0m-2 -16.5h0m47.5 -1.5h0m5 19.5h0m-69.5 9.5h0m22 -6h0m39 -21h0m-6.5 1h0m-19.5 18.5h0m32 -6.5h0m-21 1.5h0m10 16h0m-8.5 -36.5h0m21.5 4h0m-19.5 25h0m-18 5h0m13 -17.5h0m2 15.5h0" stroke="#333" stroke-width="1.0" stroke-linecap="square" opacity="0.55" fill="none"/><path d="M126.5 460.5h0m-6.5 8.5h0m-17.5 17h0m-9 -18h0m6.5 11.5h0m-13 4h0m30 -1.5h0m13.5 -2.5h0m-23.5 2.5h0m-18.5 -11h0m-8 11h0m11.5 -2.5h0m25 0.5h0m-26 -1h0m5 5h0m-10 -1h0m34.5 -2h0m-1.5 4.5h0m-21.5 -9h0m-15.5 2.5h0m21 1h0m30 -23h0m-50.5 26h0m36.5 -3.5h0m7 2h0m-35 -3.5h0m8.5 7h0m-4.5 -15.5h0m-2.5 8.5h0m11.5 -2h0m30.5 1h0m-28.5 6h0m15 -24.5h0m-13 27h0m-17 -4h0m-9.5 -9h0m44.5 -16h0m-45.5 19h0m48 -1.5h0m-23 -6h0m2 17.5h0m27 -11.5h0m-45 1.5h0m0.5 -8.5h0m36 18h0m-38 -27.5h0m24 22.5h0m-15.5 0.5h0m37 -16h0m-20 12h0m-19 8h0m30.5 -15.5h0m-9.5 -5.5h0m14.5 -7h0m-33 13h0m36.5 -3h0m-14 3.5h0m2 -7.5h0m-8 18h0m3 -10h0m-16 -6h0m28.5 15h0m6 -13.5h0m-11 -9h0m3.5 20.5h0m-28 -23h0m-8 23h0m-10.5 -8h0m23.5 2.5h0m6 -6.5h0m20.5 14h0m-19.5 1.5h0m-18 -13h0m2 1h0m21 6h0m4 10.5h0m12.5 -2h0m-16 2.5h0m-1 -6h0m8.5 0.5h0" stroke="#333" stroke-width="1.0" stroke-linecap="square" opacity="0.6" fill="none"/><path d="M145 454.5h0m3.5 4.5h0m-3 -2h0m1.5 13h0m-8.5 -13.5h0m5 1h0m-4.5 9.5h0m-1 -9h0m0.5 8h0m6 0h0m-5 -2.5h0m-1.5 7.5h0m2.5 -6h0m2.5 8.5h0m1 -10h0m-4 3h0m3 -1h0m-3 8h0m0.5 2h0m-0.5 -9h0m-6.5 1h0m3.5 4h0m3.5 5.5h0m-1.5 -7.5h0m4 -7h0m-4.5 2.5h0m2.5 -4.5h0m5 7.5h0m-0.5 2h0m-3 2h0m0.5 -6h0m-1 9h0m0.5 1.5h0m-1.5 2.5h0m1 -9h0m2.5 -8h0m-0.5 1.5h0m-1.5 -4.5h0m-4.5 7.5h0m4 -7.5h0m2 12.5h0m-3.5 -14h0m-1.5 2h0m4 3.5h0m-2 17h0m-3 -12h0m5.5 6.5h0m-4 -15h0m5 2.5h0m-4 10.5h0m1 -3.5h0m5.5 1h0m-3.5 -10h0m-3 1.5h0m2.5 -7h0m1.5 16.5h0m-0.5 -15.5h0m-4 1.5h0m1 11h0m2.5 7h0m-5 -13h0m-1 5h0m6.5 -11.5h0m-4.5 2h0m0.5 2h0m4.5 21.5h0m-5.5 -10.5h0m7 -2.5h0m-8 -0.5h0m3 -2.5h0m0 10.5h0m2.5 14.5h0m-0.5 -31.5h0m-7.5 14h0m4.5 -10h0m2 0.5h0m5 9.5h0m-8.5 4.5h0m4 -9h0m-5 -1h0m3 -2h0m2 -9.5h0m2.5 9h0m-10.5 7h0m4.5 -5.5h0m0 -2.5h0m6 -2h0m-10.5 4.5h0m9 -6h0m-2.5 17h0m-2.5 -7.5h0m1 -16.5h0m-2.5 27h0m2 -5h0m1 -0.5h0m0.5 -16.5h0m1.5 6.5h0m0 4h0m-3 6h0m3 5.5h0m-3 -11.5h0m1 -3h0m-2.5 -10h0m3.5 -2h0m-1.5 3.5h0m1.5 11h0m-5 -5h0m7.5 1.5h0m-2 -12.5h0m0 20.5h0m1.5 4.5h0m-2 -14h0m3 10h0m-3 4.5h0m-0.5 2.5h0m-2 -9.5h0m4.5 -3h0m-8 3.5h0m2.5 -21.5h0m0 5.5h0m2.5 3.5h0m5 0h0m-3 5h0m-3.5 -1.5h0m6.5 -2.5h0m-6 1.5h0m0 0.5h0m1.5 18.5h0m0.5 -13.5h0m1.5 0.5h0m-4 -7.5h0m-5.5 9.5h0m11 -4h0m-4 -9h0m-7 12h0m10.5 -10h0m-0.5 4.5h0m-1 7h0m-8 -3h0m8 6h0m3 -10.5h0m-13.5 4.5h0m13.5 1.5h0m-4.5 -1h0m3.5 -1.5h0m-7 -15.5h0m5 17.5h0m0.5 -5h0m3 6h0m-4 -3h0m-4.5 8h0m-1 -3h0m3.5 -3h0m7 3.5h0m1 -13h0m-18 2.5h0m16.5 8h0m-8 -14h0m6 28h0m-3.5 -16h0m-1.5 -3.5h0m5 -0.5h0m-3 5h0m-1 14h0m1.5 -26.5h0m-1.5 4.5h0m3 6h0m0 5.5h0m1.5 2h0m0.5 1h0" stroke="#000" stroke-width="1.0" stroke-linecap="square" opacity="0.6" fill="none"/><path d="M84 491.5h0m41 -3.5h0m-21 3.5h0m28.5 -2h0m-34 5.5h0m41.5 -4.5h0m-31 -1h0m36.5 5.5h0m-27 -5.5h0m-5 2h0m13.5 -6h0m-28 6h0m27 -5h0m14 5h0m-35 -1.5h0m40 -1h0m-30.5 0h0m13 0.5h0m-30 1h0m44 1h0m-25.5 0.5h0m-10.5 -1.5h0m30.5 -0.5h0m-27.5 0h0m33 1.5h0m-7 -1.5h0m-24 -3.5h0m-17 6.5h0m50.5 -2.5h0m-62 1.5h0m38.5 0.5h0m-31 -4.5h0m6 0.5h0m1.5 1h0m16.5 0.5h0m-26.5 -1h0m54 4h0m-51 4h0m31 -6.5h0m1 -1.5h0m-4.5 -2h0m-22 2.5h0m12 1h0m14 -3.5h0m-0.5 2.5h0m-43 1.5h0m36.5 -4.5h0m5 3.5h0m-41.5 -2h0m60 -0.5h0m-38 4h0m45.5 -1h0m-46.5 -1h0m30.5 0h0m-47.5 -3.5h0m22 5.5h0m13 -1h0m12 4.5h0m-42.5 -7h0m33.5 1.5h0m-38 -1.5h0m35.5 -0.5h0m-24.5 7h0m47.5 -2h0m4 -2.5h0m-35.5 -1.5h0m35.5 -2.5h0m-3.5 3.5h0m-29.5 1.5h0m31 3h0m-59 -2.5h0m17 -1h0m16.5 1.5h0m15.5 0.5h0m-9 -4h0m-5.5 2h0m4.5 1h0m-1 -2.5h0m-9.5 1.5h0m-12 2h0m-2 -2h0m-8 0.5h0m43.5 0.5h0m-53 -2.5h0m12 -3h0m0 2h0m9 5.5h0m10.5 -6h0m-26.5 4h0m33.5 3.5h0m-0.5 -6h0m-26.5 0.5h0m11 -1.5h0m26.5 2.5h0m-39 1.5h0m46.5 -2h0m-44 1.5h0m19 0h0m-12 3h0m-6.5 -5h0m15.5 3.5h0m-8 -4h0m-15.5 0.5h0m45 0.5h0m-37 -1.5h0m35.5 1h0m-39.5 2h0m55.5 0h0m-12 2.5h0m-27 0.5h0m35.5 -4.5h0m-41 1h0m-0.5 -8h0m37 11h0m-47 -1.5h0m39 -4.5h0m-4 1.5h0m18 2.5h0m-56.5 -2h0m57.5 0.5h0m-3 -3h0m-51 1.5h0m37.5 -4h0m-2.5 2.5h0m-5 2.5h0m25.5 -1.5h0m-49.5 -1.5h0m26.5 3.5h0m14.5 -4.5h0m-47 4.5h0m-7 2.5h0m47.5 -4.5h0m4.5 -1.5h0m-8 -0.5h0m9 -1h0m-42 6h0m-9 -2h0m27.5 0.5h0m32.5 -2.5h0m-22 0.5h0m-1 0.5h0m19.5 2h0m-15 -3h0m-30.5 2.5h0m-11 -1h0m16.5 2.5h0m41.5 2h0m-8 -1.5h0m-52 -4h0m11.5 2.5h0m-6 -2h0m40 2.5h0m16.5 1h0m-55.5 -2.5h0m27.5 3.5h0m-30 -3h0m35.5 -3h0m-18.5 7.5h0m26 -1h0m1 -3.5h0m13.5 -2h0m-50 -1h0m28 3h0m-11 2.5h0m26.5 -2h0m-14.5 2.5h0m-25 -1h0m15 -4.5h0m31 -2.5h0m-59 5.5h0m43.5 -2h0m2 3.5h0m10 -3h0m-9.5 0h0m-38.5 2.5h0m-13.5 -3.5h0m15.5 -1h0m34.5 -0.5h0m-45.5 3.5h0m36.5 0.5h0m-29.5 -5h0m46 5.5h0m8 -4h0m-59.5 2h0m2 5h0m50 -0.5h0m-52 -3.5h0m-5 -4h0m51 5.5h0m9.5 -0.5h0m-42 -3h0m34.5 4h0m-15 -2.5h0m-6.5 2.5h0m-23 -0.5h0m10.5 0.5h0m41 2.5h0m-23.5 -7h0m-7.5 1.5h0m-11 -5.5h0m42.5 4h0m-22.5 -0.5h0m6 -1h0m-27.5 9.5h0m21 -7.5h0m-19.5 -0.5h0m46 2.5h0m-49 3h0m49 -5h0m-38 2h0m22.5 -2h0m-31 3.5h0m0.5 -2.5h0m5.5 1.5h0m-23.5 3h0m40 -3h0m-9.5 0.5h0m-19 -1h0m-3 2.5h0m47.5 -6h0m7 4.5h0m-28 -5.5h0m12.5 6h0m-40 -5h0m5 2h0m13.5 0.5h0m-14.5 4.5h0m51.5 -1h0m-17.5 -7.5h0m-43.5 1h0m60.5 4h0m-39.5 -0.5h0m16 -2.5h0m-21.5 3h0m16 1.5h0m-29.5 -5h0m23 3h0m24.5 0.5h0m-6.5 2.5h0m15 -1.5h0m-37.5 -1.5h0m-11 -2h0m31.5 -1h0m-35.5 -2h0m-9 7h0m33 -2.5h0m24 3h0m-22 -1h0m-24.5 -7h0m11.5 3.5h0m-13 5h0m57 -1h0m-64 0.5h0m63 -2.5h0m-7.5 0h0m-53.5 3.5h0m-4 -1.5h0m35.5 0.5h0m-35.5 -4h0m10 5h0m17 -1h0m26 1h0m-10 0h0m11 -5.5h0m-12.5 1h0m-4 0h0m28.5 3.5h0m-51.5 -5h0m46.5 2h0m-14 1h0m11 -1.5h0m-34.5 0.5h0m23 -4h0m-38 3.5h0m53.5 4h0m3 -3.5h0m-45.5 1h0m46 -4h0m-3.5 2.5h0m-9.5 1h0m-4 0h0m-33 -3h0m16 3.5h0m10 1h0m21 1.5h0m4.5 -3.5h0m-25 1.5h0m-23 0.5h0m25.5 -3.5h0m-18.5 2h0m30 -1.5h0m-30.5 1h0m1.5 -3h0m25 9.5h0m-3 -2.5h0m10.5 -5.5h0m-2 0.5h0m6 3.5h0m-55.5 -3.5h0m35 0h0m-25 5h0m-5 -4h0m8.5 -2.5h0m34.5 3.5h0m-13 1.5h0m0.5 -3.5h0m-14 -1h0m12.5 -1h0m15.5 0h0m-26.5 6h0m-2.5 -4.5h0m-8.5 6h0m10 -5h0m14 1h0m8 -1h0m-7 2h0m9 -5h0m-22 5.5h0m-18.5 4.5h0m47 -3.5h0m-47.5 0.5h0m-9 -4h0m45 9h0m-24 -9.5h0m6 3h0m31.5 -4h0m-46 9h0m13.5 -4.5h0m23.5 1h0m10.5 -0.5h0m-23 -4h0m12.5 2h0m-5.5 2h0m-23 -2.5h0m25.5 -1.5h0m0 1.5h0m-12.5 2h0m-31.5 -4h0m56 6h0m2.5 -5h0m-24.5 1.5h0m-20 -0.5h0m-12.5 -5h0m22.5 3h0m-3 4h0m-13 -6.5h0m49.5 7h0m-26 2.5h0m21 -1.5h0m6.5 -4.5h0m-45 7h0m23.5 -2.5h0m-15 -2.5h0m8.5 -6h0m10.5 5.5h0m-38 -3h0m38 4h0m13.5 2h0m-57 -5.5h0m56.5 1.5h0m-0.5 -2h0m-52.5 1.5h0m15.5 3.5h0m16.5 0h0m-9.5 -1.5h0m-3.5 -7h0m-16 7.5h0m44 4.5h0m-8 -6.5h0m11.5 -1h0m-27.5 3h0m-4 -3h0m32 0.5h0m-30.5 4.5h0m20.5 -8h0m-12.5 3h0m16.5 0.5h0m-6.5 -0.5h0m7 -1h0m-37.5 1.5h0m15 0h0m19.5 -1h0m-6.5 0h0m20.5 6.5h0m-57.5 0.5h0m47 -3h0m-22.5 -2h0m32.5 0h0m-6 -1h0m-12.5 3h0m4.5 1.5h0m0.5 -7h0m-51.5 3.5h0m49 3h0m-31.5 -3h0m34 1h0m-44.5 -2h0m15 0.5h0m4.5 2h0m-6.5 0h0m24.5 1h0m21.5 -1h0m-60.5 -1h0m27.5 4h0m-10 -2.5h0m-11.5 -3.5h0m56.5 5h0m-14.5 -3h0m-5 1h0m-19.5 -4.5h0m-26.5 4.5h0m48.5 3.5h0m-1.5 -5.5h0m-14 -3.5h0m-23 5.5h0m-0.5 -2.5h0m55.5 3h0m-41 -5.5h0m-23 7h0m61.5 -3.5h0m-47.5 2.5h0m36 3.5h0m-27.5 -0.5h0m2.5 -2h0m19 1.5h0m-16 -1h0m9 -3.5h0m-34 -3h0m53.5 2.5h0m3 4h0m-35 -3.5h0m17.5 -4h0m-4 4.5h0m-5.5 -1.5h0m-18.5 0h0m15 0h0m10 -1h0m-37 -1.5h0m45 5.5h0m-18 -1h0m14.5 3.5h0m-41.5 -5h0m-4 0h0m1.5 -2h0m53 2.5h0m-29 2h0m30 0.5h0m-30 -3.5h0m-19.5 0.5h0m38.5 -2h0m0.5 3h0m-41 -3.5h0m13.5 4h0m17.5 -3.5h0m-34.5 5.5h0m54 -2.5h0m-39.5 0h0m1.5 -2h0m2 4.5h0m-5.5 3h0m49 -3h0m-27.5 -7h0m-26.5 -0.5h0m23.5 5.5h0m-10.5 2h0m32 -3h0m-9 2.5h0m17 -1h0m-28 0h0m32.5 0.5h0m-22.5 0.5h0m-40 1.5h0m55 -3.5h0m-13.5 -3h0m18.5 4h0m-26 -2.5h0m13 5.5h0m-23.5 -4.5h0m7.5 0.5h0m-10 -0.5h0" stroke="#000" stroke-width="1.0" stroke-linecap="square" opacity="0.75" fill="none"/><path d="M76.5 495h0m2 4.5h0m-3.5 2h0m2 -3h0m6 1h0m-2 3h0m2.5 -0.5h0m-5 -4.5h0m6.5 -3h0m-10.5 4.5h0m4 4.5h0m-4 -11h0m7 6.5h0m4 1.5h0m2 -1.5h0m-12.5 1.5h0m-2 -5.5h0m11.5 1.5h0m0.5 0h0m-6.5 0.5h0m3.5 -4.5h0m7 2h0m-7.5 3.5h0m-2 -0.5h0m-6.5 0.5h0m7.5 -1.5h0m-7.5 7h0m8.5 -6h0m1.5 -2h0m-1 1.5h0m-2 0h0m-3 -1.5h0m1 7.5h0m9 -8h0m-12 5.5h0m6.5 0.5h0m-8 1.5h0m9.5 -5.5h0m-6.5 -4.5h0m3 4.5h0m1.5 1h0m2 -9h0m-8.5 6h0m3 3h0m-1.5 1h0m9 -7h0m-6.5 3h0m3 1.5h0m-4.5 -0.5h0m3.5 -1.5h0m-7 0.5h0m-4 1h0m9.5 0h0m3.5 6h0m-1 -1h0m-0.5 -7.5h0m7 5.5h0m-8.5 -4h0m-5.5 5h0m5.5 0.5h0m-0.5 -10.5h0m1.5 5.5h0m-3 1.5h0m4 5.5h0m2.5 -3h0m-12.5 -1h0m1 0.5h0m0.5 1.5h0m9 -1.5h0m5 2h0m-2 -0.5h0m1.5 0h0m-8 1.5h0m3.5 -6.5h0m-3.5 3.5h0m0 -1.5h0m5 2h0m-4.5 -6h0m2.5 3.5h0m-5.5 -1.5h0m11 2.5h0m-6.5 -1.5h0m2.5 -1.5h0m-8 -2h0m5 5h0m3 0.5h0m0.5 -5.5h0m5 6.5h0m-10.5 -1h0m6.5 -1.5h0m0.5 1h0m2.5 5.5h0m-10 -2h0m2 -1h0m0 4h0m-1.5 -8h0m1 -6h0m-0.5 9h0m3.5 -3.5h0m5 2.5h0m-5 2h0m-0.5 -3h0m3.5 6h0m-5 -4.5h0m3 -2h0m-6.5 2.5h0m5.5 -4h0m0 2.5h0m-0.5 0h0m0.5 -3h0m-8 -3.5h0m6 7.5h0m-1 -4h0m6 4.5h0m-3.5 0.5h0m-6 2h0m4 -4h0m5 6.5h0m-6.5 -5.5h0m2 -4h0m2 1h0m1.5 4.5h0m-5.5 4.5h0m0 -8h0m8.5 -6h0m-2.5 7h0m-6.5 -1.5h0m7.5 3.5h0m-9.5 3h0m8 -8h0m2 2h0m0.5 3.5h0m-10.5 0h0m-3 -3.5h0m5.5 2.5h0m-1 -7h0m8.5 4h0m-4.5 3.5h0m-8 -1.5h0m6 3.5h0m5 -5.5h0m1.5 3.5h0m-11.5 -1.5h0m10 -2.5h0m-5.5 1h0m5 5h0m0.5 -1h0m-9.5 0h0m9 -1h0m-6.5 -2.5h0m2 -0.5h0m7.5 -0.5h0m-8 -1.5h0m5.5 5h0m-0.5 -6.5h0m-8 6h0m4 1h0m1.5 -3h0m13 -0.5h0m-6.5 2h0m-8.5 -5h0m5.5 2h0m-3 0.5h0m7 4.5h0m-12 -2h0m10.5 1.5h0m-3.5 -1h0m5 -1.5h0m-16 4h0m6 -6.5h0" stroke="#000" stroke-width="1.0" stroke-linecap="square" opacity="0.75" fill="none"/><path d="M96.5 485h0m-1 1h0m-1 -0.5h0m0.5 -1h0m2.5 -1.5h0m-1.5 0.5h0m3.5 0h0m-3 1h0m2.5 -1h0m-3 0h0m3 -0.5h0m-5.5 -1h0m4 5h0m-1.5 -3h0m-1 0h0m-2 1.5h0m0 -1h0m-0.5 -0.5h0m1.5 1.5h0m-1.5 -1h0m6 1h0m-4.5 0h0m-0.5 -1.5h0m2 -0.5h0m4 0h0" stroke="#000" stroke-width="1.0" stroke-linecap="square" opacity="0.8" fill="none"/><g transform="rotate(-3 115 497)"><path d="M85 498.5C85.5 497.2 90.8 495.1 95 494C99.2 492.9 105 492.5 110 492C115 491.5 120 491.2 125 491C130 490.8 136.5 490.2 140 490.5C143.5 490.8 145.3 491.6 146 493C146.7 494.4 146.7 497.4 144 499C141.3 500.6 135.7 501.8 130 502.5C124.3 503.2 116.3 503.1 110 503C103.7 502.9 96.2 502.8 92 502C87.8 501.2 84.5 499.8 85 498.5Z" fill="#fff" stroke="#111" stroke-width="1.1" opacity="1"/><path d="M88.3 498.4C88.8 497.2 93.3 495.5 97.1 494.5C100.9 493.6 106.7 493.3 111.3 492.8C115.8 492.4 120 491.9 124.4 491.6C128.9 491.4 134.8 491 138 491.3C141.1 491.6 142.7 492.1 143.3 493.4C143.8 494.6 143.8 497.6 141.4 498.9C139 500.3 134 500.9 128.9 501.5C123.8 502.2 116.7 502.6 110.9 502.6C105.1 502.6 98 502.3 94.3 501.5C90.5 500.8 87.9 499.5 88.3 498.4Z" fill="none" stroke="#555" stroke-width="0.8"/><path d="M92.4 498C92.8 496.9 97.3 495.8 100.6 495C103.8 494.2 108 493.6 111.8 493.1C115.6 492.6 119.3 492.3 123.2 492.1C127.1 492 132.6 491.8 135.4 492.1C138.1 492.4 139.3 492.6 139.8 493.7C140.3 494.9 140.4 497.7 138.4 499C136.3 500.2 131.9 500.7 127.5 501.1C123.1 501.4 116.7 501.2 111.8 501.3C106.9 501.3 101.1 501.7 97.9 501.2C94.6 500.6 91.9 499 92.4 498Z" fill="none" stroke="#888" stroke-width="0.8"/><path d="M96.2 498.1C96.5 497.1 100.1 495.5 102.9 494.9C105.6 494.2 109.5 494.3 112.8 494.1C116.1 493.8 119.4 493.5 122.7 493.3C126 493.1 130.4 492.7 132.7 492.9C134.9 493.1 135.8 493.7 136.2 494.6C136.6 495.5 136.8 497.4 135.1 498.4C133.4 499.4 129.8 500.3 126 500.8C122.3 501.2 117 501.1 112.8 501.1C108.6 501.1 103.7 501.3 100.9 500.8C98.1 500.3 95.9 499.1 96.2 498.1Z" fill="none" stroke="#555" stroke-width="0.8"/><ellipse cx="125" cy="497.3" rx="18" ry="4" fill="#1a1a1a" stroke="none" stroke-width="0" opacity="1" transform="rotate(0 125 497.3)"/><ellipse cx="125" cy="497.3" rx="11" ry="1.4" fill="#666" stroke="none" stroke-width="0" opacity="1" transform="rotate(0 125 497.3)"/></g></g>
<line x1="107.2" y1="434.8" x2="107.2" y2="511.5" stroke="#6a6a6a" stroke-width="1" />
<line x1="70" y1="487.5" x2="145.7" y2="487.5" stroke="#6a6a6a" stroke-width="1" />
<rect x="70" y="434.8" width="75.69999999999999" height="76.69999999999999" fill="none" stroke="#7a7a7a" stroke-width="1" />
<rect x="71.2" y="436.2" width="18.9" height="7.4" fill="#fff" stroke="none" stroke-width="1" />
<text x="72.0" y="442.40000000000003" font-size="7.5" font-weight="normal" text-anchor="start" fill="#111" stroke="#111" stroke-width="0.15" textLength="17.3" lengthAdjust="spacingAndGlyphs">0.322</text>
<rect x="130.8" y="436.2" width="15.0" height="7.4" fill="#fff" stroke="none" stroke-width="1" />
<text x="145.0" y="442.40000000000003" font-size="7.5" font-weight="normal" text-anchor="end" fill="#111" stroke="#111" stroke-width="0.15" textLength="13.4" lengthAdjust="spacingAndGlyphs">1.57</text>
<rect x="71.2" y="504.2" width="15.0" height="7.4" fill="#fff" stroke="none" stroke-width="1" />
<text x="72.0" y="510.4" font-size="7.5" font-weight="normal" text-anchor="start" fill="#111" stroke="#111" stroke-width="0.15" textLength="13.4" lengthAdjust="spacingAndGlyphs">13.4</text>
<rect x="130.8" y="504.2" width="15.0" height="7.4" fill="#fff" stroke="none" stroke-width="1" />
<text x="145.0" y="510.4" font-size="7.5" font-weight="normal" text-anchor="end" fill="#111" stroke="#111" stroke-width="0.15" textLength="13.4" lengthAdjust="spacingAndGlyphs">84.7</text>
<text x="68" y="439.8" font-size="4.0" font-weight="normal" text-anchor="end" fill="#777" >10<tspan font-size="2.8" dy="-1.6">5</tspan></text>
<text x="68" y="458.24117647058824" font-size="4.0" font-weight="normal" text-anchor="end" fill="#777" >10<tspan font-size="2.8" dy="-1.6">4</tspan></text>
<text x="68" y="476.6823529411765" font-size="4.0" font-weight="normal" text-anchor="end" fill="#777" >10<tspan font-size="2.8" dy="-1.6">3</tspan></text>
<text x="68" y="495.1235294117647" font-size="4.0" font-weight="normal" text-anchor="end" fill="#777" >10<tspan font-size="2.8" dy="-1.6">2</tspan></text>
<text x="67.5" y="504.5" font-size="3.6" font-weight="normal" text-anchor="end" fill="#888" >0</text>
<text x="124" y="517.5" font-size="3.8" font-weight="normal" text-anchor="middle" fill="#777" >10<tspan font-size="2.6" dy="-1.5">4</tspan></text>
<text x="141" y="517.5" font-size="3.8" font-weight="normal" text-anchor="middle" fill="#777" >10<tspan font-size="2.6" dy="-1.5">5</tspan></text>
<text x="119" y="521.8" font-size="3.6" font-weight="normal" text-anchor="middle" fill="#777" >IFNg</text>
<line x1="79" y1="511.5" x2="79" y2="513.0" stroke="#999" stroke-width="0.6" />
<line x1="94" y1="511.5" x2="94" y2="513.0" stroke="#999" stroke-width="0.6" />
<line x1="109" y1="511.5" x2="109" y2="513.0" stroke="#999" stroke-width="0.6" />
<line x1="124" y1="511.5" x2="124" y2="513.0" stroke="#999" stroke-width="0.6" />
<line x1="139" y1="511.5" x2="139" y2="513.0" stroke="#999" stroke-width="0.6" />
<g clip-path="url(#clc12)"><path d="M165 477.5h0m0.5 -3h0m8 3h0m-2.5 -7.5h0m-1.5 7h0m-4.5 -4.5h0m7.5 -8h0m-9 10.5h0m2.5 -14.5h0m5.5 -3.5h0m-5 10.5h0m3.5 13.5h0m-1.5 -24h0m-0.5 8.5h0m3 5h0m-7.5 -16.5h0m12 15h0m-4.5 15h0m-1 -27.5h0m-0.5 28h0m6.5 -28h0m-2 -3h0m-5 19.5h0m7 0.5h0m-10 -3h0m8 13h0m-4.5 -12.5h0m-1 -2h0m1.5 15.5h0m-5.5 -14.5h0m5.5 -3h0m-4 -9.5h0m7 8.5h0m-1.5 15.5h0m-8 -24h0m3 -2h0m1.5 5.5h0m2.5 22h0m3.5 -21h0m-10.5 4h0m7.5 -10.5h0m-6.5 9.5h0m11 10.5h0m-7.5 6h0m6.5 -17h0m-10.5 12h0m8.5 0h0m-5 -15.5h0m4 -7.5h0m-7 33.5h0m5 -9.5h0m-3.5 -6.5h0m3.5 -11.5h0m-3 17.5h0m4 9.5h0m5 -1h0m-4.5 -31h0m1 29.5h0m3.5 -15.5h0m-12 14.5h0m6 -1.5h0m-4.5 -14.5h0m4.5 -12.5h0m6.5 25h0m-4 -22h0m0 7.5h0m3.5 22.5h0m-9 -14.5h0m6.5 2.5h0m-4.5 -23.5h0m-1 4h0m7 18.5h0m-4.5 3h0m-0.5 -14h0m-4.5 -6h0m4 15h0m5.5 5.5h0m-8.5 -25h0m10 26.5h0m-9.5 -17.5h0" stroke="#333" stroke-width="1.0" stroke-linecap="square" opacity="0.55" fill="none"/><path d="M199 447.5h0m22.5 1h0m1 2.5h0m-8.5 -5.5h0m-13.5 0h0m-2.5 4h0m8.5 0.5h0m14.5 1h0m11 -0.5h0m-4 -4h0m-16.5 0.5h0m-2 -0.5h0m14 -1.5h0m-2 5.5h0m6.5 -2h0m-10.5 -2.5h0m-21.5 2h0m36 1.5h0m-11.5 0.5h0m-12 -2h0m1 2h0m1.5 -4.5h0m-11 5h0m0 0h0m12 -1.5h0m20 -0.5h0m-0.5 -3h0m-1 2h0m-23 0.5h0m14.5 0h0m-19.5 1.5h0m-0.5 1.5h0m-2.5 -3h0m19 -1h0m1 3.5h0m-10 -2h0m10 -3.5h0m4 2h0m9 2h0m-6.5 -1h0m-20.5 -2.5h0m14.5 4h0m-11.5 -4.5h0m11 1.5h0m-8 0.5h0" stroke="#333" stroke-width="1.0" stroke-linecap="square" opacity="0.6" fill="none"/><path d="M197.5 497.5h0m13 -9.5h0m0 12h0m7 0.5h0m8 -1.5h0m-9.5 -2h0m-12.5 4.5h0m26.5 -1.5h0m-26 -4h0m7 -3.5h0m2 -1h0m12.5 -4h0m-22 4.5h0m13.5 2.5h0m-2.5 5.5h0m1.5 -9.5h0m5 0.5h0m-1.5 -2h0m10.5 5.5h0m-19.5 -1.5h0m16.5 -0.5h0m-5.5 -1h0m12 -1h0m-7.5 8h0m-8 -7.5h0m-20.5 7.5h0m26.5 -5h0m-0.5 -2h0m-13.5 -0.5h0m3.5 8.5h0m-9 -5h0m10.5 2h0m-8 -5h0m-1 1h0m25 -2.5h0m-7 2.5h0m-7.5 7h0m-4.5 -8.5h0m1 6h0m12.5 2h0m-6.5 -8h0m-18 -2.5h0m3.5 9h0m8 -4h0m9 -5h0m-14 -1h0m20 12h0m-13 -12.5h0m-10.5 9h0m9 -8h0m-1 12.5h0m1.5 -8h0m-8.5 -2h0m1.5 9h0m-5.5 -8h0m8.5 1h0m0.5 4h0m-3.5 -2.5h0m8.5 0.5h0m4 4.5h0m13 -3.5h0m-14.5 5h0m-4 -3.5h0m-10 -5.5h0m16 2.5h0m-17.5 5.5h0m9.5 0.5h0m-2.5 1h0m4 -2h0m-12 -2h0" stroke="#333" stroke-width="1.0" stroke-linecap="square" opacity="0.55" fill="none"/><path d="M196 450.6C197.3 449.1 198.8 450.5 201.7 450.5C204.7 450.4 209.9 450.3 213.7 450.2C217.6 450.1 221.8 449.5 225 449.8C228.2 450.2 231.2 450.5 232.8 452.3C234.5 454.2 234.7 458.1 235 460.8C235.3 463.6 234.8 465.8 234.8 469C234.7 472.1 235 476.8 234.7 479.9C234.3 483 234.7 486.6 232.7 487.6C230.8 488.7 226.4 486.8 223.1 486.4C219.9 485.9 216.6 484.8 213.2 484.9C209.7 485.1 204.9 487.1 202.3 487.2C199.7 487.4 198.9 487.1 197.7 485.7C196.4 484.3 194.6 481.8 194.7 478.9C194.9 476.1 198.9 472 198.8 468.7C198.7 465.5 194.5 462.3 194 459.3C193.6 456.3 194.7 452.1 196 450.6Z" fill="none" stroke="#555" stroke-width="0.75"/><path d="M199.1 452.9C200.1 451.4 203.1 450 206 449.9C209 449.8 214 452.1 216.9 452.3C219.8 452.4 221.1 450.5 223.4 450.9C225.6 451.3 229.2 453 230.6 454.7C231.9 456.5 231.2 459 231.2 461.4C231.2 463.9 230.4 467 230.5 469.3C230.6 471.6 231.8 472.5 231.7 475.1C231.6 477.7 231.8 483.3 229.9 484.7C227.9 486.1 223.1 483.6 220.1 483.6C217.1 483.6 214.5 484.7 212.2 484.8C209.8 484.8 208.3 484.1 206.2 484.2C204 484.4 200.6 487 199.2 485.7C197.9 484.4 198.1 479.4 198.1 476.3C198.1 473.2 198.8 470.2 199.1 467.3C199.4 464.4 199.7 461.3 199.7 458.9C199.7 456.5 198 454.4 199.1 452.9Z" fill="none" stroke="#777" stroke-width="0.75"/><path d="M202.3 457.8C203.4 456.6 206.4 455.4 208.7 454.8C210.9 454.3 213.1 454.9 215.7 454.8C218.4 454.7 222.1 453.7 224.4 454.1C226.7 454.5 228.5 455.9 229.3 457.3C230.1 458.6 229.4 460.2 229.2 462.3C229 464.3 228.1 467.5 228.2 469.7C228.2 471.8 230 473.3 229.5 475.1C229 477 226.9 479.2 225.2 480.7C223.6 482.2 221.3 484 219.3 484.1C217.4 484.2 215.3 481.4 213.4 481.1C211.4 480.8 209.7 482.3 207.8 482.4C205.9 482.4 202.7 482.6 201.9 481.5C201.1 480.3 202.9 477.7 203.1 475.3C203.2 473 203 469.6 202.8 467.4C202.7 465.3 202.4 464 202.4 462.4C202.3 460.8 201.3 459.1 202.3 457.8Z" fill="none" stroke="#888" stroke-width="0.75"/><path d="M204 458.3C204.4 457.1 206.5 456.7 208 456.5C209.5 456.3 210.6 457.3 212.9 457.3C215.1 457.3 219.1 456.4 221.5 456.6C223.9 456.9 226.4 457.5 227.1 458.7C227.9 459.8 226.4 462.1 226 463.6C225.7 465.1 224.5 466.2 224.8 467.9C225.2 469.6 228.2 472.2 228.2 474C228.2 475.8 226.4 477.9 224.8 478.8C223.3 479.7 220.6 479.2 218.9 479.2C217.2 479.2 216.5 478.5 214.7 478.7C212.8 478.9 209.5 480.6 207.6 480.5C205.6 480.5 203.7 479.2 203 478.4C202.2 477.6 202.8 477.4 203.1 475.7C203.4 474.1 204.2 470.5 204.6 468.5C205 466.4 205.8 465 205.7 463.3C205.6 461.6 203.6 459.4 204 458.3Z" fill="none" stroke="#777" stroke-width="0.75"/><path d="M205.8 459.7C206.9 459 210 458.9 211.3 459C212.6 459.1 212.4 460 213.6 460.1C214.8 460.3 216.9 459.9 218.6 459.8C220.3 459.7 223 458.8 223.8 459.4C224.7 460 223.4 461.8 223.6 463.3C223.7 464.7 224.7 466.4 224.6 467.9C224.4 469.5 223 471.1 222.9 472.5C222.7 473.8 224.2 475.2 223.7 476C223.2 476.7 221.6 477 219.9 477.1C218.1 477.2 214.7 476.7 213.1 476.7C211.6 476.7 211.7 476.9 210.4 477C209.1 477.1 205.9 477.8 205.4 477.1C205 476.4 207.2 474.2 207.5 472.8C207.9 471.3 208.1 470.1 207.7 468.4C207.2 466.8 204.9 464.5 204.6 463.1C204.3 461.6 204.7 460.4 205.8 459.7Z" fill="none" stroke="#999" stroke-width="0.75"/><path d="M209.4 463.9C209.8 463.3 210.7 462.1 211.8 461.7C212.9 461.2 215.3 461.2 216.3 461.3C217.2 461.3 216.7 461.6 217.7 461.9C218.7 462.2 221.9 462.3 222.4 463C222.9 463.6 220.5 465.2 220.6 465.9C220.6 466.5 222.3 466.2 222.4 466.8C222.5 467.5 221.3 468.6 221.3 469.7C221.3 470.8 223 473 222.4 473.4C221.8 473.8 219.1 472.1 217.9 472.3C216.7 472.4 216 473.7 215.2 474C214.4 474.4 214 474.7 213.1 474.6C212.1 474.5 209.6 473.7 209.4 473.4C209.1 473.2 211.5 474 211.6 473.1C211.8 472.2 210.7 469.3 210.3 468C209.9 466.8 209.6 466.3 209.5 465.6C209.3 464.9 209 464.6 209.4 463.9Z" fill="none" stroke="#888" stroke-width="0.75"/><ellipse cx="235" cy="462" rx="3.5" ry="4.5" fill="#000" stroke="none" stroke-width="0" opacity="1" transform="rotate(0 235 462)"/><path d="M196.6 489.9C198.1 488.6 201.1 489.1 204.3 489C207.4 488.9 211.9 489.2 215.5 489.2C219.1 489.3 222.9 489 225.9 489.3C228.9 489.6 232.6 489.9 233.3 491.2C234 492.5 232.5 496.2 230.3 497.1C228 498.1 223.4 497.2 220 497.2C216.5 497.1 213.5 497 209.4 496.9C205.3 496.9 197.5 497.9 195.4 496.7C193.3 495.5 195.2 491.2 196.6 489.9Z" fill="none" stroke="#444" stroke-width="0.8" opacity="1" /><path d="M200.5 490.1C201.6 489 205 489.8 207.3 489.8C209.7 489.8 212.3 489.8 214.7 489.8C217.2 489.9 219.7 490 222 490.4C224.3 490.8 227.7 491.4 228.4 492.2C229.2 493.1 228.3 495 226.6 495.5C224.9 496.1 220.8 495.4 218.3 495.6C215.8 495.7 214.5 496.3 211.6 496.4C208.6 496.5 202.3 497.4 200.4 496.4C198.6 495.3 199.3 491.2 200.5 490.1Z" fill="none" stroke="#777" stroke-width="0.7" opacity="1" /><path d="M176.6 446C178.9 443.2 183.5 443.5 186.6 443.5C189.6 443.4 192.6 443.2 194.7 445.7C196.8 448.1 198.3 453.3 199.1 458.1C199.9 463 199.5 469.7 199.5 474.7C199.4 479.6 199.2 484.2 199 487.9C198.8 491.6 199.3 494 198.5 496.8C197.6 499.6 197.1 503 194.1 504.4C191.1 505.9 184.4 506.1 180.3 505.6C176.1 505.1 171.2 503.4 169.3 501.4C167.3 499.4 168.1 495.9 168.6 493.6C169 491.2 171.4 490.2 172.1 487.3C172.9 484.4 172.9 480.7 173 476.2C173 471.7 172 465.2 172.6 460.2C173.2 455.2 174.2 448.8 176.6 446Z" fill="#fff" stroke="#222" stroke-width="0.8" opacity="1" /><path d="M177.8 447.4C180 444.9 183.1 445.3 185.9 445.2C188.6 445.1 192.3 444.4 194.4 446.6C196.4 448.9 197.4 454 198.1 458.6C198.8 463.2 198.6 469.5 198.6 474.3C198.5 479.2 198.1 484.2 198.1 487.8C198 491.3 198.8 493 198.1 495.6C197.3 498.2 196.8 501.9 193.8 503.3C190.8 504.7 184.1 504.6 180.2 504.2C176.4 503.7 172.5 502.4 170.6 500.5C168.8 498.7 168.8 495.5 169.4 493.1C169.9 490.8 172.9 489.3 173.7 486.5C174.4 483.6 174 480.5 173.8 476.2C173.6 471.9 172 465.4 172.7 460.6C173.3 455.8 175.6 450 177.8 447.4Z" fill="none" stroke="#444" stroke-width="0.7" opacity="1" /><path d="M177.2 448.2C179.1 446.1 183.1 444.7 186 444.4C188.9 444 192.8 443.9 194.8 446C196.8 448.1 197.6 453.3 198.1 457C198.6 460.7 198.1 464.3 198.1 468C198.1 471.7 198.3 475.5 198.1 479C197.9 482.5 198.3 486.7 197 488.9C195.7 491.1 193.3 491.8 190.4 492.2C187.5 492.6 182 493.3 179.4 491.1C176.8 488.9 175.9 482.9 175 479C174.1 475.1 174 471.7 173.9 468C173.8 464.3 173.9 460.3 174.4 457C175 453.7 175.3 450.3 177.2 448.2Z" fill="#fff" stroke="#111" stroke-width="0.9" opacity="1"/><path d="M178 450C179.8 448.1 183.3 446.8 186 446.5C188.7 446.2 192.2 446.1 194 448C195.8 449.9 196.5 454.7 197 458C197.5 461.3 197 464.7 197 468C197 471.3 197.2 474.8 197 478C196.8 481.2 197.2 485 196 487C194.8 489 192.7 489.7 190 490C187.3 490.3 182.3 491 180 489C177.7 487 176.8 481.5 176 478C175.2 474.5 175.1 471.3 175 468C174.9 464.7 175 461 175.5 458C176 455 176.2 451.9 178 450Z" fill="#bbb" stroke="none" stroke-width="1" opacity="1"/><path d="M177.7 449.2C179.4 447.4 183.1 446.5 185.9 446.1C188.7 445.8 192.5 444.8 194.5 446.9C196.4 448.9 197 454.8 197.6 458.3C198.2 461.8 198 464.2 197.9 467.8C197.9 471.4 197.6 476.4 197.4 479.7C197.1 482.9 197.5 485.3 196.3 487.2C195.1 489.2 192.9 490.9 190.3 491.2C187.7 491.6 183.2 491.1 180.8 489.2C178.3 487.3 176.6 483.3 175.6 479.8C174.6 476.2 174.9 471.7 174.8 467.9C174.8 464 174.7 459.9 175.2 456.7C175.7 453.6 175.9 450.9 177.7 449.2Z" fill="none" stroke="#111" stroke-width="1.0"/><path d="M177.4 449.9C179.3 448 183.6 447 186.2 446.7C188.8 446.4 191.4 446.3 193.1 448.1C194.9 449.9 196.3 454.3 196.8 457.7C197.3 461.1 196.2 464.9 196.1 468.4C196.1 471.9 196.6 475.6 196.6 478.7C196.5 481.7 197 484.9 195.8 486.8C194.6 488.6 192.1 489.5 189.6 489.9C187 490.2 182.7 490.7 180.4 488.8C178.1 486.9 176.5 482.1 175.8 478.6C175 475.1 176.1 471.2 175.9 467.8C175.8 464.4 174.5 461.3 174.8 458.3C175 455.3 175.5 451.8 177.4 449.9Z" fill="none" stroke="#222" stroke-width="1.0"/><path d="M178.7 450.7C180.3 448.8 183.3 448.3 185.6 448.1C187.9 447.9 190.6 447.6 192.3 449.5C194 451.3 195.1 455.8 195.7 458.9C196.3 462.1 195.6 465.2 195.8 468.2C196 471.2 196.8 474.1 196.8 477C196.7 479.9 196.4 483.8 195.3 485.8C194.2 487.7 192.8 488.5 190.3 488.8C187.8 489.1 182.6 489.3 180.4 487.4C178.1 485.6 177.4 480.6 176.8 477.6C176.1 474.6 176.8 472.6 176.7 469.6C176.6 466.5 175.9 462.6 176.3 459.5C176.6 456.3 177.2 452.6 178.7 450.7Z" fill="none" stroke="#111" stroke-width="1.0"/><path d="M178.7 452.6C180.4 450.9 184.6 450 186.8 449.8C189 449.6 190.4 449.7 191.9 451.3C193.4 453 195.1 456.9 195.7 459.7C196.3 462.5 195.4 465.1 195.3 468C195.2 470.9 195.2 474.2 195.1 477.1C195 480 195.6 483.6 194.6 485.2C193.7 486.7 191.8 486.4 189.4 486.4C187 486.5 182.3 487.3 180.2 485.6C178.2 483.9 177.6 479 177.2 476.1C176.7 473.2 177.6 471 177.5 468.3C177.3 465.5 176.1 462.4 176.3 459.8C176.5 457.1 176.9 454.2 178.7 452.6Z" fill="none" stroke="#333" stroke-width="1.0"/><path d="M179.3 452.1C180.6 450.7 183.2 451.1 185.4 451.1C187.6 451.1 191.1 450.5 192.7 452C194.4 453.6 195.1 457.6 195.4 460.4C195.7 463.1 194.6 465.9 194.5 468.5C194.4 471.2 195.1 473.6 194.9 476.2C194.7 478.7 194.4 482.2 193.3 483.7C192.2 485.2 190.4 485.1 188.3 485.1C186.2 485.2 182.5 485.8 180.7 484.2C179 482.7 178.7 478.7 178.1 476C177.5 473.2 177.5 470.7 177.4 468C177.3 465.3 177.4 462.5 177.7 459.9C178.1 457.2 178 453.6 179.3 452.1Z" fill="none" stroke="#111" stroke-width="1.0"/><path d="M179.2 454.5C180.3 453.1 183 452.2 185.1 452.1C187.2 452 190.3 452.7 192 454.1C193.7 455.5 194.7 458.3 195.1 460.6C195.5 463 194.8 465.7 194.5 468.2C194.2 470.6 193.3 472.8 193.2 475.2C193 477.6 194.4 481.2 193.6 482.7C192.9 484.1 190.8 483.9 188.8 484C186.9 484.1 183.8 484.7 182 483.3C180.2 482 178.7 478.3 178 475.7C177.4 473.2 178.3 470.6 178.3 468.1C178.4 465.6 178.2 463.1 178.3 460.8C178.4 458.5 178.1 456 179.2 454.5Z" fill="none" stroke="#222" stroke-width="1.0"/><path d="M180.5 456.3C181.8 455 184.6 453.3 186.3 453.1C188.1 452.8 189.9 453.4 191.2 454.8C192.4 456.2 193.5 459.4 193.9 461.5C194.3 463.5 193.5 464.8 193.4 467.1C193.3 469.3 193.2 472.6 193.1 474.9C193.1 477.2 194.1 479.6 193.2 480.8C192.4 482 189.9 482 187.9 482.3C186 482.6 182.6 484 181.3 482.9C179.9 481.7 180.1 477.6 179.6 475.2C179.1 472.8 178.6 470.7 178.4 468.3C178.3 465.9 178.6 463 178.9 461C179.3 459 179.3 457.6 180.5 456.3Z" fill="none" stroke="#111" stroke-width="1.0"/><path d="M182.1 456.6C183.1 455.3 184.4 454.2 186 454.1C187.6 454.1 190.2 455.1 191.4 456.4C192.5 457.6 192.5 459.5 192.8 461.5C193.1 463.4 193.1 466.1 193.1 468.1C193.1 470 192.9 471.1 192.8 473C192.6 475 192.9 478.3 192.2 479.7C191.5 481.1 190.4 481.3 188.5 481.6C186.7 481.9 182.8 482.6 181.3 481.5C179.8 480.3 179.8 476.8 179.3 474.6C178.9 472.4 178.5 470.6 178.6 468.5C178.6 466.4 179 463.9 179.6 461.9C180.2 459.9 181 457.9 182.1 456.6Z" fill="none" stroke="#222" stroke-width="1.0"/><path d="M181.5 457.9C182.5 456.8 184.5 456.1 186 456C187.5 455.8 189.5 455.7 190.5 456.8C191.5 457.9 191.9 460.5 192.2 462.4C192.4 464.3 192.2 466.1 192.2 468C192.2 469.9 192.3 471.8 192.2 473.6C192.1 475.4 192.3 477.5 191.6 478.6C190.9 479.8 189.7 480.1 188.2 480.3C186.7 480.5 183.9 480.9 182.6 479.8C181.3 478.6 180.9 475.6 180.4 473.6C179.9 471.6 179.9 469.9 179.8 468C179.8 466.1 179.8 464.1 180.1 462.4C180.4 460.7 180.5 459 181.5 457.9Z" fill="#444" stroke="none" stroke-width="1" opacity="1"/><path d="M182.5 459.1C183.4 458.2 185.2 458.1 186.3 458C187.5 457.9 188.8 457.7 189.7 458.7C190.5 459.6 191 462 191.3 463.6C191.5 465.2 191.1 466.6 191.1 468.2C191.2 469.8 191.5 471.8 191.4 473.4C191.3 475 191.1 476.8 190.5 477.7C189.9 478.5 189 478.4 187.8 478.5C186.6 478.5 184.4 479.1 183.3 478.1C182.2 477 181.8 473.8 181.3 472.2C180.9 470.6 180.9 469.9 180.8 468.4C180.8 466.9 180.7 464.7 181 463.2C181.2 461.6 181.6 459.9 182.5 459.1Z" fill="none" stroke="#222" stroke-width="0.8"/><path d="M183.1 461.3C183.6 460.7 184.8 460.1 185.8 460C186.9 459.8 188.7 459.7 189.4 460.6C190.1 461.4 189.9 463.7 190.1 464.9C190.3 466.1 190.5 466.7 190.5 467.8C190.5 468.9 190 470.4 189.9 471.6C189.8 472.8 190.5 474.1 190 474.9C189.5 475.7 188.2 476.3 187.1 476.4C186 476.5 184.2 476.4 183.4 475.6C182.5 474.9 182.2 473.3 181.9 471.9C181.6 470.6 181.5 469 181.7 467.7C181.8 466.4 182.5 465 182.8 463.9C183 462.8 182.6 462 183.1 461.3Z" fill="none" stroke="#222" stroke-width="0.8"/><path d="M188 458L188.5 480" fill="none" stroke="#ddd" stroke-width="1.3" opacity="1" /><path d="M173 494C174.2 492.1 177.2 489.5 180 488.5C182.8 487.5 187.2 487.6 190 488C192.8 488.4 195.8 489.3 197 491C198.2 492.7 197.8 496 197 498C196.2 500 194.8 502.1 192 503C189.2 503.9 183.2 504 180 503.5C176.8 503 174.2 501.6 173 500C171.8 498.4 171.8 495.9 173 494Z" fill="#fff" stroke="#111" stroke-width="0.9" opacity="1"/><path d="M174.2 494.3C175.3 492.6 178.1 490.4 180.6 489.5C183.1 488.6 186.8 488.6 189.3 488.9C191.9 489.2 194.8 489.7 195.9 491.2C197.1 492.8 197.1 496.3 196.3 498.1C195.4 499.9 193.3 501.5 190.8 502.2C188.2 502.9 183.6 502.9 180.9 502.4C178.2 502 175.5 501 174.3 499.7C173.2 498.3 173.2 496 174.2 494.3Z" fill="none" stroke="#444" stroke-width="0.8"/><path d="M175.4 495C176.4 493.5 179.2 491.3 181.7 490.4C184.1 489.5 187.8 489.3 189.9 489.5C192.1 489.8 193.8 490.5 194.7 491.9C195.5 493.3 195.8 496.1 195.2 497.8C194.5 499.4 193 501.1 190.7 501.7C188.3 502.3 183.6 501.7 181.2 501.3C178.7 500.9 177 500.4 176 499.4C175 498.3 174.5 496.5 175.4 495Z" fill="none" stroke="#222" stroke-width="0.8"/><path d="M180 493C181.5 491.9 185.3 491.1 188 491C190.7 490.9 194.7 491.2 196 492.5C197.3 493.8 197 497.3 196 499C195 500.7 192.5 502 190 502.5C187.5 503 182.8 502.8 181 502C179.2 501.2 179.2 499 179 497.5C178.8 496 178.5 494.1 180 493Z" fill="#000" stroke="none" stroke-width="1" opacity="1"/><ellipse cx="189" cy="497" rx="3.2" ry="1.8" fill="#fff" stroke="none" stroke-width="0" opacity="1" transform="rotate(0 189 497)"/></g>
<line x1="196.2" y1="434.8" x2="196.2" y2="511.5" stroke="#6a6a6a" stroke-width="1" />
<line x1="159.2" y1="487.5" x2="234.9" y2="487.5" stroke="#6a6a6a" stroke-width="1" />
<rect x="159.2" y="434.8" width="75.70000000000002" height="76.69999999999999" fill="none" stroke="#7a7a7a" stroke-width="1" />
<rect x="160.4" y="436.2" width="15.0" height="7.4" fill="#fff" stroke="none" stroke-width="1" />
<text x="161.2" y="442.40000000000003" font-size="7.5" font-weight="normal" text-anchor="start" fill="#111" stroke="#111" stroke-width="0.15" textLength="13.4" lengthAdjust="spacingAndGlyphs">45.6</text>
<rect x="220.0" y="436.2" width="15.0" height="7.4" fill="#fff" stroke="none" stroke-width="1" />
<text x="234.20000000000002" y="442.40000000000003" font-size="7.5" font-weight="normal" text-anchor="end" fill="#111" stroke="#111" stroke-width="0.15" textLength="13.4" lengthAdjust="spacingAndGlyphs">32.2</text>
<rect x="160.4" y="504.2" width="15.0" height="7.4" fill="#fff" stroke="none" stroke-width="1" />
<text x="161.2" y="510.4" font-size="7.5" font-weight="normal" text-anchor="start" fill="#111" stroke="#111" stroke-width="0.15" textLength="13.4" lengthAdjust="spacingAndGlyphs">17.4</text>
<rect x="220.0" y="504.2" width="15.0" height="7.4" fill="#fff" stroke="none" stroke-width="1" />
<text x="234.20000000000002" y="510.4" font-size="7.5" font-weight="normal" text-anchor="end" fill="#111" stroke="#111" stroke-width="0.15" textLength="13.4" lengthAdjust="spacingAndGlyphs">4.83</text>
<text x="157.2" y="439.8" font-size="4.0" font-weight="normal" text-anchor="end" fill="#777" >10<tspan font-size="2.8" dy="-1.6">5</tspan></text>
<text x="157.2" y="458.24117647058824" font-size="4.0" font-weight="normal" text-anchor="end" fill="#777" >10<tspan font-size="2.8" dy="-1.6">4</tspan></text>
<text x="157.2" y="476.6823529411765" font-size="4.0" font-weight="normal" text-anchor="end" fill="#777" >10<tspan font-size="2.8" dy="-1.6">3</tspan></text>
<text x="157.2" y="495.1235294117647" font-size="4.0" font-weight="normal" text-anchor="end" fill="#777" >10<tspan font-size="2.8" dy="-1.6">2</tspan></text>
<text x="156.7" y="504.5" font-size="3.6" font-weight="normal" text-anchor="end" fill="#888" >0</text>
<text x="168.2" y="517.5" font-size="3.8" font-weight="normal" text-anchor="middle" fill="#777" >0</text>
<text x="175.2" y="517.5" font-size="3.8" font-weight="normal" text-anchor="middle" fill="#777" >10<tspan font-size="2.6" dy="-1.5">2</tspan></text>
<text x="194.2" y="517.5" font-size="3.8" font-weight="normal" text-anchor="middle" fill="#777" >10<tspan font-size="2.6" dy="-1.5">3</tspan></text>
<text x="213.2" y="517.5" font-size="3.8" font-weight="normal" text-anchor="middle" fill="#777" >10<tspan font-size="2.6" dy="-1.5">4</tspan></text>
<text x="230.2" y="517.5" font-size="3.8" font-weight="normal" text-anchor="middle" fill="#777" >10<tspan font-size="2.6" dy="-1.5">5</tspan></text>
<text x="197.05" y="522.0" font-size="3.6" font-weight="normal" text-anchor="middle" fill="#888" >&lt;PE-Cy7-A&gt;: IFNg</text>
<line x1="168.2" y1="511.5" x2="168.2" y2="513.0" stroke="#999" stroke-width="0.6" />
<line x1="183.2" y1="511.5" x2="183.2" y2="513.0" stroke="#999" stroke-width="0.6" />
<line x1="198.2" y1="511.5" x2="198.2" y2="513.0" stroke="#999" stroke-width="0.6" />
<line x1="213.2" y1="511.5" x2="213.2" y2="513.0" stroke="#999" stroke-width="0.6" />
<line x1="228.2" y1="511.5" x2="228.2" y2="513.0" stroke="#999" stroke-width="0.6" />
<g clip-path="url(#clc13)"><path d="M308.5 461h0m-16.5 46h0m20.5 -47.5h0m-16.5 33h0m-32.5 -23h0m3.5 -19h0m40.5 1h0m6.5 -9.5h0m-10 8h0m-6 -1h0m-13.5 50.5h0m-11 -40h0m7.5 -7.5h0m-20 8h0m0 30h0m51 -47h0m-51.5 -0.5h0m43 55.5h0m-25.5 -25h0m11 9.5h0m-29.5 14.5h0m34.5 -25h0m8 -27h0m24 18.5h0m-13 -5h0m-7 -16.5h0m-33 10.5h0m-13 45h0m-7 -11h0m29.5 19h0m19 -29.5h0m-38.5 -17.5h0m43.5 -1h0m5 -10.5h0m3 14.5h0m-9 28.5h0m0.5 -9.5h0m7 -4h0m-19.5 30.5h0m-9 -55.5h0m-3.5 27h0m3 -17.5h0m35.5 -14h0m-13 29.5h0m-18.5 28h0" stroke="#444" stroke-width="1.0" stroke-linecap="square" opacity="0.5" fill="none"/><path d="M290.4 452.6C292.8 447.2 300.5 450 305.2 450.6C309.8 451.2 315.1 454 318.3 456.1C321.6 458.1 324.1 459.5 324.9 462.8C325.7 466 325.7 472 323.1 475.5C320.5 479.1 314.7 482.8 309.4 484.1C304.1 485.4 294.4 488.6 291.3 483.4C288.1 478.1 288.1 458.1 290.4 452.6Z" fill="none" stroke="#555" stroke-width="0.8"/><path d="M294.5 455C296.1 450.2 301.1 453.2 304.7 453.6C308.3 454 313.4 455.9 316 457.5C318.7 459.1 320.3 460.8 320.7 463.3C321.2 465.7 320.7 469.1 319 472.1C317.2 475.1 314.3 479.6 310.3 481.3C306.3 483 297.6 486.7 295 482.3C292.4 477.9 292.9 459.8 294.5 455Z" fill="none" stroke="#666" stroke-width="0.8"/><path d="M294.6 457.2C296.1 453.8 302.7 457 306.1 457.4C309.5 457.8 313.1 458.3 314.8 459.3C316.6 460.3 316.3 460.9 316.6 463.2C316.9 465.6 317.8 470.9 316.4 473.4C314.9 475.9 311.3 477.5 308 478.3C304.8 479 299.1 481.2 296.9 477.7C294.6 474.2 293 460.5 294.6 457.2Z" fill="none" stroke="#777" stroke-width="0.8"/><path d="M298.3 460.2C299.4 457.9 303.4 459.2 305.7 459.5C307.9 459.8 310.2 461.3 311.7 462.1C313.2 462.9 314.1 462.9 314.6 464.3C315.1 465.7 315.7 468.8 314.5 470.5C313.4 472.1 310.2 473.6 307.6 474.2C305.1 474.7 300.8 476.1 299.3 473.8C297.7 471.4 297.2 462.6 298.3 460.2Z" fill="none" stroke="#777" stroke-width="0.8"/><path d="M302.9 463.1C303.3 461.7 304 462.8 305.1 462.9C306.3 463 308.6 463.4 309.7 463.7C310.7 464 311.7 464.1 311.5 464.9C311.4 465.7 309.6 467.3 308.9 468.3C308.1 469.4 308.1 470.7 307 471.2C305.9 471.7 303 472.7 302.3 471.4C301.6 470 302.4 464.5 302.9 463.1Z" fill="none" stroke="#888" stroke-width="0.8"/><ellipse cx="315" cy="458" rx="2.5" ry="2" fill="none" stroke="#444" stroke-width="0.8" opacity="1" transform="rotate(0 315 458)"/><path d="M288.4 490.9C291.2 489.6 300.1 490.1 305.1 490.1C310 490.2 315.9 490 318.1 491.3C320.2 492.6 320.4 496.8 318.1 498.1C315.8 499.4 309.3 499.2 304.3 499.2C299.3 499.3 290.8 499.7 288.1 498.3C285.5 496.9 285.5 492.3 288.4 490.9Z" fill="none" stroke="#555" stroke-width="0.8"/><path d="M291.8 492.2C293.9 491.2 300.7 491.4 304.2 491.6C307.7 491.8 311.4 492.5 312.9 493.4C314.4 494.4 314.3 496.3 312.9 497.1C311.5 497.9 307.9 498 304.4 498.1C300.9 498.2 294 498.8 291.9 497.8C289.8 496.8 289.8 493.3 291.8 492.2Z" fill="none" stroke="#777" stroke-width="0.8"/><path d="M296.6 493.5C297.8 492.9 301.3 493.1 303.2 493.2C305.2 493.3 307.5 493.3 308.4 493.9C309.3 494.5 309.6 496.4 308.7 496.8C307.8 497.3 305.2 496.6 303.1 496.6C301 496.5 297.3 497.2 296.2 496.7C295.1 496.2 295.4 494.1 296.6 493.5Z" fill="none" stroke="#888" stroke-width="0.8"/><path d="M268.1 448.3C270.4 446.2 274.1 445.6 277.4 445.6C280.6 445.5 285.1 445.5 287.5 447.9C289.9 450.3 291.2 455.6 291.9 460.2C292.5 464.7 291.8 470.8 291.4 475.3C291 479.8 289 483.9 289.3 487.2C289.7 490.5 293.3 492.2 293.4 494.9C293.5 497.7 293.5 501.9 289.9 503.7C286.4 505.4 278.1 505.6 272.2 505.4C266.4 505.2 258 504.3 254.7 502.5C251.3 500.8 251.7 497.2 252 494.8C252.2 492.3 254.4 489.5 256.3 488C258.2 486.5 262.3 488.3 263.3 485.6C264.3 482.9 262.3 476.5 262.3 471.9C262.3 467.4 262.2 462.1 263.2 458.2C264.1 454.2 265.7 450.4 268.1 448.3Z" fill="#fff" stroke="#333" stroke-width="0.8" opacity="1" /><path d="M268.6 449.8C270.9 447.7 274.2 447 277.3 446.9C280.3 446.8 284.5 446.5 286.6 448.9C288.8 451.2 289.3 456.6 290 461C290.7 465.4 290.9 471 290.8 475.3C290.6 479.5 288.8 483.4 289 486.6C289.2 489.8 292.2 491.9 292.2 494.6C292.2 497.2 292.5 500.9 289.2 502.5C285.9 504.2 278.1 504.4 272.4 504.3C266.7 504.2 258.4 503.7 255.1 502C251.7 500.2 252.1 496.4 252.4 494C252.7 491.6 255.2 489 257 487.7C258.8 486.3 262.3 488.5 263.3 485.8C264.3 483.2 262.9 476.1 262.9 471.7C262.9 467.2 262.4 462.6 263.4 459C264.3 455.3 266.3 451.8 268.6 449.8Z" fill="none" stroke="#555" stroke-width="0.7" opacity="1" /><path d="M267 450.1C269.2 447.7 273.4 447.3 276.6 447.3C279.7 447.3 283.8 447.7 286.1 450.1C288.3 452.4 289.3 457.2 290 461.3C290.7 465.4 290.8 470.6 290.6 474.7C290.3 478.8 290.6 483.3 288.3 485.9C286.1 488.5 280.9 490.1 277.1 490.4C273.4 490.7 268.3 490.2 265.9 487.6C263.6 485 263.5 479.1 263.1 474.7C262.7 470.3 263 465.4 263.7 461.3C264.3 457.2 264.9 452.4 267 450.1Z" fill="#fff" stroke="#555" stroke-width="0.8" opacity="1"/><path d="M268.4 452.8C270.3 450.8 273.8 450.4 276.5 450.4C279.2 450.4 282.7 450.8 284.6 452.8C286.5 454.8 287.3 458.8 287.9 462.3C288.6 465.8 288.6 470.2 288.4 473.7C288.2 477.2 288.4 481 286.5 483.2C284.6 485.4 280.2 486.8 277 487C273.8 487.2 269.5 486.8 267.5 484.6C265.5 482.4 265.4 477.4 265.1 473.7C264.8 470 265 465.8 265.6 462.3C266.2 458.8 266.6 454.8 268.4 452.8Z" fill="#aaa" stroke="none" stroke-width="1" opacity="1"/><path d="M268 451.8C269.9 449.6 273.7 449.1 276.5 449.1C279.3 449.1 282.8 449.5 284.8 451.7C286.9 453.9 287.8 458.7 288.6 462.5C289.3 466.3 289.6 471.1 289.3 474.7C289 478.3 289.2 481.8 287 484.1C284.8 486.4 279.4 488.2 276.1 488.5C272.8 488.7 269.1 488.1 267.1 485.6C265.1 483.1 264.6 477.4 264.3 473.5C263.9 469.5 264.4 465.4 265 461.8C265.7 458.2 266.1 453.9 268 451.8Z" fill="none" stroke="#333" stroke-width="0.9"/><path d="M268.3 452.9C269.9 450.9 273.7 450.9 276.3 450.9C278.9 450.9 282.2 451.1 284.1 453C285.9 454.8 286.9 458.6 287.4 462C288 465.3 287.8 469.7 287.6 473.2C287.4 476.7 287.9 480.7 286 482.9C284.2 485.2 279.5 486.4 276.4 486.7C273.4 487 269.7 487 267.7 484.7C265.7 482.4 264.9 476.6 264.7 472.9C264.4 469.2 265.7 466 266.3 462.6C266.9 459.3 266.6 454.8 268.3 452.9Z" fill="none" stroke="#222" stroke-width="0.9"/><path d="M269.4 454.8C271 453 274.2 451.9 276.4 451.9C278.6 451.8 281.2 452.7 282.9 454.5C284.6 456.3 286 459.6 286.7 462.7C287.4 465.8 287.3 470.1 287 473.3C286.8 476.4 286.7 479.6 285.2 481.5C283.6 483.3 280.5 484.1 277.7 484.4C274.9 484.7 270.3 485 268.5 483.1C266.7 481.3 267 476.9 266.8 473.5C266.5 470 266.5 465.8 266.9 462.7C267.4 459.6 267.9 456.6 269.4 454.8Z" fill="none" stroke="#222" stroke-width="1.0"/><path d="M269.5 455.5C270.9 453.9 274.5 453.7 276.7 453.8C278.9 453.9 281.2 454.5 282.8 456.1C284.4 457.7 285.8 460.5 286.3 463.2C286.8 465.9 286.3 469.5 285.9 472.3C285.6 475.1 285.6 478.2 284.2 480C282.7 481.8 279.6 482.9 277.1 483.1C274.7 483.4 271 483.4 269.5 481.6C267.9 479.8 267.8 475.4 267.7 472.3C267.5 469.2 268.2 465.8 268.6 463C268.9 460.2 268.1 457 269.5 455.5Z" fill="none" stroke="#111" stroke-width="1.0"/><path d="M271.1 457.2C272.4 455.9 275.4 455.7 277.2 455.6C279 455.5 280.8 455.2 282 456.5C283.3 457.9 284.1 461.1 284.7 463.7C285.3 466.3 285.7 469.7 285.6 472.1C285.4 474.6 285.1 476.9 283.6 478.4C282.1 479.9 278.9 480.9 276.6 481.2C274.3 481.6 271.4 481.9 270 480.4C268.5 478.9 267.8 475.3 267.7 472.5C267.6 469.7 268.8 466.2 269.4 463.7C270 461.2 269.8 458.6 271.1 457.2Z" fill="none" stroke="#000" stroke-width="1.1"/><path d="M271.6 458.4C272.7 457.1 274.9 456.7 276.6 456.7C278.3 456.8 280.4 457.3 281.7 458.7C283 460 284 462.7 284.4 464.8C284.8 467 284.5 469.4 284.2 471.6C283.8 473.8 283.8 476.5 282.5 478C281.3 479.4 278.5 480.2 276.6 480.2C274.7 480.3 272.2 479.8 271.1 478.3C270 476.8 270.1 473.5 269.9 471.1C269.7 468.8 269.8 466.4 270.1 464.3C270.4 462.2 270.5 459.7 271.6 458.4Z" fill="none" stroke="#111" stroke-width="1.2"/><path d="M272.3 459.7C273.2 458.7 274.6 458.2 276.2 458.2C277.7 458.1 280.4 458.2 281.5 459.4C282.7 460.5 282.6 463.1 283 465.1C283.4 467.1 284 469.6 284 471.4C283.9 473.1 284 474.3 282.7 475.5C281.4 476.8 278 478.4 276.3 478.7C274.5 479 273.3 478.5 272.2 477.2C271.1 476 270.1 473.3 269.9 471.2C269.6 469.1 270.5 466.5 270.9 464.5C271.3 462.6 271.5 460.8 272.3 459.7Z" fill="none" stroke="#000" stroke-width="1.3"/><path d="M272.5 461.1C273.3 460.2 275.5 460.1 276.8 459.9C278.2 459.7 279.7 459.3 280.6 460.1C281.5 460.9 281.9 463 282.2 464.8C282.5 466.5 282.3 469 282.2 470.8C282.2 472.6 282.8 474.5 281.8 475.5C280.9 476.6 278 477 276.6 477.1C275.1 477.2 273.7 477.2 272.9 476.1C272.1 475.1 271.7 472.6 271.5 470.7C271.3 468.9 271.6 466.7 271.8 465.1C271.9 463.5 271.7 462 272.5 461.1Z" fill="none" stroke="#000" stroke-width="1.4"/><path d="M273.6 462.4C274.3 461.7 275.7 461.3 276.8 461.4C277.9 461.5 279.6 462.3 280.3 463C281 463.7 280.6 464.4 280.8 465.6C281 466.8 281.4 468.8 281.3 470.2C281.3 471.5 281.3 472.7 280.7 473.6C280 474.4 278.8 475 277.5 475.1C276.3 475.2 274.1 474.9 273.2 474.1C272.3 473.3 272 471.8 272 470.4C272 469 272.9 467.1 273.1 465.8C273.4 464.5 273 463.2 273.6 462.4Z" fill="none" stroke="#000" stroke-width="1.4"/><ellipse cx="277" cy="468" rx="3" ry="10" fill="#222" stroke="none" stroke-width="0" opacity="1" transform="rotate(0 277 468)"/><ellipse cx="277" cy="465" rx="1" ry="2" fill="#ddd" stroke="none" stroke-width="0" opacity="1" transform="rotate(0 277 465)"/><path d="M254.3 490.5C257.1 488.3 263.8 487.6 269.7 487.2C275.6 486.8 285.6 487 289.5 488.3C293.4 489.6 292.8 492.5 292.8 494.9C292.8 497.3 293.4 501.1 289.5 502.6C285.6 504.1 275.8 504.1 269.7 503.7C263.6 503.3 255.8 502.6 253.2 500.4C250.6 498.2 251.6 492.7 254.3 490.5Z" fill="#fff" stroke="#333" stroke-width="0.9" opacity="1"/><path d="M256.3 490.7C258.8 488.8 264.6 488.3 269.9 488C275.3 487.7 285.1 487.5 288.6 488.8C292.1 490 290.9 493.1 290.8 495.3C290.7 497.6 291.5 500.9 288.1 502.2C284.6 503.4 275.5 503.2 270 502.8C264.5 502.4 257.3 501.7 255 499.7C252.7 497.6 253.8 492.7 256.3 490.7Z" fill="none" stroke="#333" stroke-width="0.9"/><path d="M258.4 492.3C260.6 490.5 266 489.6 270.6 489.2C275.3 488.7 283.2 488.5 286.2 489.5C289.2 490.5 288.9 493.2 288.9 495.2C289 497.3 289.4 500.7 286.3 501.8C283.3 502.9 275.5 502.4 270.6 502C265.8 501.7 259.3 501.3 257.2 499.7C255.2 498.1 256.1 494 258.4 492.3Z" fill="none" stroke="#555" stroke-width="0.9"/><path d="M259.6 492.2C261.5 490.7 266.3 490.4 270.5 490.1C274.7 489.9 282.2 489.9 284.8 490.7C287.5 491.6 286.4 493.5 286.3 495.2C286.3 496.9 287.1 499.8 284.4 500.8C281.8 501.7 274.7 501.2 270.5 500.9C266.3 500.7 261.1 500.6 259.3 499.2C257.5 497.7 257.7 493.7 259.6 492.2Z" fill="none" stroke="#333" stroke-width="1.0"/><path d="M262.1 492.6C263.7 491.3 267.5 490.7 270.9 490.6C274.3 490.4 280.5 491.1 282.7 491.9C284.9 492.7 284.2 494.2 284.2 495.6C284.2 496.9 284.9 499.2 282.7 499.9C280.6 500.7 274.8 500.4 271.2 500.2C267.7 499.9 262.9 499.7 261.3 498.4C259.8 497.2 260.5 493.9 262.1 492.6Z" fill="none" stroke="#222" stroke-width="1.1"/><ellipse cx="277" cy="496" rx="8" ry="4.5" fill="#000" stroke="none" stroke-width="0" opacity="1" transform="rotate(0 277 496)"/><ellipse cx="278" cy="496" rx="3" ry="1.5" fill="#888" stroke="none" stroke-width="0" opacity="1" transform="rotate(0 278 496)"/></g>
<line x1="289.2" y1="434.8" x2="289.2" y2="511.5" stroke="#6a6a6a" stroke-width="1" />
<line x1="251.5" y1="487.5" x2="327.5" y2="487.5" stroke="#6a6a6a" stroke-width="1" />
<rect x="251.5" y="434.8" width="76.0" height="76.69999999999999" fill="none" stroke="#7a7a7a" stroke-width="1" />
<rect x="252.7" y="436.2" width="15.0" height="7.4" fill="#fff" stroke="none" stroke-width="1" />
<text x="253.5" y="442.40000000000003" font-size="7.5" font-weight="normal" text-anchor="start" fill="#111" stroke="#111" stroke-width="0.15" textLength="13.4" lengthAdjust="spacingAndGlyphs">45.7</text>
<rect x="312.6" y="436.2" width="15.0" height="7.4" fill="#fff" stroke="none" stroke-width="1" />
<text x="326.8" y="442.40000000000003" font-size="7.5" font-weight="normal" text-anchor="end" fill="#111" stroke="#111" stroke-width="0.15" textLength="13.4" lengthAdjust="spacingAndGlyphs">12.3</text>
<rect x="252.7" y="504.2" width="15.0" height="7.4" fill="#fff" stroke="none" stroke-width="1" />
<text x="253.5" y="510.4" font-size="7.5" font-weight="normal" text-anchor="start" fill="#111" stroke="#111" stroke-width="0.15" textLength="13.4" lengthAdjust="spacingAndGlyphs">37.1</text>
<rect x="312.6" y="504.2" width="15.0" height="7.4" fill="#fff" stroke="none" stroke-width="1" />
<text x="326.8" y="510.4" font-size="7.5" font-weight="normal" text-anchor="end" fill="#111" stroke="#111" stroke-width="0.15" textLength="13.4" lengthAdjust="spacingAndGlyphs">4.97</text>
<text x="249.5" y="439.8" font-size="4.0" font-weight="normal" text-anchor="end" fill="#777" >10<tspan font-size="2.8" dy="-1.6">5</tspan></text>
<text x="249.5" y="458.24117647058824" font-size="4.0" font-weight="normal" text-anchor="end" fill="#777" >10<tspan font-size="2.8" dy="-1.6">4</tspan></text>
<text x="249.5" y="476.6823529411765" font-size="4.0" font-weight="normal" text-anchor="end" fill="#777" >10<tspan font-size="2.8" dy="-1.6">3</tspan></text>
<text x="249.5" y="495.1235294117647" font-size="4.0" font-weight="normal" text-anchor="end" fill="#777" >10<tspan font-size="2.8" dy="-1.6">2</tspan></text>
<text x="249.0" y="504.5" font-size="3.6" font-weight="normal" text-anchor="end" fill="#888" >0</text>
<text x="260.5" y="517.5" font-size="3.8" font-weight="normal" text-anchor="middle" fill="#777" >0</text>
<text x="267.5" y="517.5" font-size="3.8" font-weight="normal" text-anchor="middle" fill="#777" >10<tspan font-size="2.6" dy="-1.5">2</tspan></text>
<text x="286.5" y="517.5" font-size="3.8" font-weight="normal" text-anchor="middle" fill="#777" >10<tspan font-size="2.6" dy="-1.5">3</tspan></text>
<text x="305.5" y="517.5" font-size="3.8" font-weight="normal" text-anchor="middle" fill="#777" >10<tspan font-size="2.6" dy="-1.5">4</tspan></text>
<text x="322.5" y="517.5" font-size="3.8" font-weight="normal" text-anchor="middle" fill="#777" >10<tspan font-size="2.6" dy="-1.5">5</tspan></text>
<text x="289.5" y="522.0" font-size="3.6" font-weight="normal" text-anchor="middle" fill="#888" >&lt;PE-Cy7-A&gt;: IFNg</text>
<line x1="260.5" y1="511.5" x2="260.5" y2="513.0" stroke="#999" stroke-width="0.6" />
<line x1="275.5" y1="511.5" x2="275.5" y2="513.0" stroke="#999" stroke-width="0.6" />
<line x1="290.5" y1="511.5" x2="290.5" y2="513.0" stroke="#999" stroke-width="0.6" />
<line x1="305.5" y1="511.5" x2="305.5" y2="513.0" stroke="#999" stroke-width="0.6" />
<line x1="320.5" y1="511.5" x2="320.5" y2="513.0" stroke="#999" stroke-width="0.6" />
<g clip-path="url(#clc21)"><path d="M89.5 560.5h0m2 -3h0m-3 31.5h0m4.5 -18h0m-1.5 19h0m0.5 -22.5h0m1 4.5h0m-1 8h0m0 -7.5h0m-1.5 -6.5h0m0.5 -8h0m1 16.5h0m-1 -8.5h0m1.5 12.5h0m0.5 6h0m-1.5 -8h0m0 14h0m-2 -29.5h0m1.5 3h0m-1.5 3h0m-1 -12h0m4 27h0m-3 8h0m-0.5 -3h0m-5 -16h0m9 -13h0m-3.5 26h0m1.5 -28h0m-2 3.5h0m-2.5 21h0m6.5 7h0m-1 -2.5h0m-3.5 -5.5h0m2 -16.5h0m-1.5 20.5h0m3.5 -18h0m-4.5 2h0m1 3h0m3.5 3h0m-8.5 5h0m8 -14.5h0m-2.5 9.5h0m-2 7.5h0m2.5 -15h0m2.5 24.5h0m-1.5 0h0m5 -4.5h0m-10 -17.5h0m3.5 13.5h0m4 2h0m-6.5 -27h0m2 29h0m3 -12.5h0m-6 2h0m2.5 1h0m-1 -16.5h0m6 14.5h0m0 -16h0m4 26h0m-6 -3h0m-3 -20h0m0 -4h0m4.5 14.5h0m0 -2.5h0m-3.5 1.5h0m0.5 -11.5h0m-6 15.5h0m0.5 4h0m6.5 -17h0m-0.5 11.5h0m-1 -16h0m4 8h0m-7 3h0m5 7h0m-4.5 -5.5h0m2 6.5h0m-0.5 12h0m3 -17.5h0m-1 -16h0m1 22.5h0m4 -4.5h0m-7.5 -3h0m5 -7h0m-1.5 24h0m2 3.5h0m-7.5 -3h0m6.5 -1h0m-3 -28.5h0m-1.5 17.5h0m4.5 9h0m-0.5 -16.5h0m-0.5 10h0m-6.5 5.5h0m4.5 -2h0m-0.5 -21h0m0.5 28.5h0m3.5 -21h0m-1.5 -12.5h0m2.5 10.5h0m-3.5 22h0m-1.5 -17.5h0m1.5 -12h0m5.5 27h0m-2.5 -13.5h0m-9.5 -11h0m8 9h0m-2.5 13h0m-3 0.5h0m0 3.5h0m6 -28h0m-3 21h0m4.5 -23h0m-1 -0.5h0m-2.5 28.5h0m3 -22h0m-3 1.5h0m-4 15h0m0.5 -23.5h0m5 34.5h0m0 -5.5h0m0.5 -5h0m-1 -9.5h0m-2.5 18h0m4 -24h0m-4.5 21.5h0m3 -9.5h0m-2.5 8h0m1.5 -11h0m4 -13.5h0m-7.5 -3h0m-1 20h0m3.5 5.5h0m3 -3.5h0m1.5 3.5h0m-4 -9h0m-1 16h0m0.5 -33.5h0m1.5 34h0m-4 -26h0m-1 18.5h0m6 4.5h0m1 -2h0m0.5 -15h0m-1 17.5h0m-1.5 -23h0m-1.5 4.5h0m1.5 -13.5h0m5.5 10.5h0m2 3.5h0m-4 -12h0m-3.5 24.5h0m-4.5 -5.5h0m5.5 1h0m-4 9.5h0m0.5 -8h0m2 -22.5h0m-3.5 21.5h0m1 -5.5h0m1.5 -5h0m-4.5 22h0m9 -27.5h0m-2.5 13.5h0m-5.5 -4.5h0m7 -15h0m-2 1.5h0m2.5 22h0m-0.5 10.5h0m-2 -11h0m-0.5 -19h0m-1 -3.5h0m4 15.5h0m-2 6.5h0m-3 -21h0m2.5 3.5h0m3.5 25h0m-7.5 -16h0m2.5 7h0m1.5 -17h0m1.5 9h0m-2 -4h0m-2.5 5h0m6 -7.5h0m-1.5 10.5h0m-3.5 14.5h0m2.5 -29h0m-1.5 19.5h0m2.5 -13.5h0m-0.5 3.5h0m-2 6h0m-5 -14h0m0 17h0m6.5 -4.5h0m-1 6.5h0m0.5 -3.5h0m-2.5 -10.5h0m-1.5 23.5h0m0.5 -13h0m8 -9.5h0m-1.5 7h0m-1 -9h0m-1.5 3.5h0m-1.5 -7.5h0m-3.5 14h0m-1 -2.5h0m7 -1h0m-2 13.5h0m-4 5.5h0m4.5 -5.5h0m-4 4.5h0m-0.5 -31.5h0m1.5 -1h0m6.5 13.5h0m-7 5.5h0m0.5 -19h0m2 33h0m-1.5 -1.5h0m-0.5 0.5h0m-2 -31h0m4 30.5h0m0.5 0h0m0.5 -9h0m-2.5 7.5h0m2.5 -23h0m-1.5 5h0m6.5 8h0m-6 3h0m-1 -15.5h0m0.5 -7h0m4 19h0m-2 8h0m-6.5 2h0m6.5 3h0m0.5 -5h0m1 -15h0m-2.5 21h0m0 -30.5h0m2.5 -2.5h0m-2.5 29.5h0m-1 -9h0m2.5 -14.5h0m1 -3h0m-3.5 10h0m3.5 9.5h0m-1.5 6h0m0.5 -8h0m-3.5 -10h0m2.5 -7.5h0m1.5 26h0m2 -30h0m-5 6h0m2 28h0m-2 -21h0m3.5 -8.5h0m-2.5 25h0m1 -6.5h0m-0.5 -10.5h0m-0.5 20.5h0m1 -17.5h0m-2 16h0m4 0h0m-4.5 -22h0m0 15.5h0m0.5 -16h0m1.5 -1.5h0m-4 15h0m5 -12h0m0 2.5h0m-6 20h0m2 -18h0m1 8h0m0 -19.5h0m3 30.5h0m-4 -18.5h0m-3.5 -11.5h0m8.5 -3.5h0m1 0.5h0m-0.5 20.5h0m-2.5 13.5h0m-3 -34.5h0m0 33.5h0m8.5 -15h0m-3 -10h0m-6.5 20h0m-1.5 -7.5h0m3.5 8.5h0m1 3.5h0m2 -24h0m0 21h0m2 -2h0m-4 -9h0m-5 -12h0m5 21.5h0m-3 -11.5h0m9 -18h0m-9 10.5h0m4 18h0m-3 0.5h0m3.5 -25h0m-5 15.5h0m6 -9.5h0m-8 -9.5h0m4.5 9.5h0m2 7h0m3.5 1h0m-4.5 -3h0m0 8h0m-2 7.5h0m1 -3.5h0m0 -23h0m2 27h0m-2 -14.5h0m2 -2.5h0m-1 21.5h0m5 -18.5h0m-5 8h0m-5.5 -7h0m9.5 0h0m-4.5 -12h0m8.5 -0.5h0m-8.5 2h0m0 22.5h0m0 -3h0m1.5 -3.5h0m1 9h0m-3 2.5h0m5 -12.5h0m-4 11h0m1 2h0m4 -7.5h0m-4.5 -1h0" stroke="#000" stroke-width="1.0" stroke-linecap="square" opacity="0.75" fill="none"/><path d="M85.5 547.5h0m6.5 6h0m3 0.5h0m-8.5 1h0m3.5 -1.5h0m-3 -0.5h0m1 -0.5h0m-1 3.5h0m6 -3.5h0m-7.5 0h0m3.5 2.5h0m1 -1.5h0m-3 -3h0m-2.5 4.5h0m5.5 -4.5h0m4.5 8h0m0 -0.5h0m-7 -3.5h0m-1 -1h0m-1 -5.5h0m1 4.5h0m7 5.5h0m-7 -3h0m-2 -6.5h0m2.5 7h0m5 -8h0m3.5 5h0m-8 -2.5h0m-1.5 4h0m0 0h0m0.5 1h0m-1.5 -6.5h0m4 -0.5h0m-3 8h0m0.5 -3.5h0m-5.5 2h0m13 -4.5h0m-2.5 -0.5h0m-1.5 1h0m0.5 8.5h0" stroke="#000" stroke-width="1.0" stroke-linecap="square" opacity="0.55" fill="none"/><path d="M111 583h0m-5.5 4.5h0m-9.5 -2h0m20.5 -16h0m10 7h0m-26 12.5h0m7.5 -6h0m-10 -12h0m16.5 3h0m-17.5 -7h0m16 18h0m-10.5 -8.5h0m10 -6h0m17.5 11.5h0m-15.5 0h0m3 2.5h0m-19.5 -6h0m4.5 5.5h0m-2.5 0.5h0m-2.5 -21h0m-1 17.5h0m36.5 3h0m-23 -3.5h0m-8 -5h0m-4.5 9h0m3.5 -6.5h0m3.5 -0.5h0m-3.5 10.5h0m28.5 -32.5h0m-30 32h0m25 -11h0m-5 3.5h0m-21.5 -5.5h0m6.5 -3.5h0m-2.5 7h0m-1 10h0m9 -18h0m21 13h0m-15.5 -12.5h0m-9 0.5h0m26 8.5h0m-27.5 2h0m2.5 -19.5h0m-8.5 -9h0m3 35.5h0m13 -6h0m2.5 -1h0m-2 -16h0m-2 16.5h0m-11 -22h0m16 7.5h0m12 10.5h0m-2.5 8.5h0m-16 -4h0m1.5 -4h0m9.5 -6h0m-4.5 8.5h0m1 -5h0m8 8.5h0m-27.5 2h0m-2.5 -2h0m25 -13h0m-21.5 5.5h0m0.5 9h0m0.5 2.5h0m16 -9.5h0m14.5 2.5h0m-18 -17.5h0m-17.5 24.5h0m-0.5 -16.5h0m2.5 -10h0m28.5 13.5h0m-16.5 4.5h0m0.5 -20.5h0m0 24.5h0m16.5 -26h0m-8.5 24.5h0m-1 4h0m-6 -20.5h0m13.5 13h0m-11 -2.5h0m-15 -18h0m9.5 6h0m25 16.5h0m-1 -8.5h0m-20 -9.5h0m-5 22.5h0m1.5 -7.5h0m24.5 1.5h0m0 -14h0m-33 22.5h0m0.5 -23.5h0m7.5 12.5h0m-12.5 -3.5h0m11.5 -21.5h0m-5 23.5h0m9.5 2h0m11.5 -23h0m-9 7h0m-7.5 12h0m-5.5 13h0m22 -6.5h0m-6 6.5h0m-16.5 -30.5h0m16 27.5h0m5.5 0.5h0m5.5 -11.5h0m-20.5 -7h0m-10 -8h0m3 7h0m4 3h0m0 20.5h0m21 -8h0m-27.5 3.5h0m26 -15h0m-27 3.5h0m9 7.5h0m6 -19.5h0m5 17.5h0m-4 -13.5h0m7.5 -4.5h0m3.5 18h0m3 -3h0m-21.5 14.5h0m9.5 -18h0m-10.5 4.5h0m-4.5 8h0m31.5 -17.5h0m-7.5 19h0m-19 -1.5h0m22 -1h0m-5.5 -21h0m-21.5 21.5h0m15.5 -7.5h0m-12 2h0m20 6h0m9 -10.5h0m1 2h0m-13.5 -20.5h0m9 23.5h0m-23.5 6.5h0m-2.5 -30.5h0m3.5 22h0m-3.5 -7h0m3.5 16h0m7.5 -4.5h0m-6.5 1h0m13 -6h0m-19.5 2.5h0m-2.5 8h0m13.5 -18h0m-13.5 -13.5h0m27 7.5h0m-24 20h0m17.5 -16h0m-10.5 18.5h0m19.5 -5h0m-13 -18h0m-13.5 12h0m4 14h0m-2 -24h0m-5.5 12h0m23 -20h0m-16 33h0m24.5 -20h0m-25.5 -13h0m-8 6.5h0m8.5 0.5h0m3 -2.5h0m19.5 5.5h0m-27 -2h0m-1.5 9h0m23 -1h0m-22.5 9h0m17.5 -4h0m-10.5 1.5h0m25.5 -12.5h0m-33 21.5h0m6 -7h0m8 3.5h0m8 -3.5h0m11.5 -0.5h0m-25 5h0m-6 4h0m23 -1.5h0m-16 -0.5h0m17 -9.5h0m-27 9h0m28.5 -4h0m-26.5 -3.5h0m4 1.5h0m-5 2h0m10 -23h0m-4 14.5h0m24 12.5h0m5 -30h0m-25.5 18.5h0m5.5 11.5h0m-16.5 -7.5h0m-2 4.5h0m-0.5 -18h0m14 16h0m15 -14h0m-9.5 17.5h0m-4 -3h0m-10.5 -23h0m24 22h0m-17.5 -5h0m20 -13.5h0m-8.5 15h0" stroke="#222" stroke-width="1.0" stroke-linecap="square" opacity="0.6" fill="none"/><path d="M114.5 589h0m8 -2h0m-16.5 4.5h0m27 -3.5h0m-40.5 0.5h0m21 -2.5h0m-22 2.5h0m-1.5 6h0m20 -2h0m-9.5 -5h0m28.5 2.5h0m-12 -1h0m13.5 -0.5h0m-37 -3.5h0m11 3.5h0m-6 3.5h0m-6.5 -1.5h0m18 -2.5h0m-6 3.5h0m12.5 -4.5h0m15.5 2h0m-43 -0.5h0m2.5 1h0m17.5 4h0m23.5 -5.5h0m-15 2.5h0m-10.5 -1.5h0m5 -2h0m-14.5 0h0m14 3.5h0m6 -0.5h0m-27.5 -8h0m44.5 11.5h0m-17.5 -7.5h0m5 2h0m3 1h0m-26.5 2h0m-6.5 -2.5h0m20.5 0.5h0m6 -1.5h0m5.5 2.5h0m-18 0.5h0m26.5 -0.5h0m-20 0.5h0m-16 0.5h0m3.5 -4h0m27 0.5h0m-3.5 0.5h0m-30 0.5h0m38 -0.5h0m-25 -0.5h0m17 3h0m4 -1.5h0m-4.5 2.5h0m-17 1h0m14.5 -7.5h0m-18.5 4.5h0m17.5 -2.5h0m-21.5 1.5h0m24 1.5h0m-28 -3.5h0m-4.5 0h0m17 5h0m-4 -3h0m1 3h0m2 1h0m27 -0.5h0m-1 -6.5h0m-1 3.5h0m-1 1.5h0m-4.5 -0.5h0m-7 -1h0m-18 4h0m1.5 0h0m-6.5 -7.5h0m-4 4h0m15 -4.5h0m10 5h0m5.5 -1.5h0m-28.5 -2h0m36 6.5h0m-23 -8h0m-10 4.5h0m7 -1h0m4.5 1h0m-6.5 0h0m24 -2h0m2.5 2h0m-25.5 -1h0m3 1h0m26 0h0m-22.5 -1.5h0m4 2.5h0m-10 -5h0m-7.5 3h0m36 1.5h0m-41 -5.5h0m38.5 2.5h0m-14.5 0h0m-21 -0.5h0m3.5 1h0m5 3.5h0m19.5 0.5h0m-28.5 0.5h0m17 -3.5h0m-2.5 0.5h0m-2 -1.5h0m5 0h0m-12 1.5h0m-1 -0.5h0m32 -2.5h0m-22 1h0m8 3.5h0m-10.5 -3h0m5 2h0m20.5 -3.5h0m2.5 3h0m-25.5 4.5h0m5.5 -3h0m0.5 -2.5h0m-24 4.5h0m40.5 -3.5h0m-23 1.5h0m-10.5 -1.5h0m38 0h0m-15.5 0.5h0m13 -2.5h0m-15 4h0m-1 -2h0m-21 5.5h0m30 -1h0m-3.5 -5.5h0m-24 -3h0m27.5 4h0m-32.5 0.5h0m-2 -0.5h0m21.5 -3.5h0m11 -0.5h0m-10.5 6.5h0m-5 -4.5h0m-8.5 4h0m11 -0.5h0m-7 -2.5h0m6 -1h0m2.5 2.5h0m10.5 -3h0m-11 5.5h0m-8 -3h0m-8 3h0m1.5 -0.5h0m4 -2h0m20 -4.5h0m-30.5 5.5h0m14.5 -2.5h0m11 0h0m8 3h0m-14.5 -4.5h0m-16 2h0m5.5 0.5h0m18.5 -1.5h0m12 2h0m-11.5 -2h0m0.5 -1.5h0m-23.5 7h0m-0.5 -4h0m23.5 1h0m-23 2.5h0m8 -5h0m-2.5 1h0m-8.5 0.5h0m35.5 1h0m-28 -0.5h0m28.5 1h0m-38 -1.5h0m29 -2.5h0m5.5 3.5h0m-19.5 -3h0m21.5 4h0m-17 -4.5h0m5.5 5h0m-14 0h0m30.5 -3.5h0m-3 0.5h0m-6.5 0h0m-6.5 1h0m1.5 -0.5h0m-10 -1.5h0m28 0.5h0m-6.5 3.5h0m3 -4.5h0m-42.5 3h0m47 -2.5h0m-15 2h0m-21 -5.5h0m26.5 6h0m-28 -0.5h0m8 -0.5h0m-15.5 2h0m34.5 -4.5h0m-34 3h0m14 -3h0m24 1h0m-10.5 3.5h0m9 -2h0m-21.5 -3h0m-8 1h0m11 -1h0m0.5 2h0m5 4h0m-11 -4h0m-4.5 0h0m7.5 2.5h0m9 -3h0m-9.5 -1.5h0m21 5.5h0m-8 -2h0m11.5 -2h0m3.5 4.5h0m-20.5 -4.5h0m-3 -1h0m-7.5 -2h0m-9 4h0m22.5 2h0m9.5 -0.5h0m-15 0h0m-5 -3.5h0m-8.5 2.5h0m4 0.5h0m10 -3h0m13.5 4.5h0m-17 -3.5h0m25.5 0.5h0m-13 0.5h0m10.5 -0.5h0m-27 1.5h0m-10.5 2h0m31.5 -4h0m-34 2.5h0m6 1h0m0.5 -1h0m22.5 0.5h0m3 -1h0m9 -4h0m-1 4.5h0m-10 -2h0m2.5 -0.5h0m3 2.5h0m-14 -1.5h0m-13.5 1h0m7.5 2.5h0m21 0h0m-5 -5h0m-34 2h0m41.5 -4.5h0m-26 5h0m3.5 -0.5h0m16.5 2h0m-31 -2h0m18 3h0m-11.5 -3.5h0m10 1.5h0m3 -1.5h0m-15 2h0m-4 -2h0m10.5 1h0m1.5 4.5h0m17.5 -3h0m-32 -2h0m24 0.5h0m7 -2h0m-17.5 -1h0m29.5 6h0m0 -2.5h0m-28 -3h0m22 4.5h0m0 -3h0m-8 0.5h0m-5.5 -3.5h0m-3 5h0m-15.5 1.5h0m34.5 -3h0m-9.5 1h0m-23.5 1.5h0m-1.5 2h0m-4 -2h0m2 -2h0m25.5 0.5h0m-15.5 -1h0m-12.5 -0.5h0m31.5 0.5h0m-29.5 -0.5h0m0.5 -2h0m20 3h0m-22 0.5h0m7 -1.5h0m-5 0h0m7.5 -0.5h0m10 0h0m-5.5 1.5h0m-16.5 -0.5h0m34 0.5h0m-2 -0.5h0m12.5 -0.5h0m-25.5 0h0m-9.5 0h0m22 -2h0m-19 3h0m9.5 -3.5h0m17.5 1h0m-13.5 4.5h0m9.5 -1h0m-12 -2.5h0m-5 1.5h0m26 1h0m-10.5 1h0m6 -3.5h0m-9 0.5h0m13 1.5h0m-38.5 -1.5h0m15.5 -1.5h0m-15 4.5h0m29.5 -3.5h0m-1 1h0m10 0.5h0m-36.5 -2.5h0m14.5 0.5h0m12.5 5h0m-12.5 -3.5h0m-13.5 2h0m14 -4h0m-21 1.5h0m34 2.5h0m-35 -4h0m28 0.5h0m8.5 1.5h0m-3 1h0m-31.5 0.5h0m29.5 -3h0m-0.5 2.5h0m-19 -3h0m10 5.5h0m12 -1.5h0m-26.5 -1h0m6 -3.5h0m28 3.5h0m-32 -0.5h0m-7.5 0.5h0m18.5 -3h0m-5.5 1h0m8 0.5h0m-23.5 0h0m33.5 0h0m-17 -1h0m-13 3h0m20 1h0m-23.5 2h0m2.5 -4h0m18 -3.5h0m8.5 2h0m-29.5 2.5h0m10.5 -2h0m4 -0.5h0m13.5 3.5h0m-26.5 -4.5h0m38.5 4h0m-18 -3h0m-23 4h0m24 -2.5h0m19.5 -1h0m-16 1h0m-12 1h0m22 -5h0m-4 3h0m5 2h0m7 -2h0m-23 -1.5h0m20.5 6h0m-33.5 -3.5h0m-3 -1h0m2 1h0m18.5 -0.5h0m5.5 1.5h0m-15 -0.5h0m12 0.5h0m6.5 -1.5h0m-16 0.5h0m11.5 -3h0m-29.5 2.5h0m5.5 -0.5h0m34 -0.5h0m-41 0h0m20.5 0h0m-1.5 6.5h0m-15.5 -7.5h0m-1 10.5h0m26 -9h0m-2 1h0m-13 -1.5h0m-7.5 -1.5h0m22.5 0h0m-12 1h0m24.5 3.5h0m1.5 -2h0m-40.5 1.5h0m0 -2h0m7 -1h0m22.5 1h0m-25 1.5h0m-2.5 -1.5h0m18 0.5h0m0 1h0m7 -4h0m14.5 4h0m-21 -0.5h0m2 0.5h0m0.5 1.5h0m-5 -2h0m6 1h0m4 -1h0m-13 0h0" stroke="#000" stroke-width="1.0" stroke-linecap="square" opacity="0.85" fill="none"/><path d="M135.5 599h0m2 1h0m-3 -3h0m1.5 -0.5h0m-2.5 1h0m-2 2.5h0m4.5 -4h0m-3 -3h0m-0.5 4h0m3.5 4.5h0m-3.5 -3.5h0m1 -1.5h0m3 -2.5h0m-1 -3h0m0.5 12h0m-4 -9h0m3.5 5.5h0m-3 2h0m4 -5.5h0m-2 1.5h0m-2 -0.5h0m3 5h0m1 -2.5h0m-2.5 -2h0m-1 -6h0m0.5 7h0m-0.5 -2h0m-2 1h0m0 1.5h0m-1 0h0m0.5 -2h0m1.5 1.5h0m5.5 -1h0m-2.5 4.5h0m1 -4.5h0m-3.5 2h0m-0.5 2.5h0m1 -0.5h0m3 -1h0m-1.5 -5h0" stroke="#000" stroke-width="1.0" stroke-linecap="square" opacity="0.7" fill="none"/><path d="M85 594C85.8 592.3 87.5 591.4 90 590.8C92.5 590.2 95 590.5 100 590.5C105 590.5 114.8 590.4 120 590.5C125.2 590.6 128.7 590.1 131 591C133.3 591.9 134 593.9 134 596C134 598.1 135 602.2 131 603.5C127 604.8 116.8 603.9 110 604C103.2 604.1 94.2 604.5 90 604C85.8 603.5 85.8 602.7 85 601C84.2 599.3 84.2 595.7 85 594Z" fill="#fff" stroke="#000" stroke-width="1.8" opacity="1"/><path d="M88.2 594.5C88.9 593 90.4 592.2 92.5 591.7C94.7 591.2 96.8 591.5 101.1 591.5C105.4 591.4 113.9 591.4 118.3 591.5C122.8 591.6 125.8 591.1 127.8 591.9C129.8 592.7 130.4 594.4 130.4 596.2C130.4 598 131.2 601.5 127.8 602.7C124.3 603.8 115.6 603 109.7 603.1C103.8 603.2 96.1 603.5 92.5 603.1C88.9 602.7 88.9 601.9 88.2 600.5C87.5 599.1 87.5 596 88.2 594.5Z" fill="#9a9a9a" stroke="#222" stroke-width="1.0" opacity="1" /><path d="M91.9 595C92.5 593.9 93.7 593.2 95.4 592.8C97.2 592.4 98.9 592.6 102.4 592.6C105.9 592.6 112.8 592.5 116.4 592.6C120 592.7 122.5 592.3 124.1 593C125.7 593.6 126.2 595 126.2 596.5C126.2 597.9 126.9 600.8 124.1 601.7C121.3 602.6 114.2 602 109.4 602C104.6 602.1 98.3 602.4 95.4 602C92.5 601.7 92.5 601.1 91.9 600C91.3 598.8 91.3 596.2 91.9 595Z" fill="#e8e8e8" stroke="#666" stroke-width="0.7" opacity="1" /><path d="M91 598.5H127" fill="none" stroke="#222" stroke-width="1.2" opacity="1" /><ellipse cx="87.5" cy="597.5" rx="2.2" ry="4" fill="none" stroke="#000" stroke-width="1.4" opacity="1" transform="rotate(0 87.5 597.5)"/></g>
<line x1="98.2" y1="534" x2="98.2" y2="611.5" stroke="#6a6a6a" stroke-width="1" />
<line x1="70" y1="589.5" x2="145.7" y2="589.5" stroke="#6a6a6a" stroke-width="1" />
<rect x="70" y="534" width="75.69999999999999" height="77.5" fill="none" stroke="#7a7a7a" stroke-width="1" />
<rect x="71.2" y="535.4" width="15.0" height="7.4" fill="#fff" stroke="none" stroke-width="1" />
<text x="72.0" y="541.6" font-size="7.5" font-weight="normal" text-anchor="start" fill="#111" stroke="#111" stroke-width="0.15" textLength="13.4" lengthAdjust="spacingAndGlyphs">1.36</text>
<rect x="126.9" y="535.4" width="18.9" height="7.4" fill="#fff" stroke="none" stroke-width="1" />
<text x="145.0" y="541.6" font-size="7.5" font-weight="normal" text-anchor="end" fill="#111" stroke="#111" stroke-width="0.15" textLength="17.3" lengthAdjust="spacingAndGlyphs">0.849</text>
<rect x="71.2" y="604.2" width="15.0" height="7.4" fill="#fff" stroke="none" stroke-width="1" />
<text x="72.0" y="610.4" font-size="7.5" font-weight="normal" text-anchor="start" fill="#111" stroke="#111" stroke-width="0.15" textLength="13.4" lengthAdjust="spacingAndGlyphs">41.5</text>
<rect x="130.8" y="604.2" width="15.0" height="7.4" fill="#fff" stroke="none" stroke-width="1" />
<text x="145.0" y="610.4" font-size="7.5" font-weight="normal" text-anchor="end" fill="#111" stroke="#111" stroke-width="0.15" textLength="13.4" lengthAdjust="spacingAndGlyphs">56.3</text>
<text x="68" y="539.0" font-size="4.0" font-weight="normal" text-anchor="end" fill="#777" >10<tspan font-size="2.8" dy="-1.6">5</tspan></text>
<text x="68" y="557.6764705882352" font-size="4.0" font-weight="normal" text-anchor="end" fill="#777" >10<tspan font-size="2.8" dy="-1.6">4</tspan></text>
<text x="68" y="576.3529411764706" font-size="4.0" font-weight="normal" text-anchor="end" fill="#777" >10<tspan font-size="2.8" dy="-1.6">3</tspan></text>
<text x="68" y="595.0294117647059" font-size="4.0" font-weight="normal" text-anchor="end" fill="#777" >10<tspan font-size="2.8" dy="-1.6">2</tspan></text>
<text x="67.5" y="604.5" font-size="3.6" font-weight="normal" text-anchor="end" fill="#888" >0</text>
<text x="124" y="617.5" font-size="3.8" font-weight="normal" text-anchor="middle" fill="#777" >10<tspan font-size="2.6" dy="-1.5">4</tspan></text>
<text x="141" y="617.5" font-size="3.8" font-weight="normal" text-anchor="middle" fill="#777" >10<tspan font-size="2.6" dy="-1.5">5</tspan></text>
<text x="119" y="621.8" font-size="3.6" font-weight="normal" text-anchor="middle" fill="#777" >IL2</text>
<line x1="79" y1="611.5" x2="79" y2="613.0" stroke="#999" stroke-width="0.6" />
<line x1="94" y1="611.5" x2="94" y2="613.0" stroke="#999" stroke-width="0.6" />
<line x1="109" y1="611.5" x2="109" y2="613.0" stroke="#999" stroke-width="0.6" />
<line x1="124" y1="611.5" x2="124" y2="613.0" stroke="#999" stroke-width="0.6" />
<line x1="139" y1="611.5" x2="139" y2="613.0" stroke="#999" stroke-width="0.6" />
<g clip-path="url(#clc22)"><path d="M195 587.5h0m-8.5 -7.5h0m10.5 3h0m9 -32h0m-12.5 9h0m-5.5 26h0m15.5 -5.5h0m-15 -4h0m21 -13h0m-12 23.5h0m6.5 -44h0m-18 29h0m24.5 12h0m-5.5 -21h0m-12 21.5h0m-2 -4.5h0m-1.5 -33h0m16.5 18.5h0m-20 14.5h0m2 -1.5h0m6.5 -24.5h0m2.5 -11h0m-10 1h0m23 38h0m-18.5 -39.5h0m2 34h0m14.5 -23h0m-6 0h0m-6 35.5h0m16 -41.5h0m-11.5 23h0m-4 -8h0m-4 26.5h0m23.5 -8h0m-18.5 -18h0m6 17.5h0m-1 5.5h0m-6.5 -38.5h0m1.5 39.5h0m-3 -5.5h0m-8.5 -11h0m8 19h0m17 -29h0m-1.5 -1.5h0m-21.5 -11.5h0m35.5 37.5h0m-35 -7h0m4 -29h0m-1.5 15.5h0m24 -6.5h0m-19 14h0m22.5 1h0m-31 -26.5h0m22 35h0m-6.5 8h0m-11.5 -10h0m6.5 -23.5h0m17 -7.5h0m-13.5 16.5h0m-15.5 8.5h0m15.5 1h0m1 -20h0m18 -5h0m-33.5 1h0m30.5 19h0m-23 -26.5h0m22.5 36h0m-26.5 10.5h0m-0.5 -44h0m-1.5 32.5h0m25 -26h0m-22.5 19.5h0m-3.5 16.5h0m6.5 -0.5h0m27 2.5h0m-28.5 -29h0m-4 -7.5h0m2.5 14.5h0m2.5 19h0m-5.5 -14h0m33 -12h0m-8 -9.5h0m-22 8h0m-4.5 21h0m5.5 -35h0m4 37h0m6 4h0m3 -14.5h0m-16.5 0.5h0m6.5 15.5h0m19.5 -28.5h0m-17 0.5h0m-9 11.5h0m17 16.5h0m-4.5 -42.5h0m-3 -3h0m4 23h0m-15.5 11.5h0m7.5 -1.5h0m2.5 1h0m-10 -34.5h0m16.5 21.5h0m-5 10h0m-6.5 -15h0m-5 4.5h0m19.5 -8h0m-6.5 0h0m-13.5 31h0m3 2h0m19.5 -22.5h0m-22 18.5h0m31.5 -1h0m-2 -17.5h0m-29 -1.5h0m6 5.5h0m6.5 -23h0m-12 25.5h0m13.5 9h0m16 -5h0m-27 14h0m29 -5h0m-32.5 -37.5h0m1 34h0m16.5 -7h0m-10.5 -1.5h0m-5 -13h0m-2 25.5h0m0.5 -12h0m1 -5.5h0m25 9.5h0m-25.5 -36h0m17.5 37h0m0.5 -20h0m-3 30h0m-15 -38.5h0m23.5 33.5h0m-8 -22.5h0m5 8.5h0m-17.5 6.5h0m6 -8h0m-9 -9.5h0m13 23.5h0m2.5 -22h0m21 16.5h0m-6.5 8.5h0m-29 -31.5h0m7.5 3h0m-1 17h0m-4 9.5h0m-5 -2.5h0m3.5 -1h0m24.5 8.5h0m-25.5 -18.5h0m1 0.5h0m0 -22.5h0m1.5 -0.5h0m7.5 4h0m8 31.5h0m14 -7.5h0m-26.5 -20h0m29.5 16h0m-22.5 7.5h0m-3 7h0m-12 -9h0m2 -23.5h0m21.5 27h0m0.5 0.5h0m3.5 -36h0m-4.5 41.5h0m-14 -32h0m30 24.5h0m-1.5 -16h0m-23.5 10.5h0m-11.5 -9h0m-1 -8h0m8.5 11.5h0m-8 -12h0m13.5 23.5h0m7 -26h0m-11 4h0m6 14.5h0m9 7.5h0m-26 -20.5h0m2 31.5h0m26 -19.5h0m-22 -22h0m1.5 -2.5h0m-6 26h0m26 -12.5h0m-25.5 12.5h0m26.5 -2h0m-13.5 8h0m-0.5 3.5h0m1 -15h0m13 -19.5h0m-19.5 23h0m6.5 -14.5h0m-8 29.5h0m-2.5 -24.5h0m18.5 3.5h0m-4 14h0m-8 5h0m-11.5 -23h0m1.5 28.5h0m4 -47h0m4.5 34h0m7 -14h0m0.5 -18.5h0m-6.5 30.5h0m-6 7h0m-3 3.5h0m18.5 -9.5h0m-4.5 9h0m9 -6h0m5.5 9h0m-29.5 2h0m25.5 -38h0m-20.5 21h0m17.5 13.5h0m-3.5 3.5h0m1.5 -45.5h0m-10 14.5h0m-1 -1h0m5 30h0m-3.5 -36.5h0m-2 29.5h0m1.5 -32.5h0m16.5 38.5h0m-24.5 -19.5h0m2 -11h0m23 3.5h0m6 11h0m-31 -24.5h0m5 2.5h0m3.5 19h0m12 18h0m-12 -4.5h0m0 -25h0m7 25h0m-4 -34h0m-5 26h0m-4 -4h0m12.5 8h0m-14 -24.5h0m-2.5 2.5h0m8.5 32.5h0m-8 -5h0m3 1h0m12 -37.5h0m0.5 22.5h0m-18 7.5h0m25.5 -2.5h0m-10.5 14h0m0 -31.5h0m-9 16.5h0m22.5 3.5h0m-28.5 13.5h0m25 -7.5h0m-12 8.5h0m19.5 -2.5h0m-10 -7.5h0m4 8h0m-13 2.5h0m-12 -41.5h0m33.5 37h0m-18 3h0m1.5 -14.5h0m-9.5 12h0m17 -2.5h0m0.5 -5.5h0m-21.5 -13h0m0 5h0m3.5 14.5h0m14 -9h0m-16 -7h0m-1 14h0m12.5 -15h0m-11 20h0m7.5 -37.5h0m-5 35.5h0" stroke="#111" stroke-width="1.0" stroke-linecap="square" opacity="0.6" fill="none"/><path d="M209 597h0m-16 -0.5h0m-7 1h0m36 1h0m-25.5 -0.5h0m9.5 -3h0m-1.5 0.5h0m7.5 0.5h0m-25.5 0h0m6.5 -0.5h0m12.5 1.5h0m-3.5 -3h0m14 2.5h0m-7 2.5h0m12.5 -1h0m-7 -4h0m6.5 1h0m0 4.5h0m-7 -4h0m1.5 -0.5h0m-25 -2h0m26.5 4.5h0m-4 -2h0m-10 1h0m-16 -0.5h0m11.5 -3.5h0m4.5 1.5h0m-6.5 3.5h0m17.5 -4h0m-22.5 1h0m26.5 3h0m-14.5 -1.5h0m-9 2h0m3 -1.5h0m15 -0.5h0m-5.5 -1h0m12 -0.5h0m-20.5 1.5h0m13.5 -0.5h0m-21.5 1.5h0m10 -4h0m0.5 1.5h0m3 3.5h0m4.5 -2h0m0 4h0m-4.5 -7h0m5 1.5h0m8.5 -0.5h0m-23.5 4h0m11.5 2h0m-2.5 -3.5h0m5 2.5h0m-18.5 -4h0m23 -2.5h0m0.5 2.5h0m-13.5 -1h0m16.5 3.5h0m-16.5 -4h0m-2.5 0.5h0m-6 -0.5h0m28 2h0m-5 -2.5h0m-1.5 7h0m7.5 -4.5h0m1 1.5h0m-14.5 -4h0m15.5 3h0m-22.5 0h0m1.5 0.5h0m6 3h0m-4.5 -4h0m-8 4.5h0m12 -4h0m-6 -2h0m19 2h0m-5.5 3h0m-20.5 -7.5h0m20 5h0m-2.5 -0.5h0m-17.5 1h0m3 0h0m11.5 0.5h0m-11.5 -2.5h0m7 2.5h0m8.5 -1h0m-23 0h0m7 -5.5h0m21.5 6.5h0m4.5 -0.5h0m-35.5 -1.5h0m10.5 2.5h0m0.5 -2h0m9 0h0m11 1.5h0m-1 1h0m-17 0.5h0m14 -3h0m2.5 -2.5h0m4.5 5.5h0m-4.5 -5h0m-18 -1h0m10 1.5h0m5.5 1h0m-9 -1h0m-7.5 3h0m-1.5 -3.5h0m26.5 -1h0m-31.5 -1h0m4.5 7.5h0m20.5 0h0m-9.5 -2h0m12 -4.5h0m-9 1.5h0m-0.5 1h0m-2 -1.5h0m-1 5.5h0m1 -2h0m-12 2.5h0m2.5 -4h0m19.5 -3h0m-15 2.5h0m12 2.5h0m-4 -2.5h0m10 1h0m-5 -3.5h0m0 -2.5h0m-26 0.5h0m12.5 6h0m19.5 1h0m-28 -6h0" stroke="#000" stroke-width="1.0" stroke-linecap="square" opacity="0.7" fill="none"/><path d="M171.7 548.8C172.9 543.7 175.9 544.9 178 544.5C180.1 544.2 183.1 542.4 184.3 546.6C185.5 550.9 185.2 561.5 185.3 569.8C185.5 578 185.7 590.4 185.3 596C185 601.6 184.7 602 183.2 603.4C181.8 604.8 178.9 604.8 176.9 604.4C175 604 172.8 606.1 171.7 601.2C170.6 596.4 170.7 583.8 170.7 575C170.7 566.2 170.5 553.8 171.7 548.8Z" fill="#fff" stroke="#333" stroke-width="0.8" opacity="1"/><path d="M172 550C173.2 545.2 176 546.3 178 546C180 545.7 182.8 544 184 548C185.2 552 184.8 562.2 185 570C185.2 577.8 185.3 589.7 185 595C184.7 600.3 184.3 600.7 183 602C181.7 603.3 178.8 603.3 177 603C175.2 602.7 173 604.7 172 600C171 595.3 171 583.3 171 575C171 566.7 170.8 554.8 172 550Z" fill="#fff" stroke="#555" stroke-width="0.8" opacity="1" /><path d="M172.5 552C173.6 547.6 176.2 548.6 178 548.3C179.8 548 182.4 546.5 183.5 550.2C184.6 553.8 184.3 563.2 184.4 570.4C184.6 577.6 184.7 588.5 184.4 593.4C184.1 598.3 183.8 598.6 182.6 599.8C181.4 601.1 178.8 601.1 177.1 600.8C175.4 600.5 173.4 602.3 172.5 598C171.6 593.7 171.6 582.7 171.6 575C171.6 567.3 171.4 556.4 172.5 552Z" fill="#b0b0b0" stroke="#333" stroke-width="0.8" opacity="1" /><path d="M176 557C175.6 570 175.6 590 176.3 601H181.7C182.2 590 182.2 570 181.7 557C180.8 554 176.8 554 176 557Z" fill="#000" stroke="none" stroke-width="1" opacity="1" /><path d="M177.5 547h0m3 -1.5h0m-10.5 1h0m11.5 -0.5h0m-9.5 -0.5h0m10 1h0m-5.5 -2.5h0m-3.5 2.5h0m3 0.5h0m-4 -0.5h0m5 -2h0m7 1h0m-9 1.5h0m-2 -2.5h0m-1.5 1h0m3 -1h0m2.5 0h0m1.5 0.5h0m-2 3h0m5 -2.5h0m1.5 0.5h0m-4.5 1h0m-5.5 -1.5h0m3.5 0.5h0m5.5 -1h0" stroke="#000" stroke-width="1.0" stroke-linecap="square" opacity="0.7" fill="none"/></g>
<line x1="186.5" y1="534" x2="186.5" y2="611.5" stroke="#6a6a6a" stroke-width="1" />
<line x1="158.8" y1="589.5" x2="235" y2="589.5" stroke="#6a6a6a" stroke-width="1" />
<rect x="158.8" y="534" width="76.19999999999999" height="77.5" fill="none" stroke="#7a7a7a" stroke-width="1" />
<rect x="160.0" y="535.4" width="15.0" height="7.4" fill="#fff" stroke="none" stroke-width="1" />
<text x="160.8" y="541.6" font-size="7.5" font-weight="normal" text-anchor="start" fill="#111" stroke="#111" stroke-width="0.15" textLength="13.4" lengthAdjust="spacingAndGlyphs">80.4</text>
<rect x="220.1" y="535.4" width="15.0" height="7.4" fill="#fff" stroke="none" stroke-width="1" />
<text x="234.3" y="541.6" font-size="7.5" font-weight="normal" text-anchor="end" fill="#111" stroke="#111" stroke-width="0.15" textLength="13.4" lengthAdjust="spacingAndGlyphs">1.38</text>
<rect x="160.0" y="604.2" width="15.0" height="7.4" fill="#fff" stroke="none" stroke-width="1" />
<text x="160.8" y="610.4" font-size="7.5" font-weight="normal" text-anchor="start" fill="#111" stroke="#111" stroke-width="0.15" textLength="13.4" lengthAdjust="spacingAndGlyphs">15.8</text>
<rect x="220.1" y="604.2" width="15.0" height="7.4" fill="#fff" stroke="none" stroke-width="1" />
<text x="234.3" y="610.4" font-size="7.5" font-weight="normal" text-anchor="end" fill="#111" stroke="#111" stroke-width="0.15" textLength="13.4" lengthAdjust="spacingAndGlyphs">2.51</text>
<text x="156.8" y="539.0" font-size="4.0" font-weight="normal" text-anchor="end" fill="#777" >10<tspan font-size="2.8" dy="-1.6">5</tspan></text>
<text x="156.8" y="557.6764705882352" font-size="4.0" font-weight="normal" text-anchor="end" fill="#777" >10<tspan font-size="2.8" dy="-1.6">4</tspan></text>
<text x="156.8" y="576.3529411764706" font-size="4.0" font-weight="normal" text-anchor="end" fill="#777" >10<tspan font-size="2.8" dy="-1.6">3</tspan></text>
<text x="156.8" y="595.0294117647059" font-size="4.0" font-weight="normal" text-anchor="end" fill="#777" >10<tspan font-size="2.8" dy="-1.6">2</tspan></text>
<text x="156.3" y="604.5" font-size="3.6" font-weight="normal" text-anchor="end" fill="#888" >0</text>
<text x="167.8" y="617.5" font-size="3.8" font-weight="normal" text-anchor="middle" fill="#777" >0</text>
<text x="174.8" y="617.5" font-size="3.8" font-weight="normal" text-anchor="middle" fill="#777" >10<tspan font-size="2.6" dy="-1.5">2</tspan></text>
<text x="193.8" y="617.5" font-size="3.8" font-weight="normal" text-anchor="middle" fill="#777" >10<tspan font-size="2.6" dy="-1.5">3</tspan></text>
<text x="212.8" y="617.5" font-size="3.8" font-weight="normal" text-anchor="middle" fill="#777" >10<tspan font-size="2.6" dy="-1.5">4</tspan></text>
<text x="229.8" y="617.5" font-size="3.8" font-weight="normal" text-anchor="middle" fill="#777" >10<tspan font-size="2.6" dy="-1.5">5</tspan></text>
<text x="196.9" y="622.0" font-size="3.6" font-weight="normal" text-anchor="middle" fill="#888" >&lt;PE-A&gt;: IL2</text>
<line x1="167.8" y1="611.5" x2="167.8" y2="613.0" stroke="#999" stroke-width="0.6" />
<line x1="182.8" y1="611.5" x2="182.8" y2="613.0" stroke="#999" stroke-width="0.6" />
<line x1="197.8" y1="611.5" x2="197.8" y2="613.0" stroke="#999" stroke-width="0.6" />
<line x1="212.8" y1="611.5" x2="212.8" y2="613.0" stroke="#999" stroke-width="0.6" />
<line x1="227.8" y1="611.5" x2="227.8" y2="613.0" stroke="#999" stroke-width="0.6" />
<g clip-path="url(#clc23)"><path d="M310 587.5h0m15 -35.5h0m-8 27h0m-34.5 4h0m2 -26.5h0m-2 31.5h0m9.5 -23h0m-9 -22.5h0m-0.5 36h0m34 -35h0m-25 17.5h0m33 4h0m-38 24h0m35 -43h0m-38 24.5h0m26.5 4h0m-24 -21h0m1.5 19.5h0m21.5 10.5h0m-11 1.5h0" stroke="#444" stroke-width="1.0" stroke-linecap="square" opacity="0.55" fill="none"/><path d="M294 595.5h0m-11 5.5h0m2.5 -6h0m12.5 1.5h0m6.5 0h0m-12.5 2h0m8.5 1h0m-16.5 -6h0m10 4h0m13.5 -1h0m-26 -2h0m24 5.5h0m-22.5 -1.5h0m20.5 -1.5h0m5 1.5h0m-9.5 -4h0m-17.5 3.5h0m27.5 -2.5h0m-25 -2.5h0m1 7h0m10 -4.5h0m-9.5 -1h0m11 2.5h0m7.5 -2h0m-17.5 2h0m-5.5 -5.5h0m15 10.5h0m-4.5 -4.5h0m-1.5 -2h0m-1 1.5h0m19 2.5h0m-11.5 1.5h0m-1 -5.5h0m-14 3.5h0m16 2h0m-3 -2h0m-3.5 -2h0m-8 2h0m7 -3h0m18.5 4h0m-25.5 -3h0m26.5 -2h0m-24.5 0h0m2 2.5h0m6 -2h0m5 8h0m-3 -4h0m-13.5 -6h0m9.5 -1.5h0m-3.5 4h0m4.5 3.5h0m-2.5 -3h0m-3.5 -0.5h0m9.5 0.5h0m12.5 -1.5h0m-19 2.5h0m10 0h0m-6.5 -5h0m-6 2h0m17.5 2h0m-14 0.5h0m4 1h0m5.5 -1h0m5 -5h0m4.5 5h0m-17.5 0h0m2.5 0.5h0m12.5 5h0m-23 -5h0m11.5 1.5h0" stroke="#333" stroke-width="1.0" stroke-linecap="square" opacity="0.6" fill="none"/><path d="M265.3 550.1C266.6 545.3 269.4 545.8 271.5 545.6C273.6 545.5 276.4 544.1 277.7 549C278.9 553.9 278.6 566.2 278.8 574.8C279 583.3 279.2 595.3 278.8 600.5C278.4 605.7 278.6 605.2 276.5 606.1C274.5 607.1 268.5 607.1 266.5 606.1C264.4 605.2 264.6 605.7 264.2 600.5C263.8 595.3 264 583.2 264.2 574.8C264.4 566.4 264.1 555 265.3 550.1Z" fill="#fff" stroke="#444" stroke-width="0.8" opacity="1"/><path d="M266 553C267.1 548.7 269.7 549.2 271.5 549C273.3 548.8 275.9 547.7 277 552C278.1 556.3 277.8 567.3 278 575C278.2 582.7 278.3 593.3 278 598C277.7 602.7 277.8 602.2 276 603C274.2 603.8 268.8 603.8 267 603C265.2 602.2 265.3 602.7 265 598C264.7 593.3 264.8 582.5 265 575C265.2 567.5 264.9 557.3 266 553Z" fill="#fff" stroke="#555" stroke-width="0.8" opacity="1" /><path d="M266.6 555.4C267.5 551.5 269.9 551.9 271.5 551.8C273.1 551.6 275.5 550.6 276.4 554.5C277.4 558.4 277.2 568.3 277.4 575.2C277.5 582.1 277.7 591.7 277.4 595.9C277.1 600.1 277.2 599.6 275.6 600.4C273.9 601.1 269.1 601.1 267.4 600.4C265.8 599.6 265.9 600.1 265.6 595.9C265.3 591.7 265.5 582 265.6 575.2C265.8 568.5 265.6 559.3 266.6 555.4Z" fill="#aaa" stroke="#333" stroke-width="0.8" opacity="1" /><path d="M268.5 559C268 570 268 585 268 600H275C275.5 585 275.5 570 274.8 559C274 556 269.3 556 268.5 559Z" fill="#000" stroke="none" stroke-width="1" opacity="1" /><path d="M271.5 562V588" fill="none" stroke="#777" stroke-width="0.8" opacity="1" stroke-dasharray="1.5 1.5"/><ellipse cx="271.5" cy="596" rx="4.8" ry="5" fill="#000" stroke="none" stroke-width="0" opacity="1" transform="rotate(0 271.5 596)"/></g>
<line x1="279.2" y1="534" x2="279.2" y2="611.5" stroke="#6a6a6a" stroke-width="1" />
<line x1="251.3" y1="589.5" x2="328" y2="589.5" stroke="#6a6a6a" stroke-width="1" />
<rect x="251.3" y="534" width="76.69999999999999" height="77.5" fill="none" stroke="#7a7a7a" stroke-width="1" />
<rect x="252.5" y="535.4" width="15.0" height="7.4" fill="#fff" stroke="none" stroke-width="1" />
<text x="253.3" y="541.6" font-size="7.5" font-weight="normal" text-anchor="start" fill="#111" stroke="#111" stroke-width="0.15" textLength="13.4" lengthAdjust="spacingAndGlyphs">59.4</text>
<rect x="309.2" y="535.4" width="18.9" height="7.4" fill="#fff" stroke="none" stroke-width="1" />
<text x="327.3" y="541.6" font-size="7.5" font-weight="normal" text-anchor="end" fill="#111" stroke="#111" stroke-width="0.15" textLength="17.3" lengthAdjust="spacingAndGlyphs">0.648</text>
<rect x="252.5" y="604.2" width="15.0" height="7.4" fill="#fff" stroke="none" stroke-width="1" />
<text x="253.3" y="610.4" font-size="7.5" font-weight="normal" text-anchor="start" fill="#111" stroke="#111" stroke-width="0.15" textLength="13.4" lengthAdjust="spacingAndGlyphs">37.6</text>
<rect x="313.1" y="604.2" width="15.0" height="7.4" fill="#fff" stroke="none" stroke-width="1" />
<text x="327.3" y="610.4" font-size="7.5" font-weight="normal" text-anchor="end" fill="#111" stroke="#111" stroke-width="0.15" textLength="13.4" lengthAdjust="spacingAndGlyphs">2.48</text>
<text x="249.3" y="539.0" font-size="4.0" font-weight="normal" text-anchor="end" fill="#777" >10<tspan font-size="2.8" dy="-1.6">5</tspan></text>
<text x="249.3" y="557.6764705882352" font-size="4.0" font-weight="normal" text-anchor="end" fill="#777" >10<tspan font-size="2.8" dy="-1.6">4</tspan></text>
<text x="249.3" y="576.3529411764706" font-size="4.0" font-weight="normal" text-anchor="end" fill="#777" >10<tspan font-size="2.8" dy="-1.6">3</tspan></text>
<text x="249.3" y="595.0294117647059" font-size="4.0" font-weight="normal" text-anchor="end" fill="#777" >10<tspan font-size="2.8" dy="-1.6">2</tspan></text>
<text x="248.8" y="604.5" font-size="3.6" font-weight="normal" text-anchor="end" fill="#888" >0</text>
<text x="260.3" y="617.5" font-size="3.8" font-weight="normal" text-anchor="middle" fill="#777" >0</text>
<text x="267.3" y="617.5" font-size="3.8" font-weight="normal" text-anchor="middle" fill="#777" >10<tspan font-size="2.6" dy="-1.5">2</tspan></text>
<text x="286.3" y="617.5" font-size="3.8" font-weight="normal" text-anchor="middle" fill="#777" >10<tspan font-size="2.6" dy="-1.5">3</tspan></text>
<text x="305.3" y="617.5" font-size="3.8" font-weight="normal" text-anchor="middle" fill="#777" >10<tspan font-size="2.6" dy="-1.5">4</tspan></text>
<text x="322.3" y="617.5" font-size="3.8" font-weight="normal" text-anchor="middle" fill="#777" >10<tspan font-size="2.6" dy="-1.5">5</tspan></text>
<text x="289.65" y="622.0" font-size="3.6" font-weight="normal" text-anchor="middle" fill="#888" >&lt;PE-A&gt;: IL2</text>
<line x1="260.3" y1="611.5" x2="260.3" y2="613.0" stroke="#999" stroke-width="0.6" />
<line x1="275.3" y1="611.5" x2="275.3" y2="613.0" stroke="#999" stroke-width="0.6" />
<line x1="290.3" y1="611.5" x2="290.3" y2="613.0" stroke="#999" stroke-width="0.6" />
<line x1="305.3" y1="611.5" x2="305.3" y2="613.0" stroke="#999" stroke-width="0.6" />
<line x1="320.3" y1="611.5" x2="320.3" y2="613.0" stroke="#999" stroke-width="0.6" />
<path d="M60.3 85.5V75.9M55.8 80.9L60.3 76.2L64.8 80.9" fill="none" stroke="#000" stroke-width="2.7" stroke-linejoin="miter" stroke-miterlimit="6"/>
<text transform="translate(64.3 110.9) rotate(-90)" font-size="11.6" font-weight="bold" text-anchor="start" fill="#000" stroke="#000" stroke-width="0.3">GFP</text>
<text x="78" y="133" font-size="11.7" font-weight="bold" text-anchor="start" fill="#000" stroke="#000" stroke-width="0.3" >Tetramer</text>
<path d="M129.2 128.6H138.79999999999998M133.79999999999998 124.1L138.49999999999997 128.6L133.79999999999998 133.1" fill="none" stroke="#000" stroke-width="2.7" stroke-linejoin="miter" stroke-miterlimit="6"/>
<path d="M59.3 175.79999999999998V166.2M54.8 171.2L59.3 166.5L63.8 171.2" fill="none" stroke="#000" stroke-width="2.7" stroke-linejoin="miter" stroke-miterlimit="6"/>
<text transform="translate(63.8 212.2) rotate(-90)" font-size="11.6" font-weight="bold" text-anchor="start" fill="#000" stroke="#000" stroke-width="0.3">Foxp3</text>
<text x="76.2" y="236.5" font-size="11.9" font-weight="bold" text-anchor="start" fill="#000" stroke="#000" stroke-width="0.3" >Helios</text>
<path d="M113.8 232.2H123.39999999999999M118.39999999999999 227.7L123.1 232.2L118.39999999999999 236.7" fill="none" stroke="#000" stroke-width="2.7" stroke-linejoin="miter" stroke-miterlimit="6"/>
<path d="M59.2 480.6V471.0M54.7 476.0L59.2 471.3L63.7 476.0" fill="none" stroke="#000" stroke-width="2.7" stroke-linejoin="miter" stroke-miterlimit="6"/>
<text transform="translate(63.4 504.8) rotate(-90)" font-size="11.6" font-weight="bold" text-anchor="start" fill="#000" stroke="#000" stroke-width="0.3">GFP</text>
<text x="72" y="528.1" font-size="10.8" font-weight="bold" text-anchor="start" fill="#000" stroke="#000" stroke-width="0.3" >IFN&#947;</text>
<path d="M96.9 524.2H106.5M101.5 519.7L106.2 524.2L101.5 528.7" fill="none" stroke="#000" stroke-width="2.7" stroke-linejoin="miter" stroke-miterlimit="6"/>
<path d="M58.4 579.8000000000001V570.2M53.9 575.2L58.4 570.5L62.9 575.2" fill="none" stroke="#000" stroke-width="2.7" stroke-linejoin="miter" stroke-miterlimit="6"/>
<text transform="translate(62.6 604.8) rotate(-90)" font-size="11.6" font-weight="bold" text-anchor="start" fill="#000" stroke="#000" stroke-width="0.3">GFP</text>
<text x="72.7" y="630.8" font-size="11.6" font-weight="bold" text-anchor="start" fill="#000" stroke="#000" stroke-width="0.3" >IL-2</text>
<path d="M95.3 626.8H104.89999999999999M99.89999999999999 622.3L104.6 626.8L99.89999999999999 631.3" fill="none" stroke="#000" stroke-width="2.7" stroke-linejoin="miter" stroke-miterlimit="6"/>
<line x1="92.5" y1="260.5" x2="161.5" y2="260.5" stroke="#dcdcdc" stroke-width="1" />
<line x1="92.5" y1="286.625" x2="161.5" y2="286.625" stroke="#dcdcdc" stroke-width="1" />
<line x1="92.5" y1="312.75" x2="161.5" y2="312.75" stroke="#dcdcdc" stroke-width="1" />
<line x1="92.5" y1="338.875" x2="161.5" y2="338.875" stroke="#dcdcdc" stroke-width="1" />
<line x1="92" y1="364.5" x2="162" y2="364.5" stroke="#888" stroke-width="1" />
<line x1="92.5" y1="364.5" x2="92.5" y2="366.0" stroke="#888" stroke-width="1" />
<line x1="161.5" y1="364.5" x2="161.5" y2="366.0" stroke="#888" stroke-width="1" />
<text x="83.3" y="264.1" font-size="10.1" font-weight="bold" text-anchor="end" fill="#000" stroke="#000" stroke-width="0.3" >100</text>
<text x="83.3" y="290.225" font-size="10.1" font-weight="bold" text-anchor="end" fill="#000" stroke="#000" stroke-width="0.3" >75</text>
<text x="83.3" y="316.35" font-size="10.1" font-weight="bold" text-anchor="end" fill="#000" stroke="#000" stroke-width="0.3" >50</text>
<text x="83.3" y="342.475" font-size="10.1" font-weight="bold" text-anchor="end" fill="#000" stroke="#000" stroke-width="0.3" >25</text>
<text x="83.3" y="368.6" font-size="10.1" font-weight="bold" text-anchor="end" fill="#000" stroke="#000" stroke-width="0.3" >0</text>
<polyline points="92.5,276.75 161.75,298.75" stroke="#000" stroke-width="1.4" fill="none"/>
<polyline points="92.5,278.75 161.75,311.25" stroke="#000" stroke-width="1.4" fill="none"/>
<polyline points="92.5,290.5 161.75,355" stroke="#000" stroke-width="1.4" fill="none"/>
<rect x="88.8" y="273.05" width="7.4" height="7.4" fill="#fff" stroke="#000" stroke-width="1.4"/>
<rect x="158.05" y="295.05" width="7.4" height="7.4" fill="#fff" stroke="#000" stroke-width="1.4"/>
<path d="M92.5 274.96904L96.7 282.27704L88.3 282.27704Z" fill="#fff" stroke="#000" stroke-width="1.4" stroke-linejoin="miter"/>
<path d="M161.75 306.96904L165.95 314.27704L157.55 314.27704Z" fill="#fff" stroke="#000" stroke-width="1.4" stroke-linejoin="miter"/>
<circle cx="92.5" cy="290.5" r="3.8" fill="#fff" stroke="#000" stroke-width="1.4"/>
<circle cx="161.75" cy="355" r="3.8" fill="#fff" stroke="#000" stroke-width="1.4"/>
<text transform="translate(61.7 308) rotate(-90)" font-size="12.2" font-weight="bold" text-anchor="middle" fill="#000" stroke="#000" stroke-width="0.3">Foxp3<tspan font-size="8" dy="-4">+</tspan><tspan dy="4">Helios</tspan><tspan font-size="8" dy="-4">+</tspan><tspan dy="4"> (%)</tspan></text>
<text x="72.5" y="387" font-size="12" font-weight="bold" text-anchor="start" fill="#000" stroke="#000" stroke-width="0.3" >1<tspan font-size="8" dy="-4">st</tspan><tspan dy="4"> Exp</tspan></text>
<text x="135" y="387" font-size="12" font-weight="bold" text-anchor="start" fill="#000" stroke="#000" stroke-width="0.3" >2<tspan font-size="8" dy="-4">nd</tspan><tspan dy="4"> Exp</tspan></text>
<line x1="232" y1="260.0" x2="300.5" y2="260.0" stroke="#dcdcdc" stroke-width="1" />
<line x1="232" y1="286.5" x2="300.5" y2="286.5" stroke="#dcdcdc" stroke-width="1" />
<line x1="232" y1="313.0" x2="300.5" y2="313.0" stroke="#dcdcdc" stroke-width="1" />
<line x1="232" y1="339.5" x2="300.5" y2="339.5" stroke="#dcdcdc" stroke-width="1" />
<line x1="231.5" y1="365.5" x2="301" y2="365.5" stroke="#888" stroke-width="1" />
<text x="223.6" y="263.4" font-size="9.6" font-weight="bold" text-anchor="end" fill="#000" stroke="#000" stroke-width="0.3" >30</text>
<text x="223.6" y="289.9" font-size="9.6" font-weight="bold" text-anchor="end" fill="#000" stroke="#000" stroke-width="0.3" >22.5</text>
<text x="223.6" y="316.4" font-size="9.6" font-weight="bold" text-anchor="end" fill="#000" stroke="#000" stroke-width="0.3" >15</text>
<text x="223.6" y="342.9" font-size="9.6" font-weight="bold" text-anchor="end" fill="#000" stroke="#000" stroke-width="0.3" >7.5</text>
<text x="223.6" y="369.4" font-size="9.6" font-weight="bold" text-anchor="end" fill="#000" stroke="#000" stroke-width="0.3" >0</text>
<polyline points="232,346 300.75,279" stroke="#000" stroke-width="1.4" fill="none"/>
<polyline points="232,351 300.75,279.5" stroke="#000" stroke-width="1.4" fill="none"/>
<polyline points="232,360 300.75,366" stroke="#000" stroke-width="1.4" fill="none"/>
<rect x="228.3" y="342.3" width="7.4" height="7.4" fill="#fff" stroke="#000" stroke-width="1.4"/>
<rect x="297.05" y="275.8" width="7.4" height="7.4" fill="#fff" stroke="#000" stroke-width="1.4"/>
<path d="M232 346.96904L236.2 354.27704L227.8 354.27704Z" fill="#fff" stroke="#000" stroke-width="1.4" stroke-linejoin="miter"/>
<path d="M300.75 273.96904L304.95 281.27704L296.55 281.27704Z" fill="#fff" stroke="#000" stroke-width="1.4" stroke-linejoin="miter"/>
<circle cx="232" cy="360" r="3.8" fill="#fff" stroke="#000" stroke-width="1.4"/>
<circle cx="300.75" cy="366" r="3.8" fill="#fff" stroke="#000" stroke-width="1.4"/>
<text transform="translate(201.6 309.5) rotate(-90)" font-size="12.2" font-weight="bold" text-anchor="middle" fill="#000" stroke="#000" stroke-width="0.3">Tetramer<tspan font-size="8" dy="-4">+</tspan><tspan dy="4">GFP</tspan><tspan font-size="8" dy="-4">+</tspan><tspan dy="4"> (%)</tspan></text>
<text x="211.25" y="385.5" font-size="12" font-weight="bold" text-anchor="start" fill="#000" stroke="#000" stroke-width="0.3" >1<tspan font-size="8" dy="-4">st</tspan><tspan dy="4"> Exp</tspan></text>
<text x="273.75" y="385.5" font-size="12" font-weight="bold" text-anchor="start" fill="#000" stroke="#000" stroke-width="0.3" >2<tspan font-size="8" dy="-4">nd</tspan><tspan dy="4"> Exp</tspan></text>
<circle cx="343.8" cy="290.4" r="5.8" fill="#fff" stroke="#000" stroke-width="1.5"/>
<path d="M344 306.7878L350.5 318.0978L337.5 318.0978Z" fill="#fff" stroke="#000" stroke-width="1.5" stroke-linejoin="miter"/>
<rect x="337.9" y="329.9" width="12.2" height="12.2" fill="#fff" stroke="#000" stroke-width="1.5"/>
<text x="359" y="297" font-size="14.4" font-weight="normal" text-anchor="start" fill="#000" stroke="#000" stroke-width="0.15" >anti-CD3e</text>
<text x="359" y="319.5" font-size="14.4" font-weight="normal" text-anchor="start" fill="#000" stroke="#000" stroke-width="0.15" >FVIII peptide</text>
<text x="359" y="342" font-size="14.4" font-weight="normal" text-anchor="start" fill="#000" stroke="#000" stroke-width="0.15" >FVIII peptide/ODN</text>
<rect x="379.5" y="447.525" width="15" height="60.47500000000002" fill="#474747" stroke="none" stroke-width="1" />
<rect x="404.5" y="477.7625" width="15" height="30.23750000000001" fill="#474747" stroke="none" stroke-width="1" />
<rect x="429.25" y="492.5125" width="15" height="15.487500000000011" fill="#474747" stroke="none" stroke-width="1" />
<rect x="374.25" y="434.25" width="75.25" height="73.75" fill="none" stroke="#666" stroke-width="1" />
<text x="368.3" y="437.15" font-size="8.2" font-weight="normal" text-anchor="end" fill="#111" stroke="#111" stroke-width="0.15" >100</text>
<text x="368.3" y="451.9" font-size="8.2" font-weight="normal" text-anchor="end" fill="#111" stroke="#111" stroke-width="0.15" >80</text>
<text x="368.3" y="466.65" font-size="8.2" font-weight="normal" text-anchor="end" fill="#111" stroke="#111" stroke-width="0.15" >60</text>
<text x="368.3" y="481.4" font-size="8.2" font-weight="normal" text-anchor="end" fill="#111" stroke="#111" stroke-width="0.15" >40</text>
<text x="368.3" y="496.15" font-size="8.2" font-weight="normal" text-anchor="end" fill="#111" stroke="#111" stroke-width="0.15" >20</text>
<text x="368.3" y="510.9" font-size="8.2" font-weight="normal" text-anchor="end" fill="#111" stroke="#111" stroke-width="0.15" >0</text>
<text x="387" y="521" font-size="8.6" font-weight="bold" text-anchor="middle" fill="#000" stroke="#000" stroke-width="0.3" >sCD3e</text>
<text x="411.7" y="521" font-size="8.6" font-weight="bold" text-anchor="middle" fill="#000" stroke="#000" stroke-width="0.3" >C2</text>
<text x="435.8" y="521" font-size="8.6" font-weight="bold" text-anchor="middle" fill="#000" stroke="#000" stroke-width="0.3" >C2/ODN</text>
<rect x="379.5" y="537.384375" width="15" height="70.61562500000002" fill="#474747" stroke="none" stroke-width="1" />
<rect x="404.5" y="605.603125" width="15" height="2.3968750000000227" fill="#474747" stroke="none" stroke-width="1" />
<rect x="429.25" y="605.971875" width="15" height="2.0281250000000455" fill="#474747" stroke="none" stroke-width="1" />
<rect x="374.25" y="534.25" width="75.25" height="73.75" fill="none" stroke="#666" stroke-width="1" />
<text x="368.3" y="537.15" font-size="8.2" font-weight="normal" text-anchor="end" fill="#111" stroke="#111" stroke-width="0.15" >40</text>
<text x="368.3" y="555.5875" font-size="8.2" font-weight="normal" text-anchor="end" fill="#111" stroke="#111" stroke-width="0.15" >30</text>
<text x="368.3" y="574.025" font-size="8.2" font-weight="normal" text-anchor="end" fill="#111" stroke="#111" stroke-width="0.15" >20</text>
<text x="368.3" y="592.4625" font-size="8.2" font-weight="normal" text-anchor="end" fill="#111" stroke="#111" stroke-width="0.15" >10</text>
<text x="368.3" y="610.9" font-size="8.2" font-weight="normal" text-anchor="end" fill="#111" stroke="#111" stroke-width="0.15" >0</text>
<text x="387" y="620.5" font-size="8.6" font-weight="bold" text-anchor="middle" fill="#000" stroke="#000" stroke-width="0.3" >sCD3e</text>
<text x="411.7" y="620.5" font-size="8.6" font-weight="bold" text-anchor="middle" fill="#000" stroke="#000" stroke-width="0.3" >C2</text>
<text x="435.8" y="620.5" font-size="8.6" font-weight="bold" text-anchor="middle" fill="#000" stroke="#000" stroke-width="0.3" >C2/ODN</text>
<rect x="352.6" y="447.5" width="10.4" height="49.5" fill="#fff" stroke="none" stroke-width="1" />
<rect x="352.6" y="543.5" width="10.4" height="41.8" fill="#fff" stroke="none" stroke-width="1" />
<text transform="translate(347.6 475.2) rotate(-90)" font-size="10.2" font-weight="bold" text-anchor="middle" fill="#000" stroke="#000" stroke-width="0.3">GFP+</text>
<text transform="translate(361.0 472.4) rotate(-90)" font-size="10.8" font-weight="bold" text-anchor="middle" fill="#000" stroke="#000" stroke-width="0.3">IFN&#947;<tspan font-size="7" dy="-4">+</tspan><tspan dy="4"> (%)</tspan></text>
<text transform="translate(347.6 566) rotate(-90)" font-size="10.2" font-weight="bold" text-anchor="middle" fill="#000" stroke="#000" stroke-width="0.3">GFP+</text>
<text transform="translate(361.0 564.4) rotate(-90)" font-size="10.8" font-weight="bold" text-anchor="middle" fill="#000" stroke="#000" stroke-width="0.3">IL-2<tspan font-size="7" dy="-4">+</tspan><tspan dy="4"> (%)</tspan></text>
<text x="40" y="662" font-size="12.0" font-weight="bold" text-anchor="start" fill="#000" stroke="#000" stroke-width="0.3" >CpGs in TSDR:</text>
<text x="142.35" y="662" font-size="12.4" font-weight="bold" text-anchor="middle" fill="#000" stroke="#000" stroke-width="0.3" >#1</text>
<text x="168.6" y="662" font-size="12.4" font-weight="bold" text-anchor="middle" fill="#000" stroke="#000" stroke-width="0.3" >#2</text>
<text x="195.0" y="662" font-size="12.4" font-weight="bold" text-anchor="middle" fill="#000" stroke="#000" stroke-width="0.3" >#4</text>
<text x="221.6" y="662" font-size="12.4" font-weight="bold" text-anchor="middle" fill="#000" stroke="#000" stroke-width="0.3" >#5</text>
<text x="248.1" y="662" font-size="12.4" font-weight="bold" text-anchor="middle" fill="#000" stroke="#000" stroke-width="0.3" >#6</text>
<text x="274.85" y="662" font-size="12.4" font-weight="bold" text-anchor="middle" fill="#000" stroke="#000" stroke-width="0.3" >#7</text>
<text x="301.6" y="662" font-size="12.4" font-weight="bold" text-anchor="middle" fill="#000" stroke="#000" stroke-width="0.3" >#8</text>
<text x="328.1" y="662" font-size="12.4" font-weight="bold" text-anchor="middle" fill="#000" stroke="#000" stroke-width="0.3" >#9</text>
<text x="354.85" y="662" font-size="12.4" font-weight="bold" text-anchor="middle" fill="#000" stroke="#000" stroke-width="0.3" >#10</text>
<text x="126.3" y="684.5" font-size="12.3" font-weight="bold" text-anchor="end" fill="#000" stroke="#000" stroke-width="0.3" >FVIII peptide/ODN</text>
<text x="126.3" y="699.5" font-size="12.2" font-weight="bold" text-anchor="end" fill="#000" stroke="#000" stroke-width="0.3" >anti-CD3e</text>
<rect x="131.25" y="667.2" width="25.3" height="17.8" fill="#b1b1b1" stroke="none" stroke-width="1" />
<rect x="131.25" y="686.6" width="25.3" height="17.4" fill="#121212" stroke="none" stroke-width="1" />
<rect x="157.5" y="667.2" width="25.3" height="17.8" fill="#b9b9b9" stroke="none" stroke-width="1" />
<rect x="157.5" y="686.6" width="25.3" height="17.4" fill="#3f3f3f" stroke="none" stroke-width="1" />
<rect x="183.9" y="667.2" width="25.3" height="17.8" fill="#d6d6d6" stroke="none" stroke-width="1" />
<rect x="183.9" y="686.6" width="25.3" height="17.4" fill="#393939" stroke="none" stroke-width="1" />
<rect x="210.5" y="667.2" width="25.3" height="17.8" fill="#777777" stroke="none" stroke-width="1" />
<rect x="210.5" y="686.6" width="25.3" height="17.4" fill="#232323" stroke="none" stroke-width="1" />
<rect x="237.0" y="667.2" width="25.3" height="17.8" fill="#efefef" stroke="none" stroke-width="1" />
<rect x="237.0" y="686.6" width="25.3" height="17.4" fill="#7d7d7d" stroke="none" stroke-width="1" />
<rect x="263.75" y="667.2" width="25.3" height="17.8" fill="#a0a0a0" stroke="none" stroke-width="1" />
<rect x="263.75" y="686.6" width="25.3" height="17.4" fill="#262626" stroke="none" stroke-width="1" />
<rect x="290.5" y="667.2" width="25.3" height="17.8" fill="#7e7e7e" stroke="none" stroke-width="1" />
<rect x="290.5" y="686.6" width="25.3" height="17.4" fill="#232323" stroke="none" stroke-width="1" />
<rect x="317.0" y="667.2" width="25.3" height="17.8" fill="#bebebe" stroke="none" stroke-width="1" />
<rect x="317.0" y="686.6" width="25.3" height="17.4" fill="#3c3c3c" stroke="none" stroke-width="1" />
<rect x="343.75" y="667.2" width="25.3" height="17.8" fill="#d4d4d4" stroke="none" stroke-width="1" />
<rect x="343.75" y="686.6" width="25.3" height="17.4" fill="#505050" stroke="none" stroke-width="1" />
<text x="81.8" y="723" font-size="6.9" font-weight="normal" text-anchor="end" fill="#222" >Methylation (%)</text>
<text x="82" y="734.5" font-size="6.9" font-weight="normal" text-anchor="end" fill="#222" >Degree</text>
<text x="107.5" y="723" font-size="7.2" font-weight="normal" text-anchor="middle" fill="#222" stroke="#222" stroke-width="0.15" >0</text>
<text x="132.5" y="723" font-size="7.2" font-weight="normal" text-anchor="middle" fill="#222" stroke="#222" stroke-width="0.15" >10</text>
<text x="157" y="723" font-size="7.2" font-weight="normal" text-anchor="middle" fill="#222" stroke="#222" stroke-width="0.15" >20</text>
<text x="181.25" y="723" font-size="7.2" font-weight="normal" text-anchor="middle" fill="#222" stroke="#222" stroke-width="0.15" >30</text>
<text x="205.5" y="723" font-size="7.2" font-weight="normal" text-anchor="middle" fill="#222" stroke="#222" stroke-width="0.15" >40</text>
<text x="229.25" y="723" font-size="7.2" font-weight="normal" text-anchor="middle" fill="#222" stroke="#222" stroke-width="0.15" >50</text>
<text x="253" y="723" font-size="7.2" font-weight="normal" text-anchor="middle" fill="#222" stroke="#222" stroke-width="0.15" >60</text>
<text x="277.5" y="723" font-size="7.2" font-weight="normal" text-anchor="middle" fill="#222" stroke="#222" stroke-width="0.15" >70</text>
<text x="301.75" y="723" font-size="7.2" font-weight="normal" text-anchor="middle" fill="#222" stroke="#222" stroke-width="0.15" >80</text>
<text x="325.75" y="723" font-size="7.2" font-weight="normal" text-anchor="middle" fill="#222" stroke="#222" stroke-width="0.15" >90</text>
<text x="351.25" y="723" font-size="7.2" font-weight="normal" text-anchor="middle" fill="#222" stroke="#222" stroke-width="0.15" >100</text>
<rect x="122" y="727.6" width="22" height="9.6" fill="#ececec" stroke="none" stroke-width="1" />
<rect x="145.75" y="727.6" width="22" height="9.6" fill="#c8c8c8" stroke="none" stroke-width="1" />
<rect x="170" y="727.6" width="22" height="9.6" fill="#939393" stroke="none" stroke-width="1" />
<rect x="194.25" y="727.6" width="22" height="9.6" fill="#6e6e6e" stroke="none" stroke-width="1" />
<rect x="218.25" y="727.6" width="22" height="9.6" fill="#444444" stroke="none" stroke-width="1" />
<rect x="242.5" y="727.6" width="22" height="9.6" fill="#333333" stroke="none" stroke-width="1" />
<rect x="267" y="727.6" width="22" height="9.6" fill="#222222" stroke="none" stroke-width="1" />
<rect x="291.25" y="727.6" width="22" height="9.6" fill="#161616" stroke="none" stroke-width="1" />
<rect x="315.5" y="727.6" width="22" height="9.6" fill="#0c0c0c" stroke="none" stroke-width="1" />
<rect x="339.5" y="727.6" width="22" height="9.6" fill="#060606" stroke="none" stroke-width="1" />
<rect x="376.5" y="666.9" width="37.25" height="14.700000000000045" fill="#000" stroke="none" stroke-width="1" />
<rect x="376.5" y="689" width="81.5" height="14.799999999999955" fill="#000" stroke="none" stroke-width="1" />
<line x1="413.75" y1="674.3" x2="421.0" y2="674.3" stroke="#333" stroke-width="0.8" />
<line x1="421.0" y1="672.8" x2="421.0" y2="675.8" stroke="#333" stroke-width="0.8" />
<line x1="458" y1="696.3" x2="473.6" y2="696.3" stroke="#333" stroke-width="0.8" />
<line x1="473.6" y1="694.3" x2="473.6" y2="698.3" stroke="#333" stroke-width="0.8" />
<line x1="376.5" y1="707.3" x2="495" y2="707.3" stroke="#000" stroke-width="1.2" />
<line x1="376.5" y1="707.3" x2="376.5" y2="710" stroke="#000" stroke-width="1.2" />
<line x1="436.25" y1="707.3" x2="436.25" y2="710" stroke="#000" stroke-width="1.2" />
<line x1="495" y1="707.3" x2="495" y2="710" stroke="#000" stroke-width="1.2" />
<text x="377.2" y="720.8" font-size="12" font-weight="bold" text-anchor="middle" fill="#000" stroke="#000" stroke-width="0.3" >0</text>
<text x="436.3" y="720.8" font-size="12" font-weight="bold" text-anchor="middle" fill="#000" stroke="#000" stroke-width="0.3" >50</text>
<text x="496.2" y="720.8" font-size="12" font-weight="bold" text-anchor="middle" fill="#000" stroke="#000" stroke-width="0.3" >100</text>
<text x="372.5" y="733" font-size="12.6" font-weight="bold" text-anchor="start" fill="#000" stroke="#000" stroke-width="0.3" >Average methylation (%)</text>
</svg></body></html>
